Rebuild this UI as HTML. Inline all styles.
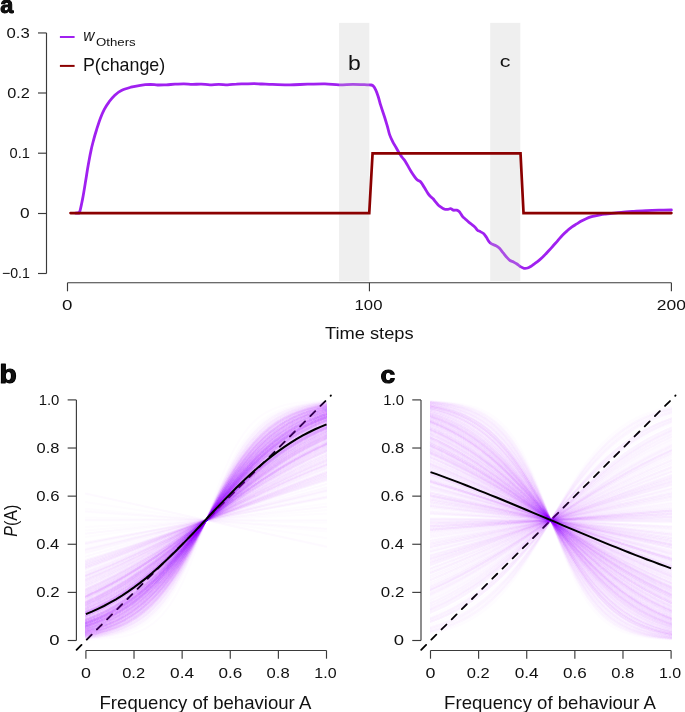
<!DOCTYPE html>
<html><head><meta charset="utf-8"><style>
html,body{margin:0;padding:0;background:#fff;overflow:hidden;}
svg{display:block;font-family:"Liberation Sans", sans-serif;}
text{fill:#111;}
</style></head><body>
<svg width="685" height="712" viewBox="0 0 685 712">
<path d="M75.5 213.1C75.9 213.1 77.3 213.1 78.0 212.9C78.7 212.7 79.0 214.1 79.7 211.8C80.5 209.6 81.5 204.3 82.5 199.4C83.5 194.5 84.5 188.1 85.4 182.4C86.4 176.7 87.2 170.7 88.2 165.3C89.2 159.9 90.1 154.5 91.1 150.1C92.0 145.7 93.0 142.3 93.9 138.8C94.8 135.3 95.6 132.8 96.7 129.3C97.8 125.8 99.2 121.2 100.5 117.9C101.8 114.6 102.9 112.1 104.3 109.4C105.7 106.7 107.3 104.2 109.1 101.8C110.8 99.4 112.8 97.1 114.8 95.2C116.8 93.3 118.7 91.7 121.4 90.4C124.1 89.1 127.7 88.1 130.9 87.2C134.1 86.3 137.1 85.8 140.4 85.3C143.7 84.8 147.7 84.5 150.5 84.4C153.3 84.4 154.9 84.9 157.5 85.0C160.1 85.1 163.4 84.9 166.3 84.8C169.2 84.7 172.1 84.3 175.0 84.2C177.9 84.1 180.9 83.9 183.8 83.9C186.7 83.9 189.7 84.4 192.6 84.4C195.5 84.4 198.4 84.0 201.3 84.1C204.2 84.2 207.1 84.8 210.0 84.8C212.9 84.8 215.9 84.4 218.8 84.4C221.7 84.4 224.7 84.8 227.6 84.8C230.5 84.8 233.5 84.2 236.4 84.1C239.3 83.9 242.2 84.0 245.1 83.9C248.0 83.8 251.1 83.6 253.9 83.6C256.7 83.6 258.9 83.9 262.0 84.0C265.1 84.1 267.8 84.3 272.5 84.4C277.2 84.5 284.1 84.8 290.0 84.8C295.9 84.8 301.8 84.3 307.6 84.2C313.4 84.1 319.8 83.8 325.0 83.9C330.2 84.0 334.3 84.7 339.0 84.8C343.7 84.9 348.3 84.4 353.0 84.4C357.7 84.4 364.0 84.7 367.0 84.8C370.0 84.9 370.1 84.8 371.2 85.0C372.3 85.2 372.7 85.4 373.5 86.2C374.3 87.0 375.0 88.4 375.8 90.1C376.6 91.8 377.3 93.8 378.1 96.2C378.9 98.6 379.7 102.1 380.5 104.7C381.3 107.3 382.0 109.4 382.8 111.7C383.6 114.0 384.3 116.2 385.1 118.7C385.9 121.2 386.6 123.7 387.4 126.4C388.2 129.1 388.8 132.3 389.7 134.9C390.6 137.5 391.8 139.8 392.8 141.9C393.8 144.0 394.9 145.5 395.9 147.3C396.9 149.1 398.0 151.0 399.0 152.7C400.0 154.4 401.1 155.9 402.1 157.3C403.1 158.7 404.2 159.6 405.2 161.2C406.2 162.8 407.3 164.8 408.3 166.6C409.3 168.4 410.4 170.3 411.4 172.0C412.4 173.7 413.5 175.2 414.5 176.6C415.5 178.0 416.6 179.4 417.6 180.2C418.6 181.0 419.6 180.9 420.4 181.6C421.2 182.3 421.8 183.4 422.6 184.6C423.4 185.8 424.4 187.5 425.3 189.0C426.2 190.5 427.0 192.2 427.9 193.4C428.8 194.7 429.6 195.6 430.5 196.5C431.4 197.4 432.2 197.9 433.1 198.8C434.0 199.8 434.9 201.1 435.8 202.2C436.7 203.3 437.5 204.4 438.4 205.2C439.3 206.0 440.0 206.5 441.0 207.2C442.0 207.9 443.3 208.8 444.5 209.2C445.7 209.5 447.0 209.4 448.0 209.3C449.0 209.2 449.8 208.5 450.7 208.7C451.6 208.8 452.3 209.9 453.3 210.2C454.3 210.4 455.8 209.9 456.8 210.2C457.8 210.5 458.7 211.1 459.4 211.8C460.1 212.5 460.6 213.6 461.2 214.4C461.8 215.2 462.2 216.1 462.9 216.9C463.6 217.7 464.5 218.3 465.5 219.2C466.5 220.1 467.8 221.3 469.0 222.3C470.2 223.3 471.6 224.2 472.6 225.1C473.6 225.9 474.4 226.5 475.2 227.4C476.0 228.3 476.8 229.6 477.6 230.3C478.5 231.0 479.3 231.0 480.3 231.6C481.3 232.2 482.8 232.9 483.8 233.8C484.8 234.8 485.5 236.0 486.4 237.3C487.3 238.6 488.1 240.6 489.0 241.7C489.9 242.8 490.4 243.2 491.6 243.9C492.8 244.6 494.7 245.0 496.0 245.7C497.3 246.4 498.3 247.1 499.5 248.3C500.7 249.5 501.8 251.2 503.0 252.7C504.2 254.1 505.3 255.7 506.5 257.0C507.7 258.3 508.8 259.7 510.0 260.5C511.2 261.3 512.3 261.3 513.5 261.9C514.7 262.5 515.8 263.2 517.0 264.0C518.2 264.8 519.3 266.0 520.5 266.7C521.7 267.4 522.8 268.1 524.0 268.3C525.2 268.5 526.4 268.4 527.6 268.0C528.8 267.6 529.9 266.9 531.1 266.2C532.3 265.5 533.3 264.6 534.7 263.6C536.1 262.6 537.8 261.4 539.3 260.1C540.8 258.8 542.4 257.4 544.0 255.8C545.6 254.2 547.1 252.5 548.7 250.8C550.3 249.1 551.9 247.2 553.4 245.5C554.9 243.8 556.5 242.1 558.0 240.3C559.5 238.6 561.1 236.6 562.7 235.0C564.3 233.4 565.9 231.9 567.4 230.6C568.9 229.2 570.5 228.0 572.0 226.9C573.5 225.8 575.1 224.9 576.7 223.9C578.3 222.9 579.8 221.9 581.4 221.0C583.0 220.1 584.5 219.4 586.1 218.7C587.7 218.0 589.2 217.4 590.7 216.9C592.2 216.4 593.8 216.1 595.4 215.8C597.0 215.5 598.5 215.2 600.1 214.9C601.7 214.6 603.1 214.4 604.7 214.2C606.4 214.0 607.2 213.9 610.0 213.6C612.8 213.3 617.3 212.7 621.3 212.3C625.3 211.9 629.8 211.6 634.0 211.3C638.2 211.0 642.5 210.8 646.7 210.6C650.9 210.4 654.9 210.3 659.0 210.2C663.1 210.1 669.3 210.0 671.4 210.0" stroke="#A020F0" stroke-width="2.8" fill="none" stroke-linejoin="round" stroke-linecap="round"/>
<rect x="339.1" y="22.9" width="30.2" height="258.3" fill="#c4c4c4" fill-opacity="0.28"/>
<rect x="490.2" y="22.9" width="30.1" height="258.3" fill="#c4c4c4" fill-opacity="0.28"/>
<path d="M70.52 213.1 L369.25 213.1 L372.57 153.4 L520.52 153.4 L523.54 213.1 L671.4 213.1" stroke="#8B0000" stroke-width="2.7" fill="none" stroke-linejoin="miter" stroke-linecap="round"/>
<path d="M46.5 32.95V273.5" stroke="#3a3a3a" stroke-width="1.15" fill="none"/>
<path d="M38 32.95H46.5" stroke="#3a3a3a" stroke-width="1.15"/>
<path d="M38 93.0H46.5" stroke="#3a3a3a" stroke-width="1.15"/>
<path d="M38 153.2H46.5" stroke="#3a3a3a" stroke-width="1.15"/>
<path d="M38 213.5H46.5" stroke="#3a3a3a" stroke-width="1.15"/>
<path d="M38 273.5H46.5" stroke="#3a3a3a" stroke-width="1.15"/>
<path d="M67.5 282.75H671.4" stroke="#3a3a3a" stroke-width="1.15" fill="none"/>
<path d="M67.5 282.75V291.3" stroke="#3a3a3a" stroke-width="1.15"/>
<path d="M369.45 282.75V291.3" stroke="#3a3a3a" stroke-width="1.15"/>
<path d="M671.4 282.75V291.3" stroke="#3a3a3a" stroke-width="1.15"/>
<path d="M59.9 37H74.6" stroke="#A020F0" stroke-width="2"/>
<path d="M59.9 65.9H74.6" stroke="#8B0000" stroke-width="2"/>
<path d="M76.4 399.9V640.5" stroke="#3a3a3a" stroke-width="1.15" fill="none"/>
<path d="M67.65 640.5H76.4" stroke="#3a3a3a" stroke-width="1.15"/>
<path d="M67.65 592.38H76.4" stroke="#3a3a3a" stroke-width="1.15"/>
<path d="M67.65 544.26H76.4" stroke="#3a3a3a" stroke-width="1.15"/>
<path d="M67.65 496.14H76.4" stroke="#3a3a3a" stroke-width="1.15"/>
<path d="M67.65 448.02H76.4" stroke="#3a3a3a" stroke-width="1.15"/>
<path d="M67.65 399.9H76.4" stroke="#3a3a3a" stroke-width="1.15"/>
<path d="M85.9 650.5H326.5" stroke="#3a3a3a" stroke-width="1.15" fill="none"/>
<path d="M85.9 650.5V658.7" stroke="#3a3a3a" stroke-width="1.15"/>
<path d="M134.02 650.5V658.7" stroke="#3a3a3a" stroke-width="1.15"/>
<path d="M182.14 650.5V658.7" stroke="#3a3a3a" stroke-width="1.15"/>
<path d="M230.26 650.5V658.7" stroke="#3a3a3a" stroke-width="1.15"/>
<path d="M278.38 650.5V658.7" stroke="#3a3a3a" stroke-width="1.15"/>
<path d="M326.5 650.5V658.7" stroke="#3a3a3a" stroke-width="1.15"/>
<path d="M76.59 649.81L330.9 395.5" stroke="#000" stroke-width="1.8" stroke-dasharray="6.96 7.41" stroke-linecap="round" fill="none"/>
<clipPath id="clip1"><rect x="85" y="300" width="242.4" height="400"/></clipPath>
<g clip-path="url(#clip1)" fill="none">
<g stroke="#A020F0" stroke-opacity="0.017" stroke-width="2.0">
<path d="M85 617.6l7.7-3.2 7.3-3.3 7.3-3.6 7.2-4.1 7.3-4.4 6.9-4.6 6.9-5 6.9-5.3 7.3-6 7.6-6.9 7.7-7.2 7.7-7.7 15.8-16.6 31.2-34.6 13.3-14.3 14.6-14.8 13.3-12.3 8.1-6.8 8.1-6.2 8.1-5.8 8.1-5.2 8.1-4.8 8.5-4.4 8.5-4 8.9-3.7"/>
<path d="M85 634l9.7-2.1 9.3-2.6 8.5-3 8.1-3.5 7.7-4.1 7.3-4.7 6.9-5.2 6.8-6 6.9-7 6.9-7.8 6.9-8.9 6.9-9.7 6.8-10.6 7.3-12 27.1-47.6 11.8-19.5 6.4-9.9 6.5-9.1 6.1-7.8 6.1-7 7.6-7.9 8.1-7.1 8.1-5.9 8.5-5.1 8.9-4.3 9.7-3.8 10.2-2.9 11.3-2.5"/>
<path d="M85 633.1l11.3-2.7 10.2-3.2 9.3-3.7 8.9-4.5 8.5-5.2 8.1-6 8-7.1 7.7-7.8 6.1-7 6.5-8.1 6.5-8.9 6.4-9.6 11.8-18.9 27.5-46.4 7.3-11.6 6.8-10.3 7.3-10 6.9-8.6 6.9-7.7 6.9-6.9 6.8-5.9 6.9-5.2 7.3-4.8 7.7-4.2 7.7-3.4 8.5-3.2 8.9-2.6 9.7-2.3"/>
<path d="M85 604.2l14.2-6.7 13.7-7.3 13.8-8.3 13.7-9.1 15-10.9 15.8-12.3 16.6-13.7 46.5-39.5 15-12 13.8-10.5 8.4-6 8.1-5.5 8.1-5.2 7.7-4.6 7.7-4.4 8.1-4.3 8.1-4 8.1-3.7"/>
<path d="M85 610l7.3-3.2 6.9-3.3 7.3-3.8 6.8-3.8 13.8-8.5 14.2-10 14.5-11.4 15.8-13.5 16.6-15.2 32-30.4 13.7-12.8 14.6-13 13.7-11.3 8.1-6.2 8.1-5.9 8.1-5.5 8.1-5 8.1-4.7 8.1-4.4 8.1-3.9 8.5-3.8"/>
<path d="M85 603.7l8.1-3.7 8.1-4 8.1-4.3 7.7-4.4 7.7-4.6 8.1-5.2 16.5-11.4 13.8-10.4 15-11.9 46.5-39.2 16.6-13.5 15.8-12.3 15-10.8 14.1-9.3 13.8-8.2 13.7-7.3 13.8-6.5"/>
<path d="M85 626.6l9.7-3.3 9.3-3.7 8.9-4.3 8.5-4.7 8.5-5.5 8.1-6 8.1-6.8 7.7-7.2 6.5-6.6 6.4-7.1 6.9-8.1 6.9-8.5 13-17.1 29.5-40.5 7.7-10 7.3-9.1 7.7-9.1 7.2-7.9 7.3-7.4 6.9-6.3 6.9-5.7 6.9-5.2 7.2-4.9 7.3-4.4 7.7-4 7.7-3.4 8.1-3.2 8.5-2.8"/>
<path d="M85 615.7l8.5-3.6 8.5-4 8.5-4.5 8.1-4.8 8.1-5.2 8.1-5.7 8.1-6.1 8.1-6.7 13.3-11.9 14.6-14.2 13.3-13.9 31.6-33.6 16.2-16.5 8.1-7.8 7.7-7 7.3-6.3 7.2-5.9 6.9-5.2 6.9-4.9 6.9-4.6 7.3-4.4 6.8-3.8 7.3-3.8 7.3-3.4 7.7-3.2"/>
<path d="M85 628.7l8.9-2.6 8.1-3 8.1-3.5 7.7-3.8 7.3-4.3 7.3-4.9 6.8-5.2 6.9-5.8 6.9-6.5 7.3-7.6 7.3-8.3 7.2-8.9 7.3-9.6 7.7-10.7 29.1-42.4 12.6-17.5 6.9-9 6.4-7.9 6.5-7.4 6.5-6.9 7.7-7.4 8.1-6.8 8.1-6.1 8.5-5.4 8.9-4.9 8.9-4 9.3-3.5 10.1-3.1"/>
<path d="M85 546.7l51.4-11.1 130.3-28.8 60.7-13.1"/>
<path d="M85 635.2l10.5-2 9.3-2.4 8.5-2.8 8.1-3.3 7.7-4 7.3-4.5 6.9-5.1 6.9-6.1 6.8-7 6.9-8.1 6.9-9.1 6.9-10.2 6.4-10.4 7.3-12.7 26.3-48.8 11.4-19.8 6.4-10.4 6.1-8.9 6.1-8.1 6-7.3 7.7-8 7.7-6.9 8.1-5.9 4.5-2.8 4.4-2.5 4.5-2.2 4.8-2.1 9.7-3.5 10.6-2.8 11.7-2.3"/>
<path d="M85 614.8l7.7-3.3 7.3-3.4 7.3-3.7 6.8-3.9 7.3-4.4 6.9-4.5 6.9-4.9 6.9-5.2 7.2-5.9 7.3-6.2 7.7-6.9 8.1-7.7 15.8-15.8 32-33.4 13.3-13.7 14.6-14 13.3-11.8 8.1-6.6 8.1-6.1 8.1-5.7 8.1-5.2 8.1-4.7 8.5-4.5 8.5-4.1 8.5-3.6"/>
<path d="M85 628l8.9-2.8 8.1-3 7.7-3.4 7.7-3.9 7.3-4.3 7.2-4.9 6.9-5.2 6.9-5.8 6.9-6.4 7.3-7.5 7.3-8.1 7.6-9.3 7.3-9.5 7.7-10.4 29.1-41.5 12.6-17.1 6.9-8.9 6.4-7.8 6.5-7.3 6.5-6.8 7.7-7.3 8.1-6.9 8.1-6.1 8.5-5.5 8.9-4.9 8.9-4.2 9.3-3.6 10.1-3.2"/>
<path d="M85 613.9l7.7-3.3 7.3-3.4 7.3-3.8 6.8-3.9 7.3-4.4 6.9-4.5 6.9-4.9 6.9-5.1 7.2-5.8 7.3-6.2 7.7-6.8 8.1-7.6 15.8-15.5 32-32.9 13.3-13.4 14.6-13.8 13.3-11.6 8.1-6.6 8.1-6 8.1-5.7 8.1-5.2 8.1-4.7 8.5-4.6 8.5-4.1 8.5-3.6"/>
<path d="M85 607.9l14.2-6.6 13.7-7.4 13.8-8.4 14.2-9.7 14.9-11.4 15.8-13.1 16.2-14.3 32.8-30 13.7-12.3 14.6-12.4 13.7-11 8.1-6.1 8.1-5.7 8.1-5.4 8.1-5 8.1-4.7 8.1-4.3 8.1-4 8.1-3.6"/>
<path d="M85 625.1l8.1-2.8 8.1-3.2 7.7-3.6 7.7-4.1 7.3-4.4 7.2-4.9 6.9-5.2 6.9-5.7 6.9-6.2 7.3-7.2 7.2-7.7 7.7-8.8 7.3-8.8 8.1-10.2 30-39.5 12.5-15.9 7.3-8.8 6.9-7.8 6.4-6.9 6.5-6.5 8.1-7.4 8.1-6.7 8.1-5.9 8.1-5.3 8.5-4.8 8.9-4.4 8.9-3.7 9.7-3.4"/>
<path d="M85 629.6l10.1-3 9.7-3.6 9.3-4.1 8.5-4.6 8.5-5.5 8.1-6 8.1-6.9 7.7-7.5 6.5-6.9 6.5-7.6 6.4-8.1 6.9-9.1 12.6-18 28.7-42.9 7.7-10.9 6.9-9.3 7.2-9.1 7.3-8.5 6.9-7.3 7.3-6.9 6.9-5.9 6.8-5.2 7.3-4.9 7.3-4.2 7.7-3.8 8.1-3.4 8.5-3 8.9-2.6"/>
<path d="M85 612.4l8.5-3.7 8.5-4.2 8.1-4.3 8.1-4.7 8.1-5.2 8.1-5.6 8.1-5.9 8.1-6.4 13.3-11.4 14.6-13.5 13.7-13.3 32-31.9 16.2-15.5 15.8-14 7.3-6.1 7.2-5.7 7.3-5.3 6.9-4.8 6.9-4.5 6.9-4.1 6.8-3.9 7.3-3.8 7.3-3.4 7.3-3.2"/>
<path d="M85 613.5l7.3-3.1 7.3-3.4 7.3-3.8 6.8-3.8 7.3-4.4 6.9-4.5 6.9-4.8 6.9-5.2 7.2-5.8 7.3-6.1 7.7-6.8 8.1-7.4 16.2-15.8 32-32.7 13.3-13.3 14.6-13.7 13.7-11.9 8.1-6.5 8.1-6 8.1-5.7 8.1-5.1 8.1-4.8 8.1-4.3 8.5-4.1 8.5-3.6"/>
<path d="M85 628l10.1-3.2 9.3-3.6 8.9-4.1 8.9-4.9 8.5-5.5 8.1-6.1 8.1-6.9 7.7-7.3 6.5-6.8 6.5-7.3 6.4-7.9 6.9-8.8 12.6-17.2 29.1-41.5 7.7-10.5 7.3-9.4 7.6-9.4 7.3-8.1 7.3-7.5 6.9-6.4 6.9-5.8 6.9-5.2 7.2-4.9 7.3-4.3 7.7-3.9 7.7-3.3 8.1-3.1 8.9-2.7"/>
<path d="M85 592.3l13.4-6.2 13.3-6.7 13.4-7.2 13.7-7.9 15-9.2 16.2-10.4 17-11.4 48.1-32.8 15.4-10.1 13.8-8.7 16.6-9.9 15.7-8.7 15.4-7.8 15.4-7.2"/>
<path d="M85 564.2l25.1-8.5 27.1-9.6 31.6-11.7 67.5-25.6 30-11.2 32-11.5 29.1-9.9"/>
<path d="M85 624.1l8.1-2.9 8.1-3.3 7.7-3.7 7.3-3.9 7.3-4.4 6.8-4.6 7.3-5.4 6.9-5.7 7.3-6.5 7.3-7.1 7.2-7.7 7.7-8.6 7.3-8.6 8.1-9.9 30-38.5 12.9-16.1 7.3-8.5 6.9-7.7 6.4-6.8 6.5-6.3 8.1-7.4 8.1-6.6 8.1-5.9 8.1-5.3 8.5-4.9 8.5-4.2 8.9-3.8 9.7-3.5"/>
<path d="M85 599.2l13.8-6.5 13.3-6.9 13.8-8 13.7-8.6 15-10.1 16.2-11.7 16.6-12.6 47.3-36.6 15.4-11.4 13.8-9.7 16.1-10.6 15.8-9.4 15.8-8.4 15.8-7.5"/>
<path d="M85 542.7l242.4-45"/>
<path d="M85 594.3l13.4-6.2 13.3-6.8 13.8-7.5 13.7-8.2 15-9.4 16.2-10.8 17-11.8 47.7-33.8 15.4-10.5 13.8-9 16.2-9.9 15.7-8.9 15.8-8.2 15.4-7.2"/>
<path d="M85 605.4l8.1-3.6 8.1-4 8.1-4.3 7.7-4.4 8.1-5 8.1-5.2 8.1-5.6 8-5.9 13.8-10.6 15-12.3 13.7-11.7 32.8-28.7 16.6-14 15.8-12.5 15-11.1 13.7-9.2 13.8-8.3 13.7-7.4 14.2-6.6"/>
<path d="M85 579.2l13-5.3 12.9-5.7 27.1-12.7 31.6-15.9 66.3-35.2 29.6-15.1 16.2-7.9 15.7-7.4 15-6.6 15-6.2"/>
<path d="M85 565.3l25.1-8.7 27.1-9.9 31.6-11.9 67.5-26.4 30-11.4 32-11.8 29.1-10.1"/>
<path d="M85 617.6l7.7-3.1 7.3-3.3 7.3-3.7 7.2-4 7.3-4.5 6.9-4.6 6.9-4.9 7.3-5.7 7.3-6 7.2-6.5 7.7-7.3 7.7-7.6 15.8-16.7 31.2-34.6 13.3-14.4 14.6-14.7 13.3-12.3 8.1-6.8 8.1-6.3 8.1-5.8 8.1-5.2 8.1-4.7 8.5-4.5 8.5-4 8.9-3.6"/>
<path d="M85 630.3l10.5-3 9.7-3.4 9.3-4.2 8.5-4.5 8.5-5.4 8.1-6 8.1-7 7.7-7.5 6.5-7.1 6.5-7.6 6.4-8.3 6.9-9.4 12.2-17.7 28.3-43.4 7.7-11.2 6.9-9.4 7.2-9.4 7.3-8.5 6.9-7.4 7.3-7 6.9-5.9 7.2-5.5 7.3-4.8 7.3-4.2 7.7-3.7 8.1-3.3 8.5-2.9 8.9-2.5"/>
<path d="M85 611.6l8.5-3.7 8.5-4.1 8.1-4.4 8.1-4.7 8.1-5.1 8.1-5.6 8.1-6 8.1-6.3 13.3-11.3 14.6-13.2 13.7-13.3 32-31.4 16.2-15.3 15.8-13.8 14.5-11.7 7.3-5.3 6.9-4.7 6.9-4.5 6.9-4.1 6.8-3.9 7.3-3.8 7.3-3.5 7.3-3.1"/>
<path d="M85 596.8l13.4-6.3 13.3-6.9 13.8-7.7 13.7-8.4 15-9.8 16.2-11.2 17-12.3 47.7-35.4 15-10.6 13.8-9.3 16.6-10.5 15.7-9.2 15.8-8.3 15.4-7.3"/>
<path d="M85 623.9l8.1-2.9 8.1-3.3 7.7-3.7 7.3-3.9 7.3-4.4 6.8-4.6 7.3-5.4 6.9-5.7 7.3-6.5 7.3-7.1 7.2-7.6 7.7-8.6 7.3-8.6 8.1-9.9 30-38.4 12.9-16 7.3-8.5 6.9-7.6 6.4-6.8 6.5-6.3 8.1-7.4 8.1-6.6 8.1-5.9 8.1-5.3 8.5-4.9 8.5-4.2 9.3-4 9.3-3.3"/>
<path d="M85 628.4l10.1-3.1 9.3-3.6 8.9-4.1 8.9-4.9 8.5-5.5 8.1-6 8.1-6.9 7.7-7.3 6.5-6.9 6.5-7.3 6.4-7.9 6.9-8.9 12.6-17.4 29.1-42 7.7-10.6 7.3-9.5 7.2-8.9 7.3-8.2 7.3-7.6 6.9-6.4 6.9-5.9 6.8-5.2 7.3-4.9 7.3-4.3 7.7-3.9 8.1-3.5 8.1-3 8.9-2.7"/>
<path d="M85 610l8.5-3.8 8.1-4 8.1-4.3 8.1-4.7 8.1-5.1 8.1-5.5 8.1-5.8 8.1-6.2 13.7-11.4 14.6-12.9 13.7-12.8 32-30.4 16.6-15.2 15.8-13.5 14.5-11.4 14.2-9.9 13.8-8.5 6.8-3.9 7.3-3.8 6.9-3.3 7.3-3.2"/>
<path d="M85 626.2l9.7-3.2 9.3-3.8 8.9-4.3 8.5-4.8 8.5-5.5 8.1-6 8.1-6.8 7.7-7.2 6.5-6.6 6.4-7 6.9-8 6.9-8.5 12.5-16.4 30-40.7 7.7-9.9 7.3-9.1 7.7-9 7.2-7.9 7.3-7.3 6.9-6.3 6.9-5.7 6.9-5.2 7.2-5 7.3-4.3 7.7-4 7.7-3.5 8.1-3.2 8.5-2.8"/>
<path d="M85 631.7l10.5-2.8 10.1-3.4 9.4-3.9 8.9-4.7 8.5-5.3 8-6 8.1-7.1 7.7-7.6 6.1-6.8 6.5-7.9 6.4-8.5 6.9-9.8 12.2-18.5 27.5-44.1 7.7-11.6 6.8-9.9 7.3-9.6 6.9-8.4 6.9-7.5 7.3-7.2 6.8-5.9 6.9-5.3 7.3-4.7 7.7-4.4 7.7-3.6 8.5-3.3 8.5-2.8 9.3-2.4"/>
<path d="M85 612.3l7.3-3.2 7.3-3.4 7.3-3.8 6.8-3.9 6.9-4.1 6.9-4.5 6.9-4.8 7.3-5.3 7.2-5.7 7.3-6 15.8-14 16.2-15.5 32-31.8 13.7-13.4 14.6-13.4 13.3-11.4 8.1-6.4 8.1-5.9 8.1-5.6 8.1-5.2 8.1-4.7 8.1-4.3 8.5-4.2 8.5-3.7"/>
<path d="M85 594.3l13.4-6.2 13.3-6.8 13.8-7.5 13.7-8.2 15-9.4 16.2-10.8 17-11.8 47.7-33.8 15.4-10.5 13.8-9 16.2-9.9 15.7-9 15.8-8.1 15.4-7.2"/>
<path d="M85 623.3l9.3-3.4 9.3-4 8.5-4.3 8.5-4.9 8.1-5.3 8.1-5.9 8.1-6.6 8.1-7.3 6.5-6.3 6.4-6.7 6.9-7.6 7.3-8.4 12.9-15.8 30.4-38.3 8.1-9.8 7.3-8.4 7.7-8.5 7.2-7.5 7.3-7 7.3-6.5 6.9-5.6 7.3-5.4 6.9-4.6 7.2-4.4 7.3-3.9 7.7-3.7 7.7-3.2 8.1-2.9"/>
<path d="M85 621.7l8.1-3.1 7.7-3.3 7.3-3.6 7.3-3.9 7.2-4.5 6.9-4.6 7.3-5.3 6.9-5.6 7.3-6.3 7.2-6.9 7.7-7.7 7.7-8.2 15.4-17.7 30.8-37.3 12.9-15.2 7.3-8.1 6.9-7.3 6.4-6.5 6.5-6.2 8.1-7.1 8.1-6.6 8.1-5.9 8.1-5.3 8.5-4.9 8.5-4.3 8.9-4 9.3-3.6"/>
<path d="M85 632.1l10.5-2.6 10.1-3.4 9.4-3.8 8.9-4.6 8.5-5.3 8-5.9 8.1-7.1 7.7-7.6 6.1-6.8 6.5-8 6.4-8.6 6.9-9.9 12.2-18.8 27.5-44.8 7.7-11.8 6.8-10 7.3-9.7 6.9-8.4 6.9-7.6 6.9-6.8 6.8-6 6.9-5.2 7.3-4.8 7.7-4.3 7.7-3.6 8.5-3.3 8.9-2.8 9.3-2.3"/>
<path d="M85 575.2l25.5-10.4 27.1-11.9 31.6-14.7 66.7-32.5 29.6-14 16.6-7.5 15.3-6.7 15-6.3 15-6"/>
<path d="M85 599.5l15.8-7.5 15.8-8.5 15.8-9.4 16.1-10.6 13.8-9.7 15.4-11.4 47.3-36.9 16.6-12.6 16.2-11.8 15-10.1 13.7-8.7 13.8-7.9 13.3-7 13.8-6.5"/>
<path d="M85 593.4l15.4-7.1 15.4-7.9 15.7-8.9 16.6-10 13.8-8.9 15.4-10.3 47.7-33.3 17-11.6 16.2-10.6 15-9.3 13.7-8.1 13.8-7.5 13.3-6.8 13.4-6.1"/>
<path d="M85 552.9l51.8-13.7 129.9-35.6 60.7-16.1"/>
<path d="M85 619.4l7.7-3 7.7-3.4 7.3-3.7 7.3-4 7.2-4.4 6.9-4.6 7.3-5.3 6.9-5.5 7.3-6.2 7.2-6.6 7.7-7.5 7.7-7.9 15.4-16.8 31.2-36 13.3-14.9 14.2-14.8 6.9-6.7 6.4-5.9 8.1-7 8.1-6.4 8.1-5.8 8.1-5.3 8.1-4.7 8.5-4.4 8.9-4.1 8.9-3.5"/>
<path d="M85 626l8.1-2.7 8.1-3.2 7.7-3.5 7.7-4 7.3-4.3 7.2-4.9 6.9-5.2 6.9-5.7 7.3-6.6 7.3-7.3 7.2-7.9 7.7-9 7.3-8.9 7.7-10 30-40.4 12.5-16.3 6.9-8.4 6.9-8 6.4-7 6.5-6.6 8.1-7.5 8.1-6.8 8.1-5.9 8.1-5.3 8.5-4.8 8.9-4.3 9.3-3.8 9.7-3.3"/>
<path d="M85 596.9l13.8-6.4 13.3-6.9 13.8-7.8 13.7-8.4 15-9.8 15.8-11 17-12.4 47.7-35.4 15-10.7 13.8-9.3 16.6-10.6 15.7-9.2 15.8-8.3 15.4-7.2"/>
<path d="M85 634.2l11.3-2.5 10.6-3 9.7-3.8 8.9-4.3 8.5-5.1 8.1-6 8.1-7.1 7.6-7.9 6.1-7.2 6.1-7.8 6.5-9.2 6.4-10 11.8-19.6 26.7-47.2 7.3-12.1 6.4-10.1 7.3-10.4 6.9-8.8 6.9-7.9 6.9-7 6.8-6 6.9-5.2 7.3-4.6 7.7-4.1 8.1-3.5 8.5-3 9.3-2.5 9.7-2.1"/>
<path d="M85 629.6l10.1-3 9.7-3.6 9.3-4.2 8.5-4.6 8.5-5.4 8.1-6 8.1-7 7.7-7.4 6.5-6.9 6.5-7.6 6.4-8.1 6.9-9.2 12.6-17.9 28.7-42.9 7.7-10.9 6.9-9.2 7.2-9.2 7.3-8.5 6.9-7.2 7.3-7 6.9-5.8 6.8-5.3 7.3-4.8 7.3-4.2 7.7-3.9 8.1-3.4 8.5-3 8.9-2.6"/>
<path d="M85 627.3l10.1-3.3 9.3-3.7 8.9-4.2 8.5-4.7 8.5-5.5 8.1-6.1 8.1-6.8 7.7-7.3 6.5-6.7 6.5-7.2 6.8-8.2 6.9-8.7 12.6-16.8 29.1-40.8 7.7-10.3 7.3-9.2 7.6-9.2 7.3-8.1 7.3-7.4 6.9-6.4 6.9-5.8 6.9-5.2 7.2-4.9 7.3-4.4 7.7-3.9 7.7-3.5 8.1-3.1 8.9-2.8"/>
<path d="M85 624.2l8.1-2.9 8.1-3.3 7.7-3.6 7.3-3.9 7.3-4.4 6.8-4.7 7.3-5.4 6.9-5.6 7.3-6.6 7.3-7.1 7.2-7.6 7.7-8.7 7.3-8.6 8.1-10 30-38.6 12.9-16.1 7.3-8.5 6.9-7.7 6.4-6.8 6.5-6.4 8.1-7.3 8.1-6.6 8.1-6 8.1-5.2 8.5-4.9 8.5-4.2 8.9-3.8 9.7-3.5"/>
<path d="M85 630.9l10.5-2.9 9.7-3.4 9.3-4 9-4.7 8.4-5.4 8.1-6.1 8.1-7 7.7-7.6 6.1-6.6 6.5-7.8 6.4-8.3 6.9-9.5 12.2-18.1 28.3-44.2 7.7-11.3 6.9-9.6 7.2-9.4 6.9-8.2 6.9-7.5 7.3-7.1 6.9-5.9 7.2-5.5 7.3-4.8 7.3-4.1 7.7-3.7 8.1-3.3 8.5-2.9 9.3-2.5"/>
<path d="M85 573l25.5-10 27.1-11.5 31.6-14.1 67.1-31.2 29.6-13.4 32-13.7 14.9-6.1 14.6-5.6"/>
<path d="M85 627.2l10.1-3.4 9.3-3.7 8.9-4.2 8.5-4.8 8.5-5.5 8.1-6 8.1-6.8 7.7-7.3 6.5-6.7 6.5-7.2 6.8-8.2 6.9-8.6 12.6-16.8 29.1-40.6 7.7-10.2 7.3-9.2 7.6-9.2 7.3-8.1 7.3-7.4 6.9-6.4 6.9-5.8 6.9-5.2 7.2-4.9 7.3-4.3 7.7-4 7.7-3.5 8.1-3.1 8.9-2.9"/>
<path d="M85 627l8.5-2.7 8.1-3.1 7.7-3.5 7.7-3.9 7.3-4.4 7.2-4.8 6.9-5.2 6.9-5.8 6.9-6.3 7.3-7.4 7.2-8 7.7-9.1 7.3-9.2 7.7-10.2 29.5-40.9 12.6-16.8 6.9-8.6 6.8-8.1 6.5-7.2 6.5-6.7 7.7-7.2 8.1-6.9 8.1-6 8.5-5.5 8.5-4.8 8.9-4.3 9.3-3.7 10.1-3.3"/>
<path d="M85 551l60.7-15.1 129.9-33.6 51.8-12.9"/>
<path d="M85 623.3l8.1-2.9 7.7-3.2 7.7-3.7 7.3-3.9 7.2-4.4 6.9-4.6 7.3-5.4 6.9-5.6 7.3-6.5 7.3-7 7.2-7.5 7.7-8.5 7.3-8.4 8.1-9.8 30.4-38.3 12.9-15.8 7.3-8.4 6.9-7.6 6.4-6.7 6.5-6.3 8.1-7.3 8.1-6.6 8.1-5.9 8.1-5.3 8.5-4.9 8.5-4.3 9.3-4 9.3-3.4"/>
<path d="M85 611.2l8.5-3.7 8.1-4 8.1-4.3 8.1-4.7 8.1-5.1 8.1-5.5 8.1-6 8.1-6.3 13.7-11.5 14.6-13.2 13.7-13.1 32-31.1 16.6-15.6 15.8-13.7 14.5-11.6 7.3-5.3 6.9-4.7 6.9-4.4 6.9-4.1 6.8-3.9 7.3-3.7 6.9-3.3 7.3-3.2"/>
<path d="M85 629.1l10.1-3 9.7-3.6 8.9-4.1 8.9-4.8 8.5-5.5 8.1-6 8.1-7 7.7-7.4 6.5-6.9 6.5-7.5 6.4-8 6.9-9.1 12.2-17.2 29.1-42.9 7.7-10.8 6.9-9.1 7.2-9.1 7.3-8.4 7.3-7.6 6.9-6.6 6.9-5.8 7.2-5.5 7.3-4.9 7.3-4.2 7.7-3.9 8.1-3.4 8.1-2.9 8.9-2.6"/>
<path d="M85 606.3l14.2-6.7 13.7-7.4 13.8-8.3 13.7-9.3 15-11.2 15.8-12.7 16.6-14.2 32.8-29.1 13.7-11.9 14.6-12.1 13.7-10.8 8.1-5.9 8.1-5.6 8.1-5.4 8.1-4.9 8.1-4.7 8.1-4.3 8.1-4 8.1-3.7"/>
<path d="M85 616.5l7.7-3.2 7.3-3.4 7.3-3.7 7.2-4 7.3-4.5 6.9-4.6 6.9-4.9 6.9-5.3 7.3-6 7.2-6.3 7.7-7.2 7.7-7.4 16.2-16.8 31.2-33.7 13.3-14.1 14.6-14.4 13.3-12.1 8.1-6.8 8.1-6.2 8.1-5.7 8.1-5.3 8.1-4.7 8.5-4.5 8.5-4 8.9-3.8"/>
<path d="M85 623.3l9.3-3.5 9.3-4 8.5-4.3 8.5-4.9 8.1-5.3 8.1-5.9 8.1-6.6 8.1-7.3 6.5-6.3 6.4-6.7 6.9-7.5 7.3-8.4 12.9-15.8 30.4-38.2 8.1-9.8 7.3-8.5 7.7-8.4 7.2-7.5 7.3-7 7.3-6.5 6.9-5.6 7.3-5.4 6.9-4.6 7.2-4.4 7.3-3.9 7.7-3.7 7.7-3.2 8.1-3"/>
<path d="M85 592l15.4-7.1 15.4-7.8 15.7-8.7 16.6-9.9 13.8-8.6 15.4-10.1 48.1-32.7 17-11.3 16.2-10.4 15-9.1 13.7-8 13.4-7.1 13.3-6.7 13.4-6.1"/>
<path d="M85 627l10.1-3.4 9.3-3.7 8.9-4.3 8.5-4.7 8.5-5.6 8.1-6 8.1-6.8 7.7-7.3 6.5-6.7 6.5-7.1 6.8-8.2 6.9-8.6 12.6-16.7 29.5-40.9 7.7-10.2 7.3-9.1 7.7-9.1 7.2-8 7.3-7.4 6.9-6.3 6.9-5.8 6.9-5.2 7.2-4.9 7.3-4.3 7.7-4 7.7-3.4 8.1-3.1 8.5-2.8"/>
<path d="M85 614.6l8.5-3.6 8.5-4.1 8.5-4.5 8.1-4.7 8.1-5.2 8.1-5.7 8.1-6.1 8.1-6.6 13.3-11.8 14.6-13.9 13.3-13.6 32-33.4 15.8-15.7 8.1-7.6 7.7-6.9 7.3-6.2 7.2-5.9 6.9-5.2 6.9-4.9 6.9-4.5 7.3-4.4 6.8-3.9 7.3-3.7 7.3-3.5 7.7-3.2"/>
<path d="M85 625.5l8.1-2.7 8.1-3.2 7.7-3.6 7.7-4 7.3-4.4 7.2-4.9 6.9-5.2 6.9-5.7 7.3-6.6 7.3-7.3 7.2-7.8 7.7-8.9 7.3-8.8 7.7-9.9 30-39.9 12.5-16.1 6.9-8.3 6.9-7.9 6.4-7 6.5-6.5 8.1-7.5 8.1-6.8 8.1-5.9 8.1-5.3 8.5-4.9 8.9-4.3 9.3-3.9 9.7-3.3"/>
<path d="M85 603.9l13.8-6.5 13.7-7.3 13.8-8.2 14.1-9.4 15-10.8 15.8-12.3 16.6-13.6 46.5-39.3 15-11.9 13.8-10.4 16.5-11.5 8.1-5.2 7.7-4.6 7.7-4.4 8.1-4.3 8.1-4 8.1-3.7"/>
<path d="M85 632l10.5-2.7 10.1-3.3 9.4-3.9 8.9-4.6 8.5-5.2 8-6 8.1-7.1 7.7-7.6 6.1-6.8 6.5-8 6.4-8.6 6.9-9.8 12.2-18.8 27.5-44.6 7.7-11.8 6.8-9.9 7.3-9.7 6.9-8.4 6.9-7.6 7.3-7.2 6.8-5.9 6.9-5.2 7.3-4.8 7.7-4.3 7.7-3.5 8.5-3.3 8.5-2.7 9.3-2.3"/>
<path d="M85 627l10.1-3.3 9.3-3.7 8.9-4.3 8.5-4.7 8.5-5.5 8.1-6.1 8.1-6.8 7.7-7.3 6.5-6.6 6.5-7.2 6.8-8.2 6.9-8.6 12.6-16.8 29.5-41 7.7-10.1 7.3-9.2 7.7-9.1 7.2-8.1 7.3-7.3 6.9-6.4 6.9-5.7 6.9-5.2 7.2-4.9 7.3-4.3 7.7-4 7.7-3.4 8.1-3.1 8.5-2.7"/>
<path d="M85 613l8.5-3.7 8.5-4.1 8.1-4.4 8.1-4.7 8.1-5.2 8.1-5.6 8.1-6 8.1-6.4 13.3-11.5 14.6-13.6 13.7-13.5 32-32.2 16.2-15.7 15.8-14.1 7.3-6.1 7.2-5.7 6.9-5.1 6.9-4.8 6.9-4.5 7.3-4.5 6.8-3.8 7.3-3.8 7.3-3.4 7.3-3.2"/>
<path d="M85 627.4l10.1-3.3 9.3-3.7 8.9-4.2 8.5-4.7 8.5-5.5 8.1-6.1 8.1-6.8 7.7-7.3 6.5-6.7 6.5-7.2 6.8-8.2 6.9-8.7 12.6-16.9 29.1-40.8 7.7-10.3 7.3-9.3 7.6-9.2 7.3-8.1 7.3-7.4 6.9-6.4 6.9-5.8 6.9-5.2 7.2-4.9 7.3-4.3 7.7-4 7.7-3.4 8.1-3.1 8.9-2.9"/>
<path d="M85 633.3l11.3-2.6 10.2-3.1 9.3-3.7 8.9-4.4 8.5-5.2 8.1-6 8-7.1 7.7-7.8 6.1-6.9 6.5-8.2 6.5-9 6.4-9.7 11.8-19 27.1-46.2 7.3-11.8 6.8-10.3 7.3-10.2 6.9-8.7 6.9-7.7 6.9-6.9 6.8-6.1 6.9-5.2 7.3-4.7 7.7-4.2 8.1-3.6 8.5-3.1 8.9-2.6 9.7-2.2"/>
<path d="M85 636.3l10.9-1.8 9.7-2.3 8.9-2.7 8.1-3.2 7.7-3.8 7.3-4.4 6.9-5.1 6.9-6.1 6.8-7.1 6.9-8.3 6.5-9 6.9-10.6 6.5-11 6.8-12.6 25.5-50.1 6.1-11.4 5.3-9.5 6-10.1 6.1-9.3 6.1-8.4 6-7.5 3.7-4 4-4.1 3.7-3.4 4-3.4 4.1-3.1 4-2.8 4.1-2.4 4.4-2.4 4.5-2.2 4.8-2 9.7-3.3 10.9-2.6 12.6-2.2"/>
<path d="M85 561.2l29.1-9.3 32-10.7 97.5-34.1 32-11 26.7-8.9 25.1-8"/>
<path d="M85 630.2l10.5-3 9.7-3.5 9.3-4.2 8.5-4.5 8.5-5.4 8.1-6.1 8.1-6.9 7.7-7.6 6.5-7 6.5-7.7 6.4-8.2 6.9-9.4 12.2-17.6 28.3-43.2 7.7-11.1 6.9-9.4 7.2-9.3 7.3-8.6 6.9-7.4 7.3-7 6.9-5.9 7.2-5.5 7.3-4.8 7.3-4.2 7.7-3.7 8.1-3.4 8.5-2.9 8.9-2.5"/>
<path d="M85 625.1l8.1-2.8 8.1-3.2 7.7-3.6 7.7-4 7.3-4.4 7.2-4.9 6.9-5.2 6.9-5.7 6.9-6.2 7.3-7.2 7.2-7.8 7.7-8.8 7.3-8.8 8.1-10.2 30-39.5 12.5-15.9 7.3-8.8 6.9-7.8 6.4-6.9 6.5-6.5 8.1-7.4 8.1-6.7 8.1-6 8.1-5.2 8.5-4.9 8.9-4.3 8.9-3.7 9.7-3.4"/>
<path d="M85 614.9l8.5-3.7 8.5-4 8.5-4.5 8.1-4.8 8.1-5.2 8.1-5.7 8.1-6.1 8.1-6.6 13.3-11.8 14.6-14 13.3-13.6 32-33.5 15.8-15.9 8.1-7.6 7.7-6.9 7.3-6.3 7.2-5.8 6.9-5.3 6.9-4.8 6.9-4.6 7.3-4.4 6.8-3.9 7.3-3.7 7.3-3.4 7.7-3.3"/>
<path d="M85 587l13-5.7 13.3-6.4 13.4-6.8 13.7-7.4 15-8.5 16.6-9.7 65.5-40.4 15.4-9.2 13.8-8 16.6-9.2 15.7-8.2 15.4-7.4 15-6.7"/>
<path d="M85 633.3l11.3-2.6 10.2-3.2 9.3-3.7 8.9-4.4 8.5-5.2 8.1-5.9 8-7.1 7.7-7.8 6.1-7 6.5-8.2 6.5-8.9 6.4-9.7 11.8-19 27.5-46.9 7.3-11.7 6.8-10.3 7.3-10.1 6.9-8.6 6.9-7.7 6.9-6.9 6.8-5.9 6.9-5.2 7.3-4.7 7.7-4.2 7.7-3.4 8.5-3.1 8.9-2.6 9.7-2.2"/>
<path d="M85 576.2l25.5-10.5 27.1-12.1 31.6-15 66.7-33.2 29.6-14.3 16.6-7.7 15.3-6.8 15-6.4 15-6"/>
<path d="M85 626.5l9.7-3.2 9.3-3.7 8.9-4.3 8.5-4.8 8.5-5.5 8.1-6 8.1-6.8 7.7-7.2 6.5-6.6 6.4-7.1 6.9-8 6.9-8.6 13-17 29.5-40.4 7.7-10.1 7.3-9.1 7.7-9 7.2-8 7.3-7.3 6.9-6.3 6.9-5.8 6.9-5.2 7.2-4.9 7.3-4.3 7.7-4 7.7-3.5 8.1-3.1 8.5-2.8"/>
<path d="M85 633.6l11.3-2.5 10.2-3.1 9.7-3.8 8.9-4.4 8.5-5.2 8.1-6 8.1-7.1 7.6-7.9 6.1-7 6.1-7.7 6.5-9.1 6.4-9.7 11.8-19.2 27.1-46.8 7.3-11.9 6.8-10.5 7.3-10.2 6.9-8.7 6.9-7.8 6.9-6.9 6.8-6 6.9-5.2 7.3-4.7 7.7-4.1 8.1-3.6 8.5-3 8.9-2.6 9.7-2.1"/>
<path d="M85 559.9l29.1-9.1 32-10.4 97.5-32.9 32-10.6 26.7-8.6 25.1-7.8"/>
<path d="M85 609.9l8.5-3.8 8.1-3.9 8.1-4.4 8.1-4.7 8.1-5.1 8.1-5.4 8.1-5.9 8.1-6.2 13.7-11.3 14.6-12.9 13.7-12.8 32-30.4 16.6-15.2 15.8-13.5 14.5-11.3 14.2-9.9 13.8-8.6 6.8-3.8 7.3-3.8 14.2-6.5"/>
<path d="M85 574l14.6-5.7 14.9-6.1 32-14 29.6-13.7 67.1-31.9 31.6-14.4 27.1-11.7 25.5-10.1"/>
<path d="M85 621.6l8.1-3.1 7.7-3.3 7.3-3.5 7.3-4 7.2-4.4 6.9-4.7 7.3-5.3 6.9-5.5 7.3-6.4 7.2-6.8 7.7-7.8 7.7-8.2 15.4-17.6 30.8-37.3 12.9-15.1 7.3-8.1 6.9-7.3 6.4-6.6 6.5-6.1 8.1-7.2 8.1-6.5 8.1-5.9 8.1-5.3 8.5-4.9 8.5-4.4 8.9-3.9 9.3-3.6"/>
<path d="M85 634.9l10.1-2 9.3-2.4 8.9-2.9 8.1-3.5 7.7-4 7.3-4.6 6.9-5.2 6.9-6 6.8-7 6.9-8.1 6.9-9.1 6.9-10.1 6.4-10.4 7.3-12.4 26.3-48.2 11.4-19.6 6.4-10.2 6.5-9.5 6.1-8 6.1-7.2 7.6-8 7.7-6.8 8.1-5.9 8.5-5.1 4.5-2.2 4.8-2.2 9.7-3.6 10.6-2.9 11.7-2.3"/>
<path d="M85 637.1l13-1.9 11.3-2.5 5.2-1.5 4.9-1.6 4.9-1.9 4.4-2.1 4.5-2.3 4-2.4 4.1-2.7 4-3.1 4-3.4 3.7-3.4 7.3-7.8 6-7.6 5.7-8.1 6.1-9.6 6-10.6 5.3-9.9 5.7-11.3 18.6-38.9 6.9-14 6.8-13.2 6.1-10.7 6.5-10.4 6.5-9.2 6.4-8 6.9-7.3 6.9-6.1 6.9-5 7.3-4.4 7.6-3.6 8.5-3.2 8.9-2.5 10.2-2 11.3-1.6"/>
<path d="M85 550.5l60.7-14.9 129.9-33 51.8-12.7"/>
<path d="M85 602.3l15.8-7.5 15.8-8.6 15.8-9.7 16.5-11.3 13.8-10.1 15-11.6 47.3-38.8 16.6-13.2 15.8-12 15-10.5 13.7-9 13.8-8.1 13.7-7.3 13.8-6.5"/>
<path d="M85 628.2l10.1-3.1 9.3-3.6 8.9-4.1 8.9-4.9 8.5-5.5 8.1-6 8.1-6.9 7.7-7.4 6.5-6.8 6.5-7.3 6.4-7.9 6.9-8.9 12.6-17.2 29.1-41.9 7.7-10.5 7.3-9.5 7.2-8.9 7.3-8.2 7.3-7.5 6.9-6.5 6.9-5.8 7.3-5.5 7.2-4.9 7.3-4.3 7.7-3.9 7.7-3.3 8.1-3 8.9-2.7"/>
<path d="M85 635.3l11.7-2.3 11-2.9 9.7-3.5 4.8-2.2 4.5-2.2 8.5-5 8.1-6 7.7-6.8 7.7-8 6-7.3 6.1-8.1 6.1-9 6.4-10.4 11.4-19.8 26.3-49 7.3-12.7 6.4-10.5 6.9-10.2 6.9-9.1 6.9-8.1 6.8-7 6.9-6 6.9-5.1 7.3-4.6 7.7-3.9 8.1-3.4 8.5-2.7 9.3-2.4 10.5-2"/>
<path d="M85 624.5l9.7-3.5 8.9-3.8 8.9-4.4 8.5-4.8 8.1-5.3 8.1-6 8.1-6.6 8.1-7.4 6.5-6.5 6.4-6.8 6.9-7.7 7.3-8.7 12.5-15.7 30-38.9 8.1-10 7.3-8.7 7.7-8.7 7.2-7.7 7.3-7.1 7.3-6.6 6.9-5.6 7.3-5.4 6.8-4.7 7.3-4.3 7.3-3.9 7.7-3.6 8.1-3.3 8.1-2.9"/>
<path d="M85 596.7l13.4-6.3 13.3-6.8 13.8-7.8 13.7-8.4 15-9.7 16.2-11.2 17-12.3 47.7-35.3 15-10.6 13.8-9.3 16.6-10.6 15.7-9.1 15.8-8.3 15.4-7.3"/>
<path d="M85 622.5l8.1-3 7.7-3.3 7.7-3.7 7.3-3.9 7.2-4.5 6.9-4.6 7.3-5.4 6.9-5.6 7.3-6.4 7.3-6.9 7.2-7.5 7.7-8.3 15.4-18 30.4-37.5 12.9-15.5 7.3-8.3 6.9-7.4 6.8-7.1 6.5-6.2 8.1-7.2 8.1-6.5 8.1-5.9 8.1-5.3 8.5-4.9 8.5-4.3 8.9-3.9 9.3-3.5"/>
<path d="M85 616.5l8.9-3.7 8.5-4 8.5-4.5 8.1-4.8 8.1-5.2 8.1-5.8 8.1-6.2 8.1-6.7 13.3-12.1 14.6-14.5 13.3-14.1 31.2-33.8 16.2-16.7 7.7-7.5 7.7-7.1 7.2-6.4 7.3-6 6.9-5.2 6.9-5 6.9-4.5 7.3-4.5 7.2-4.1 7.3-3.7 7.3-3.3 7.7-3.2"/>
<path d="M85 612.4l8.5-3.8 8.5-4.1 8.1-4.3 8.1-4.8 8.1-5.1 8.1-5.6 8.1-6 8.1-6.4 13.3-11.4 14.6-13.4 13.7-13.4 32-31.8 16.2-15.5 15.8-14 7.3-6 7.2-5.7 7.3-5.4 6.9-4.8 6.9-4.4 6.9-4.2 6.8-3.9 7.3-3.7 7.3-3.5 7.3-3.2"/>
<path d="M85 597.1l15.4-7.3 15.8-8.3 15.7-9.2 16.6-10.6 13.8-9.3 15-10.7 47.7-35.6 17-12.4 15.8-11 15-9.8 13.7-8.4 13.8-7.8 13.3-6.9 13.8-6.5"/>
<path d="M85 624l8.1-2.9 8.1-3.4 7.7-3.6 7.3-3.9 7.3-4.4 6.8-4.7 7.3-5.4 6.9-5.6 7.3-6.6 7.3-7.1 7.2-7.6 7.7-8.6 7.3-8.6 8.1-9.9 30-38.4 12.9-16 7.3-8.5 6.9-7.7 6.4-6.7 6.5-6.4 8.1-7.3 8.1-6.6 8.1-6 8.1-5.2 8.5-4.9 8.5-4.2 9.3-4 9.3-3.4"/>
<path d="M85 622.7l9.3-3.5 8.9-3.9 8.5-4.3 8.5-4.8 8.1-5.3 8.1-5.9 8.1-6.6 8.1-7.2 6.5-6.2 6.8-7.1 6.9-7.5 7.3-8.3 12.9-15.5 30.4-37.7 15.4-18 7.7-8.4 7.2-7.5 7.3-6.9 7.3-6.5 6.9-5.5 7.3-5.4 6.9-4.7 7.2-4.4 7.3-3.9 7.7-3.7 7.7-3.3 8.1-3"/>
<path d="M85 614.9l7.7-3.3 7.3-3.4 7.3-3.7 6.8-3.9 7.3-4.4 6.9-4.6 6.9-4.8 6.9-5.2 7.2-5.9 7.3-6.2 7.7-7 8.1-7.6 15.8-15.8 32-33.6 13.3-13.6 14.6-14 13.3-11.8 8.1-6.6 8.1-6.2 8.1-5.6 8.1-5.2 8.1-4.8 8.5-4.5 8.5-4.1 8.5-3.6"/>
<path d="M85 611.9l7.3-3.2 7.3-3.4 7.3-3.8 6.8-3.9 6.9-4.1 6.9-4.5 6.9-4.7 7.3-5.4 7.2-5.7 7.3-5.9 15.8-14 16.2-15.3 32-31.6 13.7-13.3 14.6-13.3 13.3-11.3 8.1-6.4 8.1-6 8.1-5.5 8.1-5.2 8.1-4.7 8.1-4.4 8.5-4.1 8.5-3.7"/>
<path d="M85 575.2l25.5-10.4 27.1-11.9 31.6-14.7 66.7-32.5 29.6-14 16.6-7.5 15.3-6.7 15-6.3 15-6"/>
<path d="M85 604.9l14.2-6.7 13.7-7.3 13.8-8.3 13.7-9.2 15-10.9 15.8-12.5 16.6-13.9 32.8-28.3 13.7-11.7 15-12.2 13.8-10.5 16.1-11.4 8.1-5.2 8.1-4.9 7.7-4.4 8.1-4.3 8.1-4 8.1-3.7"/>
<path d="M85 633l10.9-2.7 10.2-3.1 9.7-4 8.9-4.4 8.5-5.3 8.1-6 8-7.1 7.7-7.8 6.1-6.9 6.5-8.2 6.5-8.9 6.4-9.5 11.8-18.8 27.5-46.2 7.3-11.5 6.8-10.3 7.3-10 6.9-8.5 6.9-7.7 6.9-6.9 6.8-6 6.9-5.2 7.3-4.7 7.7-4.2 7.7-3.5 8.5-3.2 8.9-2.7 9.7-2.3"/>
<path d="M85 612.7l7.3-3.2 7.3-3.4 7.3-3.8 6.8-3.9 6.9-4.1 6.9-4.5 6.9-4.8 7.3-5.3 7.2-5.8 7.3-6 15.8-14.1 16.2-15.6 32-32 13.7-13.5 14.6-13.5 13.3-11.4 8.1-6.4 8.1-6 8.1-5.6 8.1-5.2 8.1-4.7 8.1-4.3 8.5-4.2 8.5-3.7"/>
<path d="M85 567.9l25.1-9.1 27.1-10.4 31.6-12.7 67.5-28 29.6-12 32-12.4 29.5-10.8"/>
<path d="M85 633.9l11.3-2.6 10.2-3 9.7-3.7 8.9-4.4 8.5-5.2 8.1-5.9 8.1-7.1 7.6-7.9 6.1-7 6.1-7.8 6.5-9.1 6.4-9.8 11.8-19.3 27.1-47.3 7.3-11.9 6.8-10.6 7.3-10.2 6.9-8.8 6.9-7.8 6.9-6.9 6.8-6 6.9-5.1 7.3-4.7 7.7-4.1 7.7-3.4 8.5-3 9.3-2.6 9.7-2.2"/>
<path d="M85 626l8.1-2.7 8.1-3.1 7.7-3.5 7.7-4 7.3-4.4 7.2-4.9 6.9-5.1 6.9-5.7 7.3-6.7 7.3-7.3 7.2-7.9 7.7-8.9 7.3-9 7.7-9.9 30-40.5 12.5-16.3 6.9-8.4 6.9-8 6.4-7.1 6.5-6.5 8.1-7.6 8.1-6.7 8.1-6 8.1-5.2 8.5-4.8 8.9-4.3 9.3-3.8 9.7-3.3"/>
<path d="M85 637.4l11.3-1.5 10.2-2 9.3-2.5 8.5-3 7.6-3.6 7.3-4.3 6.9-5.1 6.9-6.1 6.9-7.3 6.4-8.1 6.5-9.3 6.5-10.5 6.1-11 6.8-13.4 6.9-14.3 17.8-38 5.7-11.5 5.2-10.1 6.1-10.8 6.1-9.8 5.7-8.2 6-7.7 3.7-4.1 3.6-3.8 3.6-3.4 4.1-3.4 4-3 4.1-2.7 4-2.4 4.5-2.3 4.4-2 4.9-1.9 4.8-1.6 5.3-1.4 11.3-2.4 13.4-1.9"/>
<path d="M85 618.2l7.7-3.1 7.7-3.5 7.3-3.7 7.3-4.1 7.2-4.4 6.9-4.6 6.9-5 6.9-5.4 7.3-6.1 7.2-6.5 7.7-7.3 7.7-7.7 15.8-16.9 31.2-35 13.3-14.5 14.2-14.5 6.9-6.5 6.4-5.9 8.1-6.9 8.1-6.3 8.1-5.8 8.1-5.3 8.1-4.7 8.5-4.5 8.9-4.1 8.9-3.7"/>
<path d="M85 605.6l14.2-6.6 13.7-7.4 13.8-8.3 13.7-9.3 15-11 15.8-12.6 16.6-14.1 32.8-28.7 13.7-11.8 15-12.3 13.8-10.7 8-5.9 8.1-5.5 8.1-5.3 8.1-4.9 7.7-4.4 8.1-4.3 8.1-4 8.1-3.7"/>
<path d="M85 567.5l25.1-9 27.1-10.4 31.6-12.5 67.5-27.8 29.6-11.9 32-12.3 29.5-10.7"/>
<path d="M85 633.8l11.3-2.6 10.2-3 9.7-3.8 8.9-4.3 8.5-5.2 8.1-6 8.1-7.1 7.6-7.8 6.1-7.1 6.1-7.7 6.5-9.1 6.4-9.8 11.8-19.3 27.1-47.1 7.3-11.9 6.8-10.5 7.3-10.3 6.9-8.7 6.9-7.8 6.9-6.9 6.8-6 6.9-5.2 7.3-4.6 7.7-4.2 8.1-3.5 8.5-3 8.9-2.6 9.7-2.1"/>
<path d="M85 638.5l14.2-1.4 12.1-2.1 5.3-1.2 5.2-1.5 4.9-1.7 4.4-1.8 4.5-2.1 4-2.2 4.1-2.6 4-3 4.1-3.3 3.6-3.4 3.7-3.9 3.6-4.2 5.7-7.5 5.6-8.6 5.7-9.8 6.1-11.8 4.8-10.2 5.3-11.7 17.4-41.1 6.1-13.9 6.4-13.9 6.1-11.9 6.5-11.3 6-9.2 6.5-8.4 6.5-7 6.5-5.7 6.8-4.9 7.3-4.1 8.1-3.5 8.5-2.7 9.7-2.2 10.5-1.6 12.6-1.2"/>
<path d="M85 594.1l15.4-7.2 15.8-8.2 15.7-8.9 16.2-9.9 13.8-8.9 15.4-10.5 47.7-33.6 17-11.8 16.2-10.7 15-9.4 13.7-8.1 13.8-7.6 13.3-6.8 13.4-6.2"/>
<path d="M85 600l13.8-6.5 13.3-7 13.8-8 13.7-8.7 15-10.2 16.2-11.8 16.6-12.8 47.3-37.1 15-11.3 13.8-9.7 16.5-11 15.8-9.5 15.8-8.5 15.8-7.5"/>
<path d="M85 626.9l10.1-3.3 9.3-3.8 8.9-4.2 8.5-4.8 8.5-5.5 8.1-6.1 8.1-6.8 7.7-7.2 6.5-6.7 6.5-7.2 6.8-8.1 6.9-8.6 12.6-16.7 29.5-40.9 7.7-10.1 7.3-9.2 7.7-9.1 7.2-8 7.3-7.4 6.9-6.3 6.9-5.7 6.9-5.2 7.2-4.9 7.3-4.3 7.7-4 7.7-3.5 8.1-3.1 8.5-2.7"/>
<path d="M85 593.7l13.4-6.2 13.3-6.7 13.8-7.5 13.7-8.1 15-9.4 16.2-10.7 17-11.7 47.7-33.4 15.4-10.4 13.8-8.9 16.6-10 15.7-8.9 15.4-8 15.4-7.1"/>
<path d="M85 610.7l7.3-3.2 6.9-3.3 7.3-3.7 6.8-3.9 6.9-4.1 6.9-4.4 6.9-4.7 7.3-5.3 14.5-11.5 15.8-13.6 16.6-15.4 32-30.9 13.7-13 14.6-13.1 13.7-11.4 8.1-6.3 8.1-5.9 8.1-5.5 8.1-5.1 8.1-4.7 8.1-4.3 8.1-4 8.5-3.7"/>
<path d="M85 608.7l8.1-3.6 8.1-4 8.1-4.3 8.1-4.7 8.1-5 8.1-5.5 8.1-5.7 8.1-6.1 13.7-11.1 14.6-12.6 13.7-12.5 32.8-30.5 16.2-14.5 15.8-13.2 14.9-11.5 13.8-9.5 13.8-8.5 14.1-7.6 14.2-6.6"/>
<path d="M85 620.7l8.9-3.5 8.9-4 8.5-4.4 8.5-4.9 8.1-5.3 8.1-5.9 8.1-6.4 8.1-7.1 6.5-6 6.8-6.9 14.2-15.1 12.9-14.9 30.8-36.5 15.8-17.7 7.7-8 7.7-7.7 7.2-6.7 7.3-6.3 6.9-5.4 6.9-5.1 6.9-4.6 7.2-4.5 7.3-4 7.3-3.6 7.7-3.3 8.1-3.2"/>
<path d="M85 632.1l10.5-2.7 10.1-3.3 9.4-3.9 8.9-4.5 8.5-5.3 8-6 8.1-7 7.7-7.7 6.1-6.8 6.5-7.9 6.4-8.7 6.9-9.8 12.2-18.8 27.5-44.8 7.7-11.8 6.8-9.9 7.3-9.8 6.9-8.4 6.9-7.6 7.3-7.1 6.8-6 6.9-5.2 7.3-4.7 7.7-4.3 7.7-3.5 8.5-3.3 8.5-2.7 9.3-2.3"/>
<path d="M85 617.3l7.7-3.1 7.3-3.4 7.3-3.6 7.2-4.1 7.3-4.4 6.9-4.6 6.9-5 6.9-5.3 7.3-6 7.2-6.4 7.7-7.2 7.7-7.6 16.2-17 31.2-34.4 13.3-14.3 14.6-14.7 13.3-12.2 8.1-6.8 8.1-6.2 8.1-5.8 8.1-5.2 8.1-4.8 8.5-4.5 8.5-3.9 8.9-3.7"/>
<path d="M85 630.5l10.5-2.9 9.7-3.5 9.3-4.1 8.5-4.5 8.5-5.3 8.1-6.1 8.1-6.9 7.7-7.6 6.5-7 6.5-7.7 6.4-8.3 6.9-9.5 12.2-17.8 28.3-43.7 7.7-11.2 6.9-9.5 7.2-9.4 7.3-8.6 6.9-7.4 7.3-7 6.9-5.9 6.8-5.2 7.3-4.8 7.3-4.2 7.7-3.7 8.1-3.4 8.5-2.9 9.3-2.5"/>
<path d="M85 606.8l8.1-3.7 8.1-4 8.1-4.3 8.1-4.6 8.1-5 8.1-5.4 8.1-5.6 8.1-6 13.7-10.8 14.6-12.2 13.7-12.1 32.8-29.4 16.2-14 15.8-12.8 14.9-11.3 14.2-9.6 13.8-8.4 13.7-7.4 14.2-6.6"/>
<path d="M85 623l9.3-3.4 9.3-4.1 8.5-4.3 8.5-4.9 8.1-5.3 8.1-5.9 8.1-6.6 8.1-7.3 6.5-6.3 6.4-6.6 6.9-7.6 7.3-8.3 12.9-15.7 30.4-38 8.1-9.7 7.3-8.4 7.7-8.5 7.2-7.4 7.3-7 7.3-6.5 6.9-5.6 7.3-5.4 6.9-4.6 7.2-4.4 7.3-3.9 7.7-3.7 7.7-3.3 8.1-2.9"/>
<path d="M85 530.4l242.4-20.4"/>
<path d="M85 567.4l25.1-9 27.1-10.3 31.6-12.6 67.5-27.7 29.6-11.8 32-12.3 29.5-10.7"/>
<path d="M85 629.3l10.1-3 9.7-3.6 8.9-4.1 8.9-4.8 8.5-5.4 8.1-6.1 8.1-6.9 7.7-7.5 6.5-6.9 6.5-7.5 6.4-8.1 6.9-9.1 12.6-17.8 28.7-42.5 7.7-10.8 6.9-9.2 7.2-9.1 7.3-8.4 7.3-7.7 6.9-6.5 6.9-5.9 7.2-5.5 7.3-4.8 7.3-4.2 7.7-3.9 8.1-3.4 8.1-2.9 8.9-2.6"/>
<path d="M85 601.8l15.8-7.5 15.8-8.6 15.8-9.6 16.5-11.2 13.8-10.1 15-11.5 47.3-38.4 16.6-13.2 15.8-11.8 15-10.5 13.7-8.9 13.8-8.1 13.7-7.3 13.8-6.5"/>
<path d="M85 626.7l10.1-3.4 9.3-3.7 8.9-4.3 8.5-4.8 8.5-5.5 8.1-6.1 8.1-6.8 7.7-7.2 6.5-6.7 6.5-7.1 6.8-8.1 6.9-8.6 12.6-16.6 29.5-40.7 7.7-10 7.3-9.2 7.7-9 7.2-8 7.3-7.3 6.9-6.4 6.9-5.7 6.9-5.2 7.2-4.9 7.3-4.3 7.7-4 7.7-3.5 8.1-3.1 8.5-2.8"/>
<path d="M85 626.2l9.7-3.3 9.3-3.8 8.9-4.2 8.5-4.8 8.5-5.6 8.1-6 8.1-6.8 7.7-7.1 6.5-6.6 6.4-7.1 6.9-8 6.9-8.4 12.5-16.4 30-40.6 7.7-10 7.3-9 7.7-9 7.2-7.9 7.3-7.3 6.9-6.4 6.9-5.7 6.9-5.2 7.2-4.9 7.3-4.4 7.7-4 7.7-3.5 8.1-3.2 8.5-2.8"/>
<path d="M85 633.8l9.7-2.2 8.9-2.5 8.5-3 8.1-3.6 7.7-4.1 7.3-4.6 6.9-5.2 6.8-6 6.9-6.9 6.9-7.8 6.9-8.7 7.3-10.3 6.8-10.5 7.3-11.9 27.1-47.1 11.8-19.3 6.4-9.8 6.5-9.1 6.1-7.7 6.1-7.1 7.6-7.8 8.1-7.1 8.1-6 8.5-5.1 8.9-4.4 9.7-3.8 10.2-3 11.3-2.6"/>
<path d="M85 629.5l10.1-3 9.7-3.6 9.3-4.2 8.5-4.6 8.5-5.5 8.1-6 8.1-6.9 7.7-7.5 6.5-6.9 6.5-7.5 6.4-8.1 6.9-9.2 12.6-17.9 28.7-42.7 7.7-10.9 6.9-9.2 7.2-9.2 7.3-8.4 7.3-7.7 6.9-6.5 6.9-5.9 6.8-5.2 7.3-4.8 7.3-4.3 7.7-3.8 8.1-3.4 8.5-3.1 8.9-2.6"/>
<path d="M85 631.4l9.3-2.4 8.5-2.8 8.5-3.3 7.7-3.7 7.7-4.3 7.3-4.9 6.9-5.2 6.8-6 7.3-7.1 6.9-7.5 6.9-8.4 7.3-9.6 6.8-9.7 7.3-11 28.3-45 12.2-18.3 6.9-9.7 6.4-8.4 6.5-7.9 6.1-6.7 7.7-7.6 8.1-7 8.1-6 8.4-5.3 9-4.6 9.3-3.9 9.7-3.3 10.5-2.8"/>
<path d="M85 614.5l8.5-3.7 8.5-4 8.5-4.6 8.1-4.7 8.1-5.2 8.1-5.7 8.1-6.1 8.1-6.6 13.3-11.7 14.6-13.9 13.3-13.6 32-33.2 15.8-15.7 8.1-7.6 7.7-6.9 7.3-6.2 7.2-5.8 6.9-5.2 6.9-4.9 6.9-4.5 7.3-4.5 6.8-3.8 7.3-3.8 7.3-3.4 7.7-3.3"/>
<path d="M85 598.3l15.8-7.5 15.4-8.2 15.7-9.3 16.6-10.7 13.8-9.5 15-10.9 47.7-36.4 17-12.6 15.8-11.3 15-10 13.7-8.5 13.8-7.9 13.3-6.9 13.8-6.5"/>
<path d="M85 597.2l13.8-6.5 13.3-6.9 13.8-7.8 13.7-8.4 15-9.9 15.8-11 17-12.4 47.7-35.6 15-10.7 13.8-9.4 16.6-10.6 15.7-9.2 15.4-8.1 15.8-7.5"/>
<path d="M85 604.9l8.1-3.7 8.1-4 8.1-4.3 7.7-4.4 8.1-4.9 8.1-5.3 16.1-11.3 13.8-10.5 15-12.2 13.7-11.7 32.8-28.3 16.6-13.9 15.8-12.4 15-11 13.7-9.1 13.8-8.3 13.7-7.4 14.2-6.7"/>
<path d="M85 582l15-6.5 15.4-7 15.7-7.7 16.2-8.2 29.6-16 65.9-36.8 16.6-9 15-7.8 13.7-6.8 13.4-6.4 12.9-5.8 13-5.6"/>
<path d="M85 603.1l13.8-6.5 13.7-7.3 13.8-8.2 13.7-9 15-10.6 15.8-12.2 17-13.7 46.5-38.7 15-11.8 13.8-10.3 16.5-11.4 15.8-9.7 7.7-4.4 8.1-4.3 8.1-4 8.1-3.7"/>
<path d="M85 614.9l7.7-3.3 7.3-3.4 7.3-3.7 6.8-3.9 7.3-4.4 6.9-4.5 6.9-4.9 6.9-5.2 7.2-5.9 7.3-6.2 7.7-7 8.1-7.6 15.8-15.8 32-33.6 13.3-13.6 14.6-14 13.3-11.9 8.1-6.5 8.1-6.2 8.1-5.7 8.1-5.2 8.1-4.7 8.5-4.5 8.5-4.1 8.5-3.6"/>
<path d="M85 621.7l9.3-3.5 8.9-4 8.5-4.3 8.5-4.9 8.1-5.3 8.1-5.9 8.1-6.6 8.1-7.1 6.5-6.2 6.4-6.5 6.9-7.3 7.3-8.2 12.9-15.2 30.8-37.4 15.4-17.6 7.7-8.3 7.7-7.7 7.2-6.9 7.3-6.3 6.9-5.5 7.3-5.4 6.9-4.6 7.2-4.4 7.3-4 7.3-3.6 7.7-3.3 8.1-3"/>
<path d="M85 609l8.5-3.8 8.1-4 8.1-4.4 8.1-4.7 8.1-5 8.1-5.5 8.1-5.7 8.1-6.2 13.7-11.2 14.6-12.7 13.7-12.5 32-29.9 16.6-14.9 15.8-13.3 14.9-11.5 13.8-9.6 13.8-8.5 6.8-3.8 7.3-3.8 14.2-6.6"/>
<path d="M85 542.5l242.4-44.6"/>
<path d="M85 615.3l7.7-3.2 7.3-3.4 7.3-3.7 6.8-3.9 7.3-4.4 6.9-4.6 6.9-4.8 6.9-5.3 7.2-5.9 7.3-6.2 7.7-7 8.1-7.7 16.2-16.4 31.6-33.4 13.3-13.8 14.6-14.1 13.3-11.9 8.1-6.6 8.1-6.2 8.1-5.6 8.1-5.2 8.1-4.8 8.5-4.5 8.5-4 8.5-3.6"/>
<path d="M85 621.3l9.3-3.6 8.9-4 8.5-4.4 8.5-4.9 8.1-5.3 8.1-5.9 8.1-6.5 8.1-7.2 6.5-6.1 6.4-6.5 6.9-7.2 7.3-8.1 12.9-15.1 30.8-36.9 15.8-18 7.7-8.1 7.3-7.3 7.2-6.8 7.3-6.4 6.9-5.5 7.3-5.3 6.9-4.6 7.2-4.5 7.3-4 7.3-3.5 7.7-3.4 8.1-3.1"/>
<path d="M85 632l9.3-2.3 8.5-2.7 8.5-3.3 7.7-3.6 7.7-4.2 7.3-4.8 6.9-5.2 6.8-5.9 7.3-7.2 6.9-7.6 6.9-8.4 7.3-9.7 6.8-9.9 7.7-11.8 27.5-44.6 12.2-18.8 6.9-9.8 6.4-8.6 6.5-8 6.1-6.7 7.7-7.7 8.1-7 8-6 8.5-5.3 8.9-4.6 9.4-3.9 10.1-3.3 10.5-2.7"/>
<path d="M85 626.7l8.5-2.8 8.1-3.1 7.7-3.5 7.7-4 7.3-4.3 7.2-4.9 6.9-5.2 6.9-5.8 6.9-6.3 7.3-7.3 7.2-8 7.7-9.1 7.3-9.1 7.7-10.1 29.5-40.6 13-17.1 6.9-8.5 6.9-8.1 6.4-7.1 6.5-6.6 7.7-7.2 8.1-6.8 8.1-6 8.5-5.5 8.5-4.8 8.9-4.2 9.3-3.8 9.7-3.2"/>
<path d="M85 600.1l15.8-7.5 15.8-8.5 15.8-9.5 16.5-11 13.8-9.8 15-11.2 47.3-37.3 16.6-12.7 16.2-11.9 15-10.2 13.7-8.7 13.8-8 13.3-7 13.8-6.5"/>
<path d="M85 597.4l15.8-7.4 15.4-8.2 15.7-9.2 16.6-10.6 13.8-9.4 15-10.8 47.7-35.8 17-12.4 15.8-11.1 15-9.9 13.7-8.5 13.8-7.8 13.3-6.9 13.8-6.4"/>
<path d="M85 637.1l12.6-1.9 11.3-2.4 5.2-1.5 4.9-1.7 4.9-1.9 4.4-2 4.5-2.3 4.4-2.6 4.1-2.8 4-3 4-3.4 3.7-3.4 7.3-7.9 6-7.6 5.7-8 6.1-9.7 6-10.5 5.3-9.9 5.7-11.3 18.6-38.8 6.9-13.9 6.8-13.2 6.1-10.7 6.9-11 6.5-9.1 6.4-7.9 6.9-7.2 6.9-6.1 6.9-5 7.3-4.3 7.6-3.6 8.5-3.1 8.9-2.5 10.2-2 10.9-1.6"/>
<path d="M85 628.9l8.9-2.7 8.1-3 8.1-3.4 7.7-3.9 7.3-4.2 7.3-4.9 6.8-5.2 6.9-5.8 7.3-6.9 7.3-7.6 7.3-8.4 7.2-9 6.9-9.1 7.7-10.7 29.1-42.6 12.2-17 6.9-9 6.4-8 6.5-7.5 6.5-6.9 7.7-7.4 8.1-6.9 8.1-6.1 8.5-5.4 8.9-4.9 8.9-4.1 9.7-3.7 10.1-3.1"/>
<path d="M85 636.4l10.9-1.7 9.7-2.2 8.9-2.7 8.1-3.1 7.7-3.7 7.3-4.5 6.9-5 6.9-6 6.8-7.2 6.9-8.3 6.5-8.9 6.9-10.7 6.5-11.1 6.8-12.7 25.5-50.6 6.1-11.5 5.3-9.5 6-10.3 6.1-9.4 6.1-8.4 6-7.4 3.7-4.1 4-4.1 3.7-3.3 4-3.4 4.1-3.1 4-2.7 4.1-2.5 4.4-2.3 4.5-2.1 4.8-2 9.7-3.2 10.9-2.7 12.6-2"/>
<path d="M85 637.5l11.7-1.6 10.2-2 8.9-2.3 8.5-3.1 7.6-3.6 7.3-4.2 6.9-5 6.9-6.1 6.9-7.3 6.4-8.1 6.5-9.3 6.5-10.6 6.1-11 6.8-13.5 6.9-14.4 17.8-38.1 5.7-11.6 5.2-10.1 6.1-10.9 6.1-9.8 5.7-8.2 6-7.7 3.7-4.1 3.6-3.7 3.6-3.4 4.1-3.4 4-3 4.1-2.7 4-2.4 4.5-2.3 4.4-2 4.9-1.8 4.8-1.6 5.3-1.5 11.3-2.3 13.4-1.9"/>
<path d="M85 594.2l13.4-6.2 13.3-6.8 13.8-7.6 13.7-8.1 15-9.4 16.2-10.8 17-11.8 47.7-33.7 15.4-10.4 13.8-9 16.2-9.9 15.7-8.9 15.8-8.2 15.4-7.2"/>
<path d="M85 623.9l8.1-2.9 8.1-3.3 7.7-3.7 7.3-3.9 7.3-4.4 6.8-4.6 7.3-5.4 6.9-5.7 7.3-6.5 7.3-7.1 7.2-7.6 7.7-8.6 7.3-8.6 8.1-9.9 30-38.4 12.9-16 7.3-8.5 6.9-7.6 6.4-6.8 6.5-6.4 8.1-7.3 8.1-6.6 8.1-5.9 8.1-5.3 8.5-4.9 8.5-4.2 9.3-4 9.3-3.3"/>
<path d="M85 625l8.1-2.8 8.1-3.2 7.7-3.6 7.7-4.1 7.3-4.4 7.2-4.9 6.9-5.2 6.9-5.7 6.9-6.2 7.3-7.2 7.2-7.7 7.7-8.8 7.3-8.7 8.1-10.2 30-39.5 12.5-15.9 7.3-8.7 6.9-7.8 6.4-6.9 6.5-6.5 8.1-7.4 8.1-6.7 8.1-5.9 8.1-5.3 8.5-4.8 8.9-4.4 8.9-3.7 9.7-3.4"/>
<path d="M85 626.4l9.7-3.2 9.3-3.8 8.9-4.2 8.5-4.8 8.5-5.5 8.1-6 8.1-6.8 7.7-7.2 6.5-6.6 6.4-7.1 6.9-8 6.9-8.5 13-17 29.5-40.4 7.7-10 7.3-9.1 7.7-9 7.2-7.9 7.3-7.4 6.9-6.3 6.9-5.7 6.9-5.2 7.2-4.9 7.3-4.4 7.7-4 7.7-3.5 8.1-3.1 8.5-2.8"/>
<path d="M85 626.2l9.7-3.3 9.3-3.8 8.9-4.3 8.5-4.7 8.5-5.6 8.1-6 8.1-6.8 7.7-7.1 6.5-6.6 6.4-7.1 6.9-8 6.9-8.4 12.5-16.4 30-40.6 7.7-10 7.3-9 7.7-9 7.2-7.9 7.3-7.3 6.9-6.3 6.9-5.8 6.9-5.2 7.2-4.9 7.3-4.4 7.7-4 7.7-3.5 8.1-3.2 8.5-2.8"/>
<path d="M85 620.8l8.1-3.1 7.7-3.3 7.3-3.6 7.3-4 7.2-4.5 6.9-4.6 6.9-5 6.9-5.5 7.3-6.3 7.2-6.8 7.7-7.6 7.7-8.1 15.8-17.7 30.8-36.7 12.9-14.9 14.2-15.2 6.8-6.9 6.5-6 8.1-7.1 8.1-6.5 8.1-5.8 8.1-5.3 8.5-5 8.5-4.3 8.9-4 8.9-3.4"/>
<path d="M85 620.3l7.7-3 7.7-3.3 7.7-3.8 7.3-4 7.2-4.5 6.9-4.6 6.9-5.1 6.9-5.4 7.3-6.3 7.2-6.7 7.7-7.6 7.7-8 15.8-17.6 30.8-36.2 12.9-14.8 14.2-15 6.8-6.8 6.5-6.1 8.1-7 8.1-6.4 8.1-5.9 8.1-5.3 8.5-4.9 8.5-4.4 8.9-4 8.9-3.5"/>
<path d="M85 564.8l25.1-8.6 27.1-9.8 31.6-11.8 67.5-26 30-11.3 32-11.7 29.1-10"/>
<path d="M85 613.3l7.3-3.2 7.3-3.4 7.3-3.8 6.8-3.8 7.3-4.4 6.9-4.5 6.9-4.8 6.9-5.2 7.2-5.7 7.3-6.1 7.7-6.8 8.1-7.4 16.2-15.7 32-32.5 13.3-13.2 14.6-13.7 13.7-11.8 8.1-6.5 8.1-6 8.1-5.6 8.1-5.2 8.1-4.7 8.1-4.4 8.5-4.1 8.5-3.7"/>
<path d="M85 596.6l13.4-6.2 13.3-6.9 13.8-7.7 13.7-8.4 15-9.8 16.2-11.2 17-12.2 47.7-35.3 15-10.6 13.8-9.3 16.6-10.5 15.7-9.2 15.8-8.3 15.4-7.2"/>
<path d="M85 619.4l8.9-3.5 8.9-4.1 8.5-4.4 8.1-4.8 8.1-5.2 8.1-5.8 8.1-6.4 8.1-7 6.4-5.9 6.9-6.7 14.2-14.8 13.3-14.9 31.2-36 15.4-16.8 7.7-7.9 7.7-7.5 7.2-6.6 7.3-6.2 6.9-5.5 7.3-5.3 6.9-4.6 7.2-4.4 7.3-4 7.3-3.7 7.7-3.4 7.7-3"/>
<path d="M85 605.4l14.2-6.6 13.7-7.4 13.8-8.3 13.7-9.2 15-11.1 15.8-12.5 16.6-14 32.8-28.7 13.7-11.7 15-12.3 13.8-10.6 8-5.9 8.1-5.6 8.1-5.2 8.1-5 7.7-4.4 8.1-4.3 8.1-4 8.1-3.6"/>
<path d="M85 627.2l10.1-3.3 9.3-3.7 8.9-4.2 8.5-4.8 8.5-5.5 8.1-6 8.1-6.9 7.7-7.2 6.5-6.7 6.5-7.2 6.8-8.2 6.9-8.7 12.6-16.8 29.1-40.6 7.7-10.3 7.3-9.2 7.6-9.2 7.3-8.1 7.3-7.4 6.9-6.4 6.9-5.8 6.9-5.2 7.2-4.9 7.3-4.3 7.7-4 7.7-3.4 8.1-3.1 8.9-2.9"/>
<path d="M85 629.5l10.1-3 9.7-3.5 9.3-4.2 8.5-4.6 8.5-5.4 8.1-6.1 8.1-6.9 7.7-7.5 6.5-6.9 6.5-7.5 6.4-8.1 6.9-9.2 12.6-17.9 28.7-42.9 7.7-10.9 6.9-9.2 7.2-9.2 7.3-8.4 6.9-7.3 7.3-6.9 6.9-5.9 6.8-5.2 7.3-4.9 7.3-4.2 7.7-3.8 8.1-3.4 8.5-3 8.9-2.6"/>
<path d="M85 622.7l9.3-3.5 8.9-3.9 8.5-4.2 8.5-4.9 8.1-5.3 8.1-5.9 8.1-6.6 8.1-7.2 6.5-6.2 6.8-7.1 6.9-7.4 7.3-8.3 12.9-15.6 30.4-37.7 15.4-18.1 7.7-8.3 7.2-7.5 7.3-6.9 7.3-6.5 6.9-5.6 7.3-5.4 6.9-4.6 7.2-4.4 7.3-4 7.7-3.7 7.7-3.2 8.1-3"/>
<path d="M85 622.8l8.1-3 7.7-3.2 7.7-3.7 7.3-3.9 7.2-4.4 6.9-4.7 7.3-5.4 6.9-5.6 7.3-6.4 7.3-7 7.2-7.4 7.7-8.4 15.4-18.1 30.4-37.8 12.9-15.6 7.3-8.4 6.9-7.5 6.4-6.6 6.5-6.3 8.1-7.2 8.1-6.6 8.1-6 8.1-5.3 8.5-4.9 8.5-4.3 9.3-4.1 9.3-3.4"/>
<path d="M85 618.8l7.7-3.1 7.7-3.5 7.3-3.6 7.3-4 7.2-4.5 6.9-4.6 6.9-5 6.9-5.4 7.3-6.1 7.2-6.6 7.7-7.4 7.7-7.8 15.8-17 31.2-35.5 13.3-14.7 14.2-14.6 6.9-6.6 6.4-5.9 8.1-6.9 8.1-6.4 8.1-5.8 8.1-5.3 8.1-4.7 8.5-4.5 8.9-4.1 8.9-3.6"/>
<path d="M85 606l14.2-6.6 13.7-7.4 13.8-8.4 13.7-9.2 15-11.1 15.8-12.7 16.6-14.2 32.8-28.9 13.7-11.9 15-12.4 13.8-10.7 8-5.9 8.1-5.6 8.1-5.3 8.1-4.9 7.7-4.4 8.1-4.3 8.1-4 8.1-3.7"/>
<path d="M85 613.3l7.3-3.2 7.3-3.4 7.3-3.8 6.8-3.8 7.3-4.4 6.9-4.5 6.9-4.8 6.9-5.1 7.2-5.8 7.3-6.1 7.7-6.8 8.1-7.4 16.2-15.7 32-32.5 13.3-13.2 14.6-13.7 13.7-11.9 8.1-6.4 8.1-6.1 8.1-5.6 8.1-5.1 8.1-4.8 8.1-4.3 8.5-4.1 8.5-3.7"/>
<path d="M85 604.6l8.1-3.7 8.1-4 8.1-4.3 7.7-4.3 8.1-5 8.1-5.2 16.1-11.3 13.8-10.5 15-12.1 13.7-11.6 32.8-28.2 16.6-13.8 15.8-12.5 15-10.9 13.7-9.1 13.8-8.3 13.7-7.4 14.2-6.6"/>
<path d="M85 624l8.1-2.9 8.1-3.4 7.7-3.6 7.3-3.9 7.3-4.4 6.8-4.6 7.3-5.5 6.9-5.6 7.3-6.6 7.3-7 7.2-7.7 7.7-8.6 7.3-8.5 8.1-10 30-38.4 12.9-16 7.3-8.5 6.9-7.7 6.4-6.7 6.5-6.4 8.1-7.3 8.1-6.7 8.1-5.9 8.1-5.3 8.5-4.8 8.5-4.2 9.3-4 9.3-3.4"/>
<path d="M85 617.2l7.7-3.2 7.3-3.3 7.3-3.7 7.2-4.1 7.3-4.4 6.9-4.6 6.9-4.9 6.9-5.4 7.3-6 7.2-6.4 7.7-7.2 7.7-7.6 16.2-16.9 31.2-34.2 13.3-14.3 14.6-14.6 13.3-12.2 8.1-6.8 8.1-6.3 8.1-5.7 8.1-5.2 8.1-4.8 8.5-4.5 8.5-4 8.9-3.7"/>
<path d="M85 626.7l10.1-3.3 9.3-3.8 8.9-4.3 8.5-4.8 8.5-5.5 8.1-6 8.1-6.9 7.7-7.2 6.5-6.7 6.5-7.1 6.8-8.1 6.9-8.6 12.6-16.6 29.5-40.7 7.7-10.1 7.3-9.1 7.7-9.1 7.2-7.9 7.3-7.4 6.9-6.3 6.9-5.8 6.9-5.1 7.2-4.9 7.3-4.4 7.7-4 7.7-3.4 8.1-3.1 8.5-2.8"/>
<path d="M85 573.1l25.5-10 27.1-11.5 31.6-14.2 67.1-31.3 29.6-13.4 32-13.7 14.9-6.1 14.6-5.6"/>
<path d="M85 630.2l10.5-3 9.7-3.5 9.3-4.1 8.5-4.6 8.5-5.4 8.1-6 8.1-7 7.7-7.5 6.5-7 6.5-7.7 6.4-8.2 6.9-9.4 12.2-17.7 28.3-43.2 7.7-11.2 6.9-9.4 7.2-9.3 7.3-8.6 6.9-7.4 7.3-7 6.9-5.9 7.2-5.5 7.3-4.8 7.3-4.1 7.7-3.8 8.1-3.3 8.5-2.9 8.9-2.5"/>
<path d="M85 596.1l15.4-7.2 15.8-8.3 15.7-9.1 16.6-10.5 13.8-9.2 15-10.5 47.7-34.9 17-12.2 16.2-11.1 15-9.7 13.7-8.3 13.8-7.7 13.3-6.9 13.4-6.2"/>
<path d="M85 597.1l13.8-6.5 13.3-6.9 13.8-7.8 13.7-8.4 15-9.8 15.8-11 17-12.4 47.7-35.6 15-10.7 13.8-9.3 16.6-10.6 15.7-9.2 15.8-8.3 15.4-7.3"/>
<path d="M85 612.5l8.5-3.7 8.5-4.1 8.1-4.4 8.1-4.7 8.1-5.2 8.1-5.5 8.1-6 8.1-6.4 13.3-11.4 14.6-13.5 13.7-13.4 32-32 16.2-15.5 15.8-14 7.3-6.1 7.2-5.7 7.3-5.4 6.9-4.7 6.9-4.5 6.9-4.2 6.8-3.8 7.3-3.8 7.3-3.4 7.3-3.2"/>
<path d="M85 602.6l13.8-6.5 13.7-7.3 13.8-8.1 13.7-9 15-10.6 15.8-12 16.6-13.3 47.3-39 15-11.8 13.8-10.1 16.5-11.3 15.8-9.7 7.7-4.3 8.1-4.3 7.7-3.8 8.1-3.7"/>
<path d="M85 622.4l9.3-3.5 8.9-3.9 8.5-4.3 8.5-4.9 8.1-5.3 8.1-5.9 8.1-6.5 8.1-7.2 6.5-6.2 6.8-7.1 6.9-7.4 7.3-8.3 12.9-15.4 30.4-37.5 15.4-17.9 7.7-8.3 7.2-7.5 7.3-6.9 7.3-6.4 6.9-5.6 7.3-5.4 6.9-4.6 7.2-4.4 7.3-4 7.7-3.7 7.7-3.3 8.1-3"/>
<path d="M85 602.3l13.8-6.5 13.7-7.3 13.8-8.1 13.7-9 15-10.5 15.8-12 16.6-13.2 47.3-38.8 15-11.6 13.8-10.2 16.5-11.2 15.8-9.7 15.8-8.6 15.8-7.5"/>
<path d="M85 584.5l15-6.6 15.4-7.2 15.7-8 16.2-8.6 29.6-16.7 65.9-38.6 16.2-9.2 15-8.1 13.7-7.1 13.4-6.6 13.3-6.2 13-5.7"/>
<path d="M85 593.2l13.4-6.2 13.3-6.7 13.8-7.5 13.7-8.1 15-9.3 16.2-10.5 17-11.6 47.7-33.1 15.4-10.3 13.8-8.8 16.6-10 15.7-8.8 15.4-7.9 15.4-7.2"/>
<path d="M85 633.7l11.3-2.6 10.2-3 9.7-3.8 8.9-4.4 8.5-5.2 8.1-5.9 8.1-7.1 7.6-7.9 6.1-7 6.1-7.8 6.5-9 6.4-9.8 11.8-19.2 27.1-47 7.3-11.9 6.8-10.5 7.3-10.2 6.9-8.7 6.9-7.8 6.9-6.9 6.8-6 6.9-5.2 7.3-4.7 7.7-4.1 8.1-3.6 8.5-3 8.9-2.6 9.7-2.1"/>
<path d="M85 617.8l7.7-3.1 7.3-3.3 7.3-3.7 7.2-4.1 7.3-4.4 6.9-4.6 6.9-4.9 7.3-5.7 7.3-6.1 7.2-6.5 7.7-7.2 7.7-7.7 15.8-16.7 31.2-34.7 13.3-14.5 14.6-14.8 13.3-12.3 8.1-6.8 8.1-6.3 8.1-5.7 8.1-5.3 8.1-4.7 8.5-4.5 8.5-3.9 8.9-3.7"/>
<path d="M85 580.4l13-5.5 12.9-5.7 13.4-6.3 13.7-6.7 15-7.5 16.6-8.7 66.3-35.9 29.6-15.5 16.2-8 15.7-7.5 15-6.7 15-6.4"/>
<path d="M85 617l7.7-3.1 7.3-3.4 7.3-3.7 7.2-4 7.3-4.5 6.9-4.5 6.9-5 6.9-5.3 7.3-6 7.2-6.4 7.7-7.2 7.7-7.5 16.2-16.9 31.2-34.2 13.3-14.2 14.6-14.6 13.3-12.2 8.1-6.8 8.1-6.2 8.1-5.8 8.1-5.2 8.1-4.8 8.5-4.4 8.5-4 8.9-3.7"/>
<path d="M85 562.1l29.1-9.5 32-10.9 97.5-35 31.6-11.1 27.1-9.2 25.1-8.1"/>
<path d="M85 636.3l10.9-1.9 9.7-2.2 8.9-2.7 8.1-3.2 7.7-3.8 7.3-4.4 6.9-5.1 6.9-6.1 6.8-7.1 6.9-8.4 6.5-8.9 6.9-10.6 6.5-11 6.8-12.6 25.5-50 6.1-11.5 5.3-9.4 6-10.2 6.1-9.3 6.1-8.4 6-7.5 3.7-4 4-4.1 3.7-3.4 4-3.4 4.1-3.1 4-2.7 4.1-2.5 4.4-2.4 4.5-2.1 4.8-2.1 9.7-3.2 10.9-2.7 12.6-2.2"/>
<path d="M85 563.7l25.1-8.4 27.1-9.6 31.6-11.5 67.5-25.3 30-11 32-11.4 29.1-9.8"/>
<path d="M85 625.3l8.1-2.7 8.1-3.3 7.7-3.5 7.7-4.1 7.3-4.4 7.2-4.9 6.9-5.1 6.9-5.7 6.9-6.3 7.3-7.2 7.2-7.8 7.7-8.8 7.3-8.8 8.1-10.3 30-39.7 12.5-16 7.3-8.8 6.9-7.8 6.4-7 6.5-6.5 8.1-7.4 8.1-6.7 8.1-5.9 8.1-5.3 8.5-4.8 8.9-4.4 8.9-3.6 9.7-3.4"/>
<path d="M85 626.2l8.5-2.8 8.1-3.2 7.7-3.5 7.7-4 7.3-4.4 7.2-4.9 6.9-5.2 6.9-5.7 6.9-6.3 7.3-7.3 7.2-8 7.7-8.9 7.3-9.1 7.7-9.9 30-40.7 12.5-16.4 6.9-8.4 6.9-8 6.4-7.1 6.5-6.6 7.7-7.2 8.1-6.7 8.1-6.1 8.5-5.5 8.5-4.8 8.9-4.3 9.3-3.8 9.7-3.2"/>
<path d="M85 567.4l25.1-9 27.1-10.3 31.6-12.6 67.5-27.7 29.6-11.8 32-12.3 29.5-10.7"/>
<path d="M85 622.6l9.3-3.5 8.9-3.9 8.5-4.3 8.5-4.9 8.1-5.3 8.1-5.9 8.1-6.5 8.1-7.2 6.5-6.3 6.8-7 6.9-7.5 7.3-8.2 12.9-15.6 30.4-37.6 15.4-17.9 7.7-8.4 7.2-7.4 7.3-7 7.3-6.4 6.9-5.6 7.3-5.4 6.9-4.6 7.2-4.4 7.3-4 7.7-3.7 7.7-3.3 8.1-3"/>
<path d="M85 631.3l9.3-2.5 8.5-2.8 8.1-3.2 7.7-3.7 7.7-4.3 7.3-4.8 6.8-5.2 6.9-5.9 7.3-7.1 6.9-7.5 6.9-8.2 7.2-9.6 6.9-9.7 7.7-11.4 28.3-44.8 12.2-18.2 6.9-9.6 6.4-8.5 6.5-7.7 6.1-6.7 7.7-7.6 8.1-7 8.1-6 8.4-5.4 9-4.6 9.3-4 9.7-3.3 10.5-2.9"/>
<path d="M85 625.2l9.7-3.4 8.9-3.7 8.9-4.4 8.5-4.8 8.1-5.3 8.1-5.9 8.1-6.7 8.1-7.4 6.5-6.5 6.4-6.9 6.9-7.9 7.3-8.7 12.5-16 30-39.5 8.1-10.3 7.3-8.8 7.7-8.8 7.2-7.7 7.3-7.2 6.9-6.2 6.9-5.7 6.9-5.2 7.2-4.9 7.3-4.4 7.7-4.1 7.7-3.5 8.1-3.3 8.1-2.8"/>
<path d="M85 621.9l8.1-3.1 7.7-3.3 7.3-3.5 7.3-4 7.2-4.4 6.9-4.6 7.3-5.3 6.9-5.6 7.3-6.3 7.2-6.9 7.7-7.8 7.7-8.2 15.4-17.8 30.8-37.5 12.9-15.2 7.3-8.2 6.9-7.3 6.4-6.6 6.5-6.2 8.1-7.1 8.1-6.6 8.1-5.9 8.1-5.3 8.5-4.9 8.5-4.3 8.9-4 9.3-3.5"/>
<path d="M85 630.8l9.3-2.5 8.5-2.9 8.1-3.2 7.7-3.8 7.3-4.1 7.3-4.8 7.2-5.5 6.9-5.9 7.3-7.1 6.9-7.5 6.9-8.2 7.2-9.4 6.9-9.6 7.7-11.3 28.3-44.1 12.2-18 6.9-9.5 6.4-8.3 6.5-7.8 6.1-6.6 7.7-7.6 8.1-7 8.1-6.1 8.4-5.4 9-4.7 9.3-4 9.7-3.4 10.5-2.9"/>
<path d="M85 620.1l7.7-3 7.7-3.4 7.3-3.6 7.3-4 7.2-4.4 6.9-4.6 7.3-5.4 6.9-5.4 7.3-6.3 7.2-6.6 7.7-7.6 7.7-8 15.8-17.5 30.8-36 12.9-14.7 14.2-15 6.8-6.8 6.5-6 8.1-7 8.1-6.5 8.1-5.8 8.1-5.3 8.5-5 8.5-4.3 8.9-4.1 8.9-3.5"/>
<path d="M85 623.2l9.3-3.5 9.3-4 8.5-4.3 8.5-4.9 8.1-5.3 8.1-5.9 8.1-6.6 8.1-7.3 6.5-6.3 6.4-6.7 6.9-7.5 7.3-8.4 12.9-15.7 30.4-38.2 8.1-9.7 7.3-8.5 7.7-8.4 7.2-7.5 7.3-7 7.3-6.5 6.9-5.6 7.3-5.4 6.9-4.6 7.2-4.4 7.3-3.9 7.7-3.7 7.7-3.2 8.1-3"/>
<path d="M85 614.1l8.5-3.6 8.5-4.1 8.5-4.5 8.1-4.8 8.1-5.2 8.1-5.6 8.1-6.1 8.1-6.6 13.3-11.7 14.6-13.8 13.3-13.5 32-33 15.8-15.6 8.1-7.5 7.7-6.9 7.3-6.2 7.2-5.8 6.9-5.2 6.9-4.8 6.9-4.6 7.3-4.4 6.8-3.9 7.3-3.7 7.3-3.4 7.7-3.3"/>
<path d="M85 627.4l10.1-3.3 9.3-3.7 8.9-4.2 8.5-4.7 8.5-5.5 8.1-6.1 8.1-6.8 7.7-7.3 6.5-6.7 6.5-7.2 6.8-8.2 6.9-8.7 12.6-16.9 29.1-40.8 7.7-10.3 7.3-9.3 7.6-9.2 7.3-8.1 7.3-7.4 6.9-6.4 6.9-5.8 6.9-5.2 7.2-4.9 7.3-4.3 7.7-4 7.7-3.4 8.1-3.1 8.9-2.9"/>
<path d="M85 589.6l15.4-7 15.4-7.7 15.7-8.5 16.2-9.3 13.8-8.3 15.4-9.6 65.5-42.3 16.2-10 15-8.8 13.7-7.7 13.8-7.2 13.3-6.5 13-5.9"/>
<path d="M85 629.2l10.1-3 9.7-3.6 8.9-4 8.9-4.9 8.5-5.4 8.1-6.1 8.1-6.9 7.7-7.4 6.5-6.9 6.5-7.6 6.4-8 6.9-9.1 12.6-17.8 28.7-42.5 7.7-10.8 6.9-9.1 7.2-9.1 7.3-8.4 7.3-7.7 6.9-6.5 6.9-5.9 7.2-5.5 7.3-4.9 7.3-4.2 7.7-3.8 8.1-3.4 8.1-2.9 8.9-2.6"/>
<path d="M85 604.4l8.1-3.7 8.1-4 8.1-4.3 7.7-4.4 7.7-4.7 8.1-5.2 8.1-5.5 8.4-6 13.8-10.5 15-12 46.5-39.6 16.6-13.8 15.8-12.3 15-10.9 13.7-9.2 13.8-8.2 13.7-7.4 14.2-6.7"/>
<path d="M85 583.6l13-5.6 13.3-6.2 13.4-6.5 13.7-7 15-8 16.2-9 65.9-38.1 29.6-16.4 16.2-8.5 15.7-7.8 15.4-7.2 15-6.5"/>
<path d="M85 623.6l8.1-2.9 7.7-3.2 7.7-3.6 7.3-3.9 7.2-4.4 6.9-4.6 7.3-5.4 6.9-5.6 7.3-6.5 7.3-7.1 7.2-7.5 7.7-8.5 7.3-8.5 8.1-9.9 30.4-38.6 12.9-15.8 7.3-8.5 6.9-7.6 6.4-6.7 6.5-6.4 8.1-7.3 8.1-6.6 8.1-5.9 8.1-5.3 8.5-4.9 8.5-4.2 9.3-4 9.3-3.4"/>
<path d="M85 635.8l12.1-2.2 11-2.7 9.7-3.4 4.8-2.1 4.5-2.2 4.4-2.4 4.1-2.5 4-2.8 4.1-3.1 7.7-6.8 7.7-8.1 6-7.4 6.1-8.2 6.1-9.2 6.4-10.6 5.3-9.3 6.1-11.2 25.9-49.6 6.8-12.3 6.5-10.8 6.9-10.4 6.5-8.8 6.9-8.2 6.8-7.1 6.9-6.1 6.9-5.1 7.3-4.5 7.7-3.9 8.1-3.3 8.9-2.8 9.7-2.3 10.5-1.8"/>
<path d="M85 630.9l10.5-2.8 9.7-3.4 9.3-4.1 9-4.7 8.4-5.3 8.1-6.1 8.1-7 7.7-7.6 6.1-6.6 6.5-7.8 6.4-8.4 6.9-9.5 12.2-18.1 28.3-44.2 7.7-11.4 6.9-9.6 7.2-9.4 6.9-8.2 6.9-7.5 7.3-7.1 6.9-5.9 7.2-5.5 7.3-4.8 7.3-4.1 7.7-3.7 8.1-3.3 8.5-2.8 9.3-2.5"/>
<path d="M85 604l14.2-6.6 13.7-7.4 13.8-8.2 13.7-9.1 15-10.9 15.8-12.3 16.6-13.6 46.5-39.4 15-12 13.8-10.4 8.4-6.1 8.1-5.5 8.1-5.1 7.7-4.7 7.7-4.3 8.1-4.3 8.1-4 8.1-3.7"/>
<path d="M85 628.2l8.9-2.8 8.1-3 7.7-3.3 7.7-3.9 7.3-4.3 7.2-4.9 7.3-5.5 6.9-5.8 6.9-6.5 7.3-7.5 7.3-8.2 7.2-8.9 7.3-9.5 7.7-10.5 29.1-41.7 12.6-17.3 6.9-8.8 6.4-7.9 6.5-7.3 6.5-6.8 7.7-7.4 8.1-6.9 8.1-6 8.5-5.5 8.9-4.9 8.9-4.1 9.3-3.6 10.1-3.2"/>
<path d="M85 605.8l14.2-6.6 13.7-7.4 13.8-8.3 13.7-9.3 15-11.1 15.8-12.6 16.6-14.1 32.8-28.9 13.7-11.8 15-12.4 13.8-10.6 8-5.9 8.1-5.6 8.1-5.3 8.1-4.9 7.7-4.4 8.1-4.4 8.1-3.9 8.1-3.7"/>
<path d="M85 614.2l8.5-3.7 8.5-4 8.5-4.6 8.1-4.7 8.1-5.2 8.1-5.7 8.1-6.1 8.1-6.5 13.3-11.7 14.6-13.9 13.3-13.4 32-33.1 15.8-15.6 8.1-7.6 7.7-6.9 7.3-6.1 7.2-5.9 6.9-5.1 6.9-4.9 6.9-4.5 7.3-4.5 6.8-3.8 7.3-3.8 7.3-3.4 7.7-3.3"/>
<path d="M85 618.7l7.7-3.1 7.7-3.4 7.3-3.7 7.3-4 7.2-4.5 6.9-4.6 6.9-5 6.9-5.4 7.3-6.1 7.2-6.6 7.7-7.3 7.7-7.8 15.8-17 31.2-35.4 13.3-14.7 14.2-14.7 6.9-6.6 6.4-5.9 8.1-6.9 8.1-6.3 8.1-5.8 8.1-5.3 8.1-4.7 8.5-4.5 8.9-4.1 8.9-3.6"/>
<path d="M85 520.1l242.4 .2"/>
<path d="M85 620.7l8.9-3.5 8.9-4 8.5-4.4 8.5-4.9 8.1-5.3 8.1-5.9 8.1-6.4 8.1-7.1 6.5-6 6.8-6.9 14.2-15.1 12.9-14.9 30.8-36.5 15.8-17.7 7.7-8 7.7-7.6 7.2-6.8 7.3-6.3 6.9-5.4 6.9-5.1 6.9-4.6 7.2-4.4 7.3-4.1 7.3-3.5 7.7-3.4 8.1-3.2"/>
<path d="M85 586.1l13-5.7 13.3-6.3 13.4-6.8 13.7-7.3 15-8.3 16.2-9.4 65.9-39.9 15.4-9.1 14.2-8 16.2-8.9 15.7-8.1 15.4-7.4 15-6.6"/>
<path d="M85 598.3l13.8-6.4 13.3-7 13.8-7.9 13.7-8.5 15-10 15.8-11.2 17-12.7 47.7-36.4 15-10.9 13.8-9.5 16.6-10.8 15.7-9.3 15.4-8.2 15.8-7.4"/>
<path d="M85 566.2l29.5-10.5 32-12 29.6-11.5 67.5-26.9 31.6-12.2 27.1-10.1 25.1-8.8"/>
<path d="M85 564.1l25.1-8.5 27.1-9.6 31.6-11.7 67.5-25.5 30-11.1 32-11.5 29.1-9.9"/>
<path d="M85 589.5l15.4-7 15.4-7.6 15.7-8.5 16.2-9.3 13.8-8.3 15.4-9.6 65.5-42.3 16.2-10 15-8.8 13.7-7.6 13.8-7.2 13.3-6.6 13-5.8"/>
<path d="M85 629.6l10.1-3 9.7-3.5 9.3-4.2 8.5-4.6 8.5-5.4 8.1-6.1 8.1-6.9 7.7-7.4 6.5-7 6.5-7.5 6.4-8.1 6.9-9.2 12.6-18 28.7-42.9 7.7-10.9 6.9-9.3 7.2-9.2 7.3-8.4 6.9-7.3 7.3-6.9 6.9-5.9 6.8-5.2 7.3-4.9 7.3-4.2 7.7-3.8 8.1-3.4 8.5-3 8.9-2.6"/>
<path d="M85 635.7l10.5-1.9 9.3-2.2 8.9-2.8 8.1-3.3 7.7-3.9 7.3-4.5 6.9-5.1 6.9-6 6.8-7 6.9-8.2 6.9-9.3 6.9-10.4 6.5-10.7 6.8-12.2 25.9-49.3 11.4-20.3 6.4-10.6 6.1-9.1 6.1-8.3 6-7.3 7.7-8.1 7.7-6.8 4.1-3.2 4-2.8 4.1-2.5 4.4-2.4 4.5-2.2 4.8-2.1 9.7-3.4 11-2.9 12.1-2.2"/>
<path d="M85 616.3l8.9-3.7 8.5-4 8.5-4.5 8.1-4.8 8.1-5.2 8.1-5.8 8.1-6.2 8.1-6.7 13.3-12.1 14.6-14.4 13.3-14 31.2-33.7 16.2-16.7 7.7-7.4 7.7-7.1 7.2-6.4 7.3-6 6.9-5.2 6.9-5 6.9-4.5 7.3-4.5 7.2-4.1 7.3-3.7 7.3-3.3 7.7-3.2"/>
<path d="M85 632.1l10.5-2.7 10.1-3.3 9.4-3.9 8.9-4.6 8.5-5.3 8-6 8.1-7 7.7-7.7 6.1-6.7 6.5-8 6.4-8.6 6.9-9.8 12.2-18.8 27.5-44.8 7.7-11.8 6.8-9.9 7.3-9.7 6.9-8.4 6.9-7.6 7.3-7.2 6.8-5.9 6.9-5.2 7.3-4.8 7.7-4.2 7.7-3.6 8.5-3.3 8.5-2.6 9.3-2.4"/>
<path d="M85 610.9l8.5-3.8 8.1-3.9 8.1-4.4 8.1-4.7 8.1-5.1 8.1-5.5 8.1-5.9 8.1-6.2 13.7-11.5 14.6-13.1 13.7-13.1 32-30.9 16.6-15.5 15.8-13.6 14.5-11.5 7.3-5.3 6.9-4.7 6.9-4.4 6.9-4.2 6.8-3.8 7.3-3.8 6.9-3.3 7.3-3.2"/>
<path d="M85 543.2l242.4-46"/>
<path d="M85 619.9l7.7-3 7.7-3.4 7.3-3.6 7.3-4 7.2-4.5 6.9-4.6 7.3-5.3 6.9-5.5 7.3-6.2 7.2-6.7 7.7-7.5 7.7-7.9 15.8-17.5 30.8-35.8 12.9-14.7 14.2-14.9 6.8-6.8 6.5-6 8.1-7 8.1-6.4 8.1-5.9 8.1-5.2 8.5-5 8.5-4.4 8.9-4.1 8.9-3.5"/>
<path d="M85 624.8l8.1-2.8 8.1-3.2 7.7-3.6 7.3-3.9 7.3-4.4 7.2-4.9 6.9-5.1 6.9-5.7 7.3-6.5 7.3-7.2 7.2-7.7 7.7-8.7 7.3-8.8 8.1-10.1 30-39.3 12.5-15.8 7.3-8.7 6.9-7.8 6.4-6.9 6.5-6.4 8.1-7.4 8.1-6.7 8.1-6 8.1-5.3 8.5-4.8 8.9-4.4 8.9-3.7 9.7-3.4"/>
<path d="M85 606.5l14.2-6.6 13.7-7.4 13.8-8.3 14.2-9.6 14.9-11.2 15.8-12.9 16.2-13.9 32.8-29.2 13.7-12 14.6-12.2 13.7-10.8 8.1-6 8.1-5.6 8.1-5.3 8.1-5 8.1-4.7 8.1-4.3 8.1-4 8.1-3.6"/>
<path d="M85 622.6l8.1-3 7.7-3.3 7.7-3.7 7.3-3.9 7.2-4.4 6.9-4.7 7.3-5.4 6.9-5.6 7.3-6.4 7.3-6.9 7.2-7.5 7.7-8.3 15.4-18 30.4-37.7 12.9-15.5 7.3-8.3 6.9-7.4 6.8-7.1 6.5-6.2 8.1-7.2 8.1-6.6 8.1-5.9 8.1-5.2 8.5-4.9 8.5-4.3 8.9-3.9 9.3-3.5"/>
<path d="M85 626.6l9.7-3.2 9.3-3.8 8.9-4.2 8.5-4.8 8.5-5.5 8.1-6 8.1-6.8 7.7-7.2 6.5-6.6 6.4-7.1 6.9-8.1 6.9-8.5 13-17.1 29.5-40.5 7.7-10.1 7.3-9.1 7.7-9 7.2-8 7.3-7.3 6.9-6.3 6.9-5.8 6.9-5.2 7.2-4.9 7.3-4.3 7.7-4 7.7-3.5 8.1-3.1 8.5-2.8"/>
<path d="M85 592.5l13.4-6.1 13.3-6.7 13.4-7.2 13.7-8 15-9.2 16.2-10.5 17-11.4 48.1-33 15.4-10.1 13.8-8.7 16.6-10 15.7-8.7 15.4-7.9 15.4-7.1"/>
<path d="M85 566.1l29.1-10.3 32-12 30-11.6 67.5-26.8 31.6-12.2 27.1-10.1 25.1-8.8"/>
<path d="M85 611.9l8.5-3.7 8.5-4.1 8.1-4.4 8.1-4.7 8.1-5.1 8.1-5.6 8.1-6 8.1-6.3 13.3-11.4 14.6-13.3 13.7-13.3 32-31.6 16.2-15.3 15.8-14 7.3-6 7.2-5.6 7.3-5.4 6.9-4.7 6.9-4.5 6.9-4.2 6.8-3.8 7.3-3.8 7.3-3.5 7.3-3.1"/>
<path d="M85 612.2l7.3-3.2 7.3-3.5 7.3-3.7 6.8-3.9 6.9-4.1 6.9-4.5 6.9-4.8 7.3-5.3 7.2-5.7 7.3-6 15.8-14 16.2-15.4 32-31.8 13.7-13.3 14.6-13.4 13.3-11.4 8.1-6.4 8.1-5.9 8.1-5.6 8.1-5.2 8.1-4.7 8.1-4.3 8.5-4.2 8.5-3.7"/>
<path d="M85 608.6l14.2-6.6 14.1-7.6 13.8-8.5 13.8-9.5 14.9-11.5 15.8-13.2 16.2-14.4 32.8-30.4 13.7-12.5 14.6-12.6 13.7-11.1 8.1-6.1 8.1-5.8 8.1-5.4 8.1-5 8.1-4.7 8.1-4.3 8.1-4 8.1-3.6"/>
<path d="M85 631.2l10.5-2.9 9.7-3.3 9.3-4 9-4.7 8.4-5.3 8.1-6 8.1-7 7.7-7.6 6.1-6.7 6.5-7.8 6.4-8.4 6.9-9.6 12.2-18.2 28.3-44.6 7.7-11.4 6.9-9.7 7.2-9.5 6.9-8.2 6.9-7.5 7.3-7.1 6.9-5.9 6.8-5.3 7.3-4.8 7.7-4.3 7.7-3.7 8.1-3.2 8.5-2.8 9.3-2.5"/>
<path d="M85 636l12.1-2.2 11-2.7 9.7-3.3 4.8-2.1 4.5-2.1 4.4-2.5 4.1-2.4 4-2.8 4.1-3.1 7.7-6.7 7.7-8.1 6-7.4 6.1-8.3 6.1-9.2 6.4-10.7 5.3-9.3 6.1-11.3 25.9-50 6.8-12.4 6.5-10.8 6.9-10.5 6.5-8.8 6.9-8.2 6.8-7.1 6.9-6.1 6.9-5.1 7.3-4.5 7.7-3.8 8.1-3.2 8.9-2.8 9.7-2.3 10.5-1.8"/>
<path d="M85 606.9l14.2-6.6 13.7-7.4 13.8-8.4 14.2-9.7 14.9-11.2 15.8-12.9 16.2-14 32.8-29.4 13.7-12.1 14.6-12.2 13.7-10.9 8.1-6 8.1-5.6 8.1-5.4 8.1-5 8.1-4.6 8.1-4.3 8.1-4 8.1-3.7"/>
<path d="M85 628.2l10.1-3.2 9.3-3.6 8.9-4.1 8.9-4.9 8.5-5.5 8.1-6 8.1-6.9 7.7-7.4 6.5-6.8 6.5-7.3 6.4-7.9 6.9-8.8 12.6-17.3 29.1-41.7 7.7-10.6 7.3-9.4 7.2-8.9 7.3-8.2 7.3-7.5 6.9-6.5 6.9-5.8 7.3-5.6 7.2-4.8 7.3-4.3 7.7-3.9 7.7-3.3 8.1-3 8.9-2.8"/>
<path d="M85 630.7l10.5-2.9 9.7-3.4 9.3-4 9-4.8 8.4-5.4 8.1-6 8.1-7 7.7-7.6 6.1-6.7 6.5-7.7 6.4-8.3 6.9-9.5 12.2-18 28.3-43.9 7.7-11.3 6.9-9.6 7.2-9.4 6.9-8.2 6.9-7.5 7.3-7 6.9-6 7.2-5.5 7.3-4.8 7.3-4.1 7.7-3.7 8.1-3.3 8.5-2.9 9.3-2.5"/>
<path d="M85 628.4l10.1-3.2 9.3-3.6 8.9-4.1 8.9-4.9 8.5-5.4 8.1-6.1 8.1-6.9 7.7-7.3 6.5-6.8 6.5-7.4 6.4-7.9 6.9-8.9 12.6-17.3 29.1-42 7.7-10.5 7.3-9.5 7.2-8.9 7.3-8.3 7.3-7.5 6.9-6.5 6.9-5.8 6.8-5.2 7.3-4.9 7.3-4.3 7.7-3.9 8.1-3.5 8.1-3 8.9-2.8"/>
<path d="M85 631.7l10.5-2.7 10.1-3.4 9.4-4 8.9-4.6 8.5-5.3 8-6.1 8.1-7 7.7-7.7 6.1-6.7 6.5-7.9 6.4-8.6 6.9-9.7 12.2-18.6 27.5-44.1 7.7-11.7 6.8-9.8 7.3-9.7 6.9-8.3 6.9-7.6 7.3-7.2 6.8-5.9 6.9-5.2 7.3-4.8 7.7-4.3 7.7-3.7 8.5-3.3 8.5-2.7 9.3-2.4"/>
<path d="M85 607.6l8.1-3.6 8.1-4 8.1-4.3 8.1-4.7 8.1-5 8.1-5.4 8.1-5.7 8.1-6 13.7-11 14.6-12.4 13.7-12.2 32.8-29.8 16.2-14.2 15.8-13.1 14.9-11.3 14.2-9.7 13.8-8.4 13.7-7.4 14.2-6.6"/>
<path d="M85 628.7l8.9-2.7 8.1-3 8.1-3.5 7.7-3.9 7.3-4.2 7.3-4.9 6.8-5.2 6.9-5.8 6.9-6.5 7.3-7.6 7.3-8.3 7.2-8.9 7.3-9.6 7.7-10.6 29.1-42.4 12.6-17.4 6.9-9 6.4-7.9 6.5-7.4 6.5-6.9 7.7-7.3 8.1-6.9 8.1-6 8.5-5.5 8.9-4.9 8.9-4 9.3-3.6 10.1-3.1"/>
<path d="M85 637.1l11.3-1.6 10.2-2 8.9-2.5 8.5-3.1 7.6-3.7 7.3-4.3 6.9-5.1 6.9-6.1 6.9-7.2 6.4-8.1 6.5-9.2 6.5-10.4 6.1-10.7 6.8-13.2 6.9-14 18.6-38.9 5.7-11.3 5.3-9.9 6-10.6 6.1-9.6 5.7-8.1 6-7.6 7.3-7.8 3.7-3.4 4-3.4 4-3.1 4.1-2.7 4-2.4 4.5-2.3 4.4-2.1 4.9-1.9 4.9-1.6 5.2-1.6 11.3-2.4 13-1.9"/>
<path d="M85 629.4l10.1-3 9.7-3.6 9.3-4.3 8.5-4.6 8.5-5.4 8.1-6.1 8.1-6.9 7.7-7.4 6.5-7 6.5-7.5 6.4-8 6.9-9.2 12.6-17.8 28.7-42.7 7.7-10.8 6.9-9.2 7.2-9.1 7.3-8.4 7.3-7.7 6.9-6.6 6.9-5.8 7.2-5.5 7.3-4.9 7.3-4.2 7.7-3.8 8.1-3.4 8.1-2.9 8.9-2.6"/>
<path d="M85 600.9l13.8-6.5 13.7-7.3 13.8-8 13.7-8.8 15-10.4 15.8-11.7 16.6-12.9 47.3-37.8 15-11.4 13.8-9.9 16.5-11.1 15.8-9.5 15.8-8.5 15.8-7.6"/>
<path d="M85 627.1l10.1-3.4 9.3-3.7 8.9-4.2 8.5-4.8 8.5-5.5 8.1-6 8.1-6.9 7.7-7.2 6.5-6.7 6.5-7.2 6.8-8.1 6.9-8.7 12.6-16.7 29.5-41.1 7.7-10.2 7.3-9.2 7.7-9.1 7.2-8 7.3-7.4 6.9-6.3 6.9-5.8 6.9-5.1 7.2-4.9 7.3-4.3 7.7-4 7.7-3.4 8.1-3.1 8.5-2.8"/>
<path d="M85 633.4l9.7-2.2 8.9-2.6 8.5-3.1 8.1-3.7 7.7-4.2 7.3-4.7 6.9-5.2 6.8-6 6.9-6.9 6.9-7.8 6.9-8.7 7.3-10.1 6.8-10.4 7.3-11.7 27.1-46.4 11.8-19 6.4-9.6 6.5-9 6.5-8.2 6.1-7 7.7-7.8 8-7 8.1-6 8.5-5.2 8.9-4.4 9.3-3.7 10.2-3.1 11.3-2.7"/>
<path d="M85 623.7l9.3-3.4 9.3-4 8.5-4.3 8.5-4.8 8.1-5.3 8.1-5.9 8.1-6.7 8.1-7.3 6.5-6.3 6.4-6.8 6.9-7.5 7.3-8.5 12.9-15.9 30-38.1 8.1-9.9 7.3-8.6 7.7-8.5 7.2-7.6 7.3-7.1 7.3-6.5 6.9-5.6 7.3-5.5 6.8-4.6 7.3-4.4 7.3-3.9 7.7-3.7 8.1-3.4 8.1-2.9"/>
<path d="M85 602.6l13.8-6.5 13.7-7.3 13.8-8.1 13.7-9 15-10.6 15.8-12 16.6-13.3 47.3-39 15-11.8 13.8-10.1 16.5-11.3 15.8-9.7 7.7-4.3 8.1-4.3 7.7-3.8 8.1-3.7"/>
<path d="M85 635.1l11.7-2.3 10.6-2.9 9.7-3.5 4.8-2.2 4.5-2.2 8.5-5 8.1-5.9 7.7-6.8 7.6-8 6.1-7.2 6.1-8 6.5-9.5 6.4-10.3 11.4-19.7 26.3-48.6 7.3-12.5 6.4-10.4 6.9-10.2 6.9-9.1 6.9-8.1 6.8-7 6.9-6 6.9-5.2 7.3-4.6 7.7-3.9 8.1-3.4 8.5-2.8 9.3-2.4 10.5-2.1"/>
<path d="M85 576.7l15-6 15-6.4 15.3-6.9 16.6-7.8 29.6-14.4 66.7-33.6 31.6-15.2 27.1-12.2 25.5-10.5"/>
<path d="M85 625.7l9.7-3.4 9.3-3.8 8.9-4.3 8.5-4.9 8.1-5.2 8.1-6 8.1-6.8 8.1-7.5 6.5-6.5 6.4-7 6.9-7.9 6.9-8.4 12.5-16.2 30-40 7.7-9.9 7.3-8.9 7.7-8.9 7.2-7.8 7.3-7.3 7.3-6.6 6.9-5.8 6.9-5.1 7.2-4.9 7.3-4.4 7.7-4 7.7-3.5 8.1-3.2 8.1-2.8"/>
<path d="M85 616.5l7.7-3.2 7.3-3.3 7.3-3.7 7.2-4.1 7.3-4.5 6.9-4.5 6.9-4.9 6.9-5.3 7.3-6 7.2-6.4 7.7-7.1 7.7-7.5 16.2-16.7 31.2-33.8 13.3-14.1 14.6-14.5 13.3-12.1 8.1-6.7 8.1-6.3 8.1-5.7 8.1-5.2 8.1-4.8 8.5-4.5 8.5-4 8.9-3.7"/>
<path d="M85 579.2l15-6.2 15-6.7 15.7-7.3 16.2-7.9 29.6-15.1 66.3-35.1 31.6-16 27.1-12.7 12.9-5.6 13-5.4"/>
<path d="M85 633.1l11.3-2.7 10.2-3.2 9.3-3.8 8.9-4.5 8.5-5.2 8.1-6 8-7.1 7.7-7.8 6.1-6.9 6.5-8.2 6.5-8.9 6.4-9.6 11.8-18.8 27.5-46.4 7.3-11.6 6.8-10.2 7.3-10 6.9-8.6 6.9-7.7 6.9-6.9 6.8-6 6.9-5.2 7.3-4.7 7.7-4.2 7.7-3.5 8.5-3.1 8.9-2.7 9.7-2.3"/>
<path d="M85 623.3l9.3-3.4 9.3-4 8.5-4.3 8.5-4.9 8.1-5.3 8.1-5.9 8.1-6.6 8.1-7.3 6.5-6.3 6.4-6.7 6.9-7.6 7.3-8.4 12.9-15.8 30.4-38.3 8.1-9.8 7.3-8.4 7.7-8.5 7.2-7.5 7.3-7 7.3-6.5 6.9-5.6 7.3-5.4 6.9-4.6 7.2-4.4 7.3-3.9 7.7-3.7 7.7-3.2 8.1-2.9"/>
<path d="M85 580.4l13-5.5 12.9-5.7 13.4-6.2 13.7-6.7 15-7.6 16.6-8.7 66.3-35.9 29.6-15.5 16.2-8 15.7-7.5 15-6.8 15-6.3"/>
<path d="M85 627l10.1-3.3 9.3-3.8 8.9-4.2 8.5-4.8 8.5-5.5 8.1-6 8.1-6.9 7.7-7.2 6.5-6.7 6.5-7.2 6.8-8.1 6.9-8.7 12.6-16.7 29.5-40.9 7.7-10.2 7.3-9.2 7.7-9.1 7.2-8 7.3-7.4 6.9-6.3 6.9-5.8 6.9-5.1 7.2-4.9 7.3-4.3 7.7-4 7.7-3.4 8.1-3.1 8.5-2.8"/>
<path d="M85 606.5l14.2-6.7 13.7-7.4 13.8-8.3 13.7-9.3 15-11.2 15.8-12.8 16.6-14.2 32.8-29.2 13.7-12 14.6-12.2 13.7-10.7 8.1-6 8.1-5.6 8.1-5.4 8.1-4.9 8.1-4.7 8.1-4.3 8.1-4 8.1-3.7"/>
<path d="M85 543.7l242.4-47"/>
<path d="M85 598.6l13.8-6.5 13.3-6.9 13.8-7.9 13.7-8.6 15-10 15.8-11.3 17-12.7 47.7-36.6 15-11 13.8-9.5 16.6-10.8 15.7-9.3 15.4-8.2 15.8-7.5"/>
<path d="M85 621.9l8.1-3 7.7-3.3 7.3-3.5 7.3-4 7.2-4.4 6.9-4.6 7.3-5.4 6.9-5.5 7.3-6.4 7.2-6.9 7.7-7.7 7.7-8.3 15.4-17.7 30.8-37.6 12.9-15.3 7.3-8.1 6.9-7.4 6.4-6.5 6.5-6.2 8.1-7.2 8.1-6.5 8.1-5.9 8.1-5.3 8.5-4.9 8.5-4.4 8.9-3.9 9.3-3.5"/>
<path d="M85 627.4l8.9-2.8 8.1-3.1 7.7-3.4 7.7-4 7.3-4.3 7.2-4.9 6.9-5.2 6.9-5.8 6.9-6.4 7.3-7.4 7.3-8.1 7.6-9.3 7.3-9.3 7.7-10.2 29.1-40.9 12.6-16.9 6.9-8.7 6.8-8.3 6.5-7.2 6.5-6.7 7.7-7.3 8.1-6.8 8.1-6 8.5-5.5 8.5-4.8 8.9-4.2 9.3-3.6 10.1-3.3"/>
<path d="M85 620.2l7.7-3 7.7-3.4 7.3-3.6 7.3-4 7.2-4.4 6.9-4.6 7.3-5.4 6.9-5.4 7.3-6.3 7.2-6.7 7.7-7.5 7.7-8 15.8-17.6 30.8-36 12.9-14.8 14.2-15 6.8-6.8 6.5-6 8.1-7 8.1-6.5 8.1-5.8 8.1-5.3 8.5-5 8.5-4.3 8.9-4.1 8.9-3.5"/>
<path d="M85 617.8l7.7-3.1 7.3-3.3 7.3-3.7 7.2-4 7.3-4.5 6.9-4.6 6.9-4.9 7.3-5.7 7.3-6.1 7.2-6.5 7.7-7.2 7.7-7.7 15.8-16.7 31.2-34.7 13.3-14.5 14.2-14.4 13.3-12.3 8.1-6.9 8.1-6.3 8.1-5.8 8.1-5.2 8.1-4.8 8.5-4.5 8.9-4.1 8.9-3.7"/>
<path d="M85 625.2l9.7-3.4 8.9-3.7 8.9-4.3 8.5-4.9 8.1-5.2 8.1-6 8.1-6.7 8.1-7.4 6.5-6.5 6.4-6.9 6.9-7.8 7.3-8.8 12.5-16 30-39.6 8.1-10.2 7.3-8.8 7.7-8.8 7.2-7.8 7.3-7.1 6.9-6.3 6.9-5.7 6.9-5.2 7.2-4.9 7.3-4.3 7.7-4.1 7.7-3.6 8.1-3.2 8.1-2.8"/>
<path d="M85 612.2l7.3-3.2 7.3-3.5 7.3-3.7 6.8-3.9 6.9-4.1 6.9-4.5 6.9-4.8 7.3-5.3 7.2-5.7 7.3-6 15.8-14 16.2-15.4 32-31.8 13.7-13.3 14.6-13.4 13.3-11.4 8.1-6.4 8.1-5.9 8.1-5.6 8.1-5.2 8.1-4.7 8.1-4.3 8.5-4.2 8.5-3.7"/>
<path d="M85 632.7l10.9-2.6 10.2-3.2 9.3-3.8 8.9-4.5 8.5-5.3 8.1-5.9 8-7.1 7.7-7.7 6.1-6.9 6.5-8.1 6.4-8.8 6.5-9.4 12.2-19.2 27.5-45.9 7.3-11.4 6.8-10.2 7.3-9.9 6.9-8.6 6.9-7.7 7.3-7.2 6.8-5.9 6.9-5.2 7.3-4.7 7.7-4.2 7.7-3.6 8.5-3.1 8.9-2.7 9.3-2.2"/>
<path d="M85 619.9l8.9-3.6 8.9-4 8.5-4.4 8.5-5 8.1-5.3 8.1-5.8 8.1-6.5 8.1-7 6.5-6 6.8-6.7 14.2-15 12.9-14.6 30.8-35.8 15.8-17.4 7.7-8 7.7-7.5 7.2-6.7 7.3-6.2 6.9-5.5 7.3-5.3 6.9-4.6 7.2-4.4 7.3-4 7.3-3.6 7.7-3.4 7.7-3.1"/>
<path d="M85 622.5l9.3-3.5 8.9-3.9 8.5-4.3 8.5-4.9 8.1-5.3 8.1-5.9 8.1-6.6 8.1-7.2 6.5-6.2 6.8-7 6.9-7.5 7.3-8.2 12.9-15.5 30.4-37.5 15.4-17.9 7.7-8.4 7.2-7.4 7.3-6.9 7.3-6.5 6.9-5.5 7.3-5.4 6.9-4.7 7.2-4.4 7.3-4 7.7-3.7 7.7-3.2 8.1-3.1"/>
<path d="M85 626.2l9.7-3.3 9.3-3.8 8.9-4.3 8.5-4.8 8.5-5.5 8.1-6 8.1-6.8 7.7-7.2 6.5-6.5 6.4-7.1 6.9-8 6.9-8.5 12.5-16.3 30-40.6 7.7-10 7.3-9 7.7-9 7.2-7.9 7.3-7.3 6.9-6.3 6.9-5.8 6.9-5.2 7.2-4.9 7.3-4.3 7.7-4.1 7.7-3.5 8.1-3.2 8.5-2.8"/>
<path d="M85 585l13-5.7 13.3-6.2 13.4-6.7 13.7-7.1 15-8.2 16.2-9.2 65.9-39.1 29.6-16.8 16.2-8.7 15.7-8 15.4-7.3 15-6.6"/>
<path d="M85 597.9l15.8-7.4 15.4-8.2 15.7-9.3 16.6-10.7 13.8-9.4 15-10.9 47.7-36.1 17-12.6 15.8-11.1 15-10 13.7-8.5 13.8-7.8 13.3-7 13.8-6.4"/>
<path d="M85 635l11.7-2.3 10.6-2.9 9.7-3.5 4.8-2.2 4.5-2.2 8.5-5.1 8.1-5.9 7.7-6.8 7.6-8 6.1-7.2 6.1-8 6.5-9.5 6.4-10.3 11.4-19.6 26.3-48.4 7.3-12.5 6.4-10.4 6.9-10.1 6.9-9.1 6.9-8.1 6.8-7 6.9-6 6.9-5.2 7.3-4.6 7.7-4 8.1-3.4 8.9-3 9.3-2.3 10.1-2"/>
<path d="M85 623.1l8.1-2.9 7.7-3.2 7.7-3.7 7.3-3.9 7.2-4.4 6.9-4.7 7.3-5.4 6.9-5.6 7.3-6.4 7.3-7 7.2-7.5 7.7-8.5 7.3-8.4 8.1-9.7 30.4-38.2 12.9-15.7 7.3-8.4 6.9-7.5 6.4-6.7 6.5-6.3 8.1-7.2 8.1-6.6 8.1-6 8.1-5.3 8.5-4.9 8.5-4.3 9.3-4 9.3-3.4"/>
<path d="M85 610.4l8.5-3.8 8.1-3.9 8.1-4.3 8.1-4.8 8.1-5 8.1-5.5 8.1-5.9 8.1-6.3 13.7-11.4 14.6-13 13.7-12.9 32-30.7 16.6-15.3 15.8-13.6 14.5-11.4 7.3-5.3 6.9-4.7 13.8-8.5 6.8-3.8 7.3-3.8 6.9-3.3 7.3-3.2"/>
<path d="M85 623.2l9.3-3.4 9.3-4 8.5-4.3 8.5-4.9 8.1-5.3 8.1-5.9 8.1-6.6 8.1-7.3 6.5-6.3 6.4-6.7 6.9-7.6 7.3-8.3 12.9-15.8 30.4-38.2 8.1-9.8 7.3-8.4 7.7-8.5 7.2-7.5 7.3-7 7.3-6.5 6.9-5.6 7.3-5.4 6.9-4.6 7.2-4.4 7.3-3.9 7.7-3.7 7.7-3.2 8.1-2.9"/>
<path d="M85 605l14.2-6.6 13.7-7.4 13.8-8.3 13.7-9.2 15-10.9 15.8-12.5 16.6-14 32.8-28.4 13.7-11.7 15-12.2 13.8-10.5 16.1-11.4 8.1-5.2 8.1-5 7.7-4.3 8.1-4.4 8.1-3.9 8.1-3.7"/>
<path d="M85 622.2l8.1-3 7.7-3.3 7.3-3.5 7.3-4 7.2-4.4 6.9-4.6 7.3-5.4 6.9-5.5 7.3-6.4 7.2-6.9 7.7-7.8 7.7-8.3 15.4-17.8 30.4-37.3 12.9-15.4 7.3-8.2 6.9-7.4 6.8-7 6.5-6.2 8.1-7.2 8.1-6.5 8.1-5.9 8.1-5.3 8.5-4.9 8.5-4.4 8.9-3.9 9.3-3.5"/>
<path d="M85 599.4l15.8-7.5 15.8-8.5 15.8-9.4 16.1-10.6 13.8-9.7 15.4-11.4 47.3-36.8 16.6-12.6 16.2-11.7 15-10.1 13.7-8.7 13.8-7.9 13.3-7 13.8-6.5"/>
<path d="M85 622.2l8.1-3.1 7.7-3.3 7.3-3.5 7.3-3.9 7.2-4.4 6.9-4.7 7.3-5.3 6.9-5.6 7.3-6.3 7.2-6.9 7.7-7.8 7.7-8.3 15.4-17.8 30.8-37.8 12.9-15.3 7.3-8.2 6.9-7.4 6.4-6.6 6.5-6.2 8.1-7.1 8.1-6.6 8.1-5.9 8.1-5.3 8.5-4.9 8.5-4.3 8.9-3.9 9.3-3.6"/>
<path d="M85 561l25.1-8 26.7-8.8 32-10.9 97.5-34 32-10.6 29.1-9.3"/>
<path d="M85 633.8l9.7-2.1 8.9-2.5 8.5-3 8.1-3.6 7.7-4.1 7.3-4.6 6.9-5.2 6.8-6 6.9-6.9 6.9-7.8 6.9-8.7 7.3-10.3 6.8-10.5 7.3-11.9 27.1-47.3 11.8-19.3 6.4-9.8 6.5-9.1 6.1-7.7 6.1-7.1 7.6-7.9 8.1-7 8.1-6 8.5-5.1 8.9-4.4 9.7-3.8 10.2-3 11.3-2.5"/>
<path d="M85 604.1l14.2-6.6 13.7-7.4 13.8-8.3 13.7-9.1 15-10.8 15.8-12.3 16.6-13.7 46.5-39.5 15-12 13.8-10.4 8.4-6 8.1-5.5 8.1-5.2 7.7-4.7 7.7-4.3 8.1-4.3 8.1-4 8.1-3.7"/>
<path d="M85 560.8l29.1-9.2 32-10.6 97.5-33.8 32-10.9 26.7-8.8 25.1-7.9"/>
<path d="M85 611.9l7.3-3.2 7.3-3.5 7.3-3.8 6.8-3.8 6.9-4.2 6.9-4.4 6.9-4.8 7.3-5.3 7.2-5.7 7.3-6 15.8-13.9 16.2-15.3 32-31.6 13.7-13.3 14.6-13.3 13.3-11.3 8.1-6.4 8.1-5.9 8.1-5.6 8.1-5.1 8.1-4.8 8.1-4.3 8.5-4.1 8.5-3.8"/>
<path d="M85 608.1l8.1-3.6 8.1-4 8.1-4.3 8.1-4.7 8.1-5 8.1-5.4 8.1-5.7 8.1-6.1 13.7-11 14.6-12.5 13.7-12.4 32.8-30.1 16.2-14.3 15.8-13.1 14.9-11.5 14.2-9.7 13.8-8.4 13.7-7.4 14.2-6.6"/>
<path d="M85 619.9l8.9-3.5 8.9-4 8.5-4.4 8.5-5 8.1-5.3 8.1-5.8 8.1-6.5 8.1-7 6.5-6 6.8-6.7 14.2-15 12.9-14.6 30.8-35.9 15.8-17.5 7.7-8 7.7-7.5 7.2-6.7 7.3-6.2 6.9-5.5 7.3-5.3 6.9-4.6 7.2-4.4 7.3-4 7.3-3.6 7.7-3.4 7.7-3"/>
<path d="M85 581.3l13-5.5 12.9-5.8 13.4-6.3 13.7-6.8 15-7.7 16.6-8.8 65.9-36.4 29.6-15.8 16.6-8.3 15.7-7.6 15-6.8 15-6.4"/>
<path d="M85 624.1l9.7-3.5 8.9-3.8 8.5-4.2 8.5-4.9 8.1-5.2 8.1-6 8.1-6.6 8.1-7.3 6.5-6.4 6.4-6.8 6.9-7.6 7.3-8.6 12.9-16 30-38.6 8.1-10 7.3-8.6 7.7-8.6 7.2-7.6 7.3-7.1 7.3-6.6 6.9-5.6 7.3-5.5 6.8-4.6 7.3-4.4 7.3-3.9 7.7-3.6 8.1-3.3 8.1-2.9"/>
<path d="M85 639.8l15-.7 12.1-1.1 10.5-1.6 8.9-2.2 7.7-2.8 3.7-1.6 3.6-2 3.7-2.3 3.2-2.3 3.2-2.7 2.9-2.7 3.2-3.4 2.8-3.4 3.3-4.3 2.8-4.2 5.7-9.6 5.6-11.3 5.7-13 5.7-14.6 5.6-15.7 15.4-44.2 4.9-13.1 4.4-11.1 5.3-12 5.2-10.4 5.3-9 5.7-8.1 3.2-3.9 3.2-3.5 3.7-3.4 3.6-3 3.7-2.5 4-2.4 4.5-2.2 4.4-1.8 4.9-1.6 4.8-1.3 5.3-1.1 5.6-.9 13.4-1.4 17-.8"/>
<path d="M85 575.4l25.5-10.3 27.1-12 31.6-14.8 66.7-32.7 29.6-14 16.6-7.6 15.3-6.8 15-6.3 15-5.9"/>
<path d="M85 623.2l9.3-3.5 9.3-4 8.5-4.3 8.5-4.9 8.1-5.3 8.1-5.9 8.1-6.6 8.1-7.3 6.5-6.3 6.4-6.7 6.9-7.5 7.3-8.4 12.9-15.7 30.4-38.2 8.1-9.7 7.3-8.5 7.7-8.4 7.2-7.5 7.3-7 7.3-6.5 6.9-5.6 7.3-5.4 6.9-4.6 7.2-4.4 7.3-3.9 7.7-3.7 7.7-3.2 8.1-3"/>
<path d="M85 609.7l14.2-6.5 7.3-3.8 6.8-3.9 13.8-8.5 14.2-9.9 14.5-11.3 15.8-13.4 16.6-15.2 32-30.2 13.7-12.8 14.6-12.8 13.7-11.3 8.1-6.2 8.1-5.9 8.1-5.4 8.1-5.1 8.1-4.7 8.1-4.3 8.1-4 8.5-3.8"/>
<path d="M85 620.7l8.1-3.2 7.7-3.3 7.3-3.6 7.3-4 7.2-4.5 6.9-4.6 6.9-5 6.9-5.5 7.3-6.3 7.2-6.7 7.7-7.6 7.7-8.1 15.8-17.7 30.8-36.5 12.9-14.9 14.2-15.2 6.8-6.8 6.5-6.1 8.1-7 8.1-6.5 8.1-5.8 8.1-5.3 8.5-4.9 8.5-4.4 8.9-4 8.9-3.5"/>
<path d="M85 548.7l51.4-11.9 130.3-31 60.7-14.1"/>
<path d="M85 581.1l13-5.5 12.9-5.8 13.4-6.3 13.7-6.8 15-7.6 16.6-8.8 65.9-36.2 29.6-15.7 16.6-8.4 15.7-7.5 15-6.8 15-6.4"/>
<path d="M85 625.1l8.1-2.8 8.1-3.3 7.7-3.6 7.7-4 7.3-4.4 7.2-5 6.9-5.1 6.9-5.7 6.9-6.3 7.3-7.1 7.2-7.8 7.7-8.7 7.3-8.8 8.1-10.2 30-39.5 12.5-15.9 7.3-8.7 6.9-7.8 6.4-6.9 6.5-6.5 8.1-7.4 8.1-6.7 8.1-6 8.1-5.2 8.5-4.9 8.9-4.3 8.9-3.7 9.7-3.5"/>
<path d="M85 616.1l7.7-3.3 7.3-3.3 7.3-3.7 7.2-4.1 7.3-4.5 6.9-4.5 6.9-5 6.9-5.2 7.3-6 7.2-6.3 7.7-7.1 7.7-7.4 16.2-16.6 31.2-33.5 13.3-14 14.6-14.3 13.3-12 8.1-6.7 8.1-6.2 8.1-5.8 8.1-5.2 8.1-4.8 8.5-4.5 8.5-4 8.9-3.8"/>
<path d="M85 635.6l10.5-2 9.3-2.2 8.9-2.9 8.1-3.3 7.7-3.9 7.3-4.5 6.9-5.2 6.9-6 6.8-7.1 6.9-8.1 6.5-8.7 6.9-10.3 6.4-10.6 7.3-12.8 26.3-49.7 11.4-20.1 6.4-10.5 6.1-9 6.1-8.2 6-7.3 7.7-8 7.7-6.8 4.1-3.1 4-2.7 4.1-2.6 4.4-2.4 4.5-2.2 4.8-2.1 9.7-3.4 11-2.9 11.7-2.2"/>
<path d="M85 598.1l15.8-7.5 15.4-8.2 15.7-9.3 16.6-10.7 13.8-9.5 15-10.8 47.7-36.2 17-12.6 15.8-11.2 15-10 13.7-8.5 13.8-7.9 13.3-6.9 13.8-6.5"/>
<path d="M85 620.3l7.7-2.9 7.7-3.4 7.7-3.8 7.3-4 7.2-4.5 6.9-4.6 6.9-5.1 6.9-5.4 7.3-6.3 7.2-6.7 7.7-7.6 7.7-8 15.8-17.6 30.8-36.2 12.9-14.8 14.2-15 6.8-6.8 6.5-6.1 8.1-7 8.1-6.5 8.1-5.8 8.1-5.3 8.5-5 8.5-4.3 8.9-4.1 8.9-3.4"/>
<path d="M85 639.1l15-1.2 12.5-1.8 5.7-1.2 5.3-1.3 4.8-1.6 4.5-1.7 4.4-2 4.1-2.1 4-2.5 4-2.9 3.7-3 3.6-3.4 3.7-3.8 3.6-4.3 5.7-7.7 5.2-8.3 5.7-10.2 5.7-11.6 4.8-10.8 5.3-12.5 16.6-42 6-14.8 6.1-13.9 6.1-12.6 6.1-11.1 6-9.6 3.3-4.5 3.2-4.1 3.2-3.7 3.3-3.3 6.4-5.7 6.5-4.5 7.3-3.9 8.1-3.3 8.9-2.5 9.7-2 11.3-1.4 13-1"/>
<path d="M85 596l13.4-6.2 13.3-6.9 13.8-7.7 13.7-8.3 15-9.7 16.2-11 17-12.2 47.7-34.9 15-10.5 13.8-9.2 16.6-10.4 15.7-9.1 15.8-8.3 15.4-7.2"/>
<path d="M85 591l15.4-7.1 15.4-7.7 15.7-8.6 16.2-9.5 13.8-8.5 15.4-9.9 48.5-32.3 17-11.2 16.2-10.2 15-9 13.7-7.8 13.8-7.3 13.3-6.6 13-5.9"/>
<path d="M85 616.1l7.7-3.2 7.3-3.4 7.3-3.7 7.2-4 7.3-4.5 6.9-4.6 6.9-4.9 6.9-5.3 7.3-5.9 7.2-6.4 7.7-7 7.7-7.5 16.2-16.6 31.2-33.5 13.3-14 14.6-14.4 13.3-12 8.1-6.7 8.1-6.2 8.1-5.7 8.1-5.3 8.1-4.7 8.5-4.6 8.5-4 8.9-3.7"/>
<path d="M85 615.9l7.7-3.2 7.3-3.4 7.3-3.7 7.2-4.1 7.3-4.4 6.9-4.6 6.9-4.9 6.9-5.3 7.3-5.9 7.2-6.3 7.7-7.1 7.7-7.4 16.2-16.6 31.2-33.4 13.3-13.9 14.6-14.3 13.3-12 8.1-6.7 8.1-6.2 8.1-5.7 8.1-5.3 8.1-4.7 8.5-4.5 8.5-4.1 8.9-3.7"/>
<path d="M85 629.8l10.1-3 9.7-3.5 9.3-4.1 8.5-4.6 8.5-5.4 8.1-6 8.1-7 7.7-7.4 6.5-7 6.5-7.6 6.4-8.1 6.9-9.2 12.6-18.1 28.7-43.2 7.7-11 6.9-9.2 7.2-9.2 7.3-8.5 6.9-7.3 7.3-7 6.9-5.8 6.8-5.2 7.3-4.9 7.3-4.2 7.7-3.8 8.1-3.4 8.5-2.9 8.9-2.6"/>
<path d="M85 619.5l7.7-3 7.7-3.5 7.3-3.6 7.3-4 7.2-4.5 6.9-4.6 7.3-5.3 6.9-5.4 7.3-6.2 7.2-6.7 7.7-7.4 7.7-7.9 15.4-16.9 31.2-36 13.3-15 14.2-14.8 6.9-6.7 6.4-5.9 8.1-7 8.1-6.3 8.1-5.9 8.1-5.2 8.1-4.8 8.5-4.4 8.9-4 8.9-3.6"/>
<path d="M85 596.3l13.4-6.2 13.3-6.9 13.8-7.7 13.7-8.3 15-9.8 16.2-11.1 17-12.2 47.7-35.1 15-10.5 13.8-9.3 16.6-10.5 15.7-9.1 15.8-8.3 15.4-7.2"/>
<path d="M85 621l8.1-3.1 7.7-3.3 7.3-3.6 7.3-4 7.2-4.5 6.9-4.6 7.3-5.3 6.9-5.6 7.3-6.3 7.2-6.8 7.3-7.2 7.7-8.1 15.8-17.9 30.8-36.7 12.9-15 14.2-15.3 6.8-6.8 6.5-6.1 8.1-7.1 8.1-6.5 8.1-5.8 8.1-5.3 8.5-5 8.5-4.3 8.9-4 8.9-3.4"/>
<path d="M85 638.7l12.6-1.2 10.9-1.6 9.7-2.2 8.5-2.6 8.1-3.5 7.3-4.1 6.8-4.9 6.5-5.7 6.5-7.1 6.5-8.4 6-9.3 6.5-11.5 6.1-12.1 6-13.2 6.1-14.1 17.4-41.6 5.3-11.9 4.8-10.3 6.1-11.9 5.7-9.8 5.6-8.7 5.7-7.5 3.6-4.2 3.7-3.8 3.6-3.4 3.7-3 4-2.9 4.1-2.6 4-2.2 4.5-2.1 4.8-2 4.9-1.6 5.2-1.4 5.3-1.2 12.1-2 14.2-1.4"/>
<path d="M85 633.4l11.3-2.6 10.2-3.1 9.3-3.7 8.9-4.4 8.5-5.2 8.1-5.9 8-7.1 7.7-7.8 6.1-6.9 6.5-8.3 6.5-8.9 6.4-9.7 11.8-19.1 27.1-46.4 7.3-11.8 6.8-10.4 7.3-10.1 6.9-8.7 6.9-7.8 6.9-6.9 6.8-6 6.9-5.2 7.3-4.8 7.7-4.1 8.1-3.7 8.5-3 8.9-2.6 9.7-2.2"/>
<path d="M85 493.8l51.4 11 130.3 28.7 60.7 13.1"/>
<path d="M85 613.8l7.7-3.3 7.3-3.5 7.3-3.7 6.8-3.9 7.3-4.4 6.9-4.5 6.9-4.9 6.9-5.1 7.2-5.9 7.3-6.1 7.7-6.8 8.1-7.6 15.8-15.5 32-32.7 13.3-13.4 14.6-13.8 13.3-11.6 8.1-6.5 8.1-6.1 8.1-5.7 8.1-5.1 8.1-4.8 8.5-4.5 8.5-4.1 8.5-3.7"/>
<path d="M85 592.1l13.4-6.2 13.3-6.6 13.4-7.2 13.7-7.9 15-9.2 16.2-10.4 17-11.3 48.1-32.7 15.4-10.1 13.8-8.7 16.6-9.8 15.7-8.8 15.4-7.8 15.4-7.1"/>
<path d="M85 627.3l8.9-2.9 8.1-3.1 7.7-3.5 7.7-3.9 7.3-4.4 7.2-4.9 6.9-5.2 6.9-5.8 6.9-6.4 7.3-7.4 7.3-8.1 7.6-9.1 7.3-9.3 7.7-10.3 29.1-40.7 12.6-16.8 6.9-8.7 6.8-8.1 6.5-7.3 6.5-6.7 7.7-7.2 8.1-6.8 8.1-6.1 8.5-5.5 8.5-4.7 8.9-4.3 9.3-3.7 10.1-3.3"/>
<path d="M85 613.1l8.5-3.7 8.5-4.1 8.1-4.3 8.1-4.8 8.1-5.1 8.1-5.6 8.1-6.1 8.1-6.4 13.3-11.5 14.6-13.6 13.7-13.6 32-32.3 16.2-15.7 8.1-7.4 7.7-6.7 7.3-6.1 7.2-5.8 6.9-5.1 6.9-4.8 6.9-4.5 7.3-4.4 6.8-3.8 7.3-3.8 7.3-3.4 7.3-3.2"/>
<path d="M85 636.8l10.9-1.6 10.2-2.2 8.9-2.5 8.5-3.2 7.6-3.8 7.3-4.4 6.9-5 6.9-6.1 6.9-7.3 6.4-7.9 6.5-9.1 6.9-10.9 6.1-10.6 6.8-12.9 25.5-51.8 5.7-11.1 5.3-9.7 6-10.5 6.1-9.5 6.1-8.6 6-7.5 3.7-4.1 4-4.1 3.7-3.3 4-3.4 4.1-3 4-2.7 4-2.5 4.5-2.3 8.9-3.8 4.9-1.7 5.2-1.6 11.3-2.6 12.6-1.9"/>
<path d="M85 630.7l10.5-3 9.7-3.4 9.3-4.1 8.5-4.5 8.5-5.3 8.1-6.1 8.1-6.9 7.7-7.6 6.5-7 6.5-7.7 6.4-8.4 6.9-9.4 12.2-17.9 28.3-43.9 7.7-11.2 6.9-9.6 7.2-9.4 7.3-8.6 6.9-7.4 7.3-7 6.9-5.9 6.8-5.2 7.3-4.8 7.3-4.2 7.7-3.7 8.1-3.3 8.5-2.9 9.3-2.6"/>
<path d="M85 630.3l10.5-3 9.7-3.5 9.3-4.2 8.5-4.5 8.5-5.4 8.1-6.1 8.1-6.9 7.7-7.5 6.5-7.1 6.5-7.6 6.4-8.3 6.9-9.4 12.2-17.7 28.3-43.3 7.7-11.1 6.9-9.4 7.2-9.4 7.3-8.5 6.9-7.4 7.3-7 6.9-5.9 7.2-5.5 7.3-4.8 7.3-4.2 7.7-3.7 8.1-3.4 8.5-2.9 8.9-2.5"/>
<path d="M85 620.6l7.7-3 7.7-3.4 7.7-3.8 7.3-4 7.2-4.4 6.9-4.6 6.9-5.1 6.9-5.5 7.3-6.2 7.2-6.8 7.7-7.5 7.7-8.1 15.8-17.7 30.8-36.4 12.9-14.8 14.2-15.2 6.8-6.8 6.5-6 8.1-7.1 8.1-6.4 8.1-5.9 8.1-5.3 8.5-4.9 8.5-4.4 8.9-4 8.9-3.5"/>
<path d="M85 616l8.9-3.7 8.5-4.1 8.5-4.5 8.1-4.7 8.1-5.3 8.1-5.7 8.1-6.2 8.1-6.7 13.3-12 14.6-14.4 13.3-13.9 31.2-33.5 16.2-16.5 7.7-7.5 7.7-7 7.2-6.4 7.3-5.9 6.9-5.3 6.9-4.9 6.9-4.6 7.3-4.4 7.2-4.1 7.3-3.7 7.3-3.4 7.7-3.2"/>
<path d="M85 623.2l8.1-2.9 7.7-3.2 7.7-3.7 7.3-3.9 7.2-4.4 6.9-4.7 7.3-5.4 6.9-5.6 7.3-6.4 7.3-7 7.2-7.5 7.7-8.5 7.3-8.4 8.1-9.8 30.4-38.2 12.9-15.7 7.3-8.4 6.9-7.6 6.4-6.7 6.5-6.3 8.1-7.2 8.1-6.7 8.1-5.9 8.1-5.3 8.5-4.9 8.5-4.3 9.3-4 9.3-3.4"/>
<path d="M85 633.6l11.3-2.6 10.2-3.1 9.7-3.8 8.9-4.4 8.5-5.2 8.1-6 8.1-7.1 7.6-7.9 6.1-7 6.1-7.7 6.5-9 6.4-9.8 11.8-19.1 27.1-46.8 7.3-11.8 6.8-10.5 7.3-10.2 6.9-8.7 6.9-7.8 6.9-6.9 6.8-6 6.9-5.2 7.3-4.7 7.7-4.1 8.1-3.6 8.5-3.1 8.9-2.5 9.7-2.2"/>
<path d="M85 626.1l9.7-3.3 9.3-3.8 8.9-4.3 8.5-4.8 8.1-5.2 8.1-6 8.1-6.8 8.1-7.5 6.5-6.6 6.4-7 6.9-8 6.9-8.4 12.5-16.4 30-40.5 7.7-9.9 7.3-9 7.7-9 7.2-7.9 7.3-7.3 6.9-6.3 6.9-5.7 6.9-5.2 7.2-5 7.3-4.3 7.7-4.1 7.7-3.5 8.1-3.2 8.5-2.8"/>
<path d="M85 608.7l8.1-3.7 8.1-3.9 8.1-4.4 8.1-4.6 8.1-5.1 8.1-5.4 8.1-5.7 8.1-6.1 13.7-11.2 14.6-12.6 13.7-12.4 32.8-30.5 16.2-14.4 15.8-13.3 14.9-11.4 13.8-9.6 13.8-8.4 14.1-7.7 14.2-6.6"/>
<path d="M85 633.5l11.3-2.7 10.2-3.1 9.3-3.6 8.9-4.4 8.5-5.2 8.1-6 8-7 7.7-7.8 6.1-7 6.5-8.2 6.5-9 6.4-9.7 11.8-19.1 27.1-46.5 7.3-11.7 6.8-10.4 7.3-10.2 6.9-8.7 6.9-7.8 6.9-6.9 6.8-6 6.9-5.2 7.3-4.7 7.7-4.2 8.1-3.6 8.5-3.1 8.9-2.6 9.7-2.2"/>
<path d="M85 620.7l8.1-3.2 7.7-3.3 7.3-3.6 7.3-4 7.2-4.5 6.9-4.6 6.9-5.1 6.9-5.4 7.3-6.3 7.2-6.7 7.7-7.6 7.7-8.1 15.8-17.7 30.8-36.5 12.9-14.9 14.2-15.2 6.8-6.8 6.5-6 8.1-7.1 8.1-6.5 8.1-5.8 8.1-5.3 8.5-4.9 8.5-4.4 8.9-4 8.9-3.5"/>
<path d="M85 615.2l8.5-3.6 8.5-4 8.5-4.5 8.1-4.8 8.1-5.2 8.1-5.7 8.1-6.1 8.1-6.6 13.3-11.9 14.6-14.1 13.3-13.7 31.6-33.4 16.2-16.3 8.1-7.7 7.7-7 7.3-6.2 7.2-5.9 6.9-5.2 6.9-4.9 6.9-4.5 7.3-4.5 6.8-3.8 7.3-3.8 7.3-3.4 7.7-3.2"/>
<path d="M85 595.1l13.4-6.2 13.3-6.8 13.8-7.7 13.7-8.2 15-9.5 16.2-11 17-11.9 47.7-34.3 15.4-10.6 13.8-9.1 16.2-10.1 15.7-9 15.8-8.2 15.4-7.2"/>
<path d="M85 602.5l13.8-6.5 13.7-7.3 13.8-8.1 13.7-8.9 15-10.6 15.8-12 16.6-13.3 47.3-39 15-11.7 13.8-10.2 16.5-11.3 15.8-9.6 7.7-4.4 8.1-4.2 7.7-3.8 8.1-3.7"/>
<path d="M85 600.3l13.8-6.4 13.3-7.1 13.8-8 13.7-8.7 15-10.3 16.2-11.9 16.6-12.8 47.3-37.4 15-11.3 13.8-9.8 16.5-11 15.8-9.5 15.8-8.5 15.8-7.5"/>
<path d="M85 493.2l51.4 11.3 130.3 29.3 60.7 13.4"/>
<path d="M85 631.4l10.5-2.8 9.7-3.3 9.3-3.9 9-4.6 8.4-5.3 8.1-6 8.1-7 7.7-7.6 6.1-6.7 6.5-7.9 6.4-8.4 6.9-9.7 12.2-18.3 28.3-45 7.3-11 6.8-9.7 7.3-9.6 6.9-8.4 6.9-7.5 7.3-7.1 6.8-6 6.9-5.2 7.3-4.9 7.7-4.3 7.7-3.7 8.5-3.3 8.5-2.8 9.3-2.4"/>
<path d="M85 626.5l9.7-3.2 9.3-3.8 8.9-4.2 8.5-4.8 8.5-5.5 8.1-6 8.1-6.8 7.7-7.2 6.5-6.6 6.4-7.1 6.9-8 6.9-8.6 13-17 29.5-40.4 7.7-10.1 7.3-9.1 7.7-9 7.2-8 7.3-7.3 6.9-6.3 6.9-5.8 6.9-5.2 7.2-4.9 7.3-4.3 7.7-4 7.7-3.5 8.1-3.1 8.5-2.8"/>
<path d="M85 612.1l7.3-3.2 7.3-3.4 7.3-3.8 6.8-3.9 6.9-4.1 6.9-4.5 6.9-4.7 7.3-5.4 7.2-5.7 7.3-6 15.8-14 16.2-15.4 32-31.7 13.7-13.3 14.6-13.4 13.3-11.3 8.1-6.4 8.1-6 8.1-5.5 8.1-5.2 8.1-4.7 8.1-4.3 8.5-4.2 8.5-3.7"/>
<path d="M85 631.7l10.5-2.8 10.1-3.4 9.4-3.9 8.9-4.6 8.5-5.4 8-6 8.1-7 7.7-7.7 6.1-6.8 6.5-7.8 6.4-8.6 6.9-9.7 12.2-18.6 27.5-44.1 7.7-11.7 6.8-9.8 7.3-9.7 6.9-8.3 6.9-7.6 7.3-7.1 6.8-6 6.9-5.2 7.3-4.8 7.7-4.3 7.7-3.6 8.5-3.4 8.5-2.7 9.3-2.4"/>
<path d="M85 624.7l9.7-3.4 8.9-3.8 8.9-4.3 8.5-4.9 8.1-5.3 8.1-5.9 8.1-6.7 8.1-7.4 6.5-6.5 6.4-6.8 6.9-7.8 7.3-8.7 12.5-15.8 30-39.1 8.1-10.1 7.3-8.8 7.7-8.7 7.2-7.7 7.3-7.1 7.3-6.6 6.9-5.7 6.9-5.1 7.2-4.9 7.3-4.4 7.3-3.8 7.7-3.6 8.1-3.3 8.1-2.8"/>
<path d="M85 623.7l8.1-2.9 8.1-3.4 7.7-3.6 7.3-3.9 7.3-4.5 6.8-4.6 7.3-5.4 6.9-5.7 7.3-6.5 7.3-7 7.2-7.6 7.7-8.6 7.3-8.5 8.1-9.9 30-38.2 12.9-15.9 7.3-8.5 6.9-7.6 6.4-6.7 6.5-6.4 8.1-7.3 8.1-6.6 8.1-5.9 8.1-5.3 8.5-4.9 8.5-4.2 9.3-4 9.3-3.4"/>
<path d="M85 511.1l242.4 18.2"/>
<path d="M85 611.6l8.5-3.7 8.5-4.1 8.1-4.4 8.1-4.7 8.1-5.1 8.1-5.6 8.1-6 8.1-6.3 13.3-11.3 14.6-13.2 13.7-13.2 32-31.5 16.2-15.3 15.8-13.8 14.5-11.7 7.3-5.3 6.9-4.7 6.9-4.5 6.9-4.1 6.8-3.9 7.3-3.8 7.3-3.5 7.3-3.1"/>
<path d="M85 626.1l9.7-3.3 9.3-3.8 8.9-4.3 8.5-4.8 8.1-5.3 8.1-6 8.1-6.7 8.1-7.5 6.5-6.6 6.4-7 6.9-8 6.9-8.5 12.5-16.3 30-40.5 7.7-9.9 7.3-9 7.7-9 7.2-7.9 7.3-7.2 6.9-6.4 6.9-5.7 6.9-5.2 7.2-4.9 7.3-4.4 7.7-4 7.7-3.5 8.1-3.2 8.5-2.9"/>
<path d="M85 635.4l10.5-1.9 9.3-2.3 8.9-2.9 8.1-3.4 7.7-3.9 7.3-4.6 6.9-5.1 6.9-6.1 6.8-7 6.9-8.2 6.5-8.6 6.9-10.3 6.4-10.5 7.3-12.8 26.3-49.3 11.4-20 6.4-10.5 6.1-9 6.1-8.1 6-7.3 7.7-8.1 7.7-6.7 8.1-5.9 4.1-2.6 4.4-2.4 4.5-2.3 4.8-2.1 9.7-3.4 11-2.9 11.7-2.2"/>
<path d="M85 636.5l10.9-1.8 9.7-2.1 8.9-2.7 8.1-3.1 7.7-3.8 7.3-4.4 6.9-5 6.9-6 6.8-7.2 6.9-8.3 6.5-8.9 6.9-10.7 6.5-11.1 6.8-12.7 25.5-50.7 6.1-11.6 5.3-9.5 6-10.3 6.1-9.4 6.1-8.4 6-7.5 3.7-4 4-4.1 3.7-3.3 4-3.4 4.1-3.1 4-2.7 4.1-2.4 4.4-2.4 4.5-2.1 4.8-2 9.7-3.2 10.9-2.6 12.6-2.1"/>
<path d="M85 634.4l11.3-2.4 10.6-3 9.7-3.6 8.9-4.3 8.5-5.1 8.1-5.9 8.1-7.1 7.6-7.9 6.1-7.2 6.1-7.9 6.5-9.2 6.4-10.1 11.8-19.8 26.7-47.7 7.3-12.2 6.4-10.2 6.9-9.9 6.9-8.9 6.9-8 6.8-7 6.9-6 6.9-5.2 7.3-4.7 7.7-4.1 8.1-3.5 8.5-2.9 9.3-2.5 10.1-2.1"/>
<path d="M85 580.6l13-5.4 12.9-5.8 13.4-6.3 13.7-6.7 15-7.6 16.6-8.7 66.3-36.1 29.6-15.5 16.2-8.1 15.7-7.5 15-6.8 15-6.3"/>
<path d="M85 527l242.4-13.6"/>
<path d="M85 626.6l9.7-3.2 9.3-3.8 8.9-4.2 8.5-4.8 8.5-5.5 8.1-6 8.1-6.8 7.7-7.2 6.5-6.6 6.4-7.1 6.9-8.1 6.9-8.5 13-17.1 29.5-40.5 7.7-10 7.3-9.1 7.7-9.1 7.2-7.9 7.3-7.4 6.9-6.3 6.9-5.8 6.9-5.1 7.2-4.9 7.3-4.4 7.7-4 7.7-3.5 8.1-3.1 8.5-2.8"/>
<path d="M85 617.4l8.9-3.6 8.5-4 8.5-4.5 8.1-4.7 8.1-5.3 8.1-5.7 8.1-6.3 8.1-6.8 13.3-12.2 14.6-14.7 13.3-14.4 31.2-34.4 16.2-17.1 7.7-7.6 7.7-7.2 7.2-6.4 7.3-6.1 6.9-5.3 6.9-4.9 6.9-4.6 7.3-4.4 7.2-4.1 7.3-3.7 7.3-3.3 7.7-3.1"/>
<path d="M85 630.9l10.5-2.8 9.7-3.4 9.3-4 9-4.7 8.4-5.4 8.1-6 8.1-7 7.7-7.6 6.1-6.7 6.5-7.8 6.4-8.3 6.9-9.6 12.2-18.1 28.3-44.2 7.7-11.4 6.9-9.6 7.2-9.4 6.9-8.2 6.9-7.5 7.3-7.1 6.9-5.9 7.2-5.5 7.3-4.8 7.3-4.1 7.7-3.7 8.1-3.3 8.5-2.8 9.3-2.5"/>
<path d="M85 614.2l8.5-3.7 8.5-4.1 8.5-4.5 8.1-4.8 8.1-5.2 8.1-5.6 8.1-6.1 8.1-6.5 13.3-11.7 14.6-13.9 13.3-13.4 32-33.1 15.8-15.6 8.1-7.6 7.7-6.8 7.3-6.2 7.2-5.8 6.9-5.2 6.9-4.9 6.9-4.5 7.3-4.4 6.8-3.9 7.3-3.7 7.3-3.5 7.7-3.3"/>
<path d="M85 621.2l8.1-3.1 7.7-3.4 7.3-3.6 7.3-3.9 7.2-4.5 6.9-4.6 7.3-5.4 6.9-5.5 7.3-6.3 7.2-6.8 7.3-7.3 7.7-8.1 15.8-17.9 30.8-36.9 12.9-15 7.3-8.1 6.9-7.2 6.8-6.9 6.5-6.1 8.1-7.1 8.1-6.5 8.1-5.8 8.1-5.3 8.5-4.9 8.5-4.4 8.9-3.9 8.9-3.5"/>
<path d="M85 564.9l25.1-8.6 27.1-9.8 31.6-11.9 67.5-26 30-11.4 32-11.7 29.1-10"/>
<path d="M85 624.9l8.1-2.8 8.1-3.3 7.7-3.6 7.3-3.8 7.3-4.4 7.2-4.9 6.9-5.1 6.9-5.7 7.3-6.6 7.3-7.1 7.2-7.8 7.7-8.7 7.3-8.8 8.1-10.1 30-39.3 12.5-15.8 7.3-8.7 6.9-7.8 6.4-6.9 6.5-6.5 8.1-7.4 8.1-6.7 8.1-5.9 8.1-5.3 8.5-4.8 8.9-4.4 8.9-3.8 9.7-3.4"/>
<path d="M85 606.1l14.2-6.7 13.7-7.3 13.8-8.4 13.7-9.3 15-11.1 15.8-12.7 16.6-14.1 32.8-29 13.7-11.9 15-12.5 13.8-10.6 8-6 8.1-5.6 8.1-5.2 8.1-5 7.7-4.4 8.1-4.3 8.1-4 8.1-3.7"/>
<path d="M85 623.4l8.1-3 7.7-3.2 7.7-3.6 7.3-3.9 7.2-4.4 6.9-4.7 7.3-5.4 6.9-5.6 7.3-6.4 7.3-7 7.2-7.6 7.7-8.4 7.3-8.5 8.1-9.8 30.4-38.4 12.9-15.8 7.3-8.4 6.9-7.5 6.4-6.7 6.5-6.4 8.1-7.2 8.1-6.7 8.1-5.9 8.1-5.3 8.5-4.9 8.5-4.2 9.3-4.1 9.3-3.4"/>
<path d="M85 625l8.1-2.7 8.1-3.3 7.7-3.6 7.7-4.1 7.3-4.3 7.2-5 6.9-5.1 6.9-5.7 6.9-6.3 7.3-7.1 7.2-7.8 7.7-8.7 7.3-8.8 8.1-10.2 30-39.5 12.5-15.9 7.3-8.7 6.9-7.8 6.4-6.9 6.5-6.5 8.1-7.4 8.1-6.7 8.1-6 8.1-5.2 8.5-4.9 8.9-4.3 8.9-3.7 9.7-3.4"/>
<path d="M85 614.3l8.5-3.6 8.5-4.1 8.5-4.5 8.1-4.7 8.1-5.2 8.1-5.7 8.1-6.1 8.1-6.6 13.3-11.7 14.6-13.9 13.3-13.5 32-33.2 15.8-15.6 8.1-7.6 7.7-6.9 7.3-6.2 7.2-5.8 6.9-5.2 6.9-4.9 6.9-4.5 7.3-4.4 6.8-3.9 7.3-3.7 7.3-3.5 7.7-3.2"/>
<path d="M85 622.8l9.3-3.4 9.3-4.1 8.5-4.3 8.5-4.9 8.1-5.3 8.1-5.9 8.1-6.6 8.1-7.3 6.5-6.3 6.4-6.6 6.9-7.5 7.3-8.3 12.9-15.7 30.4-37.8 15.4-18.1 7.7-8.4 7.2-7.4 7.3-7 7.3-6.4 6.9-5.6 7.3-5.4 6.9-4.7 7.2-4.4 7.3-3.9 7.7-3.7 7.7-3.3 8.1-2.9"/>
<path d="M85 616.6l8.9-3.8 8.5-4 8.5-4.5 8.1-4.7 8.1-5.3 8.1-5.7 8.1-6.2 8.1-6.8 13.3-12.1 14.6-14.4 13.3-14.2 31.2-33.8 16.2-16.7 7.7-7.5 7.7-7.1 7.2-6.4 7.3-6 6.9-5.3 6.9-4.9 6.9-4.6 7.3-4.5 7.2-4 7.3-3.7 7.3-3.4 7.7-3.2"/>
<path d="M85 628.9l8.9-2.7 8.1-2.9 8.1-3.5 7.7-3.8 7.3-4.3 7.3-4.8 6.8-5.3 6.9-5.8 7.3-6.9 7.3-7.6 7.3-8.4 7.2-9 6.9-9.1 7.7-10.7 29.1-42.6 12.2-17 6.9-9 6.4-8 6.5-7.5 6.5-6.9 7.7-7.4 8.1-6.9 8.1-6.1 8.5-5.5 8.9-4.9 8.9-4 9.7-3.7 10.1-3.1"/>
<path d="M85 625.7l8.1-2.8 8.1-3.2 7.7-3.5 7.7-4.1 7.3-4.3 7.2-4.9 6.9-5.2 6.9-5.7 7.3-6.6 7.3-7.3 7.2-7.8 7.7-8.9 7.3-8.9 7.7-9.9 30-40 12.5-16.2 6.9-8.3 6.9-8 6.4-7 6.5-6.5 8.1-7.5 8.1-6.7 8.1-6 8.1-5.3 8.5-4.8 8.9-4.4 9.3-3.8 9.7-3.4"/>
<path d="M85 603.1l13.8-6.5 13.7-7.3 13.8-8.2 13.7-9 15-10.6 15.8-12.1 17-13.8 46.5-38.7 15-11.8 13.8-10.3 16.5-11.4 15.8-9.8 7.7-4.3 8.1-4.3 8.1-4 8.1-3.7"/>
<path d="M85 601.9l13.8-6.5 13.7-7.3 13.8-8.1 13.7-8.9 15-10.5 15.8-11.9 16.6-13.1 47.3-38.5 15-11.6 13.8-10 16.5-11.3 15.8-9.6 15.8-8.6 15.8-7.5"/>
<path d="M85 636.1l12.1-2.2 11-2.7 9.7-3.3 4.8-2 4.5-2.1 4.4-2.5 4.1-2.4 4-2.8 4.1-3.1 7.7-6.7 7.7-8.1 6-7.4 6.1-8.3 6.1-9.2 6.4-10.7 5.3-9.4 6.1-11.3 25.9-50.3 6.8-12.4 6.5-10.8 6.9-10.5 6.5-8.8 6.9-8.3 6.8-7.1 6.9-6 6.9-5.1 7.3-4.5 7.7-3.8 8.1-3.2 8.9-2.7 9.7-2.3 10.5-1.8"/>
<path d="M85 614.7l7.7-3.3 7.3-3.4 7.3-3.7 6.8-3.9 7.3-4.4 6.9-4.6 6.9-4.8 6.9-5.2 7.2-5.9 7.3-6.2 7.7-6.9 8.1-7.7 15.8-15.7 32-33.4 13.3-13.6 14.6-14 13.3-11.8 8.1-6.5 8.1-6.2 8.1-5.6 8.1-5.2 8.1-4.8 8.5-4.5 8.5-4.1 8.5-3.6"/>
<path d="M85 631.2l10.5-2.8 9.7-3.4 9.3-3.9 9-4.7 8.4-5.3 8.1-6.1 8.1-7 7.7-7.6 6.1-6.6 6.5-7.8 6.4-8.5 6.9-9.5 12.2-18.3 28.3-44.6 7.7-11.5 6.9-9.7 7.2-9.5 6.9-8.2 6.9-7.5 7.3-7.1 6.9-5.9 6.8-5.2 7.3-4.8 7.7-4.4 7.7-3.6 8.1-3.2 8.5-2.8 9.3-2.5"/>
<path d="M85 624.1l8.1-2.9 8.1-3.4 7.7-3.6 7.3-3.9 7.3-4.4 6.8-4.6 7.3-5.5 6.9-5.6 7.3-6.5 7.3-7.1 7.2-7.7 7.7-8.6 7.3-8.6 8.1-10 30-38.4 12.9-16.1 7.3-8.5 6.9-7.7 6.4-6.7 6.5-6.4 8.1-7.3 8.1-6.7 8.1-5.9 8.1-5.3 8.5-4.8 8.5-4.2 8.9-3.8 9.7-3.6"/>
<path d="M85 602.6l13.8-6.5 13.7-7.3 13.8-8.1 13.7-9 15-10.6 15.8-12 16.6-13.3 47.3-39 15-11.7 13.8-10.2 16.5-11.3 15.8-9.7 7.7-4.3 8.1-4.3 7.7-3.8 8.1-3.7"/>
<path d="M85 596.6l13.4-6.3 13.3-6.8 13.8-7.8 13.7-8.3 15-9.8 16.2-11.2 17-12.3 47.7-35.2 15-10.6 13.8-9.3 16.6-10.5 15.7-9.1 15.8-8.3 15.4-7.3"/>
<path d="M85 619.3l7.7-3 7.7-3.5 7.3-3.6 7.3-4 7.2-4.5 6.9-4.6 7.3-5.3 6.9-5.4 7.3-6.2 7.2-6.6 7.7-7.5 7.7-7.9 15.4-16.8 31.2-35.8 13.3-14.9 14.2-14.8 6.9-6.7 6.4-5.9 8.1-7 8.1-6.3 8.1-5.8 8.1-5.3 8.1-4.7 8.5-4.5 8.9-4 8.9-3.6"/>
<path d="M85 621.8l9.3-3.5 8.9-4 8.5-4.3 8.5-4.9 8.1-5.3 8.1-5.9 8.1-6.6 8.1-7.1 6.5-6.2 6.4-6.5 6.9-7.4 7.3-8.1 12.9-15.3 30.8-37.4 15.4-17.7 7.7-8.2 7.7-7.8 7.2-6.9 7.3-6.3 6.9-5.6 7.3-5.3 6.9-4.6 7.2-4.5 7.3-3.9 7.3-3.6 7.7-3.3 8.1-3"/>
<path d="M85 627.2l10.1-3.4 9.3-3.7 8.9-4.2 8.5-4.8 8.5-5.5 8.1-6 8.1-6.8 7.7-7.3 6.5-6.7 6.5-7.2 6.8-8.2 6.9-8.6 12.6-16.8 29.1-40.6 7.7-10.2 7.3-9.3 7.6-9.1 7.3-8.1 7.3-7.4 6.9-6.4 6.9-5.8 6.9-5.2 7.2-4.9 7.3-4.3 7.7-4 7.7-3.5 8.1-3.1 8.9-2.9"/>
<path d="M85 576l25.5-10.5 27.1-12 31.6-15 66.7-33 29.6-14.3 16.6-7.6 15.3-6.8 15-6.4 15-6"/>
<path d="M85 601.6l15.8-7.5 15.8-8.5 15.8-9.6 16.5-11.2 13.8-10 15-11.6 47.3-38.3 16.6-13.1 15.8-11.8 15-10.5 13.7-8.9 13.8-8.1 13.7-7.3 13.8-6.4"/>
<path d="M85 614.8l8.5-3.6 8.5-4 8.5-4.5 8.1-4.8 8.1-5.2 8.1-5.7 8.1-6.1 8.1-6.6 13.3-11.8 14.6-14 13.3-13.6 32-33.5 15.8-15.8 8.1-7.7 7.7-6.9 7.3-6.3 7.2-5.8 6.9-5.2 6.9-4.9 6.9-4.5 7.3-4.5 6.8-3.8 7.3-3.8 7.3-3.4 7.7-3.2"/>
<path d="M85 635.4l10.5-2 9.3-2.3 8.9-2.9 8.1-3.3 7.7-4 7.3-4.6 6.9-5.1 6.9-6.1 6.8-7.1 6.9-8.1 6.5-8.7 6.9-10.2 6.4-10.5 7.3-12.7 26.3-49.3 11.4-20 6.4-10.4 6.1-8.9 6.1-8.2 6-7.3 7.7-8 7.7-6.8 8.1-5.9 4.1-2.6 4.4-2.5 4.5-2.2 4.8-2.1 9.7-3.5 11-2.9 11.7-2.2"/>
<path d="M85 517.6l242.4 5.2"/>
<path d="M85 624.8l9.7-3.5 8.9-3.7 8.9-4.4 8.5-4.9 8.1-5.2 8.1-6 8.1-6.7 8.1-7.4 6.5-6.4 6.4-6.9 6.9-7.8 7.3-8.7 12.5-15.8 30-39.1 8.1-10.1 7.3-8.8 7.7-8.7 7.2-7.7 7.3-7.1 7.3-6.6 6.9-5.7 6.9-5.1 7.2-4.9 7.3-4.4 7.3-3.9 7.7-3.5 8.1-3.3 8.1-2.9"/>
<path d="M85 603.3l13.8-6.5 13.7-7.3 13.8-8.2 13.7-9 15-10.7 15.8-12.1 17-13.9 46.5-38.8 15-11.9 13.8-10.3 16.5-11.4 15.8-9.8 7.7-4.3 8.1-4.3 8.1-4 8.1-3.7"/>
<path d="M85 624.6l8.1-2.8 8.1-3.3 7.7-3.6 7.3-3.9 7.3-4.3 7.2-4.9 6.9-5.2 6.9-5.6 7.3-6.6 7.3-7.1 7.2-7.7 7.7-8.7 7.3-8.7 8.1-10.2 30-39 12.5-15.7 7.3-8.7 6.9-7.8 6.4-6.8 6.5-6.5 8.1-7.4 8.1-6.6 8.1-6 8.1-5.3 8.5-4.8 8.9-4.4 8.9-3.8 9.7-3.4"/>
<path d="M85 604.7l8.1-3.7 8.1-4 8.1-4.3 7.7-4.3 8.1-5 8.1-5.2 16.1-11.3 13.8-10.5 15-12.2 13.7-11.6 32.8-28.3 16.6-13.8 15.8-12.4 15-11 13.7-9.1 13.8-8.3 13.7-7.4 14.2-6.6"/>
<path d="M85 623.6l9.3-3.4 9.3-4 8.5-4.2 8.5-4.9 8.1-5.3 8.1-5.9 8.1-6.7 8.1-7.3 6.5-6.3 6.4-6.7 6.9-7.6 7.3-8.5 12.9-15.8 30.4-38.6 8.1-9.9 7.3-8.5 7.7-8.5 7.2-7.5 7.3-7.1 7.3-6.4 6.9-5.6 7.3-5.5 6.9-4.6 7.2-4.3 7.3-4 7.7-3.6 7.7-3.2 8.1-2.9"/>
<path d="M85 635.2l10.5-2 9.3-2.4 8.5-2.8 8.1-3.3 7.7-4 7.3-4.5 6.9-5.2 6.9-6 6.8-7 6.9-8.1 6.9-9.1 6.9-10.2 6.4-10.5 7.3-12.6 26.3-48.8 11.4-19.8 6.4-10.3 6.1-9 6.1-8.1 6-7.3 7.7-8 7.7-6.8 8.1-6 4.5-2.8 4.4-2.5 4.5-2.2 4.8-2.1 9.7-3.5 10.6-2.8 11.7-2.3"/>
<path d="M85 623.4l9.3-3.4 9.3-4 8.5-4.2 8.5-4.9 8.1-5.3 8.1-6 8.1-6.6 8.1-7.3 6.5-6.3 6.4-6.7 6.9-7.6 7.3-8.4 12.9-15.8 30.4-38.4 8.1-9.8 7.3-8.5 7.7-8.5 7.2-7.5 7.3-7.1 7.3-6.4 6.9-5.6 7.3-5.4 6.9-4.6 7.2-4.4 7.3-4 7.7-3.6 7.7-3.2 8.1-2.9"/>
<path d="M85 624.7l8.1-2.9 8.1-3.3 7.7-3.5 7.3-3.9 7.3-4.4 7.2-4.9 6.9-5.1 6.9-5.7 7.3-6.6 7.3-7.1 7.2-7.7 7.7-8.7 7.3-8.7 8.1-10.1 30-39.1 12.5-15.8 7.3-8.6 6.9-7.8 6.4-6.9 6.5-6.4 8.1-7.4 8.1-6.7 8.1-5.9 8.1-5.3 8.5-4.9 8.9-4.4 8.9-3.7 9.7-3.5"/>
<path d="M85 623.7l8.1-2.9 8.1-3.3 7.7-3.7 7.3-3.9 7.3-4.4 6.8-4.7 7.3-5.4 6.9-5.6 7.3-6.5 7.3-7.1 7.2-7.6 7.7-8.6 7.3-8.5 8.1-9.9 30-38.2 12.9-15.9 7.3-8.5 6.9-7.6 6.4-6.8 6.5-6.3 8.1-7.3 8.1-6.6 8.1-6 8.1-5.2 8.5-4.9 8.5-4.3 9.3-4 9.3-3.3"/>
<path d="M85 596.5l15.4-7.2 15.8-8.3 15.7-9.2 16.6-10.5 13.8-9.2 15-10.6 47.7-35.2 17-12.3 16.2-11.2 15-9.7 13.7-8.4 13.8-7.7 13.3-6.9 13.4-6.2"/>
<path d="M85 626.2l9.7-3.3 9.3-3.7 8.9-4.3 8.5-4.8 8.5-5.5 8.1-6.1 8.1-6.7 7.7-7.2 6.5-6.6 6.4-7.1 6.9-8 6.9-8.4 12.5-16.4 30-40.7 7.7-9.9 7.3-9.1 7.7-8.9 7.2-8 7.3-7.3 6.9-6.3 6.9-5.7 6.9-5.2 7.2-4.9 7.3-4.4 7.7-4 7.7-3.5 8.1-3.2 8.5-2.8"/>
<path d="M85 612.2l8.5-3.7 8.5-4.1 8.1-4.3 8.1-4.8 8.1-5.1 8.1-5.6 8.1-6 8.1-6.4 13.3-11.3 14.6-13.4 13.7-13.4 32-31.8 16.2-15.4 15.8-14 7.3-6 7.2-5.7 7.3-5.4 6.9-4.8 6.9-4.4 6.9-4.2 6.8-3.8 7.3-3.8 7.3-3.5 7.3-3.1"/>
<path d="M85 594.4l13.4-6.2 13.3-6.8 13.8-7.6 13.7-8.1 15-9.5 16.2-10.8 17-11.8 47.7-33.9 15.4-10.4 13.8-9 16.2-10 15.7-8.9 15.8-8.2 15.4-7.2"/>
<path d="M85 616.1l8.9-3.8 8.5-4 8.5-4.5 8.1-4.8 8.1-5.2 8.1-5.8 8.1-6.2 8.1-6.7 13.3-12 14.6-14.3 13.3-14 31.2-33.5 16.2-16.6 7.7-7.4 7.7-7.1 7.2-6.3 7.3-6 6.9-5.2 6.9-5 6.9-4.5 7.3-4.5 7.2-4.1 7.3-3.7 7.3-3.3 7.7-3.3"/>
<path d="M85 611.8l7.3-3.2 7.3-3.5 7.3-3.7 6.8-3.9 6.9-4.2 6.9-4.4 6.9-4.8 7.3-5.3 7.2-5.7 7.3-6 15.8-13.9 16.2-15.3 32-31.5 13.7-13.2 14.6-13.3 13.3-11.3 8.1-6.4 8.1-5.9 8.1-5.6 8.1-5.1 8.1-4.8 8.1-4.3 8.5-4.2 8.5-3.7"/>
<path d="M85 628.8l8.9-2.7 8.1-2.9 8.1-3.5 7.7-3.8 7.3-4.3 7.3-4.8 6.8-5.3 6.9-5.8 6.9-6.5 7.3-7.6 7.3-8.3 7.2-8.9 7.3-9.6 7.7-10.7 29.1-42.6 12.6-17.5 6.9-9 6.4-7.9 6.5-7.5 6.5-6.8 7.7-7.4 8.1-6.9 8.1-6 8.5-5.4 8.9-4.9 8.9-4 9.3-3.5 10.1-3.1"/>
<path d="M85 616l7.7-3.3 7.3-3.3 7.3-3.7 7.2-4.1 7.3-4.5 6.9-4.5 6.9-5 6.9-5.2 7.3-6 7.2-6.3 7.7-7.1 7.7-7.4 16.2-16.6 31.2-33.4 13.3-13.9 14.6-14.3 13.3-12 8.1-6.7 8.1-6.2 8.1-5.8 8.1-5.2 8.1-4.8 8.5-4.5 8.5-4 8.9-3.8"/>
<path d="M85 603.6l8.1-3.7 8.1-4 8.1-4.3 7.7-4.3 15.8-9.8 16.5-11.5 13.8-10.3 15-11.9 46.5-39.1 16.6-13.6 15.8-12.2 15-10.8 14.1-9.3 13.8-8.2 13.7-7.4 13.8-6.4"/>
<path d="M85 634.6l10.1-2.1 9.3-2.4 8.5-3 8.1-3.4 7.7-4.1 7.3-4.6 6.9-5.1 6.9-6.1 6.8-7 6.9-7.9 6.9-9 6.9-10 6.4-10.2 7.3-12.2 26.7-48.2 11.8-19.9 6.4-10.1 6.5-9.3 6.1-8 6.1-7.1 7.6-7.9 7.7-6.8 8.1-5.9 8.5-5.1 8.9-4.3 9.7-3.7 10.6-3 11.7-2.4"/>
<path d="M85 631.2l9.3-2.5 8.5-2.8 8.1-3.2 7.7-3.7 7.7-4.3 7.3-4.8 6.8-5.2 6.9-6 7.3-7.1 6.9-7.4 6.9-8.3 7.2-9.5 6.9-9.7 7.7-11.4 28.3-44.6 12.2-18.2 6.9-9.6 6.4-8.4 6.5-7.8 6.1-6.7 7.7-7.6 8.1-7 8.1-6 8.4-5.4 9-4.6 9.3-4 9.7-3.3 10.5-2.9"/>
<path d="M85 633.4l11.3-2.6 10.2-3.1 9.3-3.7 8.9-4.4 8.5-5.2 8.1-5.9 8-7.1 7.7-7.8 6.1-7 6.5-8.2 6.5-9 6.4-9.7 11.8-19 27.1-46.4 7.3-11.8 6.8-10.4 7.3-10.1 6.9-8.7 6.9-7.8 6.9-6.9 6.8-6 6.9-5.2 7.3-4.7 7.7-4.2 8.1-3.6 8.5-3.1 8.9-2.6 9.7-2.2"/>
<path d="M85 627.1l10.1-3.4 9.3-3.7 8.9-4.2 8.5-4.8 8.5-5.5 8.1-6 8.1-6.9 7.7-7.2 6.5-6.7 6.5-7.2 6.8-8.1 6.9-8.7 12.6-16.7 29.5-41.1 7.7-10.2 7.3-9.2 7.7-9.1 7.2-8 7.3-7.4 6.9-6.3 6.9-5.8 6.9-5.1 7.2-4.9 7.3-4.3 7.7-4 7.7-3.4 8.1-3.1 8.5-2.8"/>
<path d="M85 614.5l7.7-3.3 7.3-3.4 7.3-3.7 6.8-3.9 7.3-4.4 6.9-4.6 6.9-4.8 6.9-5.2 7.2-5.9 7.3-6.2 7.7-6.9 8.1-7.6 15.8-15.7 32-33.3 13.3-13.5 14.6-13.9 13.3-11.8 8.1-6.6 8.1-6.1 8.1-5.6 8.1-5.2 8.1-4.8 8.5-4.5 8.5-4.1 8.5-3.6"/>
<path d="M85 606.8l8.1-3.7 8.1-3.9 8.1-4.4 8.1-4.6 8.1-5 8.1-5.3 8.1-5.7 8.1-6 13.7-10.8 14.6-12.2 13.7-12.1 32.8-29.4 16.2-14 15.8-12.8 14.9-11.3 14.2-9.6 13.8-8.4 13.7-7.4 14.2-6.6"/>
<path d="M85 610.5l7.3-3.2 6.9-3.3 7.3-3.8 6.8-3.8 6.9-4.2 6.9-4.4 6.9-4.7 7.3-5.2 14.5-11.5 15.8-13.6 16.6-15.3 32-30.7 13.7-13 14.6-13 13.7-11.4 8.1-6.3 8.1-5.8 8.1-5.5 8.1-5.1 8.1-4.7 8.1-4.4 8.1-3.9 8.5-3.8"/>
<path d="M85 630.8l10.5-2.9 9.7-3.4 9.3-4 9-4.8 8.4-5.4 8.1-6 8.1-7 7.7-7.6 6.1-6.7 6.5-7.7 6.4-8.3 6.9-9.5 12.2-18 28.3-44.1 7.7-11.3 6.9-9.6 7.2-9.4 6.9-8.2 6.9-7.5 7.3-7 6.9-6 7.2-5.5 7.3-4.8 7.3-4.1 7.7-3.7 8.1-3.3 8.5-2.9 9.3-2.5"/>
<path d="M85 619.1l7.7-3 7.7-3.4 7.3-3.7 7.3-4 7.2-4.5 6.9-4.6 6.9-5 6.9-5.4 7.3-6.1 7.2-6.6 7.7-7.4 7.7-7.9 15.8-17.1 31.2-35.8 13.3-14.8 14.2-14.8 6.9-6.6 6.4-5.9 8.1-7 8.1-6.3 8.1-5.9 8.1-5.2 8.1-4.8 8.5-4.4 8.9-4.1 8.9-3.5"/>
<path d="M85 565.8l25.1-8.8 27.1-10 31.6-12.1 67.5-26.6 30-11.6 32-11.8 29.1-10.3"/>
<path d="M85 616l8.9-3.7 8.5-4 8.5-4.5 8.1-4.8 8.1-5.2 8.1-5.8 8.1-6.2 8.1-6.7 13.3-12 14.6-14.4 13.3-13.9 31.2-33.5 16.2-16.6 7.7-7.4 7.7-7.1 7.2-6.3 7.3-6 6.9-5.2 6.9-4.9 6.9-4.6 7.3-4.5 7.2-4 7.3-3.8 7.3-3.3 7.7-3.2"/>
<path d="M85 569l25.1-9.3 27.1-10.6 31.6-13 67.5-28.7 29.6-12.3 32-12.7 29.5-11"/>
<path d="M85 620.2l7.7-3 7.7-3.4 7.3-3.6 7.3-4 7.2-4.4 6.9-4.6 7.3-5.3 6.9-5.5 7.3-6.2 7.2-6.8 7.7-7.5 7.7-8 15.8-17.5 30.8-36.1 12.9-14.8 14.2-15 6.8-6.8 6.5-6 8.1-7 8.1-6.5 8.1-5.8 8.1-5.3 8.5-5 8.5-4.3 8.9-4.1 8.9-3.5"/>
<path d="M85 578.8l15-6.2 15-6.6 15.3-7.1 16.6-8.1 29.6-15 66.3-34.8 31.6-15.8 27.1-12.6 12.9-5.6 13-5.4"/>
<path d="M85 576.1l15-6 15-6.4 15.3-6.8 16.6-7.7 29.6-14.2 66.7-33.2 31.6-15 27.1-12 25.5-10.5"/>
<path d="M85 619.3l7.7-3.1 7.7-3.4 7.3-3.6 7.3-4.1 7.2-4.4 6.9-4.6 6.9-5 6.9-5.4 7.3-6.2 7.2-6.6 7.7-7.4 7.7-7.9 15.8-17.2 31.2-35.8 13.3-14.9 14.2-14.8 6.9-6.6 6.4-6 8.1-6.9 8.1-6.4 8.1-5.8 8.1-5.3 8.1-4.7 8.5-4.4 8.9-4.1 8.9-3.6"/>
<path d="M85 615.2l8.5-3.6 8.5-4 8.5-4.5 8.1-4.8 8.1-5.2 8.1-5.7 8.1-6.1 8.1-6.7 13.3-11.8 14.6-14.1 13.3-13.7 31.6-33.4 16.2-16.3 8.1-7.7 7.7-7 7.3-6.2 7.2-5.9 6.9-5.2 6.9-4.9 6.9-4.5 7.3-4.5 6.8-3.8 7.3-3.8 7.3-3.4 7.7-3.2"/>
<path d="M85 556.7l51.8-15.2 129.5-39.8 32-9.6 29.1-8.4"/>
<path d="M85 628.8l10.1-3.1 9.3-3.6 8.9-4 8.9-4.9 8.5-5.4 8.1-6 8.1-6.9 7.7-7.4 6.5-6.8 6.5-7.4 6.4-8 6.9-9 12.6-17.5 29.1-42.4 7.7-10.7 7.3-9.6 7.2-9 7.3-8.3 7.3-7.5 6.9-6.5 6.9-5.9 6.8-5.2 7.3-4.8 7.3-4.3 7.7-3.9 8.1-3.4 8.1-3 8.9-2.7"/>
<path d="M85 637.6l11.7-1.6 10.2-1.9 8.9-2.3 8.5-3 8.1-3.8 7.2-4.3 6.9-5 6.5-5.7 6.9-7.3 6.4-8.1 6.5-9.3 6.5-10.7 6.1-11 6.8-13.6 6.9-14.4 17.8-38.5 5.7-11.6 5.2-10.2 6.1-10.9 5.7-9.3 5.6-8.2 6.1-7.8 3.7-4.1 3.6-3.8 3.6-3.4 4.1-3.5 4-3 4.1-2.7 4-2.4 4.5-2.3 4.4-1.9 4.9-1.9 5.2-1.7 5.3-1.4 11.3-2.4 13.4-1.8"/>
<path d="M85 565.8l25.1-8.7 27.1-10 31.6-12.1 67.5-26.7 30-11.6 32-11.9 29.1-10.2"/>
<path d="M85 636.4l12.6-2.1 10.9-2.6 9.7-3.3 4.8-2 4.5-2.1 4.4-2.4 4.1-2.4 4-2.8 4.1-3 4-3.4 3.7-3.4 4-4.1 3.7-4 6-7.5 6.1-8.4 6.1-9.3 6-10.3 5.3-9.5 6.1-11.5 25.5-50.4 6.8-12.7 6.5-11 6.9-10.7 6.5-8.9 6.9-8.4 6.8-7.1 6.9-6 6.9-5.1 7.3-4.4 7.7-3.8 8.1-3.2 8.9-2.6 9.7-2.2 10.9-1.8"/>
<path d="M85 598.7l15.8-7.5 15.4-8.2 15.7-9.4 16.6-10.7 13.8-9.6 15-11 47.7-36.6 17-12.7 15.8-11.3 15-10 13.7-8.6 13.8-7.9 13.3-7 13.8-6.5"/>
<path d="M85 604.7l8.1-3.7 8.1-4 8.1-4.3 7.7-4.4 8.1-4.9 8.1-5.2 16.1-11.4 13.8-10.5 15-12.1 13.7-11.6 32.8-28.2 16.6-13.9 15.8-12.4 15-10.9 13.7-9.2 13.8-8.2 13.7-7.4 14.2-6.7"/>
<path d="M85 612.9l7.3-3.1 7.3-3.5 7.3-3.7 6.8-3.9 7.3-4.4 6.9-4.5 6.9-4.8 6.9-5.1 7.2-5.7 7.3-6.1 15.8-14.1 16.2-15.7 32-32.2 13.7-13.5 14.6-13.6 13.3-11.5 8.1-6.4 8.1-6 8.1-5.6 8.1-5.2 8.1-4.7 8.1-4.3 8.5-4.1 8.5-3.7"/>
<path d="M85 567.6l29.5-10.7 32-12.4 29.6-11.9 67.5-27.8 31.6-12.6 27.1-10.4 25.1-9"/>
<path d="M85 633.6l9.7-2.1 8.9-2.6 8.5-3 8.1-3.6 7.7-4.2 7.3-4.7 6.9-5.2 6.8-6 6.9-6.8 6.9-7.8 6.9-8.8 7.3-10.2 6.8-10.4 7.3-11.9 27.1-46.8 11.8-19.2 6.4-9.7 6.5-9 6.1-7.8 6.1-7 7.6-7.9 8.1-7.1 8.1-5.9 8.5-5.2 8.9-4.5 9.7-3.8 10.2-3 11.3-2.6"/>
<path d="M85 625.5l9.7-3.3 9.3-3.9 8.9-4.3 8.5-4.9 8.1-5.3 8.1-5.9 8.1-6.8 8.1-7.5 6.5-6.5 6.4-7 6.9-7.9 6.9-8.3 12.5-16.1 30-39.9 7.7-9.9 7.3-8.9 7.7-8.8 7.2-7.9 7.3-7.2 7.3-6.6 6.9-5.7 6.9-5.2 7.2-4.9 7.3-4.4 7.7-4 7.7-3.6 8.1-3.2 8.1-2.7"/>
<path d="M85 596.5l13.4-6.2 13.3-6.9 13.8-7.7 13.7-8.4 15-9.7 16.2-11.2 17-12.3 47.7-35.2 15-10.5 13.8-9.3 16.6-10.5 15.7-9.2 15.8-8.3 15.4-7.2"/>
<path d="M85 610.6l7.3-3.3 6.9-3.2 7.3-3.8 6.8-3.9 6.9-4.1 6.9-4.4 6.9-4.7 7.3-5.3 14.5-11.4 15.8-13.6 16.6-15.4 32-30.8 13.7-12.9 14.6-13 13.7-11.5 8.1-6.2 8.1-5.9 8.1-5.5 8.1-5.1 8.1-4.7 8.1-4.3 8.1-4 8.5-3.8"/>
<path d="M85 564.1l25.1-8.5 27.1-9.6 31.6-11.7 67.5-25.5 30-11.1 32-11.5 29.1-9.9"/>
<path d="M85 608.7l14.2-6.5 7.3-3.8 6.8-3.9 13.8-8.4 13.8-9.6 14.9-11.5 15.8-13.2 16.2-14.5 32.8-30.5 13.7-12.5 14.6-12.6 13.7-11.1 8.1-6.1 8.1-5.8 8.1-5.4 8.1-5.1 8.1-4.6 8.1-4.3 8.1-4 8.1-3.6"/>
<path d="M85 630.7l9.3-2.5 8.5-2.9 8.1-3.3 7.7-3.7 7.3-4.2 7.3-4.8 7.2-5.5 6.9-6 7.3-7 6.9-7.5 6.9-8.2 7.2-9.4 6.9-9.5 7.7-11.3 28.3-43.9 12.2-17.9 6.9-9.5 6.4-8.3 6.5-7.8 6.1-6.6 7.7-7.6 8.1-7 8.1-6.1 8.4-5.4 9-4.7 9.3-4.1 9.7-3.4 10.5-2.9"/>
<path d="M85 553.8l51.8-14 129.9-36.7 32-8.9 28.7-7.6"/>
<path d="M85 606.3l14.2-6.6 13.7-7.4 13.8-8.3 13.7-9.4 15-11.1 15.8-12.7 16.6-14.3 32.8-29.1 13.7-11.9 14.6-12.2 13.7-10.7 8.1-6 8.1-5.6 8.1-5.3 8.1-5 8.1-4.7 8.1-4.3 8.1-4 8.1-3.6"/>
<path d="M85 619.8l7.7-3 7.7-3.4 7.3-3.6 7.3-4 7.2-4.5 6.9-4.6 7.3-5.3 6.9-5.4 7.3-6.2 7.2-6.7 7.7-7.5 7.7-8 15.8-17.4 30.8-35.8 12.9-14.6 14.2-15 6.8-6.7 6.5-6 8.1-7 8.1-6.4 8.1-5.9 8.1-5.3 8.5-4.9 8.5-4.4 8.9-4.1 8.9-3.5"/>
<path d="M85 631.7l10.5-2.7 10.1-3.4 9.4-4 8.9-4.6 8.5-5.3 8-6.1 8.1-7 7.7-7.7 6.1-6.7 6.5-7.9 6.4-8.6 6.9-9.7 12.2-18.6 27.5-44.1 7.7-11.7 6.8-9.8 7.3-9.7 6.9-8.4 6.9-7.5 7.3-7.2 6.8-5.9 6.9-5.2 7.3-4.8 7.7-4.3 7.7-3.7 8.5-3.3 8.5-2.7 9.3-2.4"/>
<path d="M85 633.9l11.3-2.5 10.2-2.9 9.7-3.8 8.9-4.3 8.5-5.2 8.1-5.9 8.1-7.1 7.6-7.8 6.1-7.1 6.1-7.8 6.5-9.1 6.4-9.8 11.8-19.4 27.1-47.5 7.3-12 6.8-10.5 6.9-9.8 6.9-8.8 6.9-7.9 6.9-6.9 6.8-6.1 6.9-5.2 7.3-4.6 7.7-4.2 8.1-3.5 8.5-3 9.3-2.7 9.7-2"/>
<path d="M85 605.7l8.1-3.6 8.1-4 8.1-4.3 7.7-4.4 8.1-5 8.1-5.3 8.1-5.5 8-5.9 13.8-10.7 15-12.3 13.7-11.9 32.8-28.8 16.6-14 15.8-12.7 15-11 13.7-9.3 13.8-8.3 13.7-7.4 14.2-6.6"/>
<path d="M85 596.9l13.8-6.5 13.3-6.9 13.8-7.7 13.7-8.5 15-9.8 15.8-10.9 17-12.4 47.7-35.4 15-10.7 13.8-9.3 16.6-10.5 15.7-9.2 15.8-8.3 15.4-7.3"/>
<path d="M85 624.9l8.1-2.8 8.1-3.3 7.7-3.5 7.7-4.1 7.3-4.4 7.2-4.9 6.9-5.2 6.9-5.7 6.9-6.2 7.3-7.2 7.2-7.7 7.7-8.8 7.3-8.7 8.1-10.2 30-39.3 12.5-15.9 7.3-8.7 6.9-7.8 6.4-6.9 6.5-6.4 8.1-7.4 8.1-6.7 8.1-6 8.1-5.3 8.5-4.8 8.9-4.4 8.9-3.7 9.7-3.4"/>
<path d="M85 608.3l8.1-3.6 8.1-4 8.1-4.3 8.1-4.7 8.1-5 8.1-5.4 8.1-5.7 8.1-6.1 13.7-11.1 14.6-12.5 13.7-12.4 32.8-30.3 16.2-14.3 15.8-13.2 14.9-11.5 13.8-9.4 13.8-8.5 14.1-7.6 14.2-6.6"/>
<path d="M85 609.7l8.5-3.8 8.1-3.9 8.1-4.4 8.1-4.7 8.1-5.1 8.1-5.4 8.1-5.9 8.1-6.2 13.7-11.3 14.6-12.8 13.7-12.8 32-30.2 16.6-15.2 15.8-13.4 14.5-11.3 14.2-9.9 13.8-8.6 6.8-3.8 7.3-3.8 14.2-6.5"/>
<path d="M85 632l9.3-2.4 8.5-2.6 8.5-3.3 7.7-3.6 7.7-4.3 7.3-4.8 6.9-5.2 6.8-5.9 7.3-7.2 6.9-7.5 6.9-8.4 7.3-9.8 6.8-9.9 7.7-11.7 27.5-44.6 12.2-18.7 6.9-9.9 6.4-8.6 6.5-7.9 6.1-6.8 7.7-7.6 8.1-7.1 8-6 8.5-5.3 8.9-4.5 9.4-3.9 10.1-3.4 10.5-2.7"/>
<path d="M85 635.8l10.5-1.8 9.7-2.4 8.9-2.8 8.1-3.2 7.7-3.9 7.3-4.5 6.9-5.2 6.9-6 6.8-7.2 6.9-8.2 6.5-8.8 6.9-10.4 6.5-10.7 6.8-12.3 25.9-49.6 6.1-11.2 5.3-9.3 6.4-10.6 6.1-9.1 6.1-8.3 6-7.4 7.7-8.1 7.7-6.8 4.1-3 4-2.8 4.1-2.5 4.4-2.5 4.5-2.2 4.8-2.1 9.7-3.3 11-2.8 12.1-2.2"/>
<path d="M85 622l8.1-3.1 7.7-3.3 7.3-3.5 7.3-4 7.2-4.4 6.9-4.6 7.3-5.3 6.9-5.6 7.3-6.3 7.2-6.9 7.7-7.8 7.7-8.3 15.4-17.7 30.8-37.6 12.9-15.3 7.3-8.2 6.9-7.3 6.4-6.6 6.5-6.2 8.1-7.1 8.1-6.6 8.1-5.9 8.1-5.3 8.5-4.9 8.5-4.3 8.9-3.9 9.3-3.6"/>
<path d="M85 612.6l7.3-3.1 7.3-3.5 7.3-3.7 6.8-3.9 6.9-4.2 6.9-4.4 6.9-4.8 7.3-5.4 7.2-5.7 7.3-6 15.8-14.1 16.2-15.6 32-32 13.7-13.5 14.6-13.5 13.3-11.4 8.1-6.4 8.1-6 8.1-5.6 8.1-5.1 8.1-4.8 8.1-4.3 8.5-4.1 8.5-3.7"/>
<path d="M85 626.6l9.7-3.2 9.3-3.8 8.9-4.2 8.5-4.8 8.5-5.5 8.1-6 8.1-6.8 7.7-7.2 6.5-6.6 6.4-7.1 6.9-8.1 6.9-8.5 13-17.1 29.5-40.5 7.7-10.1 7.3-9 7.7-9.1 7.2-8 7.3-7.3 6.9-6.3 6.9-5.8 6.9-5.2 7.2-4.9 7.3-4.3 7.7-4 7.7-3.5 8.1-3.1 8.5-2.8"/>
<path d="M85 544.5l51.4-10.2 130.3-26.4 60.7-12"/>
<path d="M85 616.5l8.9-3.8 8.5-4 8.5-4.5 8.1-4.7 8.1-5.3 8.1-5.7 8.1-6.2 8.1-6.8 13.3-12.1 14.6-14.4 13.3-14.1 31.2-33.7 16.2-16.8 7.7-7.4 7.7-7.2 7.2-6.3 7.3-6 6.9-5.3 6.9-4.9 6.9-4.6 7.3-4.5 7.2-4 7.3-3.7 7.3-3.4 7.7-3.2"/>
<path d="M85 584.9l13-5.7 13.3-6.3 13.4-6.6 13.7-7.1 15-8.2 16.2-9.2 65.9-39 29.6-16.7 16.2-8.7 15.7-8 15.4-7.3 15-6.6"/>
<path d="M85 638.2l12.1-1.4 10.6-1.8 9.3-2.2 8.5-2.9 8.1-3.6 7.3-4.2 6.8-4.9 6.5-5.8 6.5-6.9 6.5-8.3 6.4-9.6 6.5-11 6.1-11.6 6.4-13.4 6.5-14.2 17.4-39.6 5.7-12.2 4.8-9.9 6.1-11.3 5.7-9.6 5.6-8.5 6.1-7.9 3.7-4.2 3.6-3.8 3.6-3.4 4.1-3.4 4-3 4.1-2.6 4-2.3 4.5-2.2 4.4-1.9 4.9-1.7 5.2-1.6 5.3-1.3 11.7-2.2 13.8-1.6"/>
<path d="M85 628.4l8.9-2.7 8.1-3 8.1-3.5 7.7-3.9 7.3-4.3 7.3-4.8 6.8-5.3 6.9-5.8 6.9-6.5 7.3-7.5 7.3-8.3 7.2-8.9 7.3-9.5 7.7-10.6 29.1-42.1 12.6-17.3 6.9-8.9 6.4-7.9 6.5-7.4 6.5-6.8 7.7-7.4 8.1-6.9 8.1-6 8.5-5.5 8.9-4.8 8.9-4.1 9.3-3.6 10.1-3.1"/>
<path d="M85 619.7l7.7-3 7.7-3.4 7.3-3.6 7.3-4 7.2-4.5 6.9-4.6 7.3-5.3 6.9-5.4 7.3-6.3 7.2-6.6 7.7-7.5 7.7-8 15.8-17.4 30.8-35.7 12.9-14.6 14.2-14.9 6.8-6.7 6.5-6 8.1-7 8.1-6.4 8.1-5.9 8.1-5.2 8.5-5 8.5-4.4 8.9-4.1 8.9-3.5"/>
<path d="M85 612.6l8.5-3.7 8.5-4.2 8.1-4.3 8.1-4.7 8.1-5.2 8.1-5.6 8.1-6 8.1-6.4 13.3-11.4 14.6-13.5 13.7-13.4 32-32 16.2-15.5 15.8-14.1 7.3-6 7.2-5.8 7.3-5.3 6.9-4.8 6.9-4.5 6.9-4.1 6.8-3.9 7.3-3.8 7.3-3.4 7.3-3.2"/>
<path d="M85 508.8l242.4 22.8"/>
<path d="M85 628.4l8.9-2.8 8.1-3 8.1-3.5 7.7-3.9 7.3-4.3 7.3-4.9 6.8-5.2 6.9-5.8 6.9-6.5 7.3-7.5 7.3-8.3 7.2-8.9 7.3-9.5 7.7-10.5 29.1-42 12.6-17.3 6.9-8.9 6.4-7.9 6.5-7.4 6.5-6.8 7.7-7.3 8.1-6.9 8.1-6.1 8.5-5.4 8.9-4.9 8.9-4.1 9.3-3.6 10.1-3.2"/>
<path d="M85 635.5l11.7-2.2 11-2.8 9.7-3.4 4.8-2.1 4.5-2.2 4.4-2.5 4.1-2.5 4-2.8 4.1-3.1 7.7-6.8 7.7-8 6-7.3 6.1-8.2 6.1-9 6.4-10.5 11.4-20.1 26.3-49.6 7.3-12.8 6.4-10.6 6.9-10.2 6.5-8.7 6.9-8.1 6.8-7.1 6.9-6.1 6.9-5.1 7.3-4.5 7.7-3.9 8.1-3.4 8.9-2.8 9.3-2.3 10.5-1.9"/>
<path d="M85 597.3l13.8-6.5 13.3-6.9 13.8-7.8 13.7-8.4 15-9.9 15.8-11 17-12.5 47.7-35.7 15-10.7 13.8-9.4 16.6-10.6 15.7-9.2 15.4-8.1 15.8-7.5"/>
<path d="M85 628l10.1-3.2 9.3-3.6 8.9-4.1 8.9-5 8.5-5.5 8.1-6 8.1-6.9 7.7-7.3 6.5-6.8 6.5-7.4 6.4-7.8 6.9-8.8 12.6-17.2 29.1-41.5 7.7-10.5 7.3-9.4 7.6-9.3 7.3-8.2 7.3-7.5 6.9-6.4 6.9-5.8 6.9-5.2 7.2-4.8 7.3-4.3 7.7-3.9 7.7-3.4 8.1-3 8.9-2.8"/>
<path d="M85 628.5l10.1-3.2 9.3-3.5 8.9-4.1 8.9-4.9 8.5-5.5 8.1-6 8.1-6.9 7.7-7.3 6.5-6.9 6.5-7.3 6.4-7.9 6.9-9 12.6-17.3 29.1-42.1 7.7-10.6 7.3-9.5 7.2-9 7.3-8.2 7.3-7.6 6.9-6.4 6.9-5.9 6.8-5.2 7.3-4.9 7.3-4.3 7.7-3.9 8.1-3.5 8.1-2.9 8.9-2.8"/>
<path d="M85 562.5l25.1-8.2 27.1-9.3 31.6-11.2 97.5-35.3 32-11 29.1-9.6"/>
<path d="M85 630.7l10.5-2.9 9.7-3.5 9.3-4 9-4.7 8.4-5.5 8.1-6 8.1-7 7.7-7.6 6.1-6.6 6.5-7.8 6.4-8.3 6.9-9.5 12.2-17.9 28.3-43.9 7.7-11.3 6.9-9.5 7.2-9.4 6.9-8.2 6.9-7.5 7.3-7 6.9-6 7.2-5.5 7.3-4.8 7.3-4.1 7.7-3.8 8.1-3.3 8.5-2.8 9.3-2.6"/>
<path d="M85 634l11.3-2.5 10.2-3 9.7-3.7 8.9-4.4 8.5-5.1 8.1-5.9 8.1-7.1 7.6-7.9 6.1-7 6.1-7.8 6.5-9.1 6.4-9.9 11.8-19.4 27.1-47.5 7.3-12 6.8-10.6 6.9-9.8 6.9-8.8 6.9-7.9 6.9-6.9 6.8-6 6.9-5.2 7.3-4.7 7.7-4.1 8.1-3.6 8.5-3 9.3-2.6 9.7-2.1"/>
<path d="M85 621.3l8.1-3.1 7.7-3.3 7.3-3.6 7.3-4 7.2-4.4 6.9-4.6 7.3-5.4 6.9-5.5 7.3-6.3 7.2-6.8 7.3-7.3 7.7-8.2 15.8-17.9 30.8-37.1 12.9-15 7.3-8.1 6.9-7.3 6.4-6.5 6.5-6.1 8.1-7.1 8.1-6.6 8.1-5.8 8.1-5.3 8.5-5 8.5-4.4 8.9-3.9 9.3-3.6"/>
<path d="M85 615.5l7.7-3.2 7.3-3.4 7.3-3.7 6.8-3.9 7.3-4.4 6.9-4.5 6.9-4.9 6.9-5.3 7.2-5.9 7.3-6.3 7.7-7 8.1-7.7 16.2-16.4 31.6-33.6 13.3-13.8 14.6-14.1 13.3-12 8.1-6.6 8.1-6.2 8.1-5.7 8.1-5.2 8.1-4.7 8.5-4.5 8.5-4 8.5-3.6"/>
<path d="M85 629.2l10.1-3 9.7-3.7 8.9-4 8.9-4.8 8.5-5.5 8.1-6 8.1-7 7.7-7.4 6.5-6.9 6.5-7.5 6.4-8.1 6.9-9.1 12.2-17.1 29.1-43.1 7.7-10.7 6.9-9.2 7.2-9.1 7.3-8.4 7.3-7.6 6.9-6.6 6.9-5.8 7.2-5.6 7.3-4.8 7.3-4.2 7.7-3.8 8.1-3.5 8.1-2.9 8.9-2.6"/>
<path d="M85 562.9l25.1-8.3 27.1-9.4 31.6-11.3 97.5-35.6 32-11.1 29.1-9.7"/>
<path d="M85 618.8l7.7-3.1 7.7-3.5 7.3-3.6 7.3-4 7.2-4.5 6.9-4.6 6.9-5 6.9-5.4 7.3-6.1 7.2-6.6 7.7-7.4 7.7-7.8 15.8-17 31.2-35.5 13.3-14.7 14.2-14.6 6.9-6.6 6.4-6 8.1-6.9 8.1-6.3 8.1-5.8 8.1-5.3 8.1-4.7 8.5-4.5 8.9-4.1 8.9-3.6"/>
<path d="M85 631.8l10.5-2.8 10.1-3.4 9.4-3.9 8.9-4.6 8.5-5.3 8-6.1 8.1-7 7.7-7.7 6.1-6.7 6.5-7.9 6.4-8.6 6.9-9.8 12.2-18.5 27.5-44.3 7.7-11.7 6.8-9.8 7.3-9.7 6.9-8.3 6.9-7.6 7.3-7.2 6.8-5.9 6.9-5.2 7.3-4.8 7.7-4.3 7.7-3.6 8.5-3.4 8.5-2.7 9.3-2.4"/>
<path d="M85 577.1l25.5-10.6 27.1-12.3 31.6-15.3 66.7-33.8 29.6-14.5 16.6-7.8 15.3-6.9 15-6.5 15-6.1"/>
<path d="M85 631.2l9.3-2.5 8.5-2.7 8.1-3.3 7.7-3.6 7.7-4.4 7.3-4.8 6.8-5.2 6.9-5.9 7.3-7.1 6.9-7.5 6.9-8.2 7.2-9.5 6.9-9.7 7.7-11.5 28.3-44.6 12.2-18.3 6.9-9.6 6.4-8.4 6.5-7.8 6.1-6.7 7.7-7.6 8.1-7 8.1-6 8.4-5.3 9-4.7 9.3-4 9.7-3.3 10.5-2.8"/>
<path d="M85 606.8l14.2-6.6 13.7-7.4 13.8-8.4 14.2-9.6 14.9-11.2 15.8-12.9 16.2-14 32.8-29.4 13.7-12.1 14.6-12.2 13.7-10.8 8.1-6 8.1-5.7 8.1-5.3 8.1-5 8.1-4.7 8.1-4.3 8.1-4 8.1-3.6"/>
<path d="M85 533.7l242.4-27"/>
<path d="M85 614.6l7.7-3.3 7.3-3.4 7.3-3.7 6.8-3.9 7.3-4.4 6.9-4.6 6.9-4.8 6.9-5.2 7.2-5.9 7.3-6.2 7.7-6.9 8.1-7.6 15.8-15.8 32-33.3 13.3-13.5 14.6-14 13.3-11.8 8.1-6.5 8.1-6.2 8.1-5.6 8.1-5.2 8.1-4.8 8.5-4.5 8.5-4.1 8.5-3.6"/>
<path d="M85 588.4l15.4-7 15.4-7.5 15.7-8.4 16.2-9.1 13.8-8.2 15.4-9.4 65.5-41.4 16.6-10.1 15-8.6 13.7-7.5 13.4-6.9 13.3-6.5 13-5.8"/>
<path d="M85 622.9l9.3-3.5 9.3-4 8.5-4.3 8.5-5 8.1-5.3 8.1-5.9 8.1-6.6 8.1-7.2 6.5-6.3 6.4-6.7 6.9-7.5 7.3-8.3 12.9-15.6 30.4-37.9 8.1-9.7 7.3-8.4 7.7-8.4 7.2-7.5 7.3-7 7.3-6.4 6.9-5.6 7.3-5.4 6.9-4.6 7.2-4.4 7.3-4 7.7-3.7 7.7-3.2 8.1-3"/>
<path d="M85 580.2l15-6.4 15-6.7 15.7-7.4 16.2-8 29.6-15.4 66.3-35.8 31.6-16.2 13.7-6.7 13.4-6.2 12.9-5.7 13-5.5"/>
<path d="M85 631.7l10.5-2.7 10.1-3.4 9.4-3.9 8.9-4.7 8.5-5.3 8-6 8.1-7.1 7.7-7.6 6.1-6.8 6.5-7.9 6.4-8.5 6.9-9.8 12.2-18.6 27.5-44.2 7.7-11.6 6.8-9.9 7.3-9.6 6.9-8.4 6.9-7.6 7.3-7.1 6.8-6 6.9-5.2 7.3-4.8 7.7-4.3 7.7-3.6 8.5-3.3 8.5-2.7 9.3-2.4"/>
<path d="M85 596.9l15.4-7.2 15.8-8.3 15.7-9.2 16.6-10.6 13.8-9.3 15-10.7 47.7-35.4 17-12.4 15.8-11 15-9.8 13.7-8.4 13.8-7.8 13.3-6.9 13.8-6.4"/>
<path d="M85 623.5l9.3-3.4 9.3-4 8.5-4.3 8.5-4.9 8.1-5.3 8.1-5.9 8.1-6.6 8.1-7.3 6.5-6.3 6.4-6.8 6.9-7.5 7.3-8.5 12.9-15.8 30.4-38.4 8.1-9.9 7.3-8.4 7.7-8.5 7.2-7.6 7.3-7 7.3-6.5 6.9-5.6 7.3-5.4 6.9-4.6 7.2-4.4 7.3-3.9 7.7-3.6 7.7-3.2 8.1-3"/>
<path d="M85 601.7l13.8-6.5 13.7-7.3 13.8-8.1 13.7-8.9 15-10.4 15.8-11.9 16.6-13.1 47.3-38.3 15-11.6 13.8-10 16.5-11.2 15.8-9.6 15.8-8.6 15.8-7.5"/>
<path d="M85 609.4l8.5-3.8 8.1-4 8.1-4.3 8.1-4.7 8.1-5.1 8.1-5.4 8.1-5.9 8.1-6.1 13.7-11.3 14.6-12.8 13.7-12.6 32-30.1 16.6-15.1 15.8-13.3 14.5-11.3 14.2-9.9 13.8-8.5 6.8-3.9 7.3-3.7 14.2-6.6"/>
<path d="M85 632.9l10.9-2.7 10.2-3.2 9.3-3.7 8.9-4.5 8.5-5.2 8.1-6 8-7 7.7-7.8 6.1-6.9 6.5-8.1 6.4-8.8 6.5-9.5 12.2-19.2 27.5-46.1 7.3-11.5 6.8-10.2 7.3-9.9 6.9-8.6 6.9-7.7 6.9-6.8 6.8-6 6.9-5.3 7.3-4.7 7.7-4.2 7.7-3.6 8.5-3.2 8.9-2.6 9.7-2.4"/>
<path d="M85 621.1l8.1-3.1 7.7-3.4 7.3-3.5 7.3-4 7.2-4.5 6.9-4.6 7.3-5.4 6.9-5.5 7.3-6.3 7.2-6.8 7.3-7.2 7.7-8.2 15.8-17.8 30.8-36.9 12.9-15 14.2-15.3 6.8-6.8 6.5-6.1 8.1-7.1 8.1-6.5 8.1-5.8 8.1-5.3 8.5-4.9 8.5-4.4 8.9-4 8.9-3.4"/>
<path d="M85 607.5l8.1-3.7 8.1-4 8.1-4.3 8.1-4.6 8.1-5.1 8.1-5.3 8.1-5.7 8.1-6 13.7-11 14.6-12.3 13.7-12.2 32.8-29.8 16.2-14.2 15.8-12.9 14.9-11.4 14.2-9.7 13.8-8.4 13.7-7.4 14.2-6.6"/>
<path d="M85 576.7l25.5-10.6 27.1-12.2 31.6-15.1 66.7-33.6 29.6-14.4 16.6-7.7 15.3-6.9 15-6.4 15-6.1"/>
<path d="M85 632.6l10.9-2.7 10.2-3.2 9.3-3.8 8.9-4.6 8.5-5.2 8.1-6 8-7 7.7-7.8 6.1-6.9 6.5-8 6.4-8.8 6.5-9.4 12.2-19.1 27.5-45.7 7.3-11.4 6.8-10.1 7.3-9.9 6.9-8.5 6.9-7.7 7.3-7.2 6.8-6 6.9-5.2 7.3-4.7 7.7-4.2 7.7-3.6 8.5-3.2 8.9-2.7 9.3-2.2"/>
<path d="M85 628.6l8.9-2.7 8.1-3 8.1-3.5 7.7-3.9 7.3-4.2 7.3-4.9 6.8-5.2 6.9-5.9 6.9-6.4 7.3-7.6 7.3-8.3 7.2-8.9 7.3-9.6 7.7-10.6 29.1-42.2 12.6-17.5 6.9-8.9 6.4-7.9 6.5-7.4 6.5-6.8 7.7-7.4 8.1-6.9 8.1-6 8.5-5.5 8.9-4.8 8.9-4.1 9.3-3.6 10.1-3.1"/>
<path d="M85 609.3l14.2-6.6 7.3-3.7 6.8-3.9 13.8-8.5 14.2-9.9 14.5-11.2 15.8-13.4 16.6-15 32-30 13.7-12.7 14.6-12.7 13.7-11.3 8.1-6.1 8.1-5.9 8.1-5.4 8.1-5.1 8.1-4.7 8.1-4.3 8.1-4 8.5-3.8"/>
<path d="M85 621.6l8.1-3.1 7.7-3.3 7.3-3.6 7.3-3.9 7.2-4.5 6.9-4.6 7.3-5.3 6.9-5.6 7.3-6.3 7.2-6.9 7.3-7.3 7.7-8.2 15.8-18 30.8-37.3 12.9-15.1 7.3-8.1 6.9-7.3 6.4-6.6 6.5-6.1 8.1-7.2 8.1-6.5 8.1-5.9 8.1-5.3 8.5-4.9 8.5-4.4 8.9-3.9 9.3-3.6"/>
<path d="M85 586.1l13-5.7 13.3-6.3 13.4-6.8 13.7-7.3 15-8.3 16.2-9.4 65.9-39.9 15.4-9.1 14.2-8 16.2-8.9 15.7-8.1 15.4-7.4 15-6.6"/>
<path d="M85 586.7l13-5.7 13.3-6.4 13.4-6.8 13.7-7.3 15-8.4 16.6-9.8 65.5-40.1 15.4-9.2 13.8-7.9 16.6-9.1 15.7-8.2 15.4-7.4 15-6.7"/>
<path d="M85 593.9l15.4-7.2 15.4-7.9 15.7-8.9 16.6-10.1 13.8-8.9 15.4-10.4 47.7-33.6 17-11.7 16.2-10.7 15-9.4 13.7-8.1 13.8-7.5 13.3-6.8 13.4-6.2"/>
<path d="M85 623.4l8.1-2.9 7.7-3.2 7.7-3.7 7.3-3.9 7.2-4.4 6.9-4.6 7.3-5.4 6.9-5.6 7.3-6.5 7.3-7 7.2-7.5 7.7-8.5 7.3-8.5 8.1-9.8 30.4-38.4 12.9-15.8 7.3-8.4 6.9-7.6 6.4-6.7 6.5-6.3 8.1-7.3 8.1-6.6 8.1-6 8.1-5.3 8.5-4.8 8.5-4.3 9.3-4 9.3-3.4"/>
<path d="M85 622.5l9.3-3.5 8.9-3.9 8.5-4.3 8.5-4.9 8.1-5.3 8.1-5.9 8.1-6.5 8.1-7.2 6.5-6.3 6.8-7 6.9-7.4 7.3-8.3 12.9-15.5 30.4-37.5 15.4-18 7.7-8.3 7.2-7.4 7.3-7 7.3-6.4 6.9-5.6 7.3-5.4 6.9-4.6 7.2-4.4 7.3-4 7.7-3.7 7.7-3.3 8.1-3"/>
<path d="M85 596.7l13.4-6.2 13.3-6.9 13.8-7.8 13.7-8.3 15-9.8 16.2-11.2 17-12.3 47.7-35.4 15-10.6 13.8-9.3 16.6-10.5 15.7-9.2 15.8-8.3 15.4-7.2"/>
<path d="M85 628.6l8.9-2.7 8.1-2.9 8.1-3.5 7.7-3.9 7.3-4.3 7.3-4.8 6.8-5.2 6.9-5.9 6.9-6.5 7.3-7.5 7.3-8.3 7.2-9 7.3-9.5 7.7-10.6 29.1-42.4 12.6-17.4 6.9-9 6.4-7.9 6.5-7.4 6.5-6.8 7.7-7.4 8.1-6.9 8.1-6 8.5-5.5 8.9-4.8 8.9-4.1 9.3-3.5 10.1-3.1"/>
<path d="M85 629.2l10.1-3.1 9.7-3.6 8.9-4 8.9-4.9 8.5-5.4 8.1-6.1 8.1-6.9 7.7-7.5 6.5-6.9 6.5-7.5 6.4-8 6.9-9.1 12.2-17.1 29.1-43 7.7-10.8 6.9-9.2 7.2-9 7.3-8.4 7.3-7.7 6.9-6.5 6.9-5.9 7.2-5.5 7.3-4.8 7.3-4.3 7.7-3.8 8.1-3.4 8.1-2.9 8.9-2.7"/>
<path d="M85 620.3l7.7-3 7.7-3.4 7.7-3.7 7.3-4.1 7.2-4.4 6.9-4.6 6.9-5.1 6.9-5.5 7.3-6.2 7.2-6.7 7.7-7.6 7.7-8 15.8-17.6 30.8-36.2 12.9-14.7 14.2-15.1 6.8-6.8 6.5-6 8.1-7.1 8.1-6.4 8.1-5.9 8.1-5.3 8.5-4.9 8.5-4.4 8.9-4 8.9-3.5"/>
<path d="M85 631.6l10.5-2.7 10.1-3.5 9.4-3.9 8.9-4.6 8.5-5.4 8-6 8.1-7 7.7-7.7 6.1-6.8 6.5-7.8 6.4-8.6 6.9-9.7 12.2-18.5 27.5-44.1 7.7-11.6 6.8-9.8 7.3-9.7 6.9-8.3 6.9-7.6 7.3-7.1 6.8-6 6.9-5.2 7.3-4.8 7.7-4.3 7.7-3.6 8.5-3.4 8.5-2.7 9.3-2.4"/>
<path d="M85 610.3l8.5-3.8 8.1-3.9 8.1-4.4 8.1-4.7 8.1-5.1 8.1-5.5 8.1-5.8 8.1-6.3 13.7-11.3 14.6-13 13.7-12.9 32-30.6 16.6-15.3 15.8-13.6 14.5-11.4 14.2-9.9 13.8-8.6 6.8-3.8 7.3-3.8 6.9-3.3 7.3-3.2"/>
<path d="M85 614.4l7.7-3.2 7.3-3.5 7.3-3.7 6.8-3.9 7.3-4.4 6.9-4.5 6.9-4.9 6.9-5.2 7.2-5.8 7.3-6.2 7.7-6.9 8.1-7.6 15.8-15.7 32-33.2 13.3-13.6 14.6-13.9 13.3-11.7 8.1-6.6 8.1-6.1 8.1-5.7 8.1-5.2 8.1-4.7 8.5-4.5 8.5-4.1 8.5-3.6"/>
<path d="M85 625.2l8.1-2.7 8.1-3.3 7.7-3.5 7.7-4.1 7.3-4.4 7.2-4.9 6.9-5.2 6.9-5.7 6.9-6.2 7.3-7.2 7.2-7.8 7.7-8.7 7.3-8.9 8.1-10.2 30-39.7 12.5-15.9 7.3-8.8 6.9-7.8 6.4-7 6.5-6.5 8.1-7.4 8.1-6.7 8.1-5.9 8.1-5.3 8.5-4.8 8.9-4.4 8.9-3.7 9.7-3.3"/>
<path d="M85 616.1l8.9-3.7 8.5-4 8.5-4.5 8.1-4.8 8.1-5.2 8.1-5.8 8.1-6.2 8.1-6.7 13.3-12 14.6-14.4 13.3-14 31.2-33.5 16.2-16.6 7.7-7.5 7.7-7.1 7.2-6.3 7.3-6 6.9-5.2 6.9-5 6.9-4.5 7.3-4.5 7.2-4.1 7.3-3.7 7.3-3.3 7.7-3.2"/>
<path d="M85 629.3l10.1-3.1 9.7-3.6 8.9-4 8.9-4.8 8.5-5.5 8.1-6 8.1-7 7.7-7.4 6.5-6.9 6.5-7.5 6.4-8.1 6.9-9.1 12.6-17.8 28.7-42.5 7.7-10.8 6.9-9.2 7.2-9.1 7.3-8.4 7.3-7.6 6.9-6.6 6.9-5.9 7.2-5.5 7.3-4.8 7.3-4.2 7.7-3.8 8.1-3.5 8.1-2.8 8.9-2.7"/>
<path d="M85 576.6l25.5-10.5 27.1-12.2 31.6-15.2 66.7-33.4 29.6-14.4 16.6-7.8 15.3-6.8 15-6.4 15-6.1"/>
<path d="M85 634.4l10.1-2.1 9.3-2.5 8.5-2.9 8.1-3.6 7.7-4 7.3-4.7 6.9-5.2 6.9-6 6.8-7 6.9-8 6.9-8.9 6.9-9.9 6.4-10.2 7.3-12.2 26.7-47.7 11.8-19.8 6.4-10.1 6.5-9.2 6.1-7.9 6.1-7.2 7.6-7.9 8.1-7.1 8.1-5.9 8.5-5.1 8.9-4.3 9.7-3.6 10.6-3 11.3-2.4"/>
<path d="M85 595.5l13.4-6.3 13.3-6.8 13.8-7.6 13.7-8.3 15-9.6 16.2-11 17-12 47.7-34.6 15.4-10.6 13.8-9.2 16.2-10 15.7-9.1 15.8-8.2 15.4-7.3"/>
<path d="M85 613.3l8.5-3.7 8.5-4.1 8.1-4.3 8.1-4.8 8.1-5.1 8.1-5.6 8.1-6.1 8.1-6.4 13.7-11.9 14.6-13.7 13.3-13.2 32-32.5 16.2-15.7 8.1-7.4 7.7-6.8 7.3-6.1 7.2-5.7 6.9-5.2 6.9-4.8 6.9-4.5 7.3-4.4 6.8-3.8 7.3-3.8 7.3-3.4 7.3-3.2"/>
<path d="M85 570.9l25.5-9.8 27.1-11 31.6-13.5 67.1-29.8 29.6-12.8 32-13.1 29.5-11.4"/>
<path d="M85 627l10.1-3.4 9.3-3.7 8.9-4.2 8.5-4.8 8.5-5.5 8.1-6.1 8.1-6.8 7.7-7.3 6.5-6.6 6.5-7.2 6.8-8.2 6.9-8.6 12.6-16.7 29.5-40.9 7.7-10.2 7.3-9.2 7.7-9.1 7.2-8 7.3-7.3 6.9-6.4 6.9-5.7 6.9-5.2 7.2-4.9 7.3-4.3 7.7-4 7.7-3.4 8.1-3.1 8.5-2.8"/>
<path d="M85 633.4l11.3-2.6 10.2-3.1 9.3-3.7 8.9-4.4 8.5-5.1 8.1-6 8-7 7.7-7.8 6.1-7 6.5-8.2 6.5-9 6.4-9.7 11.8-19.1 27.1-46.4 7.3-11.8 6.8-10.4 7.3-10.2 6.9-8.7 6.9-7.8 6.9-6.8 6.8-6.1 6.9-5.2 7.3-4.7 7.7-4.2 8.1-3.6 8.5-3.1 8.9-2.5 9.7-2.2"/>
<path d="M85 631.9l10.5-2.7 10.1-3.4 9.4-3.9 8.9-4.6 8.5-5.3 8-6 8.1-7 7.7-7.7 6.1-6.8 6.5-7.9 6.4-8.6 6.9-9.8 12.2-18.6 27.5-44.5 7.7-11.7 6.8-9.9 7.3-9.7 6.9-8.4 6.9-7.6 7.3-7.1 6.8-6 6.9-5.2 7.3-4.8 7.7-4.3 7.7-3.6 8.5-3.3 8.5-2.6 9.3-2.4"/>
<path d="M85 629.7l8.9-2.6 8.5-3 8.1-3.4 7.7-3.8 7.3-4.2 7.3-4.8 6.8-5.2 6.9-5.9 7.3-7 6.9-7.3 7.3-8.4 7.2-9.2 6.9-9.3 7.7-10.9 28.7-43.1 12.6-18 6.9-9.2 6.4-8.1 6.5-7.5 6.5-7 7.7-7.5 8.1-6.9 8.1-6 8.5-5.4 8.5-4.6 9.3-4.2 9.7-3.5 10.1-3"/>
<path d="M85 562l25.1-8.1 27.1-9.2 31.6-11.1 97.5-34.8 32-11 29.1-9.4"/>
<path d="M85 595.4l13.4-6.2 13.3-6.8 13.8-7.7 13.7-8.2 15-9.6 16.2-11 17-12.1 47.7-34.5 15.4-10.6 13.8-9.1 16.2-10.1 15.7-9.1 15.8-8.2 15.4-7.2"/>
<path d="M85 605.6l14.2-6.7 13.7-7.3 13.8-8.4 13.7-9.2 15-11 15.8-12.6 16.6-14.1 32.8-28.7 13.7-11.8 15-12.3 13.8-10.6 8-5.9 8.1-5.6 8.1-5.3 8.1-4.9 7.7-4.4 8.1-4.3 8.1-4 8.1-3.7"/>
<path d="M85 589.8l13-5.8 13.3-6.6 13.8-7.2 13.7-7.7 15-8.8 16.2-10 65.5-42.6 15.4-9.7 13.8-8.3 16.2-9.3 15.7-8.5 15.4-7.7 15.4-7"/>
<path d="M85 632.3l10.9-2.7 10.2-3.3 9.3-3.9 8.9-4.6 8.5-5.3 8.1-6 8-7 7.7-7.8 6.1-6.8 6.5-8 6.4-8.8 6.5-9.3 12.2-18.9 27.5-45.2 7.3-11.3 6.8-10 7.3-9.9 6.9-8.4 6.9-7.7 7.3-7.2 6.8-6 6.9-5.2 7.3-4.8 7.7-4.2 7.7-3.6 8.5-3.3 8.9-2.7 9.3-2.3"/>
<path d="M85 620.5l7.7-2.9 7.7-3.4 7.7-3.8 7.3-4 7.2-4.5 6.9-4.6 6.9-5 6.9-5.5 7.3-6.3 7.2-6.7 7.7-7.6 7.7-8 15.8-17.7 30.8-36.4 12.9-14.8 14.2-15.1 6.8-6.8 6.5-6.1 8.1-7 8.1-6.5 8.1-5.8 8.1-5.3 8.5-5 8.5-4.3 8.9-4 8.9-3.5"/>
<path d="M85 616.3l7.7-3.2 7.3-3.3 7.3-3.7 7.2-4.1 7.3-4.4 6.9-4.6 6.9-4.9 6.9-5.3 7.3-6 7.2-6.4 7.7-7.1 7.7-7.4 16.2-16.7 31.2-33.7 13.3-14 14.6-14.4 13.3-12.1 8.1-6.7 8.1-6.3 8.1-5.7 8.1-5.2 8.1-4.8 8.5-4.5 8.5-4 8.9-3.7"/>
<path d="M85 625.5l9.7-3.4 8.9-3.7 8.9-4.3 8.5-4.8 8.1-5.3 8.1-5.9 8.1-6.7 8.1-7.5 6.5-6.5 6.4-6.9 6.9-7.9 7.3-8.8 12.5-16.1 30-39.8 8.1-10.3 7.3-8.9 7.7-8.8 7.2-7.8 7.3-7.2 6.9-6.2 6.9-5.7 6.9-5.2 7.2-4.9 7.3-4.4 7.7-4 7.7-3.6 8.1-3.2 8.1-2.8"/>
<path d="M85 589.2l13-5.9 13.3-6.5 13.4-6.9 14.1-7.9 15-8.7 16.2-9.9 65.5-42.1 15.4-9.5 13.8-8.3 16.2-9.2 15.7-8.5 15.4-7.6 15.4-7"/>
<path d="M85 590.8l15.4-7 15.4-7.8 15.7-8.6 16.2-9.4 13.8-8.5 15.4-9.9 48.5-32.2 17-11.1 16.2-10.2 15-8.9 13.7-7.8 13.8-7.3 13.3-6.6 13-5.9"/>
<path d="M85 591.9l13.4-6.2 13.3-6.6 13.4-7.2 13.7-7.9 15-9.1 16.2-10.4 17-11.3 48.1-32.5 15.4-10.1 13.8-8.6 16.6-9.8 15.7-8.7 15.4-7.8 15.4-7.2"/>
<path d="M85 625.6l9.7-3.4 9.3-3.8 8.9-4.3 8.5-4.9 8.1-5.3 8.1-5.9 8.1-6.8 8.1-7.5 6.5-6.5 6.4-7 6.9-7.9 6.9-8.4 12.5-16.1 30-40 7.7-9.8 7.3-8.9 7.7-8.9 7.2-7.8 7.3-7.3 7.3-6.6 6.9-5.7 6.9-5.2 7.2-4.9 7.3-4.4 7.7-4 7.7-3.5 8.1-3.2 8.1-2.8"/>
<path d="M85 623.2l9.3-3.4 9.3-4 8.5-4.3 8.5-4.9 8.1-5.3 8.1-5.9 8.1-6.6 8.1-7.3 6.5-6.3 6.4-6.7 6.9-7.6 7.3-8.3 12.9-15.8 30.4-38.2 8.1-9.8 7.3-8.4 7.7-8.5 7.2-7.5 7.3-7 7.3-6.5 6.9-5.6 7.3-5.4 6.9-4.6 7.2-4.4 7.3-3.9 7.7-3.7 7.7-3.2 8.1-2.9"/>
<path d="M85 626.7l9.7-3.2 9.3-3.8 8.9-4.2 8.5-4.8 8.5-5.5 8.1-6 8.1-6.8 7.7-7.2 6.5-6.6 6.4-7.1 6.9-8.1 6.9-8.5 13-17.1 29.5-40.6 7.7-10.1 7.3-9.1 7.7-9.1 7.2-8 7.3-7.3 6.9-6.3 6.9-5.8 6.9-5.2 7.2-4.9 7.3-4.3 7.7-4 7.7-3.5 8.1-3.1 8.5-2.8"/>
<path d="M85 632l10.5-2.7 10.1-3.4 9.4-3.9 8.9-4.6 8.5-5.3 8-6 8.1-7 7.7-7.7 6.1-6.7 6.5-8 6.4-8.6 6.9-9.8 12.2-18.7 27.5-44.6 7.7-11.7 6.8-9.9 7.3-9.7 6.9-8.4 6.9-7.6 7.3-7.2 6.8-5.9 6.9-5.2 7.3-4.8 7.7-4.3 7.7-3.5 8.5-3.3 8.5-2.7 9.3-2.4"/>
<path d="M85 571.8l25.5-9.8 27.1-11.3 31.6-13.8 67.1-30.4 29.6-13 32-13.4 29.5-11.5"/>
<path d="M85 602.7l8.1-3.7 7.7-3.8 8.1-4.3 7.7-4.3 15.8-9.7 16.5-11.3 13.8-10.2 15-11.7 47.3-39.1 16.6-13.3 15.8-12.1 15-10.6 13.7-9 13.8-8.1 13.7-7.3 13.8-6.5"/>
<path d="M85 619.8l7.7-3 7.7-3.4 7.3-3.6 7.3-4 7.2-4.4 6.9-4.6 7.3-5.4 6.9-5.4 7.3-6.2 7.2-6.7 7.7-7.5 7.7-8 15.8-17.4 30.8-35.8 12.9-14.6 14.2-15 6.8-6.7 6.5-6 8.1-7 8.1-6.4 8.1-5.9 8.1-5.3 8.5-5 8.5-4.4 8.9-4 8.9-3.5"/>
<path d="M85 572.2l25.5-9.9 27.1-11.3 31.6-13.9 67.1-30.7 29.6-13.2 32-13.5 29.5-11.5"/>
<path d="M85 603.6l13.8-6.5 13.7-7.3 13.8-8.2 13.7-9.1 15-10.7 16.2-12.5 16.6-13.6 46.5-39 15-11.9 13.8-10.3 16.5-11.5 15.8-9.8 7.7-4.4 8.1-4.2 8.1-4 8.1-3.8"/>
<path d="M85 631.4l9.3-2.4 8.5-2.8 8.5-3.4 7.7-3.6 7.3-4.1 7.3-4.8 6.8-5.2 6.9-5.9 7.3-7.1 6.9-7.5 6.9-8.3 7.2-9.6 6.9-9.7 7.7-11.5 28.3-45 12.2-18.3 6.9-9.6 6.4-8.5 6.5-7.8 6.1-6.7 7.7-7.6 8.1-7 8.1-6 8.4-5.3 9-4.7 9.3-3.9 9.7-3.3 10.5-2.8"/>
<path d="M85 632.2l10.5-2.7 10.1-3.3 9.4-3.9 8.9-4.5 8.5-5.3 8-6 8.1-7 7.7-7.7 6.1-6.8 6.5-7.9 6.4-8.7 6.9-9.8 12.2-18.9 27.5-44.8 7.7-11.9 6.8-9.9 7.3-9.8 6.9-8.4 6.9-7.6 6.9-6.8 6.8-6 6.9-5.2 7.3-4.8 7.7-4.3 7.7-3.6 8.5-3.3 8.9-2.7 9.3-2.4"/>
<path d="M85 631.9l10.5-2.7 10.1-3.3 9.4-3.9 8.9-4.6 8.5-5.3 8-6 8.1-7 7.7-7.7 6.1-6.8 6.5-7.9 6.4-8.6 6.9-9.8 12.2-18.7 27.5-44.5 7.7-11.8 6.8-9.9 7.3-9.7 6.9-8.4 6.9-7.6 7.3-7.1 6.8-6 6.9-5.2 7.3-4.7 7.7-4.3 7.7-3.6 8.5-3.3 8.5-2.7 9.3-2.3"/>
<path d="M85 617.8l7.7-3.2 7.3-3.3 7.3-3.6 7.2-4.1 7.3-4.4 6.9-4.6 6.9-5 7.3-5.6 7.3-6.1 7.2-6.5 7.7-7.3 7.7-7.6 15.8-16.7 31.2-34.7 13.3-14.5 14.6-14.7 13.3-12.3 8.1-6.9 8.1-6.2 8.1-5.8 8.1-5.2 8.1-4.8 8.5-4.4 8.5-4 8.9-3.7"/>
<path d="M85 612.2l7.3-3.2 7.3-3.5 7.3-3.7 6.8-3.9 6.9-4.2 6.9-4.4 6.9-4.8 7.3-5.3 7.2-5.7 7.3-6 15.8-14 16.2-15.4 32-31.8 13.7-13.3 14.6-13.4 13.3-11.4 8.1-6.3 8.1-6 8.1-5.6 8.1-5.1 8.1-4.8 8.1-4.3 8.5-4.1 8.5-3.8"/>
<path d="M85 632l10.5-2.7 10.1-3.4 9.4-3.9 8.9-4.5 8.5-5.3 8-6 8.1-7.1 7.7-7.6 6.1-6.8 6.5-7.9 6.4-8.7 6.9-9.8 12.2-18.7 27.5-44.6 7.7-11.7 6.8-9.9 7.3-9.8 6.9-8.3 6.9-7.6 7.3-7.2 6.8-5.9 6.9-5.2 7.3-4.8 7.7-4.3 7.7-3.6 8.5-3.2 8.5-2.7 9.3-2.4"/>
<path d="M85 608.1l8.1-3.7 8.1-3.9 8.1-4.4 8.1-4.6 8.1-5.1 8.1-5.3 8.1-5.8 8.1-6 13.7-11 14.6-12.5 13.7-12.4 32.8-30.1 16.2-14.3 15.8-13.1 14.9-11.4 14.2-9.8 13.8-8.4 13.7-7.4 14.2-6.6"/>
<path d="M85 623.2l8.1-3 7.7-3.2 7.7-3.7 7.3-3.9 7.2-4.4 6.9-4.6 7.3-5.4 6.9-5.6 7.3-6.5 7.3-7 7.2-7.5 7.7-8.4 7.3-8.4 8.1-9.8 30.4-38.2 12.9-15.7 7.3-8.4 6.9-7.5 6.4-6.7 6.5-6.3 8.1-7.3 8.1-6.6 8.1-5.9 8.1-5.3 8.5-4.9 8.5-4.3 9.3-4.1 9.3-3.4"/>
<path d="M85 633.8l9.7-2.1 8.9-2.5 8.5-3.1 8.1-3.5 7.7-4.1 7.3-4.7 6.9-5.2 6.8-6 6.9-6.8 6.9-7.9 6.9-8.7 7.3-10.3 6.8-10.5 7.3-11.9 27.1-47.1 11.8-19.3 6.4-9.8 6.5-9.1 6.1-7.8 6.1-7 7.6-7.9 8.1-7.1 8.1-5.9 8.5-5.2 8.9-4.3 9.7-3.8 10.2-3.1 11.3-2.5"/>
<path d="M85 608.2l8.1-3.6 8.1-4 8.1-4.3 8.1-4.7 8.1-5 8.1-5.4 8.1-5.7 8.1-6.1 13.7-11.1 14.6-12.5 13.7-12.4 32.8-30.1 16.2-14.4 15.8-13.1 14.9-11.4 14.2-9.8 13.8-8.4 13.7-7.4 14.2-6.6"/>
<path d="M85 601.1l13.8-6.4 13.7-7.3 13.8-8.1 13.7-8.8 15-10.4 15.8-11.8 16.6-12.9 47.3-38 15-11.5 13.8-9.9 16.5-11.1 15.8-9.6 15.8-8.5 15.8-7.5"/>
<path d="M85 616.7l8.9-3.8 8.5-4 8.5-4.5 8.1-4.7 8.1-5.3 8.1-5.7 8.1-6.2 8.1-6.8 13.3-12.1 14.6-14.5 13.3-14.1 31.2-33.9 16.2-16.8 7.7-7.5 7.7-7.1 7.2-6.4 7.3-6 6.9-5.3 6.9-4.9 6.9-4.6 7.3-4.5 7.2-4 7.3-3.7 7.3-3.4 7.7-3.2"/>
<path d="M85 627l8.5-2.8 8.1-3.1 7.7-3.5 7.7-3.9 7.3-4.3 7.2-4.9 6.9-5.2 6.9-5.8 6.9-6.3 7.3-7.4 7.2-8 7.7-9.1 7.3-9.1 7.7-10.2 29.5-40.9 12.6-16.7 6.9-8.6 6.8-8.2 6.5-7.1 6.5-6.7 7.7-7.3 8.1-6.8 8.1-6 8.5-5.6 8.5-4.7 8.9-4.3 9.3-3.7 10.1-3.4"/>
<path d="M85 625.4l9.7-3.4 8.9-3.7 8.9-4.3 8.5-4.8 8.1-5.3 8.1-5.9 8.1-6.7 8.1-7.5 6.5-6.5 6.4-6.9 6.9-7.9 7.3-8.8 12.5-16 30-39.8 8.1-10.2 7.3-8.9 7.7-8.8 7.2-7.8 7.3-7.2 6.9-6.2 6.9-5.7 6.9-5.2 7.2-4.9 7.3-4.4 7.7-4 7.7-3.6 8.1-3.2 8.1-2.8"/>
<path d="M85 620l7.7-3 7.7-3.4 7.3-3.6 7.3-4 7.2-4.4 6.9-4.6 7.3-5.4 6.9-5.4 7.3-6.3 7.2-6.6 7.7-7.6 7.7-8 15.8-17.4 30.8-36 12.9-14.6 14.2-15 6.8-6.8 6.5-6 8.1-7 8.1-6.4 8.1-5.9 8.1-5.3 8.5-4.9 8.5-4.4 8.9-4.1 8.9-3.5"/>
<path d="M85 626.4l9.7-3.3 9.3-3.7 8.9-4.3 8.5-4.8 8.5-5.5 8.1-6 8.1-6.8 7.7-7.2 6.5-6.6 6.4-7 6.9-8.1 6.9-8.5 13-17 29.5-40.3 7.7-10 7.3-9 7.7-9.1 7.2-7.9 7.3-7.3 6.9-6.3 6.9-5.8 6.9-5.2 7.2-4.9 7.3-4.3 7.7-4 7.7-3.5 8.1-3.2 8.5-2.8"/>
<path d="M85 559.9l25.1-7.8 26.7-8.6 32-10.6 97.5-32.9 32-10.4 29.1-9.1"/>
<path d="M85 592.7l13.4-6.2 13.3-6.7 13.4-7.2 13.7-8 15-9.2 16.2-10.5 17-11.5 48.1-33 15.4-10.2 13.8-8.7 16.6-10 15.7-8.8 15.4-7.8 15.4-7.2"/>
<path d="M85 620.1l7.7-3 7.7-3.4 7.3-3.5 7.3-4 7.2-4.5 6.9-4.6 7.3-5.3 6.9-5.5 7.3-6.2 7.2-6.7 7.7-7.6 7.7-7.9 15.8-17.6 30.8-36 12.9-14.7 14.2-15 6.8-6.8 6.5-6 8.1-7.1 8.1-6.4 8.1-5.9 8.1-5.2 8.5-5 8.5-4.4 8.9-4 8.9-3.5"/>
<path d="M85 590.1l13-5.9 13.3-6.6 13.8-7.2 13.7-7.7 15-8.9 16.2-10 65.5-42.8 15.4-9.7 13.8-8.4 16.2-9.3 15.7-8.5 15.4-7.7 15.4-7.1"/>
<path d="M85 572.5l25.5-9.9 27.1-11.4 31.6-14 67.1-30.9 29.6-13.2 32-13.6 29.5-11.6"/>
<path d="M85 578.6l13-5.3 12.9-5.7 27.1-12.5 31.6-15.8 66.3-34.7 29.6-14.9 16.6-8 15.3-7.1 15-6.6 15-6.2"/>
<path d="M85 590.5l13-5.9 13.3-6.6 13.8-7.3 13.7-7.7 15-9 16.2-10.1 65.5-43 15.4-9.8 13.8-8.4 16.2-9.4 15.7-8.6 15.4-7.7 15.4-7.1"/>
<path d="M85 612.9l7.3-3.1 7.3-3.4 7.3-3.8 6.8-3.9 7.3-4.4 6.9-4.5 6.9-4.8 6.9-5.1 7.2-5.7 7.3-6.1 15.8-14.1 16.2-15.7 32-32.2 13.7-13.5 14.6-13.6 13.3-11.5 8.1-6.4 8.1-6 8.1-5.6 8.1-5.2 8.1-4.7 8.1-4.3 8.5-4.2 8.5-3.6"/>
<path d="M85 586.4l13-5.7 13.3-6.4 13.4-6.7 13.7-7.4 15-8.3 16.2-9.5 65.9-40.1 15.4-9.1 14.2-8.1 16.2-8.9 15.7-8.1 15.4-7.4 15-6.7"/>
<path d="M85 621.4l8.1-3 7.7-3.4 7.3-3.5 7.3-4 7.2-4.4 6.9-4.7 7.3-5.3 6.9-5.5 7.3-6.4 7.2-6.8 7.3-7.3 7.7-8.2 15.8-18 30.8-37.1 12.9-15.1 7.3-8.1 6.9-7.3 6.4-6.5 6.5-6.1 8.1-7.2 8.1-6.5 8.1-5.9 8.1-5.3 8.5-4.9 8.5-4.4 8.9-4 9.3-3.5"/>
<path d="M85 635.8l10.5-1.8 9.7-2.3 8.9-2.8 8.1-3.3 7.7-3.9 7.3-4.5 6.9-5.1 6.9-6.1 6.8-7.1 6.9-8.2 6.5-8.8 6.9-10.4 6.5-10.8 6.8-12.3 25.9-49.6 6.1-11.3 5.3-9.2 6.4-10.7 6.1-9.1 6.1-8.3 6-7.4 7.7-8.1 7.7-6.7 4.1-3.1 4-2.8 4.1-2.5 4.4-2.5 4.5-2.1 4.8-2.1 9.7-3.4 11-2.8 12.1-2.1"/>
<path d="M85 613.7l7.3-3.2 7.3-3.4 7.3-3.7 6.8-3.9 7.3-4.4 6.9-4.5 6.9-4.8 6.9-5.2 7.2-5.7 7.3-6.2 7.7-6.8 8.1-7.5 16.2-15.8 32-32.7 13.3-13.3 14.6-13.8 13.7-11.9 8.1-6.5 8.1-6.1 8.1-5.6 8.1-5.2 8.1-4.7 8.1-4.3 8.5-4.1 8.5-3.7"/>
<path d="M85 633.5l11.3-2.7 10.2-3.1 9.3-3.6 8.9-4.5 8.5-5.1 8.1-6 8-7 7.7-7.8 6.1-7 6.5-8.2 6.5-9 6.4-9.7 11.8-19.1 27.1-46.4 7.3-11.8 6.8-10.4 7.3-10.2 6.9-8.7 6.9-7.8 6.9-6.9 6.8-6 6.9-5.2 7.3-4.7 7.7-4.2 8.1-3.6 8.5-3.1 8.9-2.6 9.7-2.2"/>
<path d="M85 622.4l9.3-3.5 8.9-4 8.5-4.3 8.5-4.9 8.1-5.2 8.1-5.9 8.1-6.6 8.1-7.2 6.5-6.2 6.8-7 6.9-7.4 7.3-8.3 12.9-15.4 30.4-37.5 15.4-17.9 7.7-8.3 7.2-7.4 7.3-6.9 7.3-6.5 6.9-5.5 7.3-5.4 6.9-4.7 7.2-4.4 7.3-4 7.7-3.7 7.7-3.2 8.1-3.1"/>
<path d="M85 582.4l13-5.6 12.9-5.8 13.4-6.4 13.7-7 15-7.8 16.6-9 65.9-37.2 29.6-16 16.2-8.3 15.7-7.8 15.4-7 15-6.5"/>
<path d="M85 611.1l7.3-3.2 6.9-3.3 7.3-3.8 6.8-3.8 6.9-4.2 6.9-4.4 6.9-4.7 7.3-5.3 14.5-11.5 15.8-13.7 16.6-15.5 32-31.1 13.7-13.1 14.6-13.1 13.7-11.5 8.1-6.3 8.1-5.9 8.1-5.5 8.1-5.1 8.1-4.7 8.1-4.4 8.1-3.9 8.5-3.8"/>
<path d="M85 588l15-6.7 15.4-7.6 15.7-8.3 16.6-9.3 13.8-8.1 15.4-9.4 65.5-41.1 16.6-9.9 15-8.6 13.7-7.5 13.4-6.9 13.3-6.4 13-5.8"/>
<path d="M85 629l8.9-2.7 8.1-2.9 8.1-3.5 7.7-3.8 7.3-4.2 7.3-4.9 6.8-5.2 6.9-5.8 7.3-6.9 7.3-7.7 7.3-8.3 7.2-9.1 6.9-9.1 7.7-10.7 29.1-42.8 12.2-17 6.9-9.1 6.4-8 6.5-7.5 6.5-6.9 7.7-7.4 8.1-6.9 8.1-6.1 8.5-5.4 8.9-4.9 8.9-4.1 9.7-3.6 10.1-3.1"/>
<path d="M85 581l13-5.5 12.9-5.8 13.4-6.3 13.7-6.7 15-7.7 16.6-8.8 65.9-36.1 29.6-15.6 16.6-8.4 15.7-7.5 15-6.8 15-6.4"/>
<path d="M85 633.8l11.3-2.6 10.2-3 9.7-3.8 8.9-4.4 8.5-5.1 8.1-6 8.1-7.1 7.6-7.8 6.1-7.1 6.1-7.7 6.5-9.1 6.4-9.8 11.8-19.3 27.1-47.1 7.3-11.9 6.8-10.5 7.3-10.3 6.9-8.7 6.9-7.8 6.9-6.9 6.8-6 6.9-5.2 7.3-4.6 7.7-4.1 8.1-3.6 8.5-3 8.9-2.5 9.7-2.2"/>
<path d="M85 626.7l9.7-3.2 9.3-3.8 8.9-4.2 8.5-4.8 8.5-5.5 8.1-6 8.1-6.8 7.7-7.2 6.5-6.6 6.4-7.1 6.9-8.1 6.9-8.5 13-17.1 29.5-40.6 7.7-10.1 7.3-9.1 7.7-9.1 7.2-8 7.3-7.3 6.9-6.3 6.9-5.8 6.9-5.2 7.2-4.9 7.3-4.3 7.7-4 7.7-3.5 8.1-3.1 8.5-2.8"/>
<path d="M85 537l242.4-33.6"/>
<path d="M85 629.2l10.1-3.1 9.7-3.6 8.9-4 8.9-4.9 8.5-5.5 8.1-6 8.1-6.9 7.7-7.5 6.5-6.9 6.5-7.5 6.4-8 6.9-9.1 12.2-17.1 29.1-43 7.7-10.8 6.9-9.1 7.2-9.1 7.3-8.4 7.3-7.7 6.9-6.5 6.9-5.9 7.2-5.5 7.3-4.8 7.3-4.3 7.7-3.8 8.1-3.4 8.1-2.9 8.9-2.7"/>
<path d="M85 635.1l10.5-2 9.3-2.4 8.5-2.8 8.1-3.4 7.7-3.9 7.3-4.6 6.9-5.1 6.9-6.1 6.8-7 6.9-8.1 6.9-9.1 6.9-10.1 6.4-10.5 7.3-12.6 26.3-48.6 11.4-19.8 6.4-10.3 6.5-9.5 6.1-8 6.1-7.3 7.6-7.9 7.7-6.8 8.1-5.9 8.5-5 4.5-2.3 4.8-2.1 9.7-3.5 10.6-2.8 11.7-2.3"/>
<path d="M85 595.1l13.4-6.2 13.3-6.8 13.8-7.6 13.7-8.3 15-9.5 16.2-10.9 17-12 47.7-34.4 15.4-10.6 13.8-9 16.2-10.1 15.7-9 15.8-8.2 15.4-7.2"/>
<path d="M85 631.2l9.3-2.5 8.5-2.8 8.1-3.3 7.7-3.6 7.7-4.4 7.3-4.8 6.8-5.2 6.9-5.9 7.3-7.1 6.9-7.5 6.9-8.2 7.2-9.5 6.9-9.7 7.7-11.4 28.3-44.6 12.2-18.2 6.9-9.6 6.4-8.4 6.5-7.8 6.1-6.6 7.7-7.6 8.1-7 8.1-6 8.4-5.4 9-4.7 9.3-4 9.7-3.3 10.5-2.9"/>
<path d="M85 549.4l51.8-12.3 129.9-31.7 60.7-14.4"/>
<path d="M85 621.7l9.3-3.5 8.9-4 8.5-4.3 8.5-4.9 8.1-5.3 8.1-5.9 8.1-6.6 8.1-7.1 6.5-6.2 6.4-6.5 6.9-7.3 7.3-8.2 12.9-15.2 30.8-37.4 15.4-17.6 7.7-8.3 7.7-7.7 7.2-6.9 7.3-6.3 6.9-5.6 7.3-5.3 6.9-4.6 7.2-4.5 7.3-3.9 7.3-3.6 7.7-3.3 8.1-3"/>
<path d="M85 556.7l51.8-15.2 129.5-39.8 32-9.6 29.1-8.4"/>
<path d="M85 625.4l8.1-2.8 8.1-3.2 7.7-3.6 7.7-4 7.3-4.4 7.2-4.9 6.9-5.2 6.9-5.7 6.9-6.2 7.3-7.2 7.2-7.8 7.7-8.8 7.3-8.9 8.1-10.2 30-39.8 12.5-16 7.3-8.8 6.9-7.9 6.4-6.9 6.5-6.5 8.1-7.5 8.1-6.7 8.1-5.9 8.1-5.3 8.5-4.8 8.9-4.3 8.9-3.7 9.7-3.4"/>
<path d="M85 550l51.8-12.5 129.9-32.4 60.7-14.7"/>
<path d="M85 502.1l242.4 36.2"/>
<path d="M85 624.1l8.1-2.9 8.1-3.3 7.7-3.6 7.3-4 7.3-4.3 6.8-4.7 7.3-5.4 6.9-5.7 7.3-6.5 7.3-7.1 7.2-7.6 7.7-8.6 7.3-8.7 8.1-9.9 30-38.6 12.9-16 7.3-8.6 6.9-7.6 6.4-6.8 6.5-6.4 8.1-7.3 8.1-6.6 8.1-6 8.1-5.2 8.5-4.9 8.5-4.2 8.9-3.8 9.7-3.5"/>
<path d="M85 637.9l13.4-1.6 11.7-2.3 5.3-1.4 5.2-1.6 4.9-1.8 4.4-1.9 4.5-2.2 4-2.4 4.1-2.6 4-3 4.1-3.4 3.6-3.4 3.6-3.8 3.7-4.2 6.1-7.8 5.6-8.4 5.7-9.4 6.1-11.2 4.8-9.6 5.7-12 17.8-39.5 6.9-14.8 6.4-13.2 6.1-11.3 6.5-10.8 6.5-9.5 6.4-8.2 6.5-6.9 6.5-5.7 6.9-5 7.2-4.3 8.1-3.7 8.5-2.9 9.3-2.3 10.6-1.9 11.7-1.4"/>
<path d="M85 601.6l13.8-6.5 13.7-7.3 13.8-8 13.7-8.9 15-10.5 15.8-11.8 16.6-13.1 47.3-38.3 15-11.5 13.8-10.1 16.5-11.1 15.8-9.7 15.8-8.5 15.8-7.5"/>
<path d="M85 629.6l10.1-2.9 9.7-3.6 9.3-4.2 8.5-4.5 8.5-5.5 8.1-6 8.1-6.9 7.7-7.5 6.5-6.9 6.5-7.6 6.4-8.1 6.9-9.2 12.6-18 28.7-43 7.7-10.9 6.9-9.3 7.2-9.1 7.3-8.5 6.9-7.3 7.3-6.9 6.9-5.9 6.8-5.2 7.3-4.9 7.3-4.2 7.7-3.8 8.1-3.4 8.5-3 8.9-2.5"/>
<path d="M85 619.1l7.7-3 7.7-3.5 7.3-3.6 7.3-4 7.2-4.5 6.9-4.6 6.9-5 6.9-5.4 7.3-6.2 7.2-6.6 7.7-7.4 7.7-7.8 15.8-17.2 31.2-35.7 13.3-14.8 14.2-14.7 6.9-6.7 6.4-5.9 8.1-6.9 8.1-6.4 8.1-5.8 8.1-5.3 8.1-4.7 8.5-4.5 8.9-4.1 8.9-3.5"/>
<path d="M85 609.4l14.2-6.6 7.3-3.8 6.8-3.8 13.8-8.5 14.2-9.9 14.5-11.3 15.8-13.3 16.6-15.1 32-30.1 13.7-12.6 14.6-12.8 13.7-11.2 8.1-6.2 8.1-5.8 8.1-5.5 8.1-5.1 8.1-4.7 8.1-4.3 8.1-4 8.5-3.8"/>
<path d="M85 627.2l10.1-3.3 9.3-3.8 8.9-4.2 8.5-4.7 8.5-5.6 8.1-6 8.1-6.8 7.7-7.3 6.5-6.7 6.5-7.2 6.8-8.1 6.9-8.7 12.6-16.8 29.1-40.6 7.7-10.2 7.3-9.3 7.6-9.1 7.3-8.1 7.3-7.4 6.9-6.4 6.9-5.8 6.9-5.2 7.2-4.9 7.3-4.3 7.7-4 7.7-3.5 8.1-3.1 8.9-2.9"/>
<path d="M85 635.6l10.5-1.9 9.3-2.3 8.9-2.8 8.1-3.3 7.7-3.9 7.3-4.5 6.9-5.2 6.9-6 6.8-7.1 6.9-8.1 6.5-8.7 6.9-10.3 6.4-10.6 7.3-12.8 26.3-49.8 11.4-20.2 6.4-10.5 6.1-9 6.1-8.2 6-7.3 7.7-8 7.7-6.8 4.1-3 4-2.8 4.1-2.5 4.4-2.5 4.5-2.2 4.8-2.1 9.7-3.4 11-2.8 11.7-2.2"/>
<path d="M85 577.4l25.9-10.8 27.1-12.4 31.6-15.4 66.3-33.8 29.6-14.6 16.6-7.8 15.3-7 15-6.5 15-6.1"/>
<path d="M85 626.5l8.5-2.8 8.1-3.2 7.7-3.4 7.7-4 7.3-4.4 7.2-4.9 6.9-5.2 6.9-5.7 6.9-6.4 7.3-7.3 7.2-7.9 7.7-9.1 7.3-9 7.7-10.1 29.5-40.4 13-17 6.9-8.5 6.9-8.1 6.4-7.1 6.5-6.6 7.7-7.2 8.1-6.7 8.1-6.1 8.5-5.5 8.5-4.7 8.9-4.3 9.3-3.8 9.7-3.2"/>
<path d="M85 623.3l9.3-3.4 9.3-4.1 8.5-4.2 8.5-4.9 8.1-5.3 8.1-5.9 8.1-6.7 8.1-7.2 6.5-6.3 6.4-6.8 6.9-7.5 7.3-8.4 12.9-15.8 30.4-38.2 8.1-9.8 7.3-8.5 7.7-8.4 7.2-7.6 7.3-7 7.3-6.4 6.9-5.6 7.3-5.4 6.9-4.7 7.2-4.4 7.3-3.9 7.7-3.6 7.7-3.3 8.1-2.9"/>
<path d="M85 568.6l25.1-9.2 27.1-10.5 31.6-12.9 67.5-28.5 29.6-12.2 32-12.6 29.5-10.9"/>
<path d="M85 635.5l11.7-2.3 11-2.8 9.7-3.5 4.8-2.1 4.5-2.2 4.4-2.5 4.1-2.5 4-2.8 4.1-3.1 7.7-6.8 7.7-8 6-7.3 6.1-8.2 6.1-9 6.4-10.4 11.4-20 26.3-49.5 7.3-12.7 6.4-10.6 6.9-10.2 6.5-8.7 6.9-8.1 6.8-7.1 6.9-6.1 6.9-5.1 7.3-4.6 7.7-3.9 8.1-3.3 8.9-2.9 9.3-2.3 10.5-2"/>
<path d="M85 636.9l12.6-1.9 11.3-2.6 5.2-1.6 4.9-1.6 4.9-2 4.4-2 4.5-2.4 4-2.4 4.1-2.8 4-3 4-3.4 3.7-3.4 4-4.2 3.7-4.1 6-7.6 5.7-8 6.1-9.5 6-10.5 5.3-9.8 5.7-11.1 18.6-38.2 6.9-13.8 6.8-13 6.1-10.6 6.9-10.9 6.5-9.1 6.4-7.9 6.9-7.3 6.9-6.1 6.9-5 7.3-4.4 7.6-3.7 8.5-3.2 8.9-2.5 10.2-2.2 10.9-1.6"/>
<path d="M85 589.2l15.4-7 15.4-7.7 15.7-8.4 16.2-9.2 13.8-8.3 15.4-9.6 65.5-42 16.2-9.9 15-8.7 14.1-7.8 13.4-7 13.3-6.5 13-5.9"/>
<path d="M85 636l12.1-2.1 11-2.7 9.7-3.3 4.8-2.1 4.5-2.1 4.4-2.4 4.1-2.5 4-2.8 4.1-3 7.7-6.8 7.7-8.1 6-7.4 6.1-8.2 6.1-9.2 6.4-10.8 5.3-9.3 6.1-11.3 25.9-50.2 6.8-12.4 6.5-10.9 6.9-10.5 6.5-8.8 6.9-8.2 6.8-7.1 6.9-6 6.9-5.1 7.3-4.5 7.7-3.8 8.1-3.2 8.9-2.8 9.7-2.2 10.5-1.8"/>
<path d="M85 618l7.7-3.1 7.7-3.5 7.3-3.7 7.3-4 7.2-4.5 6.9-4.6 6.9-5 6.9-5.3 7.3-6.1 7.2-6.5 7.7-7.3 7.7-7.7 15.8-16.8 31.2-34.9 13.3-14.5 14.2-14.5 13.3-12.4 8.1-6.8 8.1-6.3 8.1-5.8 8.1-5.3 8.1-4.8 8.5-4.4 8.9-4.2 8.9-3.6"/>
<path d="M85 613.3l8.5-3.7 8.5-4.1 8.1-4.3 8.1-4.7 8.1-5.2 8.1-5.6 8.1-6 8.1-6.5 13.7-11.9 14.6-13.7 13.3-13.2 32-32.5 16.2-15.7 8.1-7.5 7.7-6.7 7.3-6.1 7.2-5.8 6.9-5.1 6.9-4.8 6.9-4.5 7.3-4.4 6.8-3.9 7.3-3.7 7.3-3.5 7.3-3.1"/>
<path d="M85 634.9l11.7-2.4 10.6-2.9 9.7-3.6 8.9-4.2 4.4-2.5 4.5-2.8 8.1-6 7.7-6.8 7.6-8 6.1-7.2 6.1-8 6.5-9.4 6.4-10.2 11.4-19.6 26.7-48.7 7.3-12.4 6.4-10.3 6.9-10 6.9-9 6.9-8 6.8-7 6.9-6 6.9-5.2 7.3-4.5 7.7-4 8.1-3.4 8.5-2.9 9.3-2.4 10.1-2"/>
<path d="M85 621.3l9.3-3.6 8.9-4 8.5-4.3 8.5-5 8.1-5.3 8.1-5.9 8.1-6.5 8.1-7.1 6.5-6.1 6.4-6.5 6.9-7.3 7.3-8.1 12.9-15 30.8-37.1 15.8-17.9 7.7-8.2 7.3-7.2 7.2-6.9 7.3-6.3 6.9-5.5 7.3-5.4 6.9-4.6 7.2-4.4 7.3-4 7.3-3.6 7.7-3.3 8.1-3.1"/>
<path d="M85 622.9l9.3-3.4 9.3-4.1 8.5-4.3 8.5-4.9 8.1-5.3 8.1-5.9 8.1-6.6 8.1-7.3 6.5-6.2 6.4-6.7 6.9-7.5 7.3-8.4 12.9-15.6 30.4-38 8.1-9.7 7.3-8.4 7.7-8.4 7.2-7.5 7.3-6.9 7.3-6.5 6.9-5.6 7.3-5.4 6.9-4.6 7.2-4.4 7.3-3.9 7.7-3.7 7.7-3.3 8.1-2.9"/>
<path d="M85 634.9l11.7-2.3 10.6-2.9 9.7-3.6 4.8-2.1 4.5-2.3 8.5-5 8.1-6 7.7-6.8 7.6-7.9 6.1-7.3 6.1-8 6.5-9.4 6.4-10.3 11.4-19.6 26.3-48.2 7.3-12.5 6.4-10.3 6.9-10.1 6.9-9.1 6.9-8.1 6.8-7 6.9-6.1 6.9-5.2 7.3-4.6 7.7-4 8.1-3.4 8.9-3 9.3-2.4 10.1-1.9"/>
<path d="M85 633.5l9.7-2.1 8.9-2.6 8.5-3.1 8.1-3.6 7.7-4.1 7.3-4.7 6.9-5.2 6.8-6 6.9-6.9 6.9-7.8 6.9-8.7 7.3-10.2 6.8-10.5 7.3-11.8 27.1-46.6 11.8-19.1 6.4-9.8 6.5-9 6.1-7.7 6.1-7 7.6-7.9 8.1-7.1 8.1-6 8.5-5.2 8.9-4.4 9.7-3.9 10.2-3 11.3-2.6"/>
<path d="M85 630.3l10.5-3 9.7-3.5 9.3-4.1 8.5-4.6 8.5-5.4 8.1-6 8.1-7 7.7-7.5 6.5-7 6.5-7.7 6.4-8.3 6.9-9.3 12.2-17.8 28.3-43.3 7.7-11.1 6.9-9.5 7.2-9.3 7.3-8.6 6.9-7.4 7.3-7 6.9-5.9 7.2-5.5 7.3-4.8 7.3-4.1 7.7-3.8 8.1-3.3 8.5-2.9 8.9-2.5"/>
<path d="M85 569.8l25.1-9.4 27.1-10.8 31.6-13.2 67.5-29.3 29.6-12.5 32-12.8 29.5-11.2"/>
<path d="M85 561.3l25.1-8 26.7-8.9 32-11 97.5-34.2 32-10.7 29.1-9.4"/>
<path d="M85 632.4l10.9-2.8 10.2-3.3 9.3-3.9 8.9-4.5 8.5-5.3 8.1-6 8-7.1 7.7-7.7 6.1-6.9 6.5-8 6.4-8.7 6.5-9.4 12.2-18.9 27.5-45.2 7.3-11.3 6.8-10.1 7.3-9.8 6.9-8.5 6.9-7.7 7.3-7.2 6.8-5.9 6.9-5.3 7.3-4.7 7.7-4.3 7.7-3.6 8.5-3.2 8.9-2.8 9.3-2.3"/>
<path d="M85 590.2l13-5.9 13.3-6.6 13.8-7.2 13.7-7.8 15-8.8 16.2-10.1 65.5-42.8 15.4-9.7 13.8-8.4 16.2-9.4 15.7-8.5 15.4-7.7 15.4-7.1"/>
<path d="M85 619.9l7.7-3.1 7.7-3.4 7.3-3.6 7.3-4 7.2-4.4 6.9-4.6 7.3-5.3 6.9-5.5 7.3-6.2 7.2-6.7 7.7-7.5 7.7-8 15.8-17.4 30.8-35.8 12.9-14.6 14.2-15 6.8-6.7 6.5-6 8.1-7 8.1-6.5 8.1-5.8 8.1-5.3 8.5-5 8.5-4.4 8.9-4 8.9-3.6"/>
<path d="M85 584.3l13-5.6 13.3-6.2 13.4-6.6 13.7-7.1 15-8.1 16.2-9.1 65.9-38.6 29.6-16.6 16.2-8.6 15.7-7.9 15.4-7.2 15-6.6"/>
<path d="M85 612.8l8.5-3.7 8.5-4.1 8.1-4.3 8.1-4.7 8.1-5.2 8.1-5.6 8.1-6 8.1-6.4 13.3-11.5 14.6-13.5 13.7-13.5 32-32.2 16.2-15.6 15.8-14.1 7.3-6.1 7.2-5.7 6.9-5.1 6.9-4.8 6.9-4.5 7.3-4.4 6.8-3.9 7.3-3.7 7.3-3.5 7.3-3.1"/>
<path d="M85 575.4l25.5-10.3 27.1-12 31.6-14.8 66.7-32.7 29.6-14 16.6-7.6 15.3-6.8 15-6.3 15-5.9"/>
<path d="M85 635.5l11.7-2.2 11-2.8 9.7-3.4 4.8-2.1 4.5-2.2 4.4-2.5 4.1-2.5 4-2.8 4.1-3.1 7.7-6.8 7.7-8 6-7.3 6.1-8.2 6.1-9 6.4-10.5 11.4-20.1 26.3-49.6 7.3-12.8 6.4-10.6 6.9-10.2 6.5-8.7 6.9-8.2 6.8-7 6.9-6.1 6.9-5.1 7.3-4.5 7.7-4 8.1-3.3 8.9-2.8 9.3-2.3 10.5-1.9"/>
<path d="M85 586.5l13-5.7 13.3-6.4 13.4-6.7 13.7-7.3 15-8.4 16.6-9.7 65.5-40 15.4-9.2 13.8-7.9 16.6-9.1 15.7-8.1 15.4-7.5 15-6.6"/>
<path d="M85 614.2l8.5-3.6 8.5-4.1 8.5-4.5 8.1-4.8 8.1-5.2 8.1-5.6 8.1-6.1 8.1-6.6 13.3-11.7 14.6-13.9 13.3-13.4 32-33.1 15.8-15.6 8.1-7.6 7.7-6.9 7.3-6.2 7.2-5.8 6.9-5.2 6.9-4.8 6.9-4.6 7.3-4.4 6.8-3.9 7.3-3.7 7.3-3.5 7.7-3.2"/>
<path d="M85 612.7l7.3-3.1 7.3-3.5 7.3-3.7 6.8-3.9 6.9-4.2 6.9-4.4 6.9-4.8 7.3-5.4 7.2-5.7 7.3-6.1 15.8-14.1 16.2-15.5 32-32.1 13.7-13.5 14.6-13.5 13.3-11.5 8.1-6.4 8.1-6 8.1-5.6 8.1-5.1 8.1-4.8 8.1-4.3 8.5-4.1 8.5-3.7"/>
<path d="M85 633l10.9-2.7 10.2-3.1 9.7-4 8.9-4.5 8.5-5.2 8.1-6 8-7.1 7.7-7.8 6.1-6.9 6.5-8.2 6.5-8.9 6.4-9.5 11.8-18.8 27.5-46.2 7.3-11.5 6.8-10.3 7.3-10 6.9-8.5 6.9-7.7 6.9-6.9 6.8-6 6.9-5.2 7.3-4.7 7.7-4.2 7.7-3.5 8.5-3.2 8.9-2.7 9.7-2.3"/>
<path d="M85 568.8l25.1-9.2 27.1-10.6 31.6-13 67.5-28.6 29.6-12.2 32-12.7 29.5-10.9"/>
<path d="M85 616.2l8.9-3.8 8.5-4 8.5-4.5 8.1-4.8 8.1-5.2 8.1-5.7 8.1-6.3 8.1-6.7 13.3-12 14.6-14.4 13.3-14 31.2-33.5 16.2-16.6 7.7-7.5 7.7-7.1 7.2-6.3 7.3-6 6.9-5.3 6.9-4.9 6.9-4.5 7.3-4.5 7.2-4.1 7.3-3.7 7.3-3.4 7.7-3.2"/>
<path d="M85 612.2l7.3-3.1 7.3-3.5 7.3-3.8 6.8-3.8 6.9-4.2 6.9-4.5 6.9-4.7 7.3-5.4 7.2-5.7 7.3-6 15.8-14 16.2-15.4 32-31.8 13.7-13.4 14.6-13.3 13.3-11.4 8.1-6.4 8.1-6 8.1-5.6 8.1-5.1 8.1-4.7 8.1-4.4 8.5-4.1 8.5-3.7"/>
<path d="M85 626l8.1-2.7 8.1-3.1 7.7-3.5 7.7-4 7.3-4.4 7.2-4.9 6.9-5.1 6.9-5.7 7.3-6.7 7.3-7.3 7.2-7.9 7.7-8.9 7.3-9 7.7-10 30-40.4 12.5-16.3 6.9-8.4 6.9-8 6.4-7.1 6.5-6.5 8.1-7.6 8.1-6.7 8.1-6 8.1-5.2 8.5-4.8 8.9-4.3 9.3-3.8 9.7-3.3"/>
<path d="M85 625.2l8.1-2.7 8.1-3.3 7.7-3.5 7.7-4.1 7.3-4.4 7.2-4.9 6.9-5.2 6.9-5.7 6.9-6.2 7.3-7.2 7.2-7.8 7.7-8.8 7.3-8.8 8.1-10.2 30-39.6 12.5-16 7.3-8.8 6.9-7.8 6.4-7 6.5-6.4 8.1-7.5 8.1-6.7 8.1-5.9 8.1-5.3 8.5-4.8 8.9-4.3 8.9-3.7 9.7-3.4"/>
<path d="M85 605.6l8.1-3.7 8.1-4 8.1-4.3 7.7-4.4 8.1-5 8.1-5.2 8.1-5.6 8-5.9 13.8-10.6 15-12.3 13.7-11.8 32.8-28.7 16.6-14 15.8-12.6 15-11.1 13.7-9.2 13.8-8.3 13.7-7.4 14.2-6.7"/>
<path d="M85 621.5l9.3-3.6 8.9-3.9 8.5-4.4 8.5-4.9 8.1-5.3 8.1-5.9 8.1-6.5 8.1-7.2 6.5-6.1 6.4-6.5 6.9-7.3 7.3-8.1 12.9-15.2 30.8-37.2 15.8-18 7.7-8.2 7.3-7.3 7.2-6.8 7.3-6.4 6.9-5.5 7.3-5.3 6.9-4.7 7.2-4.4 7.3-4 7.3-3.5 7.7-3.3 8.1-3.1"/>
<path d="M85 608l14.2-6.6 13.7-7.4 13.8-8.4 14.2-9.7 14.9-11.4 15.8-13.1 16.2-14.3 32.8-30.1 13.7-12.3 14.6-12.5 13.7-11 8.1-6.1 8.1-5.7 8.1-5.4 8.1-5 8.1-4.7 8.1-4.3 8.1-4 8.1-3.6"/>
<path d="M85 625.2l8.1-2.8 8.1-3.3 7.7-3.5 7.7-4.1 7.3-4.4 7.2-4.9 6.9-5.2 6.9-5.7 6.9-6.2 7.3-7.2 7.2-7.7 7.7-8.8 7.3-8.8 8.1-10.3 30-39.5 12.5-16 7.3-8.7 6.9-7.9 6.4-6.9 6.5-6.5 8.1-7.4 8.1-6.7 8.1-5.9 8.1-5.3 8.5-4.8 8.9-4.4 8.9-3.7 9.7-3.4"/>
<path d="M85 614.7l8.5-3.7 8.5-4 8.5-4.5 8.1-4.8 8.1-5.2 8.1-5.7 8.1-6.1 8.1-6.6 13.3-11.7 14.6-14 13.3-13.6 32-33.4 15.8-15.7 8.1-7.7 7.7-6.9 7.3-6.2 7.2-5.9 6.9-5.1 6.9-4.9 6.9-4.5 7.3-4.5 6.8-3.8 7.3-3.8 7.3-3.4 7.7-3.3"/>
<path d="M85 599.7l15.8-7.5 15.8-8.5 15.8-9.4 16.5-11 13.8-9.7 15-11.2 47.3-37 16.6-12.6 16.2-11.8 15-10.2 13.7-8.7 13.8-7.9 13.3-7 13.8-6.5"/>
<path d="M85 616.3l8.9-3.8 8.5-4 8.5-4.5 8.1-4.7 8.1-5.3 8.1-5.7 8.1-6.2 8.1-6.7 13.3-12.1 14.6-14.4 13.3-14 31.2-33.7 16.2-16.6 7.7-7.5 7.7-7.1 7.2-6.3 7.3-6 6.9-5.3 6.9-4.9 6.9-4.6 7.3-4.4 7.2-4.1 7.3-3.7 7.3-3.4 7.7-3.2"/>
<path d="M85 623.6l8.1-2.9 7.7-3.2 7.7-3.7 7.3-3.9 7.2-4.4 6.9-4.6 7.3-5.4 6.9-5.6 7.3-6.5 7.3-7 7.2-7.5 7.7-8.5 7.3-8.5 8.1-9.9 30.4-38.5 12.9-15.9 7.3-8.5 6.9-7.6 6.4-6.7 6.5-6.3 8.1-7.3 8.1-6.6 8.1-6 8.1-5.3 8.5-4.8 8.5-4.3 9.3-4 9.3-3.4"/>
<path d="M85 637.9l11.7-1.5 10.2-1.8 9.3-2.3 8.5-2.9 8.1-3.7 7.2-4.2 6.9-5 6.5-5.7 6.9-7.3 6.4-8.2 6.5-9.5 6.5-10.8 6.1-11.2 6.4-13.1 6.9-14.8 17.8-39.3 5.7-11.9 4.8-9.6 6.1-11.2 5.7-9.3 5.6-8.4 6.1-7.9 3.7-4.1 3.6-3.8 3.6-3.4 4.1-3.4 4-3.1 4.1-2.6 4-2.4 4.5-2.2 4.4-2 4.9-1.8 5.2-1.6 5.3-1.4 11.7-2.3 13.4-1.7"/>
<path d="M85 604.8l14.2-6.7 13.7-7.4 13.8-8.3 13.7-9.1 15-11 15.8-12.4 16.6-13.8 32.8-28.3 13.7-11.6 15-12.2 13.8-10.5 16.1-11.3 8.1-5.3 8.1-4.9 7.7-4.4 8.1-4.3 8.1-4 8.1-3.7"/>
<path d="M85 622.7l9.3-3.5 8.9-3.9 8.5-4.3 8.5-4.9 8.1-5.2 8.1-6 8.1-6.5 8.1-7.2 6.5-6.2 6.8-7.1 6.9-7.5 7.3-8.3 12.9-15.5 30.4-37.7 15.4-18 7.7-8.4 7.2-7.5 7.3-6.9 7.3-6.4 6.9-5.6 7.3-5.4 6.9-4.7 7.2-4.4 7.3-3.9 7.7-3.7 7.7-3.3 8.1-3"/>
<path d="M85 634.6l11.7-2.4 10.6-3 9.7-3.6 8.9-4.3 8.5-5.1 8.1-5.9 7.7-6.8 7.6-7.9 6.1-7.1 6.1-8 6.5-9.3 6.4-10.1 11.8-20 26.7-48.2 7.3-12.3 6.4-10.2 6.9-10 6.9-9 6.9-7.9 6.8-7 6.9-6.1 6.9-5.1 7.3-4.6 7.7-4.1 8.1-3.4 8.5-2.9 9.3-2.5 10.1-2"/>
<path d="M85 533.8l242.4-27.2"/>
<path d="M85 552.4l60.7-15.8 129.9-35.1 51.8-13.5"/>
<path d="M85 579.4l13-5.4 12.9-5.6 13.4-6.2 13.7-6.6 31.6-16 66.3-35.2 29.6-15.2 16.2-7.9 15.7-7.4 15-6.7 15-6.2"/>
<path d="M85 614.4l7.7-3.3 7.3-3.4 7.3-3.7 6.8-3.9 7.3-4.4 6.9-4.6 6.9-4.8 6.9-5.2 7.2-5.9 7.3-6.2 7.7-6.8 8.1-7.6 15.8-15.7 32-33.2 13.3-13.5 14.6-14 13.3-11.7 8.1-6.6 8.1-6.1 8.1-5.6 8.1-5.2 8.1-4.8 8.5-4.5 8.5-4.1 8.5-3.6"/>
<path d="M85 638.3l13.8-1.6 6.4-1 5.7-1.1 5.3-1.3 5.2-1.6 4.9-1.7 4.4-1.9 4.5-2.2 4-2.3 4.1-2.6 4-3 4.1-3.4 3.6-3.4 3.7-3.9 3.6-4.2 5.7-7.4 5.6-8.5 5.7-9.6 6.1-11.5 4.8-10 5.7-12.3 17.4-39.9 6.5-14.5 6.4-13.5 6.1-11.6 6.5-11.1 6.4-9.6 6.5-8.3 6.5-6.9 6.5-5.7 6.8-4.9 7.3-4.1 8.1-3.6 8.5-2.7 9.3-2.2 10.6-1.8 12.1-1.3"/>
<path d="M85 624l8.1-2.9 8.1-3.3 7.7-3.6 7.3-3.9 7.3-4.4 6.8-4.7 7.3-5.4 6.9-5.7 7.3-6.5 7.3-7.1 7.2-7.6 7.7-8.6 7.3-8.6 8.1-10 30-38.4 12.9-16.1 7.3-8.5 6.9-7.6 6.4-6.8 6.5-6.4 8.1-7.3 8.1-6.6 8.1-6 8.1-5.2 8.5-4.9 8.5-4.2 8.9-3.8 9.7-3.5"/>
<path d="M85 633l11.3-2.8 10.2-3.2 9.3-3.7 8.9-4.5 8.5-5.3 8.1-6 8-7.1 7.7-7.8 6.1-6.9 6.5-8.2 6.5-8.8 6.4-9.6 11.8-18.8 27.5-46.2 7.3-11.6 6.8-10.2 7.3-10 6.9-8.6 6.9-7.7 6.9-6.8 6.8-6 6.9-5.2 7.3-4.7 7.7-4.2 7.7-3.5 8.5-3.2 8.9-2.7 9.7-2.3"/>
<path d="M85 611.9l7.3-3.2 7.3-3.4 7.3-3.8 6.8-3.9 6.9-4.1 6.9-4.5 6.9-4.7 7.3-5.4 7.2-5.7 7.3-5.9 15.8-14 16.2-15.3 32-31.6 13.7-13.3 14.6-13.3 13.3-11.3 8.1-6.4 8.1-6 8.1-5.5 8.1-5.2 8.1-4.7 8.1-4.3 8.5-4.2 8.5-3.7"/>
<path d="M85 511.7l242.4 17"/>
<path d="M85 520.3l242.4-.2"/>
<path d="M85 631.5l10.5-2.8 10.1-3.5 9.4-4 8.9-4.6 8.5-5.4 8-6 8.1-7.1 7.7-7.6 6.1-6.8 6.5-7.8 6.4-8.5 6.9-9.7 12.2-18.5 27.5-43.7 7.7-11.6 6.8-9.7 7.3-9.7 6.9-8.3 6.9-7.5 7.3-7.2 6.8-5.9 6.9-5.3 7.3-4.8 7.7-4.3 7.7-3.7 8.5-3.4 8.5-2.7 9.3-2.5"/>
<path d="M85 620.5l7.7-2.9 7.7-3.4 7.7-3.8 7.3-4 7.2-4.5 6.9-4.6 6.9-5 6.9-5.5 7.3-6.3 7.2-6.7 7.7-7.6 7.7-8 15.8-17.7 30.8-36.4 12.9-14.8 14.2-15.1 6.8-6.8 6.5-6.1 8.1-7 8.1-6.5 8.1-5.9 8.1-5.2 8.5-5 8.5-4.3 8.9-4.1 8.9-3.4"/>
<path d="M85 574.5l25.5-10.2 27.1-11.8 31.6-14.5 66.7-32.1 29.6-13.8 16.6-7.5 15.3-6.6 15-6.2 15-5.9"/>
<path d="M85 632.3l10.9-2.8 10.2-3.3 9.3-3.9 8.9-4.5 8.5-5.3 8.1-6.1 8-7 7.7-7.8 6.1-6.8 6.5-8 6.4-8.7 6.5-9.4 12.2-18.9 27.5-45 7.3-11.3 6.8-10 7.3-9.9 6.9-8.5 6.9-7.6 7.3-7.2 6.8-6 6.9-5.2 7.3-4.8 7.7-4.3 7.7-3.5 8.5-3.3 8.9-2.8 9.3-2.3"/>
<path d="M85 563l25.1-8.3 27.1-9.4 31.6-11.3 97.5-35.7 32-11.2 29.1-9.7"/>
<path d="M85 632.4l10.9-2.7 10.2-3.3 9.3-3.9 8.9-4.5 8.5-5.3 8.1-6 8-7.1 7.7-7.7 6.1-6.9 6.5-8 6.4-8.7 6.5-9.4 12.2-19 27.5-45.3 7.3-11.3 6.8-10.1 7.3-9.8 6.9-8.5 6.9-7.7 7.3-7.2 6.8-6 6.9-5.2 7.3-4.7 7.7-4.3 7.7-3.6 8.5-3.2 8.9-2.7 9.3-2.3"/>
<path d="M85 634.6l10.1-2.1 9.3-2.5 8.5-2.9 8.1-3.5 7.7-4 7.3-4.6 6.9-5.2 6.9-6 6.8-7 6.9-8 6.9-9 6.9-9.9 6.4-10.2 7.3-12.3 26.7-48 11.8-20 6.4-10.1 6.5-9.3 6.1-7.9 6.1-7.1 7.6-8 7.7-6.7 8.1-6 8.5-5.1 8.9-4.3 9.7-3.6 10.6-3 11.7-2.5"/>
<path d="M85 596l13.4-6.2 13.3-6.8 13.8-7.7 13.7-8.4 15-9.6 16.2-11.1 17-12.2 47.7-34.9 15-10.5 13.8-9.2 16.6-10.4 15.7-9.1 15.8-8.3 15.4-7.2"/>
<path d="M85 582.9l15-6.5 15.4-7.1 15.7-7.8 16.2-8.4 29.6-16.2 65.9-37.5 16.6-9.1 15-7.9 13.7-6.9 13.4-6.5 12.9-5.9 13-5.6"/>
<path d="M85 629.8l10.1-3 9.7-3.5 9.3-4.1 8.5-4.6 8.5-5.4 8.1-6 8.1-7 7.7-7.4 6.5-7 6.5-7.5 6.4-8.2 6.9-9.2 12.6-18.1 28.7-43.2 7.7-11 6.9-9.2 7.2-9.3 7.3-8.4 6.9-7.3 7.3-7 6.9-5.8 6.8-5.2 7.3-4.9 7.3-4.2 7.7-3.8 8.1-3.4 8.5-2.9 8.9-2.6"/>
<path d="M85 583.4l13-5.6 12.9-5.9 13.4-6.5 14.1-7.2 15-8 16.2-9 65.9-37.9 29.6-16.3 16.2-8.5 15.7-7.8 15.4-7.2 15-6.5"/>
<path d="M85 630l8.9-2.6 8.5-2.9 8.1-3.4 7.7-3.7 7.3-4.2 7.3-4.9 7.2-5.5 6.9-5.9 7.3-7 6.9-7.3 7.3-8.6 7.2-9.3 6.9-9.3 7.7-11.1 28.3-42.8 12.2-17.6 6.9-9.3 6.4-8.2 6.5-7.7 6.5-7 7.7-7.5 8.1-7 8.1-6 8.5-5.4 8.5-4.6 9.3-4.2 9.7-3.5 10.5-3.1"/>
<path d="M85 579.2l15-6.3 15-6.6 15.7-7.4 16.2-7.9 29.6-15.1 66.3-35 31.6-15.9 27.1-12.7 12.9-5.7 13-5.4"/>
<path d="M85 629.4l10.1-3 9.7-3.6 9.3-4.2 8.5-4.6 8.5-5.4 8.1-6.1 8.1-6.9 7.7-7.5 6.5-6.9 6.5-7.5 6.4-8.1 6.9-9.1 12.6-17.9 28.7-42.7 7.7-10.9 6.9-9.2 7.2-9.1 7.3-8.4 7.3-7.7 6.9-6.5 6.9-5.9 6.8-5.2 7.3-4.9 7.3-4.2 7.7-3.9 8.1-3.4 8.5-3 8.9-2.6"/>
<path d="M85 618.8l7.7-3.1 7.7-3.4 7.3-3.7 7.3-4 7.2-4.5 6.9-4.6 6.9-5 6.9-5.4 7.3-6.1 7.2-6.6 7.7-7.4 7.7-7.8 15.8-17 31.2-35.5 13.3-14.7 14.2-14.6 6.9-6.7 6.4-5.9 8.1-6.9 8.1-6.3 8.1-5.8 8.1-5.3 8.1-4.7 8.5-4.5 8.9-4.1 8.9-3.6"/>
<path d="M85 606.4l14.2-6.6 13.7-7.4 13.8-8.4 13.7-9.3 15-11.1 15.8-12.8 16.6-14.2 32.8-29.2 13.7-12 14.6-12.2 13.7-10.7 8.1-6 8.1-5.6 8.1-5.3 8.1-5 8.1-4.7 8.1-4.3 8.1-4 8.1-3.6"/>
<path d="M85 591.3l13-5.9 13.3-6.6 13.8-7.4 13.7-7.8 15-9 16.2-10.3 17-11.2 48.5-32.5 15.4-9.9 13.8-8.6 16.2-9.5 15.7-8.7 15.4-7.7 15.4-7.1"/>
<path d="M85 621.5l9.3-3.6 8.9-4 8.5-4.3 8.5-5 8.1-5.3 8.1-5.8 8.1-6.6 8.1-7.1 6.5-6.1 6.4-6.6 6.9-7.3 7.3-8.1 12.9-15.1 30.8-37.2 15.8-18 7.7-8.1 7.3-7.3 7.2-6.9 7.3-6.3 6.9-5.5 7.3-5.4 6.9-4.6 7.2-4.4 7.3-4 7.3-3.6 7.7-3.3 8.1-3.1"/>
<path d="M85 544.2l51.4-10 130.3-26.1 60.7-11.9"/>
<path d="M85 610.6l8.5-3.8 8.1-3.9 8.1-4.4 8.1-4.7 8.1-5.1 8.1-5.5 8.1-5.9 8.1-6.2 13.7-11.4 14.6-13.1 13.7-12.9 32-30.8 16.6-15.4 15.8-13.6 14.5-11.5 7.3-5.2 6.9-4.7 6.9-4.4 6.9-4.2 6.8-3.8 7.3-3.8 6.9-3.3 7.3-3.2"/>
<path d="M85 607.4l8.1-3.6 8.1-4 8.1-4.3 8.1-4.7 8.1-5 8.1-5.3 8.1-5.7 8.1-6.1 13.7-10.9 14.6-12.3 13.7-12.3 32.8-29.7 16.2-14.1 15.8-13 14.9-11.3 14.2-9.7 13.8-8.4 13.7-7.4 14.2-6.6"/>
<path d="M85 627.9l10.1-3.2 9.3-3.6 8.9-4.1 8.9-5 8.5-5.5 8.1-6 8.1-6.9 7.7-7.3 6.5-6.8 6.5-7.3 6.4-7.9 6.9-8.8 12.6-17.1 29.1-41.5 7.7-10.4 7.3-9.4 7.6-9.3 7.3-8.2 7.3-7.5 6.9-6.4 6.9-5.8 6.9-5.2 7.2-4.9 7.3-4.2 7.7-4 7.7-3.3 8.1-3.1 8.9-2.7"/>
<path d="M85 576.6l15-6.1 15-6.4 15.3-6.9 16.6-7.7 29.6-14.4 66.7-33.4 31.6-15.2 27.1-12.1 25.5-10.6"/>
<path d="M85 635.9l12.1-2.1 11-2.8 9.7-3.3 4.8-2.1 4.5-2.2 4.4-2.4 4.1-2.5 4-2.8 4.1-3 7.7-6.8 7.7-8.1 6-7.4 6.1-8.3 6.1-9.1 6.4-10.7 5.3-9.3 6.1-11.3 25.9-49.9 6.8-12.3 6.5-10.8 6.9-10.4 6.5-8.8 6.9-8.3 6.8-7.1 6.9-6 6.9-5.1 7.3-4.5 7.7-3.9 8.1-3.2 8.9-2.8 9.7-2.3 10.5-1.8"/>
<path d="M85 609.7l8.5-3.8 8.1-4 8.1-4.3 8.1-4.7 8.1-5.1 8.1-5.5 8.1-5.8 8.1-6.2 13.7-11.3 14.6-12.8 13.7-12.8 32-30.2 16.6-15.1 15.8-13.5 14.5-11.3 14.2-9.9 13.8-8.5 6.8-3.9 7.3-3.7 14.2-6.6"/>
<path d="M85 581.6l13-5.5 12.9-5.8 13.4-6.4 13.7-6.8 15-7.7 16.6-8.9 65.9-36.6 29.6-15.8 16.2-8.3 15.7-7.6 15.4-7 15-6.4"/>
<path d="M85 634.2l11.3-2.5 10.6-3 9.7-3.8 8.9-4.3 8.5-5.1 8.1-6 8.1-7.1 7.6-7.9 6.1-7.1 6.1-7.9 6.5-9.2 6.4-10 11.8-19.6 26.7-47.3 7.3-12 6.4-10.1 7.3-10.4 6.9-8.8 6.9-7.9 6.9-7 6.8-6 6.9-5.2 7.3-4.6 7.7-4.1 8.1-3.5 8.5-3 9.3-2.5 9.7-2.1"/>
<path d="M85 635.7l12.1-2.2 11-2.9 9.7-3.4 4.8-2.1 4.5-2.2 4.4-2.5 4.1-2.5 4-2.8 4.1-3.1 7.7-6.8 7.7-8.1 6-7.4 6.1-8.2 6.1-9.1 6.4-10.6 11.4-20.3 25.9-49.3 6.8-12.2 6.5-10.7 6.9-10.4 6.9-9.3 6.9-8.1 6.8-7.1 6.9-6 6.9-5.1 7.3-4.5 7.7-3.9 8.1-3.2 8.9-2.9 9.3-2.2 10.5-1.9"/>
<path d="M85 612.7l8.5-3.7 8.5-4.1 8.1-4.3 8.1-4.8 8.1-5.1 8.1-5.6 8.1-6 8.1-6.4 13.3-11.5 14.6-13.5 13.7-13.5 32-32.1 16.2-15.5 15.8-14.1 7.3-6.1 7.2-5.7 7.3-5.4 6.9-4.8 6.9-4.4 6.9-4.2 6.8-3.9 7.3-3.7 7.3-3.5 7.3-3.1"/>
<path d="M85 591.5l13-5.9 13.3-6.7 13.8-7.3 13.7-7.9 15-9 16.2-10.3 17-11.2 48.1-32.4 15.4-10 13.8-8.6 16.6-9.7 15.7-8.7 15.4-7.8 15.4-7.1"/>
<path d="M85 617.2l7.7-3.2 7.3-3.3 7.3-3.7 7.2-4 7.3-4.5 6.9-4.6 6.9-4.9 6.9-5.3 7.3-6 7.2-6.5 7.7-7.2 7.7-7.5 16.2-17 31.2-34.2 13.3-14.3 14.6-14.6 13.3-12.3 8.1-6.7 8.1-6.3 8.1-5.8 8.1-5.2 8.1-4.7 8.5-4.5 8.5-4 8.9-3.7"/>
<path d="M85 598.6l13.8-6.5 13.3-7 13.8-7.9 13.7-8.5 15-10.1 15.8-11.2 17-12.7 47.7-36.6 15-10.9 13.8-9.6 16.6-10.7 15.7-9.4 15.4-8.2 15.8-7.5"/>
<path d="M85 609.7l14.2-6.6 7.3-3.8 6.8-3.8 13.8-8.5 14.2-9.9 14.5-11.3 15.8-13.5 16.6-15.1 32-30.2 13.7-12.8 14.6-12.8 13.7-11.3 8.1-6.2 8.1-5.8 8.1-5.5 8.1-5.1 8.1-4.7 8.1-4.3 8.1-4 8.5-3.8"/>
<path d="M85 635.2l11.7-2.3 10.6-2.9 9.7-3.5 4.8-2.1 4.5-2.2 8.5-5 8.1-5.9 7.7-6.8 7.6-8 6.1-7.2 6.5-8.6 6.1-8.9 6.4-10.4 11.4-19.8 26.3-48.7 7.3-12.6 6.4-10.4 6.9-10.2 6.9-9.1 6.9-8.1 6.8-7 6.9-6 6.9-5.2 7.3-4.5 7.7-4 8.1-3.4 8.5-2.8 9.3-2.4 10.5-2"/>
<path d="M85 624l8.1-2.8 8.1-3.4 7.7-3.6 7.3-3.9 7.3-4.4 6.8-4.7 7.3-5.4 6.9-5.6 7.3-6.6 7.3-7.1 7.2-7.6 7.7-8.6 7.3-8.6 8.1-10 30-38.4 12.9-16.1 7.3-8.5 6.9-7.6 6.4-6.8 6.5-6.4 8.1-7.3 8.1-6.6 8.1-6 8.1-5.2 8.5-4.9 8.5-4.2 8.9-3.8 9.7-3.5"/>
<path d="M85 619.8l7.7-3 7.7-3.4 7.3-3.6 7.3-4.1 7.2-4.4 6.9-4.6 7.3-5.3 6.9-5.5 7.3-6.2 7.2-6.7 7.7-7.5 7.7-7.9 15.8-17.4 30.8-35.8 12.9-14.6 14.2-14.9 6.8-6.8 6.5-6 8.1-7 8.1-6.4 8.1-5.9 8.1-5.2 8.5-5 8.5-4.4 8.9-4.1 8.9-3.5"/>
<path d="M85 623.3l9.3-3.4 9.3-4 8.5-4.3 8.5-4.9 8.1-5.3 8.1-5.9 8.1-6.6 8.1-7.3 6.5-6.3 6.4-6.7 6.9-7.6 7.3-8.4 12.9-15.8 30.4-38.3 8.1-9.7 7.3-8.5 7.7-8.5 7.2-7.5 7.3-7 7.3-6.5 6.9-5.6 7.3-5.4 6.9-4.6 7.2-4.4 7.3-3.9 7.7-3.7 7.7-3.2 8.1-2.9"/>
<path d="M85 615.6l7.7-3.2 7.3-3.4 7.3-3.7 6.8-3.8 7.3-4.5 6.9-4.5 6.9-4.9 6.9-5.2 7.2-6 7.3-6.3 7.7-7 8.1-7.7 16.2-16.5 31.6-33.6 13.3-13.8 14.6-14.2 13.3-12 8.1-6.6 8.1-6.2 8.1-5.7 8.1-5.2 8.1-4.7 8.5-4.5 8.5-4.1 8.5-3.5"/>
<path d="M85 629.8l10.1-3 9.7-3.5 9.3-4.2 8.5-4.6 8.5-5.4 8.1-6 8.1-6.9 7.7-7.5 6.5-6.9 6.5-7.6 6.4-8.1 6.9-9.3 12.6-18 28.7-43.2 7.7-10.9 6.9-9.3 7.2-9.2 7.3-8.5 6.9-7.3 7.3-6.9 6.9-5.9 6.8-5.2 7.3-4.8 7.3-4.2 7.7-3.8 8.1-3.4 8.5-3 8.9-2.6"/>
<path d="M85 630.1l8.9-2.5 8.5-2.9 8.1-3.3 7.7-3.8 7.3-4.1 7.3-4.9 7.2-5.5 6.9-5.9 7.3-7 6.9-7.3 7.3-8.6 7.2-9.3 6.9-9.4 7.7-11.1 28.3-43.1 12.2-17.7 6.9-9.3 6.4-8.3 6.5-7.6 6.5-7.1 7.7-7.5 8.1-7 8.1-6 8.5-5.4 8.5-4.6 9.3-4.1 9.7-3.5 10.5-3"/>
<path d="M85 608.2l8.1-3.7 8.1-4 8.1-4.3 8.1-4.6 8.1-5.1 8.1-5.4 8.1-5.7 8.1-6.1 13.7-11 14.6-12.5 13.7-12.4 32.8-30.1 16.2-14.3 15.8-13.2 14.9-11.4 14.2-9.7 13.8-8.5 13.7-7.4 14.2-6.6"/>
<path d="M85 619l8.9-3.6 8.9-4.1 8.5-4.4 8.1-4.7 8.1-5.3 8.1-5.8 8.1-6.4 8.1-6.9 6.4-5.9 6.9-6.7 14.2-14.7 13.3-14.8 31.2-35.6 15.8-17.1 7.7-7.8 7.7-7.4 7.2-6.6 7.3-6.2 6.9-5.4 6.9-5 6.9-4.6 7.2-4.4 7.3-4.1 7.3-3.6 7.7-3.5 7.7-3"/>
<path d="M85 638.2l12.1-1.3 10.6-1.8 9.3-2.2 8.5-2.8 8.1-3.6 7.3-4.1 6.8-5 6.5-5.7 6.5-6.9 6.5-8.3 6.4-9.6 6.5-11.1 6.1-11.5 6.4-13.5 6.5-14.4 17.4-39.7 5.7-12.3 4.8-9.9 6.1-11.4 5.7-9.6 5.6-8.5 6.1-7.9 3.7-4.2 3.6-3.8 3.6-3.4 4.1-3.3 4-3 4.1-2.6 4-2.3 4.5-2.2 4.4-1.8 4.9-1.8 5.2-1.5 5.3-1.3 11.7-2.2 13.8-1.5"/>
<path d="M85 624.5l8.1-2.9 8.1-3.3 7.7-3.6 7.3-3.9 7.3-4.3 6.8-4.7 7.3-5.4 6.9-5.6 7.3-6.6 7.3-7.1 7.2-7.7 7.7-8.7 7.3-8.7 8.1-10 30-38.9 12.5-15.7 7.3-8.7 6.9-7.7 6.4-6.8 6.5-6.5 8.1-7.4 8.1-6.6 8.1-6 8.1-5.3 8.5-4.8 8.9-4.5 8.9-3.7 9.7-3.5"/>
<path d="M85 612.8l8.5-3.7 8.5-4.1 8.1-4.4 8.1-4.7 8.1-5.2 8.1-5.5 8.1-6.1 8.1-6.4 13.3-11.4 14.6-13.6 13.7-13.4 32-32.2 16.2-15.6 15.8-14.1 7.3-6 7.2-5.8 6.9-5.1 6.9-4.8 6.9-4.4 7.3-4.5 6.8-3.8 7.3-3.8 7.3-3.4 7.3-3.2"/>
<path d="M85 637.2l11.3-1.6 10.2-2 8.9-2.4 8.5-3.1 7.6-3.7 7.3-4.3 6.9-5 6.9-6.1 6.9-7.2 6.4-8 6.5-9.3 6.9-11.1 6.1-10.8 6.8-13.3 24.7-51.6 5.7-11.4 5.2-10 6.1-10.7 6.1-9.7 5.7-8.2 6-7.7 3.7-4.1 3.6-3.7 3.6-3.5 4.1-3.4 4-3.1 4.1-2.7 4.4-2.7 4.5-2.3 4.4-2 4.9-1.9 4.9-1.6 5.2-1.5 11.3-2.5 13-1.8"/>
<path d="M85 617.1l7.7-3.2 7.3-3.3 7.3-3.7 7.2-4.1 7.3-4.4 6.9-4.6 6.9-5 6.9-5.3 7.3-6 7.2-6.4 7.7-7.2 7.7-7.5 16.2-16.9 31.2-34.2 13.3-14.2 14.6-14.6 13.3-12.2 8.1-6.8 8.1-6.2 8.1-5.8 8.1-5.2 8.1-4.8 8.5-4.5 8.5-4 8.9-3.7"/>
<path d="M85 583.3l13-5.6 12.9-5.9 13.4-6.5 14.1-7.2 15-8 16.2-8.9 65.9-37.9 29.6-16.3 16.2-8.4 15.7-7.9 15.4-7.1 15-6.5"/>
<path d="M85 627.9l8.9-2.8 8.1-3 7.7-3.4 7.7-3.9 7.3-4.3 7.2-4.9 6.9-5.2 6.9-5.8 6.9-6.4 7.3-7.5 7.3-8.1 7.6-9.3 7.3-9.4 7.7-10.4 29.1-41.5 12.6-17.1 6.9-8.8 6.4-7.8 6.5-7.3 6.5-6.8 7.7-7.3 8.1-6.9 8.1-6.1 8.5-5.5 8.9-4.9 8.9-4.2 9.3-3.6 10.1-3.2"/>
<path d="M85 591.2l13-6 13.3-6.6 13.8-7.3 13.7-7.8 15-9 16.2-10.3 17-11.1 48.5-32.5 15.4-9.9 13.8-8.5 16.2-9.5 15.7-8.6 15.4-7.8 15.4-7.1"/>
<path d="M85 604.6l8.1-3.7 8.1-4 8.1-4.3 7.7-4.4 8.1-4.9 8.1-5.2 16.1-11.3 13.8-10.5 15-12.1 46.5-39.8 16.6-13.8 15.8-12.4 15-10.9 13.7-9.2 13.8-8.3 13.7-7.3 14.2-6.7"/>
<path d="M85 623l9.3-3.5 9.3-4 8.5-4.3 8.5-4.9 8.1-5.3 8.1-5.9 8.1-6.6 8.1-7.3 6.5-6.3 6.4-6.7 6.9-7.5 7.3-8.3 12.9-15.7 30.4-38 8.1-9.7 7.3-8.4 7.7-8.4 7.2-7.5 7.3-7 7.3-6.4 6.9-5.6 7.3-5.4 6.9-4.7 7.2-4.4 7.3-3.9 7.7-3.7 7.7-3.2 8.1-3"/>
<path d="M85 614.1l7.7-3.3 7.3-3.4 7.3-3.7 6.8-3.9 7.3-4.4 6.9-4.6 6.9-4.8 6.9-5.2 7.2-5.8 7.3-6.2 7.7-6.9 8.1-7.5 15.8-15.6 32-33 13.3-13.5 14.6-13.8 13.3-11.7 8.1-6.6 8.1-6.1 8.1-5.6 8.1-5.2 8.1-4.8 8.5-4.5 8.5-4.1 8.5-3.6"/>
<path d="M85 596.1l13.4-6.2 13.3-6.9 13.8-7.7 13.7-8.3 15-9.7 16.2-11.1 17-12.2 47.7-34.9 15-10.5 13.8-9.2 16.6-10.5 15.7-9.1 15.8-8.3 15.4-7.2"/>
<path d="M85 603l13.8-6.5 13.7-7.3 13.8-8.2 13.7-9 15-10.6 15.8-12.1 16.6-13.4 47.3-39.3 15-11.8 13.8-10.2 16.5-11.4 15.8-9.7 7.7-4.3 8.1-4.3 7.7-3.8 8.1-3.7"/>
<path d="M85 601.7l15.8-7.5 15.8-8.6 15.8-9.6 16.5-11.2 13.8-10 15-11.5 47.3-38.4 16.6-13.1 15.8-11.9 15-10.4 13.7-8.9 13.8-8.1 13.7-7.3 13.8-6.5"/>
<path d="M85 632.7l10.9-2.7 10.2-3.3 9.3-3.8 8.9-4.5 8.5-5.2 8.1-6 8-7 7.7-7.8 6.1-6.9 6.5-8 6.4-8.8 6.5-9.4 12.2-19.2 27.5-45.7 7.3-11.4 6.8-10.2 7.3-9.9 6.9-8.5 6.9-7.7 7.3-7.2 6.8-6 6.9-5.2 7.3-4.7 7.7-4.2 7.7-3.5 8.5-3.2 8.9-2.7 9.3-2.3"/>
<path d="M85 597.5l13.8-6.4 13.3-6.9 13.8-7.9 13.7-8.4 15-9.9 15.8-11.1 17-12.5 47.7-35.9 15-10.7 13.8-9.5 16.6-10.6 15.7-9.2 15.4-8.2 15.8-7.4"/>
<path d="M85 602.3l13.8-6.4 13.7-7.3 13.8-8.2 13.7-8.9 15-10.6 15.8-11.9 16.6-13.3 47.3-38.8 15-11.7 13.8-10.1 16.5-11.3 15.8-9.7 15.8-8.5 15.8-7.5"/>
<path d="M85 637.2l11.3-1.6 10.2-2.1 8.9-2.4 8.5-3.1 7.6-3.7 7.3-4.3 6.9-5 6.9-6.1 6.9-7.3 6.4-8 6.5-9.2 6.9-11.1 6.1-10.8 6.8-13.3 24.7-51.5 5.7-11.3 5.2-10 6.1-10.7 6.1-9.7 5.7-8.1 6-7.7 7.3-7.9 3.6-3.4 4.1-3.5 4-3 4.1-2.8 4.4-2.6 4.5-2.4 4.4-2 4.9-1.9 4.9-1.6 5.2-1.5 11.3-2.5 13-1.9"/>
<path d="M85 602.9l8.1-3.7 7.7-3.8 8.1-4.3 7.7-4.3 15.8-9.7 16.5-11.4 13.8-10.2 15-11.7 47.3-39.3 16.6-13.3 15.8-12.1 15-10.7 13.7-9 13.8-8.1 13.7-7.3 13.8-6.5"/>
<path d="M85 634.8l10.1-2 9.3-2.5 8.5-2.8 8.1-3.4 7.7-4 7.3-4.6 6.9-5.2 6.9-6 6.8-7 6.9-8 6.9-9 6.9-10 6.4-10.2 7.3-12.4 26.7-48.6 11.4-19.4 6.4-10.2 6.5-9.4 6.1-8 6.1-7.2 7.6-8 7.7-6.8 8.1-6 4.5-2.8 4.4-2.5 8.9-4.3 9.7-3.6 10.6-2.9 11.7-2.4"/>
<path d="M85 633.7l11.3-2.5 10.2-3.1 9.7-3.8 8.9-4.3 8.5-5.2 8.1-6 8.1-7.1 7.6-7.8 6.1-7.1 6.1-7.7 6.5-9.1 6.4-9.8 11.8-19.2 27.1-47 7.3-11.9 6.8-10.5 7.3-10.3 6.9-8.7 6.9-7.8 6.9-6.9 6.8-6 6.9-5.2 7.3-4.6 7.7-4.2 8.1-3.5 8.5-3.1 8.9-2.5 9.7-2.1"/>
<path d="M85 613.5l7.3-3.1 7.3-3.4 7.3-3.8 6.8-3.8 7.3-4.4 6.9-4.5 6.9-4.8 6.9-5.2 7.2-5.8 7.3-6.1 7.7-6.7 8.1-7.5 16.2-15.8 32-32.7 13.3-13.3 14.6-13.7 13.7-11.9 8.1-6.5 8.1-6 8.1-5.7 8.1-5.1 8.1-4.8 8.1-4.3 8.5-4.1 8.5-3.6"/>
<path d="M85 568.9l29.5-11 32-12.7 29.6-12.2 67.5-28.6 31.6-13 27.1-10.6 25.1-9.3"/>
<path d="M85 625l9.7-3.5 8.9-3.7 8.9-4.4 8.5-4.8 8.1-5.3 8.1-5.9 8.1-6.7 8.1-7.4 6.5-6.5 6.4-6.9 6.9-7.8 7.3-8.7 12.5-15.9 30-39.3 8.1-10.2 7.3-8.8 7.7-8.7 7.2-7.7 7.3-7.2 6.9-6.2 6.9-5.7 6.9-5.2 7.2-4.9 7.3-4.4 7.7-4.1 7.7-3.6 8.1-3.2 8.1-2.9"/>
<path d="M85 627.9l8.9-2.8 8.1-3.1 7.7-3.3 7.7-4 7.3-4.2 7.2-4.9 6.9-5.2 6.9-5.8 6.9-6.4 7.3-7.5 7.3-8.2 7.6-9.3 7.3-9.3 7.7-10.5 29.1-41.4 12.6-17.1 6.9-8.8 6.4-7.8 6.5-7.3 6.5-6.8 7.7-7.3 8.1-6.9 8.1-6 8.5-5.5 8.9-5 8.9-4.1 9.3-3.7 10.1-3.2"/>
<path d="M85 631l9.3-2.5 8.5-2.8 8.1-3.3 7.7-3.7 7.3-4.1 7.3-4.8 7.2-5.5 6.9-5.9 7.3-7.1 6.9-7.5 6.9-8.2 7.2-9.5 6.9-9.6 7.7-11.4 28.3-44.3 12.2-18.1 6.9-9.5 6.4-8.4 6.5-7.8 6.1-6.6 7.7-7.6 8.1-7 8.1-6.1 8.4-5.3 9-4.7 9.3-4 9.7-3.4 10.5-2.9"/>
<path d="M85 618.3l7.7-3 7.7-3.5 7.3-3.7 7.3-4 7.2-4.5 6.9-4.6 6.9-5 6.9-5.4 7.3-6.1 7.2-6.5 7.7-7.4 7.7-7.7 15.8-16.9 31.2-35.1 13.3-14.6 14.2-14.5 6.9-6.6 6.4-5.9 8.1-6.9 8.1-6.3 8.1-5.8 8.1-5.3 8.1-4.7 8.5-4.5 8.9-4.1 8.9-3.6"/>
<path d="M85 633l10.9-2.7 10.2-3.2 9.7-3.9 8.9-4.5 8.5-5.2 8.1-6 8-7.1 7.7-7.8 6.1-7 6.5-8.1 6.5-8.9 6.4-9.5 11.8-18.8 27.5-46.2 7.3-11.5 6.8-10.2 7.3-10 6.9-8.6 6.9-7.7 6.9-6.8 6.8-6 6.9-5.3 7.3-4.7 7.7-4.2 7.7-3.5 8.5-3.2 8.9-2.7 9.7-2.3"/>
<path d="M85 634.2l11.3-2.4 10.6-3.1 9.7-3.7 8.9-4.3 8.5-5.2 8.1-5.9 8.1-7.1 7.6-8 6.1-7.1 6.1-7.9 6.5-9.2 6.4-9.9 11.8-19.7 26.7-47.3 7.3-12.1 6.4-10 7.3-10.4 6.9-8.9 6.9-7.9 6.9-6.9 6.8-6.1 6.9-5.1 7.3-4.7 7.7-4 8.1-3.6 8.5-2.9 9.3-2.6 9.7-2"/>
<path d="M85 585.1l13-5.7 13.3-6.2 13.4-6.7 13.7-7.2 15-8.2 16.2-9.2 65.9-39.2 29.6-16.8 16.2-8.7 15.7-8 15.4-7.3 15-6.6"/>
<path d="M85 634.4l10.1-2 9.3-2.6 8.5-2.9 8.1-3.5 7.7-4.1 7.3-4.6 6.9-5.2 6.9-6.1 6.8-7 6.9-7.9 6.9-9 6.9-9.9 6.4-10.1 7.3-12.2 26.7-47.8 11.8-19.9 6.4-10 6.5-9.3 6.1-7.9 6.1-7.1 7.6-7.9 8.1-7.1 8.1-5.9 8.5-5.1 8.9-4.3 9.7-3.7 10.6-3 11.3-2.3"/>
<path d="M85 620.3l7.7-2.9 7.7-3.4 7.7-3.8 7.3-4 7.2-4.5 6.9-4.6 6.9-5 6.9-5.5 7.3-6.3 7.2-6.7 7.7-7.6 7.7-8 15.8-17.6 30.8-36.2 12.9-14.8 14.2-15 6.8-6.8 6.5-6.1 8.1-7 8.1-6.5 8.1-5.8 8.1-5.3 8.5-5 8.5-4.3 8.9-4.1 8.9-3.4"/>
<path d="M85 602.5l13.8-6.4 13.7-7.3 13.8-8.2 13.7-8.9 15-10.6 15.8-12 16.6-13.3 47.3-39 15-11.7 13.8-10.2 16.5-11.3 15.8-9.6 7.7-4.4 8.1-4.2 7.7-3.8 8.1-3.7"/>
<path d="M85 609.5l14.2-6.5 7.3-3.8 6.8-3.9 13.8-8.5 14.2-9.9 14.5-11.3 15.8-13.4 16.6-15 32-30.2 13.7-12.7 14.6-12.8 13.7-11.3 8.1-6.1 8.1-5.9 8.1-5.4 8.1-5.1 8.1-4.7 8.1-4.3 8.1-4 8.5-3.8"/>
<path d="M85 636.6l12.6-2 10.9-2.6 5.2-1.5 4.9-1.7 4.9-2 4.4-2.1 4.5-2.4 4-2.4 4-2.8 4.1-3 4-3.5 3.7-3.3 4-4.2 3.7-4 6-7.6 6.1-8.5 6.1-9.4 6-10.4 5.3-9.7 5.7-10.9 25.5-51.1 6.8-12.8 6.5-11.2 6.9-10.7 6.5-9 6.4-7.9 6.9-7.2 6.9-6 6.9-5.1 7.3-4.4 7.7-3.7 8.5-3.3 8.9-2.6 9.7-2.1 10.9-1.7"/>
<path d="M85 631.1l9.3-2.4 8.5-2.8 8.1-3.3 7.7-3.7 7.7-4.3 7.3-4.8 6.8-5.2 6.9-5.9 7.3-7.1 6.9-7.5 6.9-8.2 7.2-9.6 6.9-9.6 7.7-11.4 28.3-44.6 12.2-18.2 6.9-9.5 6.4-8.5 6.5-7.7 6.1-6.7 7.7-7.6 8.1-7 8.1-6 8.4-5.4 9-4.7 9.3-3.9 9.7-3.4 10.5-2.8"/>
<path d="M85 549.9l51.8-12.5 129.9-32.3 60.7-14.6"/>
<path d="M85 618.6l8.9-3.6 8.9-4.1 8.5-4.5 8.1-4.7 8.1-5.3 8.1-5.8 8.1-6.4 8.1-6.9 6.4-5.8 6.9-6.6 14.2-14.6 13.3-14.7 31.2-35.3 15.8-17 7.7-7.8 7.7-7.3 7.2-6.6 7.3-6.1 6.9-5.4 6.9-5 6.9-4.6 7.2-4.4 7.3-4.1 7.3-3.6 7.7-3.5 7.7-3.1"/>
<path d="M85 613.8l8.5-3.6 8.5-4.1 8.5-4.5 8.1-4.8 8.1-5.2 8.1-5.6 8.1-6.1 8.1-6.5 13.3-11.7 14.6-13.8 13.3-13.3 32-32.9 15.8-15.5 8.1-7.5 7.7-6.8 7.3-6.2 7.2-5.8 6.9-5.2 6.9-4.8 6.9-4.5 7.3-4.5 6.8-3.8 7.3-3.8 7.3-3.4 7.7-3.3"/>
<path d="M85 613l7.3-3.1 7.3-3.5 7.3-3.7 6.8-3.9 7.3-4.4 6.9-4.5 6.9-4.8 6.9-5.1 7.2-5.7 7.3-6.1 15.8-14.2 16.2-15.6 32-32.3 13.7-13.6 14.6-13.5 13.3-11.5 8.1-6.5 8.1-6 8.1-5.6 8.1-5.2 8.1-4.7 8.1-4.3 8.5-4.1 8.5-3.7"/>
<path d="M85 604.1l14.2-6.7 13.7-7.3 13.8-8.3 13.7-9.1 15-10.8 15.8-12.3 16.6-13.7 46.5-39.5 15-12 13.8-10.4 8.4-6 8.1-5.5 8.1-5.2 7.7-4.7 7.7-4.3 8.1-4.3 8.1-4 8.1-3.7"/>
<path d="M85 567.1l25.1-9 27.1-10.2 31.6-12.5 67.5-27.5 29.6-11.7 32-12.3 29.5-10.6"/>
<path d="M85 630l10.5-3.1 9.7-3.5 9.3-4.2 8.5-4.6 8.5-5.4 8.1-6.1 8.1-6.9 7.7-7.5 6.5-7 6.5-7.7 6.4-8.2 6.9-9.3 12.2-17.6 28.3-42.8 7.7-11.1 6.9-9.3 7.2-9.3 7.3-8.6 6.9-7.3 7.3-7 6.9-5.9 7.2-5.5 7.3-4.9 7.3-4.1 7.7-3.8 8.1-3.4 8.5-2.9 8.9-2.6"/>
<path d="M85 589.7l13-5.9 13.3-6.5 13.8-7.3 13.7-7.6 15-8.8 16.2-10 65.5-42.4 15.4-9.7 13.8-8.3 16.2-9.3 15.7-8.5 15.4-7.6 15.4-7.1"/>
<path d="M85 608.2l8.1-3.7 8.1-4 8.1-4.3 8.1-4.7 8.1-5 8.1-5.4 8.1-5.7 8.1-6.1 13.7-11 14.6-12.5 13.7-12.4 32.8-30.1 16.2-14.3 15.8-13.2 14.9-11.4 14.2-9.7 13.8-8.5 13.7-7.4 14.2-6.6"/>
<path d="M85 601.4l13.8-6.5 13.7-7.3 13.8-8 13.7-8.9 15-10.4 15.8-11.8 16.6-13.1 47.3-38.1 15-11.5 13.8-10 16.5-11.2 15.8-9.5 15.8-8.6 15.8-7.5"/>
<path d="M85 597.3l15.8-7.4 15.4-8.2 15.7-9.2 16.6-10.6 13.8-9.4 15-10.7 47.7-35.7 17-12.5 15.8-11 15-9.9 13.7-8.4 13.8-7.8 13.3-7 13.8-6.4"/>
<path d="M85 628.7l10.1-3.1 9.3-3.5 8.9-4.1 8.9-4.8 8.5-5.5 8.1-6 8.1-6.9 7.7-7.4 6.5-6.8 6.5-7.4 6.4-8 6.9-8.9 12.6-17.5 29.1-42.4 7.7-10.6 7.3-9.6 7.2-9 7.3-8.3 7.3-7.5 6.9-6.5 6.9-5.9 6.8-5.2 7.3-4.8 7.3-4.3 7.7-3.9 8.1-3.5 8.1-2.9 8.9-2.7"/>
<path d="M85 623.9l9.3-3.4 9.3-3.9 8.5-4.3 8.5-4.8 8.1-5.3 8.1-5.9 8.1-6.7 8.1-7.3 6.5-6.3 6.4-6.8 6.9-7.6 7.3-8.5 12.9-16 30-38.4 8.1-9.9 7.3-8.6 7.7-8.6 7.2-7.6 7.3-7.1 7.3-6.5 6.9-5.6 7.3-5.5 6.8-4.6 7.3-4.4 7.3-3.9 7.7-3.7 8.1-3.3 8.1-2.9"/>
<path d="M85 599.1l15.8-7.5 15.8-8.4 15.8-9.4 16.1-10.6 13.8-9.7 15.4-11.3 47.3-36.6 16.6-12.5 16.2-11.7 15-10.1 13.7-8.6 13.8-7.9 13.3-7 13.8-6.5"/>
<path d="M85 589.5l13-5.9 13.3-6.5 13.8-7.2 13.7-7.7 15-8.8 16.2-9.9 65.5-42.2 15.4-9.7 13.8-8.3 16.2-9.2 15.7-8.5 15.4-7.6 15.4-7.1"/>
</g>
</g>
<path d="M85.9 614.2 91.9 611.7 97.9 608.9 103.9 606.0 110.0 602.7 116.0 599.3 122.0 595.6 128.0 591.6 134.0 587.4 140.0 582.9 146.1 578.1 152.1 573.1 158.1 567.8 164.1 562.3 170.1 556.6 176.1 550.7 182.1 544.6 188.2 538.4 194.2 532.1 200.2 525.7 206.2 519.2 212.2 512.8 218.2 506.4 224.2 500.1 230.3 493.9 236.3 487.8 242.3 481.9 248.3 476.2 254.3 470.7 260.3 465.4 266.4 460.4 272.4 455.6 278.4 451.1 284.4 446.9 290.4 442.9 296.4 439.2 302.4 435.7 308.5 432.5 314.5 429.5 320.5 426.8 326.5 424.3" stroke="#000" stroke-width="2.0" fill="none"/>
<path d="M421 399.9V640.5" stroke="#3a3a3a" stroke-width="1.15" fill="none"/>
<path d="M412.25 640.5H421" stroke="#3a3a3a" stroke-width="1.15"/>
<path d="M412.25 592.38H421" stroke="#3a3a3a" stroke-width="1.15"/>
<path d="M412.25 544.26H421" stroke="#3a3a3a" stroke-width="1.15"/>
<path d="M412.25 496.14H421" stroke="#3a3a3a" stroke-width="1.15"/>
<path d="M412.25 448.02H421" stroke="#3a3a3a" stroke-width="1.15"/>
<path d="M412.25 399.9H421" stroke="#3a3a3a" stroke-width="1.15"/>
<path d="M430.5 650.5H671.1" stroke="#3a3a3a" stroke-width="1.15" fill="none"/>
<path d="M430.5 650.5V658.7" stroke="#3a3a3a" stroke-width="1.15"/>
<path d="M478.62 650.5V658.7" stroke="#3a3a3a" stroke-width="1.15"/>
<path d="M526.74 650.5V658.7" stroke="#3a3a3a" stroke-width="1.15"/>
<path d="M574.86 650.5V658.7" stroke="#3a3a3a" stroke-width="1.15"/>
<path d="M622.98 650.5V658.7" stroke="#3a3a3a" stroke-width="1.15"/>
<path d="M671.1 650.5V658.7" stroke="#3a3a3a" stroke-width="1.15"/>
<path d="M421.19 649.81L675.5 395.5" stroke="#000" stroke-width="1.8" stroke-dasharray="6.96 7.41" stroke-linecap="round" fill="none"/>
<clipPath id="clip2"><rect x="429.6" y="300" width="242.4" height="400"/></clipPath>
<g clip-path="url(#clip2)" fill="none">
<g stroke="#A020F0" stroke-opacity="0.017" stroke-width="2.0">
<path d="M429.6 469.7l29.5 11.3 32 13.1 29.6 12.8 67.1 29.6 31.6 13.5 27.1 11 25.5 9.7"/>
<path d="M429.6 414.3l9.7 3.3 9.3 3.8 8.9 4.3 8.5 4.8 8.1 5.3 8.1 6 8.1 6.7 8.1 7.5 6.5 6.6 6.4 7.1 6.9 7.9 6.9 8.5 12.5 16.3 30 40.5 7.7 9.9 7.3 9 7.7 8.9 7.2 7.9 7.3 7.3 7.3 6.7 6.9 5.7 6.9 5.2 7.2 4.8 7.3 4.4 7.7 4 7.7 3.5 8.1 3.2 8.1 2.7"/>
<path d="M429.6 423.6l8.9 3.7 8.5 4 8.5 4.5 8.1 4.7 8.1 5.3 8.1 5.7 8.1 6.3 8.1 6.7 13.3 12.2 14.6 14.5 13.3 14.2 31.2 34 16.2 16.8 7.7 7.5 7.7 7.2 7.2 6.4 7.3 6 6.9 5.3 6.9 4.9 6.9 4.6 7.3 4.4 7.2 4.1 7.3 3.7 7.3 3.3 7.7 3.2"/>
<path d="M429.6 424.3l8.9 3.7 8.5 4 8.5 4.5 8.1 4.8 8.1 5.2 8.1 5.8 8.1 6.2 8.1 6.7 13.3 12 14.6 14.4 13.3 14 31.2 33.5 16.2 16.6 7.7 7.5 7.7 7 7.2 6.4 7.3 5.9 6.9 5.3 6.9 4.9 6.9 4.6 7.3 4.5 7.2 4 7.3 3.8 7.3 3.3 7.7 3.2"/>
<path d="M429.6 405.4l10.1 1.9 9.3 2.4 8.9 3 8.1 3.4 7.7 4 7.3 4.5 6.9 5.2 6.9 6.1 6.8 7 6.9 8 6.9 9.1 6.9 10.2 6.4 10.4 7.3 12.5 26.3 48.4 11.4 19.7 6.4 10.3 6.5 9.4 6.1 8.1 6.1 7.2 7.6 8 7.7 6.7 8.1 5.9 8.5 5.1 4.5 2.2 4.8 2.2 9.7 3.5 10.6 2.9 11.7 2.3"/>
<path d="M429.6 585.6l15-6.6 15.4-7.4 15.7-8 16.2-8.8 29.6-17 65.9-39.5 16.2-9.3 15-8.3 13.7-7.2 13.4-6.7 13.3-6.3 13-5.7"/>
<path d="M429.6 532.1l242.4-23.8"/>
<path d="M429.6 593.7l13.4-6.2 13.3-6.7 13.8-7.5 13.7-8.1 15-9.4 16.2-10.7 17-11.7 47.7-33.4 15.4-10.4 13.8-8.9 16.6-10 15.7-8.9 15.4-8 15.4-7.1"/>
<path d="M429.6 478.8l29.1 9.4 32 10.8 97.5 34.5 31.6 10.9 27.1 9.1 25.1 8.1"/>
<path d="M429.6 415.5l9.7 3.4 8.9 3.8 8.9 4.4 8.5 4.8 8.1 5.3 8.1 5.9 8.1 6.7 8.1 7.4 6.5 6.5 6.4 6.9 6.9 7.8 7.3 8.7 12.5 15.8 30 39.3 8.1 10.1 7.3 8.8 7.7 8.7 7.2 7.8 7.3 7.1 7.3 6.6 6.9 5.7 6.9 5.1 7.2 4.9 7.3 4.4 7.3 3.8 7.7 3.6 8.1 3.3 8.1 2.8"/>
<path d="M429.6 471l25.1 9.4 27.1 10.7 31.6 13.1 67.5 28.9 29.6 12.4 32 12.8 29.5 11.1"/>
<path d="M429.6 434.6l8.1 3.7 8.1 4 8.1 4.3 7.7 4.4 8.1 4.9 8.1 5.3 8.1 5.6 8 5.9 13.8 10.6 15 12.4 13.7 11.8 32.8 28.9 16.6 14.1 15.8 12.6 15 11.1 13.7 9.2 13.8 8.4 13.7 7.4 14.2 6.6"/>
<path d="M429.6 621.6l9.3-3.6 8.9-3.9 8.5-4.4 8.5-4.9 8.1-5.3 8.1-5.9 8.1-6.5 8.1-7.2 6.5-6.1 6.4-6.6 6.9-7.3 7.3-8.1 12.9-15.1 30.8-37.3 15.4-17.6 7.7-8.2 7.7-7.8 7.2-6.8 7.3-6.3 6.9-5.6 7.3-5.3 6.9-4.7 7.2-4.4 7.3-4 7.3-3.5 7.7-3.3 8.1-3.1"/>
<path d="M429.6 457.1l13 5.6 12.9 5.9 13.4 6.5 14.1 7.2 15 8 16.2 8.9 65.9 37.9 29.6 16.3 16.2 8.4 15.7 7.9 15.4 7.1 15 6.5"/>
<path d="M429.6 560.3l29.1-9.2 32-10.5 97.5-33.2 32-10.7 26.7-8.7 25.1-7.9"/>
<path d="M429.6 404.1l12.6 2.1 10.9 2.6 9.7 3.3 4.8 2 4.5 2.1 4.4 2.4 4.1 2.5 4 2.7 4.1 3.1 4 3.4 3.7 3.4 4 4.1 3.7 4 6 7.5 6.1 8.4 6.1 9.3 6 10.2 5.3 9.5 6.1 11.5 25.5 50.2 6.8 12.7 6.5 11 6.9 10.6 6.5 9 6.9 8.3 6.8 7.1 6.9 6.1 6.9 5.1 7.3 4.4 7.7 3.8 8.1 3.1 8.9 2.7 9.7 2.2 10.9 1.8"/>
<path d="M429.6 418.7l9.3 3.5 8.9 4 8.5 4.3 8.5 4.9 8.1 5.3 8.1 5.9 8.1 6.6 8.1 7.1 6.5 6.2 6.4 6.5 6.9 7.3 7.3 8.2 12.9 15.2 30.8 37.4 15.4 17.6 7.7 8.3 7.7 7.7 7.2 6.9 7.3 6.3 6.9 5.6 7.3 5.3 6.9 4.6 7.2 4.5 7.3 3.9 7.3 3.6 7.7 3.3 8.1 3"/>
<path d="M429.6 416.8l9.3 3.4 9.3 4 8.5 4.3 8.5 4.9 8.1 5.3 8.1 5.9 8.1 6.6 8.1 7.3 6.5 6.3 6.4 6.8 6.9 7.6 7.3 8.4 12.9 15.9 30.4 38.5 8.1 9.8 7.3 8.5 7.7 8.5 7.2 7.6 7.3 7 7.3 6.5 6.9 5.6 7.3 5.4 6.9 4.6 7.2 4.4 7.3 3.9 7.7 3.6 7.7 3.2 8.1 3"/>
<path d="M429.6 474.3l29.5 10.4 32 12 29.6 11.5 67.5 26.9 31.6 12.2 27.1 10 25.1 8.8"/>
<path d="M429.6 428.9l8.5 3.8 8.5 4.1 8.1 4.3 8.1 4.8 8.1 5.1 8.1 5.6 8.1 5.9 8.1 6.3 13.3 11.3 14.6 13.2 13.7 13.2 32 31.3 16.2 15.3 15.8 13.8 7.7 6.3 7.2 5.6 7.3 5.3 6.9 4.8 6.9 4.4 6.9 4.1 6.8 3.9 7.3 3.7 6.9 3.3 7.3 3.2"/>
<path d="M429.6 426.9l8.5 3.7 8.5 4.1 8.1 4.3 8.1 4.8 8.1 5.1 8.1 5.6 8.1 6.1 8.1 6.5 13.7 11.9 14.6 13.7 13.3 13.2 32 32.6 16.2 15.8 8.1 7.5 7.7 6.8 7.3 6.1 7.2 5.7 6.9 5.2 6.9 4.8 6.9 4.5 7.3 4.4 6.8 3.8 7.3 3.8 7.3 3.4 7.3 3.2"/>
<path d="M429.6 502.3l242.4 35.8"/>
<path d="M429.6 518.4l242.4 3.6"/>
<path d="M429.6 479.5l29.1 9.3 32 10.6 97.5 33.8 32 10.9 26.7 8.8 25.1 8"/>
<path d="M429.6 529.8l242.4-19.2"/>
<path d="M429.6 528.7l242.4-17"/>
<path d="M429.6 496l60.7 12 130.3 26.2 51.4 10.2"/>
<path d="M429.6 542.6l242.4-44.8"/>
<path d="M429.6 422.7l8.9 3.6 8.5 4 8.5 4.5 8.1 4.7 8.1 5.2 8.1 5.8 8.1 6.3 8.1 6.8 13.3 12.3 14.6 14.8 13.3 14.4 31.2 34.6 15.8 16.7 7.7 7.7 7.7 7.3 7.2 6.5 7.3 6 7.3 5.7 6.9 4.9 6.9 4.6 7.3 4.5 7.2 4 7.3 3.7 7.3 3.3 7.7 3.1"/>
<path d="M429.6 609.4l14.2-6.6 7.3-3.7 6.8-3.9 13.8-8.5 14.2-9.9 14.5-11.3 15.8-13.3 16.6-15.1 32-30.1 13.7-12.6 14.6-12.8 13.7-11.3 8.1-6.1 8.1-5.8 8.1-5.5 8.1-5.1 8.1-4.7 8.1-4.3 8.1-4 8.5-3.8"/>
<path d="M429.6 420.7l8.9 3.5 8.9 4.1 8.5 4.4 8.5 5 8.1 5.2 8.1 5.9 8.1 6.4 8.1 7 6.5 6 6.8 6.7 14.2 14.9 12.9 14.6 30.8 35.7 15.8 17.4 7.7 8 7.7 7.5 7.2 6.6 7.3 6.3 6.9 5.4 7.3 5.3 6.9 4.6 7.2 4.5 7.3 4 7.3 3.6 7.7 3.4 7.7 3"/>
<path d="M429.6 532l242.4-23.6"/>
<path d="M429.6 523.6l242.4-6.8"/>
<path d="M429.6 595.7l15.4-7.2 15.8-8.3 15.7-9.1 16.2-10.1 13.8-9.1 15.4-10.7 47.7-34.7 17-12.1 16.2-11 15-9.7 13.7-8.3 13.8-7.6 13.3-6.9 13.4-6.2"/>
<path d="M429.6 482.3l29.1 8.7 32 9.9 129.5 41.5 26.7 8.2 25.1 7.5"/>
<path d="M429.6 492.4l60.7 13.8 130.3 30.2 51.4 11.6"/>
<path d="M429.6 453.7l13 5.8 13.3 6.3 13.4 6.8 13.7 7.4 15 8.4 16.6 9.7 65.5 40.1 15.4 9.1 13.8 8 16.6 9.1 15.7 8.2 15.4 7.4 15 6.7"/>
<path d="M429.6 522.3l242.4-4.2"/>
<path d="M429.6 461.3l15 6.2 15 6.6 15.7 7.4 16.2 7.9 29.6 15.1 66.3 35 31.6 15.9 27.1 12.7 12.9 5.7 13 5.3"/>
<path d="M429.6 403.8l10.9 1.7 9.7 2.1 8.9 2.6 8.5 3.2 7.7 3.7 7.3 4.4 6.9 5.1 6.9 6.1 6.9 7.1 6.4 7.9 6.5 9 6.9 10.7 6.5 11.2 6.8 12.8 25.5 51.3 5.7 10.9 5.3 9.6 6 10.4 6.1 9.5 6.1 8.5 6 7.6 3.7 4 4 4.2 3.7 3.3 4 3.4 4.1 3.1 4 2.7 4 2.5 4.5 2.3 4.4 2.1 4.9 2 4.9 1.7 5.2 1.6 10.9 2.5 12.6 2"/>
<path d="M429.6 439.4l15.8 7.5 15.8 8.5 15.8 9.6 16.5 11.1 13.8 9.9 15 11.4 47.3 37.9 16.6 13 15.8 11.7 15 10.4 13.7 8.8 13.8 8.1 13.7 7.2 13.8 6.5"/>
<path d="M429.6 526.5l242.4-12.6"/>
<path d="M429.6 416.7l8.1 3 8.1 3.3 7.7 3.7 7.3 3.9 7.3 4.4 6.8 4.7 7.3 5.4 6.9 5.6 7.3 6.5 7.3 7.1 7.2 7.6 7.7 8.5 7.3 8.6 8.1 9.9 30 38.1 12.9 15.9 7.3 8.4 6.9 7.6 6.4 6.8 6.5 6.3 8.1 7.3 8.1 6.6 8.1 6 8.1 5.2 8.5 4.9 8.5 4.3 9.3 4 9.3 3.4"/>
<path d="M429.6 480.8l25.1 7.7 26.7 8.6 129.5 43.2 32 10.3 29.1 9"/>
<path d="M429.6 429.8l8.5 3.7 8.1 4 8.1 4.3 8.1 4.7 8.1 5.1 8.1 5.5 8.1 5.9 8.1 6.3 13.7 11.4 14.6 13.1 13.7 12.9 32 30.8 16.6 15.4 15.8 13.6 14.5 11.5 7.3 5.3 6.9 4.7 6.9 4.4 6.9 4.1 6.8 3.8 7.3 3.8 6.9 3.3 7.3 3.2"/>
<path d="M429.6 428.9l7.3 3.2 6.9 3.3 7.3 3.7 6.8 3.9 6.9 4.1 6.9 4.5 6.9 4.7 7.3 5.3 7.2 5.6 7.7 6.3 15.8 13.8 16.2 15.3 32 31.3 13.7 13.2 14.6 13.2 13.3 11.3 8.1 6.3 8.1 5.9 8.1 5.6 8.1 5.1 8.1 4.8 8.1 4.3 8.5 4.1 8.5 3.8"/>
<path d="M429.6 507.2l242.4 26"/>
<path d="M429.6 622.2l9.3-3.5 8.9-4 8.5-4.3 8.5-4.9 8.1-5.3 8.1-5.9 8.1-6.5 8.1-7.2 6.5-6.2 6.8-7 6.9-7.4 7.3-8.2 12.9-15.4 30.4-37.3 15.4-17.8 7.7-8.3 7.7-7.8 7.2-6.9 7.3-6.4 6.9-5.5 7.3-5.4 6.9-4.6 7.2-4.4 7.3-4 7.3-3.5 7.7-3.3 8.1-3"/>
<path d="M429.6 502.7l242.4 35"/>
<path d="M429.6 431.8l8.1 3.6 8.1 4 8.1 4.3 8.1 4.7 8.1 5 8.1 5.4 8.1 5.8 8.1 6.1 13.7 11.1 14.6 12.6 13.7 12.5 32.8 30.4 16.2 14.4 15.8 13.2 14.9 11.5 13.8 9.5 13.8 8.5 14.1 7.6 14.2 6.6"/>
<path d="M429.6 506l242.4 28.4"/>
<path d="M429.6 437.7l8.1 3.7 7.7 3.8 8.1 4.3 7.7 4.3 15.8 9.7 16.5 11.3 13.8 10.2 15 11.7 47.3 39.1 16.6 13.4 15.8 12 15 10.6 13.7 9 13.8 8.1 13.7 7.3 13.8 6.5"/>
<path d="M429.6 416l9.7 3.5 8.9 3.8 8.9 4.4 8.5 4.9 8.1 5.3 8.1 5.9 8.1 6.7 8.1 7.4 6.5 6.4 6.4 6.8 6.9 7.7 7.3 8.7 12.5 15.6 30 38.8 8.1 10.1 7.3 8.6 7.7 8.7 7.2 7.6 7.3 7.2 7.3 6.5 6.9 5.7 7.3 5.4 6.8 4.6 7.3 4.4 7.3 3.9 7.7 3.6 8.1 3.3 8.1 2.9"/>
<path d="M429.6 523.4l242.4-6.4"/>
<path d="M429.6 410.5l10.5 3.1 9.7 3.5 9.3 4.2 8.5 4.6 8.5 5.4 8.1 6.1 8.1 6.9 7.7 7.6 6.5 7 6.5 7.6 6.4 8.2 6.9 9.3 12.2 17.5 28.3 42.8 7.7 11 6.9 9.4 7.2 9.2 7.3 8.5 6.9 7.4 7.3 7 6.9 5.9 7.2 5.5 7.3 4.9 7.3 4.1 7.7 3.8 8.1 3.4 8.5 3 8.9 2.5"/>
<path d="M429.6 405.3l11.7 2.4 10.6 2.8 9.7 3.6 4.8 2.1 4.5 2.2 8.5 5.1 8.1 5.9 7.7 6.8 7.6 8 6.1 7.2 6.1 8 6.5 9.5 6.4 10.3 11.4 19.7 26.3 48.4 7.3 12.6 6.4 10.4 6.9 10.1 6.9 9.1 6.9 8.1 6.8 7 6.9 6.1 6.9 5.1 7.3 4.6 7.7 4 8.1 3.4 8.5 2.8 9.3 2.4 10.5 2.1"/>
<path d="M429.6 413.6l8.5 2.7 8.1 3.2 7.7 3.4 7.7 4 7.3 4.3 7.2 4.9 6.9 5.2 6.9 5.8 6.9 6.3 7.3 7.3 7.2 8 7.7 9.1 7.3 9.2 7.7 10.1 29.5 40.7 12.6 16.7 6.9 8.6 6.8 8.1 6.5 7.2 6.5 6.6 7.7 7.3 8.1 6.8 8.1 6 8.5 5.6 8.5 4.8 8.9 4.2 9.3 3.8 10.1 3.3"/>
<path d="M429.6 411.7l10.1 3.2 9.3 3.5 8.9 4 8.9 4.9 8.5 5.5 8.1 6 8.1 6.9 7.7 7.3 6.5 6.9 6.5 7.4 6.4 7.9 6.9 9 12.6 17.4 29.1 42.4 7.7 10.6 7.3 9.6 7.2 8.9 7.3 8.3 7.3 7.6 6.9 6.5 6.9 5.8 6.8 5.2 7.3 4.9 7.3 4.2 7.7 3.9 8.1 3.5 8.1 3 8.9 2.7"/>
<path d="M429.6 413.2l10.1 3.3 9.3 3.7 8.9 4.2 8.5 4.8 8.5 5.5 8.1 6 8.1 6.8 7.7 7.3 6.5 6.7 6.5 7.2 6.8 8.2 6.9 8.7 12.6 16.8 29.1 40.6 7.7 10.3 7.3 9.2 7.6 9.2 7.3 8.1 7.3 7.4 6.9 6.4 6.9 5.8 6.9 5.2 7.2 4.9 7.3 4.3 7.7 4 7.7 3.4 8.1 3.1 8.9 2.9"/>
<path d="M429.6 401.7l14.6 1.4 12.1 2 5.3 1.2 5.2 1.5 4.9 1.6 4.8 2 4.5 2.1 4 2.3 4.1 2.6 4 3 3.7 3 3.6 3.5 3.7 3.8 3.6 4.3 5.7 7.5 5.6 8.8 5.7 9.9 5.7 11.1 4.8 10.3 5.3 12 17.4 41.6 6.1 14.1 6 13.3 6.1 12.1 6.5 11.4 6 9.4 6.5 8.4 6.5 7 6.5 5.8 6.8 4.9 7.3 4.1 8.1 3.4 8.5 2.6 9.7 2.2 10.9 1.6 12.6 1.2"/>
<path d="M429.6 454.1l15 6.7 15.4 7.4 15.7 8.1 16.2 8.9 14.2 8.1 15.4 9.1 65.9 40 16.2 9.4 15 8.3 13.7 7.4 13.4 6.7 13.3 6.3 13 5.8"/>
<path d="M429.6 468.9l29.5 11.5 32 13.3 29.6 12.9 67.1 30.2 31.6 13.7 27.1 11.2 25.5 9.8"/>
<path d="M429.6 429.3l8.5 3.8 8.1 4 8.1 4.3 8.1 4.7 8.1 5.1 8.1 5.5 8.1 5.9 8.1 6.3 13.7 11.5 14.6 13.1 13.7 13.1 32 31.1 16.6 15.5 15.8 13.7 14.5 11.5 7.3 5.3 6.9 4.7 6.9 4.4 6.9 4.1 6.8 3.9 7.3 3.8 6.9 3.3 7.3 3.2"/>
<path d="M429.6 560.4l29.1-9.2 32-10.5 97.5-33.4 32-10.7 26.7-8.7 25.1-7.9"/>
<path d="M429.6 607.3l8.1-3.7 8.1-4 8.1-4.3 8.1-4.6 8.1-5 8.1-5.4 8.1-5.7 8.1-6 13.7-10.9 14.6-12.3 13.7-12.2 32.8-29.6 16.2-14.2 15.8-12.9 14.9-11.3 14.2-9.7 13.8-8.4 13.7-7.4 14.2-6.6"/>
<path d="M429.6 557.9l25.1-7.4 26.7-8.2 129.5-41.3 32-9.8 29.1-8.7"/>
<path d="M429.6 441.6l15.8 7.4 15.4 8.3 15.7 9.3 16.6 10.8 13.8 9.6 15.4 11.3 47.3 36.4 16.6 12.5 16.2 11.6 15 10.1 13.7 8.6 13.8 7.9 13.3 7 13.8 6.4"/>
<path d="M429.6 435.8l8.1 3.7 8.1 4 8.1 4.3 7.7 4.4 8.1 4.9 8.1 5.2 16.1 11.3 13.8 10.5 15 12.1 13.7 11.6 32.8 28.2 16.6 13.8 15.8 12.4 15 10.9 13.7 9.2 13.8 8.3 13.7 7.3 14.2 6.7"/>
<path d="M429.6 606.4l8.1-3.6 8.1-4 8.1-4.4 8.1-4.6 8.1-5 8.1-5.3 8.1-5.6 8.1-6 13.7-10.8 14.6-12.1 13.7-12 32.8-29.2 16.6-14.2 15.8-12.8 15-11.1 13.7-9.3 13.8-8.4 13.7-7.4 14.2-6.6"/>
<path d="M429.6 620.7l8.9-3.4 8.9-4 8.5-4.4 8.5-4.9 8.1-5.3 8.1-5.9 8.1-6.4 8.1-7.1 6.5-6 6.8-6.9 14.2-15.2 12.9-14.9 30.8-36.5 15.8-17.7 7.7-8.1 7.7-7.6 7.2-6.8 7.3-6.3 6.9-5.4 6.9-5.1 6.9-4.6 7.2-4.4 7.3-4 7.3-3.6 7.7-3.4 8.1-3.1"/>
<path d="M429.6 499.4l242.4 41.6"/>
<path d="M429.6 486.5l28.7 7.7 32 8.8 129.9 36.8 51.8 14.1"/>
<path d="M429.6 473.5l29.5 10.6 32 12.1 29.6 11.8 67.5 27.4 31.6 12.4 27.1 10.2 25.1 8.9"/>
<path d="M429.6 426.4l8.5 3.6 8.5 4.1 8.5 4.5 8.1 4.8 8.1 5.2 8.1 5.6 8.1 6.1 8.1 6.6 13.3 11.6 14.6 13.9 13.3 13.4 32 32.9 15.8 15.6 8.1 7.6 7.7 6.8 7.3 6.2 7.2 5.8 6.9 5.2 6.9 4.8 6.9 4.5 7.3 4.5 6.8 3.8 7.3 3.8 7.3 3.4 7.7 3.3"/>
<path d="M429.6 410.5l10.5 3.1 9.7 3.6 9.3 4.2 8.5 4.5 8.5 5.5 8.1 6 8.1 7 7.7 7.5 6.1 6.6 6.5 7.6 6.4 8.1 6.9 9.3 12.6 18 28.7 43.3 7.7 11 6.9 9.3 7.2 9.2 7.3 8.5 6.9 7.3 7.3 7 6.9 5.9 6.8 5.2 7.3 4.8 7.3 4.2 7.7 3.8 8.1 3.4 8.5 2.9 8.9 2.6"/>
<path d="M429.6 450.9l15.4 7 15.4 7.6 15.7 8.5 16.2 9.3 13.8 8.3 15.4 9.6 65.5 42.3 16.2 10 15 8.8 13.7 7.6 13.8 7.2 13.3 6.6 13 5.8"/>
<path d="M429.6 428.9l8.5 3.8 8.5 4.1 8.1 4.3 8.1 4.8 8.1 5.1 8.1 5.6 8.1 5.9 8.1 6.3 13.3 11.3 14.6 13.2 13.7 13.2 32 31.3 16.2 15.3 15.8 13.8 7.7 6.3 7.2 5.6 7.3 5.3 6.9 4.7 6.9 4.5 6.9 4.1 6.8 3.9 7.3 3.7 6.9 3.3 7.3 3.2"/>
<path d="M429.6 576.9l15-6.1 15-6.4 15.3-6.9 16.6-7.8 29.6-14.5 66.7-33.7 31.6-15.2 27.1-12.3 25.5-10.5"/>
<path d="M429.6 583.4l15-6.5 15.4-7.2 15.7-7.8 16.2-8.5 29.6-16.3 65.9-37.9 16.2-8.9 15-8 14.1-7.2 13.4-6.5 12.9-6 13-5.6"/>
<path d="M429.6 450.5l15.4 7 15.4 7.7 15.7 8.5 16.2 9.4 13.8 8.3 15.4 9.7 65.5 42.6 16.2 10 15 8.9 13.7 7.6 13.8 7.3 13.3 6.5 13 5.9"/>
<path d="M429.6 426.7l8.5 3.6 8.5 4.1 8.5 4.5 8.1 4.8 8.1 5.2 8.1 5.6 8.1 6.1 8.1 6.5 13.3 11.7 14.6 13.7 13.3 13.4 32 32.7 15.8 15.5 8.1 7.5 7.7 6.9 7.3 6.1 7.2 5.8 6.9 5.2 6.9 4.8 6.9 4.5 7.3 4.5 6.8 3.8 7.3 3.8 7.3 3.4 7.7 3.3"/>
<path d="M429.6 424.2l8.9 3.7 8.5 4 8.5 4.6 8.1 4.7 8.1 5.3 8.1 5.7 8.1 6.2 8.1 6.7 13.3 12.1 14.6 14.4 13.3 14 31.2 33.5 16.2 16.7 7.7 7.4 7.7 7.1 7.2 6.4 7.3 5.9 6.9 5.3 6.9 4.9 6.9 4.6 7.3 4.5 7.2 4 7.3 3.8 7.3 3.3 7.7 3.2"/>
<path d="M429.6 429.8l8.5 3.8 8.1 4 8.1 4.3 8.1 4.7 8.1 5.1 8.1 5.5 8.1 5.9 8.1 6.2 13.7 11.5 14.6 13 13.7 12.9 32 30.8 16.6 15.4 15.8 13.6 14.5 11.4 7.3 5.3 6.9 4.7 6.9 4.4 6.9 4.1 6.8 3.9 7.3 3.8 6.9 3.3 7.3 3.2"/>
<path d="M429.6 422l8.9 3.7 8.9 4.1 8.5 4.5 8.1 4.7 8.1 5.3 8.1 5.8 8.1 6.3 8.1 6.9 6.4 5.9 6.9 6.5 14.2 14.6 13.3 14.6 31.2 35.1 15.8 16.9 7.7 7.8 7.7 7.3 7.2 6.5 7.3 6.1 6.9 5.4 6.9 5 6.9 4.6 7.2 4.5 7.3 4 7.3 3.7 7.7 3.5 7.7 3.1"/>
<path d="M429.6 421.1l8.9 3.6 8.9 4.1 8.5 4.4 8.1 4.8 8.1 5.2 8.1 5.8 8.1 6.4 8.1 6.9 6.4 6 6.9 6.7 14.2 14.7 13.3 14.9 31.2 35.8 15.8 17.2 7.7 7.8 7.7 7.5 7.2 6.6 7.3 6.1 6.9 5.5 6.9 5 6.9 4.6 7.2 4.4 7.3 4 7.3 3.7 7.7 3.4 7.7 3.1"/>
<path d="M429.6 616.1l8.9-3.7 8.5-4.1 8.5-4.5 8.1-4.7 8.1-5.3 8.1-5.7 8.1-6.2 8.1-6.7 13.3-12.1 14.6-14.3 13.3-14 31.2-33.5 16.2-16.6 7.7-7.4 7.7-7.1 7.2-6.4 7.3-5.9 6.9-5.3 6.9-4.9 6.9-4.6 7.3-4.5 7.2-4 7.3-3.7 7.3-3.4 7.7-3.2"/>
<path d="M429.6 543.2l242.4-46"/>
<path d="M429.6 436.8l8.1 3.7 8.1 4 8.1 4.3 7.7 4.3 15.8 9.8 16.5 11.5 13.8 10.3 15 12 46.5 39 16.6 13.6 15.8 12.2 15 10.8 14.1 9.3 13.8 8.2 13.7 7.3 13.8 6.5"/>
<path d="M429.6 429.6l8.5 3.8 8.1 4 8.1 4.3 8.1 4.7 8.1 5.1 8.1 5.5 8.1 5.9 8.1 6.3 13.7 11.4 14.6 13.1 13.7 13 32 30.9 16.6 15.4 15.8 13.6 14.5 11.5 7.3 5.3 6.9 4.7 6.9 4.4 6.9 4.1 6.8 3.9 7.3 3.8 6.9 3.2 7.3 3.3"/>
<path d="M429.6 605.2l14.2-6.7 13.7-7.4 13.8-8.3 13.7-9.2 15-11 15.8-12.5 16.6-13.9 32.8-28.5 13.7-11.7 15-12.2 13.8-10.6 8-5.8 8.1-5.6 8.1-5.2 8.1-5 7.7-4.4 8.1-4.3 8.1-4 8.1-3.7"/>
<path d="M429.6 411.6l8.9 2.7 8.1 2.9 8.1 3.5 7.7 3.9 7.3 4.2 7.3 4.9 6.8 5.2 6.9 5.8 6.9 6.5 7.3 7.6 7.3 8.3 7.2 9 7.3 9.6 7.7 10.6 29.1 42.6 12.6 17.5 6.9 9 6.4 7.9 6.5 7.4 6.5 6.9 7.7 7.4 8.1 6.9 8.1 6 8.5 5.4 8.9 4.9 8.9 4 9.3 3.5 10.1 3.1"/>
<path d="M429.6 512.2l242.4 16"/>
<path d="M429.6 490.9l60.7 14.5 129.9 31.8 51.8 12.3"/>
<path d="M429.6 447.9l13.4 6.2 13.3 6.6 13.4 7.3 13.7 7.9 15 9.2 16.2 10.5 17 11.4 48.1 33 15.4 10.1 13.8 8.7 16.6 10 15.7 8.7 15.4 7.9 15.4 7.1"/>
<path d="M429.6 423.3l7.7 3.2 7.3 3.3 7.3 3.7 7.2 4 7.3 4.5 6.9 4.6 6.9 4.9 6.9 5.3 7.3 6 7.2 6.5 7.7 7.1 7.7 7.6 16.2 16.9 31.2 34.2 13.3 14.3 14.6 14.6 13.3 12.2 8.1 6.7 8.1 6.3 8.1 5.8 8.1 5.2 8.1 4.7 8.5 4.5 8.5 4 8.9 3.7"/>
<path d="M429.6 600.7l13.8-6.4 13.7-7.3 13.8-8 13.7-8.8 15-10.4 15.8-11.7 16.6-12.9 47.3-37.7 15-11.3 13.8-9.9 16.5-11.1 15.8-9.5 15.8-8.5 15.8-7.5"/>
<path d="M429.6 415.7l9.7 3.5 8.9 3.8 8.9 4.3 8.5 4.9 8.1 5.3 8.1 5.9 8.1 6.7 8.1 7.4 6.5 6.5 6.4 6.8 6.9 7.8 7.3 8.6 12.5 15.8 30 39.1 8.1 10.1 7.3 8.7 7.7 8.7 7.2 7.7 7.3 7.1 7.3 6.6 6.9 5.6 6.9 5.2 7.2 4.9 7.3 4.4 7.3 3.8 7.7 3.6 8.1 3.3 8.1 2.9"/>
<path d="M429.6 462.6l15 6.2 15 6.5 15.3 7 16.6 7.9 29.6 14.7 66.3 34.1 31.6 15.5 27.1 12.4 12.9 5.6 13 5.3"/>
<path d="M429.6 546.9l60.7-13.2 130.3-29.1 51.4-11.1"/>
<path d="M429.6 495.2l60.7 12.4 130.3 27.1 51.4 10.5"/>
<path d="M429.6 628.5l10.1-3.1 9.3-3.6 8.9-4.1 8.9-4.8 8.5-5.5 8.1-6 8.1-6.9 7.7-7.4 6.5-6.8 6.5-7.4 6.4-7.9 6.9-8.9 12.6-17.4 29.1-42.2 7.7-10.5 7.3-9.6 7.2-8.9 7.3-8.3 7.3-7.5 6.9-6.5 6.9-5.8 6.8-5.2 7.3-4.9 7.3-4.3 7.7-3.9 8.1-3.5 8.1-3 8.9-2.7"/>
<path d="M429.6 534.3l242.4-28.2"/>
<path d="M429.6 454.4l15 6.7 15.4 7.4 15.7 8.1 16.2 8.8 14.2 8 15.4 9.1 65.9 39.8 16.2 9.3 15 8.3 13.7 7.3 13.4 6.7 13.3 6.3 13 5.8"/>
<path d="M429.6 540.7l242.4-41"/>
<path d="M429.6 500.6l242.4 39.2"/>
<path d="M429.6 482.5l29.1 8.7 32 9.8 129.5 41.3 26.7 8.1 25.1 7.5"/>
<path d="M429.6 465l15 6 15 6.3 15.3 6.7 16.6 7.6 29.6 14 66.7 32.7 31.6 14.8 27.1 11.9 25.5 10.4"/>
<path d="M429.6 415l9.7 3.3 8.9 3.7 8.9 4.3 8.5 4.9 8.1 5.2 8.1 6 8.1 6.6 8.1 7.5 6.5 6.5 6.4 6.9 6.9 7.9 7.3 8.8 12.5 16.1 30 39.8 8.1 10.3 7.3 8.8 7.7 8.9 7.2 7.7 7.3 7.3 6.9 6.2 6.9 5.7 6.9 5.2 7.2 4.9 7.3 4.4 7.7 4 7.7 3.5 8.1 3.3 8.1 2.7"/>
<path d="M429.6 471.3l29.5 11 32 12.7 29.6 12.3 67.5 28.8 31.6 13.1 27.1 10.6 25.1 9.3"/>
<path d="M429.6 493.7l60.7 13.1 130.3 28.8 51.4 11.1"/>
<path d="M429.6 432.4l8.1 3.7 8.1 3.9 8.1 4.4 8.1 4.6 8.1 5 8.1 5.4 8.1 5.7 8.1 6.1 13.7 11 14.6 12.5 13.7 12.3 32.8 30.1 16.2 14.2 15.8 13.1 14.9 11.4 14.2 9.8 13.8 8.4 13.7 7.4 14.2 6.6"/>
<path d="M429.6 402.4l11.7 1.3 10.6 1.8 9.3 2.3 8.5 2.9 8.1 3.6 7.2 4.2 6.9 5 6.5 5.7 6.9 7.4 6.5 8.2 6.4 9.6 6.5 11 6.1 11.4 6.4 13.3 6.5 14.1 17.4 39.1 5.7 12.1 4.8 9.8 6.1 11.3 5.7 9.5 5.6 8.5 6.1 7.9 3.7 4.2 3.6 3.8 3.6 3.4 4.1 3.4 4 3 4.1 2.7 4 2.3 4.5 2.3 4.4 1.9 4.9 1.8 5.2 1.6 5.3 1.3 11.7 2.3 13.8 1.6"/>
<path d="M429.6 502.1l242.4 36.2"/>
<path d="M429.6 433.7l8.1 3.7 8.1 4 8.1 4.3 8.1 4.6 8.1 5 8.1 5.4 8.1 5.6 8.1 6 13.7 10.8 14.6 12.2 13.7 12 32.8 29.3 16.2 14 15.8 12.9 14.9 11.2 14.2 9.6 13.8 8.4 13.7 7.4 14.2 6.6"/>
<path d="M429.6 608.5l8.1-3.7 8.1-3.9 8.1-4.3 8.1-4.7 8.1-5.1 8.1-5.3 8.1-5.8 8.1-6.1 13.7-11.1 14.6-12.5 13.7-12.5 32.8-30.3 16.2-14.4 15.8-13.2 14.9-11.5 13.8-9.5 13.8-8.5 14.1-7.6 14.2-6.6"/>
<path d="M429.6 408.6l9.3 2.4 8.5 2.7 8.5 3.4 7.7 3.6 7.7 4.3 7.3 4.8 6.9 5.2 6.8 5.9 7.3 7.2 6.9 7.5 6.9 8.4 7.3 9.7 6.8 9.8 7.7 11.7 27.5 44.3 12.2 18.6 6.9 9.7 6.4 8.6 6.5 7.9 6.1 6.7 7.7 7.7 8.1 7 8 6.1 8.5 5.3 8.9 4.6 9.4 3.9 10.1 3.4 10.5 2.8"/>
<path d="M429.6 426.9l8.5 3.7 8.5 4.1 8.1 4.3 8.1 4.7 8.1 5.2 8.1 5.6 8.1 6 8.1 6.5 13.7 11.9 14.6 13.7 13.3 13.3 32 32.6 16.2 15.8 8.1 7.5 7.7 6.8 7.3 6.1 7.2 5.8 6.9 5.1 6.9 4.8 6.9 4.5 7.3 4.5 6.8 3.8 7.3 3.8 7.3 3.4 7.3 3.1"/>
<path d="M429.6 408.8l9.3 2.4 8.5 2.8 8.5 3.3 7.7 3.7 7.7 4.3 7.3 4.8 6.9 5.2 6.8 6 7.3 7.1 6.9 7.6 6.9 8.3 7.3 9.7 6.8 9.8 7.7 11.6 27.5 43.9 12.2 18.5 6.9 9.7 6.4 8.6 6.5 7.8 6.1 6.8 7.7 7.7 8.1 7 8 6 8.5 5.4 8.9 4.6 9.4 4 10.1 3.4 10.5 2.8"/>
<path d="M429.6 474.4l25.1 8.8 27.1 10 31.6 12.2 67.5 26.8 30 11.6 32 12 29.1 10.2"/>
<path d="M429.6 572.5l25.5-9.9 27.1-11.4 31.6-14 67.1-30.9 29.6-13.2 32-13.6 29.5-11.6"/>
<path d="M429.6 418.7l8.1 3 7.7 3.4 7.3 3.5 7.3 4 7.2 4.4 6.9 4.6 7.3 5.4 6.9 5.5 7.3 6.4 7.2 6.8 7.7 7.8 7.7 8.2 15.4 17.6 30.8 37.4 12.9 15.2 7.3 8.1 6.9 7.4 6.4 6.5 6.5 6.2 8.1 7.1 8.1 6.5 8.1 5.9 8.1 5.3 8.5 5 8.5 4.3 8.9 4 9.3 3.5"/>
<path d="M429.6 423.2l7.7 3.1 7.3 3.3 7.3 3.7 7.2 4.1 7.3 4.4 6.9 4.6 6.9 4.9 6.9 5.4 7.3 6 7.2 6.4 7.7 7.2 7.7 7.6 16.2 16.9 31.2 34.4 13.3 14.3 14.6 14.6 13.3 12.2 8.1 6.8 8.1 6.3 8.1 5.7 8.1 5.3 8.1 4.7 8.5 4.5 8.5 4 8.9 3.6"/>
<path d="M429.6 556.4l29.1-8.3 32-9.5 129.5-39.6 51.8-15"/>
<path d="M429.6 603l8.1-3.7 8.1-4 8.1-4.3 7.7-4.3 15.8-9.8 16.5-11.4 13.8-10.2 15-11.8 46.5-38.7 17-13.7 15.8-12.1 15-10.7 13.7-9 13.8-8.1 13.7-7.3 13.8-6.5"/>
<path d="M429.6 437.1l8.1 3.7 8.1 4 8.1 4.3 7.7 4.4 15.8 9.7 16.5 11.5 13.8 10.2 15 11.9 46.5 38.8 17 13.8 15.8 12.2 15 10.7 13.7 9 13.8 8.2 13.7 7.3 13.8 6.5"/>
<path d="M429.6 484.9l29.1 8.2 32 9.2 129.5 38.5 51.8 14.7"/>
<path d="M429.6 400.9l15.8 1 12.9 1.5 5.7 1.1 5.3 1.2 4.8 1.3 4.9 1.7 4.4 1.9 4.1 2.1 4 2.4 4.1 2.8 3.6 3 3.6 3.4 3.7 3.9 3.2 3.9 5.7 7.9 5.3 8.6 5.2 10 5.7 12.1 4.8 11.5 4.9 12.4 15.8 42.6 6 15.9 6.1 14.7 5.7 12.4 5.6 10.9 6.1 9.9 6.1 8.3 3.2 3.8 3.3 3.4 6 5.3 3.3 2.4 3.6 2.4 3.6 2 3.7 1.7 4 1.7 4.1 1.4 8.9 2.3 9.7 1.7 11.7 1.3 14.2 .8"/>
<path d="M429.6 530.8l242.4-21.2"/>
<path d="M429.6 521.7l242.4-3"/>
<path d="M429.6 479.1l29.1 9.4 32 10.7 97.5 34.2 32 11 26.7 8.9 25.1 8"/>
<path d="M429.6 612.5l8.5-3.7 8.5-4.1 8.1-4.3 8.1-4.8 8.1-5.1 8.1-5.6 8.1-6 8.1-6.4 13.3-11.4 14.6-13.5 13.7-13.4 32-32 16.2-15.5 15.8-14.1 7.3-6 7.2-5.7 7.3-5.4 6.9-4.8 6.9-4.4 6.9-4.2 6.8-3.9 7.3-3.7 7.3-3.5 7.3-3.1"/>
<path d="M429.6 558.6l29.1-8.8 32-10.1 129.5-42 26.7-8.3 25.1-7.6"/>
<path d="M429.6 405.1l10.5 2 9.3 2.4 8.5 2.8 8.1 3.3 7.7 3.9 7.3 4.6 6.9 5.1 6.9 6 6.8 7 6.9 8.1 6.9 9.2 6.9 10.2 6.4 10.4 7.3 12.7 26.3 48.9 11.4 19.9 6.4 10.4 6.1 8.9 6.1 8.2 6 7.3 7.7 8 7.7 6.8 8.1 5.9 8.5 5.1 4.5 2.2 4.8 2.2 9.7 3.5 11 2.9 11.7 2.3"/>
<path d="M429.6 481.1l29.1 8.9 32 10.3 129.5 42.9 26.7 8.5 25.1 7.6"/>
<path d="M429.6 530.2l242.4-20"/>
<path d="M429.6 590.4l15.4-7.1 15.4-7.7 15.7-8.5 16.2-9.4 13.8-8.4 15.4-9.8 65.5-43 16.2-10.1 15-8.9 13.7-7.8 13.8-7.2 13.3-6.6 13-5.9"/>
<path d="M429.6 430.4l8.5 3.8 8.1 4 8.1 4.3 8.1 4.7 8.1 5.1 8.1 5.4 8.1 5.9 8.1 6.2 13.7 11.4 14.6 12.9 13.7 12.8 32 30.4 16.6 15.2 15.8 13.5 14.5 11.4 14.2 9.9 13.8 8.5 6.8 3.9 7.3 3.8 6.9 3.3 7.3 3.2"/>
<path d="M429.6 426.9l8.5 3.7 8.5 4.1 8.1 4.3 8.1 4.7 8.1 5.2 8.1 5.6 8.1 6.1 8.1 6.4 13.7 12 14.6 13.7 13.3 13.2 32 32.6 16.2 15.8 8.1 7.5 7.7 6.8 7.3 6.1 7.2 5.8 6.9 5.1 6.9 4.8 6.9 4.5 7.3 4.4 6.8 3.9 7.3 3.7 7.3 3.4 7.3 3.2"/>
<path d="M429.6 449.1l13 5.9 13.3 6.6 13.8 7.4 13.7 7.8 15 9 16.2 10.3 17 11.2 48.5 32.5 15.4 9.9 13.8 8.6 16.2 9.5 15.7 8.7 15.4 7.7 15.4 7.1"/>
<path d="M429.6 507l242.4 26.4"/>
<path d="M429.6 445.8l15.4 7.2 15.8 8.2 15.7 9 16.2 9.9 13.8 9 15.4 10.5 47.7 34 17 11.9 16.2 10.8 15 9.5 13.7 8.2 13.8 7.6 13.3 6.8 13.4 6.2"/>
<path d="M429.6 441l15.8 7.5 15.8 8.5 15.8 9.4 16.1 10.6 13.8 9.7 15.4 11.4 47.3 36.8 16.6 12.6 16.2 11.7 15 10.1 13.7 8.7 13.8 7.9 13.3 7 13.8 6.5"/>
<path d="M429.6 537.7l242.4-35"/>
<path d="M429.6 428.5l8.5 3.7 8.5 4.2 8.1 4.3 8.1 4.7 8.1 5.2 8.1 5.5 8.1 6 8.1 6.4 13.3 11.3 14.6 13.3 13.7 13.3 32 31.6 16.2 15.3 15.8 14 7.3 5.9 7.2 5.7 7.3 5.4 6.9 4.7 6.9 4.5 6.9 4.1 6.8 3.9 7.3 3.8 7.3 3.4 7.3 3.2"/>
<path d="M429.6 627l10.1-3.3 9.3-3.8 8.9-4.2 8.5-4.8 8.5-5.5 8.1-6 8.1-6.9 7.7-7.2 6.5-6.7 6.5-7.2 6.8-8.1 6.9-8.7 12.6-16.7 29.5-40.9 7.7-10.2 7.3-9.2 7.7-9.1 7.2-8 7.3-7.4 6.9-6.3 6.9-5.8 6.9-5.1 7.2-4.9 7.3-4.3 7.7-4 7.7-3.4 8.1-3.1 8.5-2.8"/>
<path d="M429.6 591.6l15.4-7.1 15.4-7.8 15.7-8.7 16.6-9.8 13.8-8.6 15.4-10 48.1-32.4 17-11.2 16.2-10.3 15-9.1 13.7-7.9 13.8-7.3 13.3-6.7 13-5.9"/>
<path d="M429.6 498.1l242.4 44.2"/>
<path d="M429.6 478.9l29.1 9.4 32 10.8 97.5 34.3 31.6 11 27.1 9 25.1 8.1"/>
<path d="M429.6 582.5l15-6.5 15.4-7.1 15.7-7.7 16.2-8.4 29.6-16 65.9-37.2 16.6-9 15-7.9 13.7-6.9 13.4-6.4 12.9-5.9 13-5.6"/>
<path d="M429.6 444.3l15.4 7.2 15.8 8.3 15.7 9.1 16.6 10.5 13.8 9.2 15 10.5 47.7 34.9 17 12.2 16.2 11.1 15 9.7 13.7 8.3 13.8 7.7 13.3 6.9 13.4 6.2"/>
<path d="M429.6 414.1l8.5 2.8 8.1 3.2 7.7 3.5 7.7 4 7.3 4.4 7.2 4.9 6.9 5.2 6.9 5.7 6.9 6.4 7.3 7.3 7.2 7.9 7.7 9 7.3 9 7.7 10 30 40.7 12.5 16.4 6.9 8.5 6.9 8 6.4 7.1 6.5 6.6 7.7 7.1 8.1 6.8 8.1 6 8.5 5.6 8.5 4.7 8.9 4.3 9.3 3.8 9.7 3.3"/>
<path d="M429.6 437l8.1 3.7 8.1 4 8.1 4.3 7.7 4.4 15.8 9.7 16.5 11.5 13.8 10.3 15 11.8 46.5 39 16.6 13.5 16.2 12.5 15 10.7 13.7 9 13.8 8.2 13.7 7.3 13.8 6.5"/>
<path d="M429.6 451.3l15.4 7 15.4 7.6 15.7 8.5 16.2 9.2 13.8 8.2 15.4 9.6 65.5 41.9 16.2 9.9 15 8.7 14.1 7.9 13.4 6.9 13.3 6.5 13 5.9"/>
<path d="M429.6 420.5l8.9 3.6 8.9 4 8.5 4.4 8.5 5 8.1 5.3 8.1 5.8 8.1 6.4 8.1 7 6.5 6 6.8 6.8 14.2 14.9 12.9 14.7 30.8 35.8 15.8 17.5 7.7 7.9 7.7 7.5 7.2 6.7 7.3 6.2 6.9 5.5 7.3 5.3 6.9 4.6 7.2 4.4 7.3 4.1 7.3 3.6 7.7 3.4 7.7 3"/>
<path d="M429.6 439.7l15.8 7.5 15.8 8.5 15.8 9.5 16.5 11.1 13.8 9.9 15 11.3 47.3 37.7 16.6 12.9 15.8 11.7 15 10.4 13.7 8.8 13.8 8 13.7 7.3 13.8 6.4"/>
<path d="M429.6 580.7l15-6.3 15-6.8 15.7-7.5 16.2-8.1 29.6-15.6 66.3-36.1 16.6-8.8 15-7.6 13.7-6.7 13.4-6.3 12.9-5.8 13-5.4"/>
<path d="M429.6 488l51.8 13.4 129.9 35.2 60.7 15.8"/>
<path d="M429.6 409.5l10.5 2.9 9.7 3.4 9.3 4 9 4.7 8.4 5.4 8.1 6 8.1 7 7.7 7.6 6.1 6.7 6.5 7.7 6.4 8.4 6.9 9.5 12.2 18.1 28.3 44.2 7.7 11.3 6.9 9.6 7.2 9.5 6.9 8.2 6.9 7.5 7.3 7.1 6.9 5.9 7.2 5.5 7.3 4.8 7.3 4.1 7.7 3.7 8.1 3.3 8.5 2.8 9.3 2.5"/>
<path d="M429.6 580.4l15-6.4 15-6.7 15.7-7.5 16.2-8 29.6-15.5 66.3-35.9 16.6-8.7 15-7.5 13.7-6.7 13.4-6.3 12.9-5.7 13-5.5"/>
<path d="M429.6 463.8l15 6.1 15 6.4 15.3 6.9 16.6 7.7 29.6 14.4 66.7 33.4 31.6 15.2 27.1 12.1 25.5 10.6"/>
<path d="M429.6 507l242.4 26.4"/>
<path d="M429.6 559.4l29.1-9 32-10.2 129.5-43 26.7-8.5 25.1-7.7"/>
<path d="M429.6 569.8l29.5-11.1 32-12.9 29.6-12.5 67.5-29.3 31.6-13.2 27.1-10.8 25.1-9.4"/>
<path d="M429.6 460.7l15 6.3 15 6.6 15.7 7.4 16.2 8 29.6 15.3 66.3 35.4 31.6 16.1 13.7 6.6 13.4 6.2 12.9 5.7 13 5.4"/>
<path d="M429.6 445.1l15.4 7.3 15.8 8.2 15.7 9 16.2 10.1 13.8 9.1 15.4 10.6 47.7 34.4 17 12 16.2 11 15 9.5 13.7 8.3 13.8 7.6 13.3 6.8 13.4 6.3"/>
<path d="M429.6 445.6l15.4 7.2 15.8 8.2 15.7 9 16.2 10 13.8 9 15.4 10.6 47.7 34.1 17 11.9 16.2 10.9 15 9.5 13.7 8.2 13.8 7.6 13.3 6.8 13.4 6.2"/>
<path d="M429.6 601.5l15.8-7.5 15.8-8.6 15.8-9.6 16.5-11.1 13.8-10 15-11.5 47.3-38.3 16.6-13 15.8-11.8 15-10.5 13.7-8.9 13.8-8 13.7-7.3 13.8-6.5"/>
<path d="M429.6 496.6l242.4 47.2"/>
<path d="M429.6 443.2l13.8 6.5 13.3 6.9 13.8 7.8 13.7 8.4 15 9.9 15.8 11 17 12.4 47.7 35.6 15 10.7 13.8 9.4 16.6 10.6 15.7 9.2 15.4 8.1 15.8 7.5"/>
<path d="M429.6 416.9l9.3 3.4 9.3 4 8.5 4.3 8.5 4.9 8.1 5.3 8.1 5.9 8.1 6.6 8.1 7.3 6.5 6.3 6.4 6.8 6.9 7.5 7.3 8.5 12.9 15.8 30.4 38.4 8.1 9.9 7.3 8.5 7.7 8.4 7.2 7.6 7.3 7 7.3 6.5 6.9 5.6 7.3 5.4 6.9 4.6 7.2 4.4 7.3 3.9 7.7 3.7 7.7 3.2 8.1 2.9"/>
<path d="M429.6 426.3l8.5 3.7 8.5 4.1 8.5 4.5 8.1 4.7 8.1 5.2 8.1 5.7 8.1 6.1 8.1 6.5 13.3 11.7 14.6 13.9 13.3 13.4 32 32.9 15.8 15.6 8.1 7.6 7.7 6.8 7.3 6.2 7.2 5.8 6.9 5.2 6.9 4.9 6.9 4.5 7.3 4.4 6.8 3.9 7.3 3.7 7.3 3.5 7.7 3.3"/>
<path d="M429.6 420.4l8.9 3.5 8.9 4.1 8.5 4.4 8.5 4.9 8.1 5.3 8.1 5.9 8.1 6.4 8.1 7 6.5 6 6.8 6.8 14.2 15 12.9 14.6 30.8 36 15.8 17.4 7.7 8 7.7 7.5 7.2 6.7 7.3 6.3 6.9 5.4 7.3 5.3 6.9 4.6 7.2 4.5 7.3 4 7.3 3.6 7.7 3.4 7.7 3"/>
<path d="M429.6 413.2l10.1 3.3 9.3 3.7 8.9 4.2 8.5 4.7 8.5 5.6 8.1 6 8.1 6.8 7.7 7.3 6.5 6.7 6.5 7.2 6.8 8.2 6.9 8.6 12.6 16.9 29.1 40.6 7.7 10.3 7.3 9.2 7.6 9.2 7.3 8.1 7.3 7.4 6.9 6.4 6.9 5.8 6.9 5.2 7.2 4.9 7.3 4.3 7.7 4 7.7 3.5 8.1 3.1 8.9 2.8"/>
<path d="M429.6 420.7l8.9 3.5 8.9 4.1 8.5 4.4 8.5 4.9 8.1 5.3 8.1 5.9 8.1 6.4 8.1 7 6.5 6 6.8 6.7 14.2 14.9 12.9 14.6 30.8 35.8 15.8 17.3 7.7 8 7.7 7.5 7.2 6.6 7.3 6.3 6.9 5.4 7.3 5.3 6.9 4.6 7.2 4.5 7.3 4 7.3 3.6 7.7 3.4 7.7 3"/>
<path d="M429.6 551.4l60.7-15.4 129.9-33.9 51.8-13.1"/>
<path d="M429.6 464.2l15 6 15 6.4 15.3 6.8 16.6 7.7 29.6 14.3 66.7 33.2 31.6 15 27.1 12.1 25.5 10.5"/>
<path d="M429.6 541.1l242.4-41.8"/>
<path d="M429.6 631.9l10.5-2.7 10.1-3.4 9.4-3.9 8.9-4.6 8.5-5.3 8-6 8.1-7.1 7.7-7.6 6.1-6.8 6.5-7.9 6.4-8.6 6.9-9.8 12.2-18.7 27.5-44.4 7.7-11.7 6.8-9.9 7.3-9.7 6.9-8.4 6.9-7.5 7.3-7.2 6.8-5.9 6.9-5.2 7.3-4.8 7.7-4.3 7.7-3.6 8.5-3.3 8.5-2.7 9.3-2.4"/>
<path d="M429.6 613.2l8.5-3.7 8.5-4.1 8.1-4.3 8.1-4.7 8.1-5.2 8.1-5.6 8.1-6 8.1-6.5 13.7-11.9 14.6-13.6 13.3-13.2 32-32.4 16.2-15.8 8.1-7.4 7.7-6.8 7.3-6 7.2-5.8 6.9-5.1 6.9-4.8 6.9-4.5 7.3-4.4 6.8-3.9 7.3-3.7 7.3-3.5 7.3-3.1"/>
<path d="M429.6 402.3l11.7 1.4 10.6 1.7 9.3 2.3 8.5 2.8 8.1 3.6 7.2 4.2 6.9 5 6.5 5.7 6.9 7.3 6.5 8.3 6.4 9.6 6.5 11 6.1 11.4 6.4 13.4 6.5 14.2 17.4 39.2 5.7 12.1 4.8 9.8 6.1 11.4 5.7 9.5 5.6 8.5 6.1 7.9 3.7 4.2 3.6 3.8 3.6 3.5 4.1 3.4 4 3 4.1 2.6 4 2.3 4.5 2.2 4.4 1.9 4.9 1.8 5.2 1.6 5.3 1.3 11.7 2.3 13.8 1.6"/>
<path d="M429.6 578.7l15-6.2 15-6.6 15.3-7.1 16.6-8 29.6-15 66.3-34.8 31.6-15.7 27.1-12.6 12.9-5.7 13-5.3"/>
<path d="M429.6 629.6l10.1-3 9.7-3.6 9.3-4.2 8.5-4.5 8.5-5.5 8.1-6 8.1-6.9 7.7-7.5 6.5-6.9 6.5-7.6 6.4-8.1 6.9-9.2 12.6-17.9 28.7-42.9 7.7-10.9 6.9-9.3 7.2-9.1 7.3-8.5 6.9-7.3 7.3-6.9 6.9-5.9 6.8-5.2 7.3-4.8 7.3-4.3 7.7-3.8 8.1-3.4 8.5-3 8.9-2.6"/>
<path d="M429.6 527.7l242.4-15"/>
<path d="M429.6 406.4l9.7 2.1 9.3 2.6 8.5 3 8.1 3.5 7.7 4.1 7.3 4.7 6.9 5.2 6.8 6 6.9 6.9 6.9 7.9 6.9 8.9 6.9 9.7 6.8 10.6 7.3 12 27.1 47.6 11.8 19.5 6.4 9.9 6.5 9.1 6.1 7.8 6.1 7 7.6 7.9 7.7 6.7 8.1 6 8.5 5.2 8.9 4.4 9.7 3.7 10.6 3.1 11.3 2.5"/>
<path d="M429.6 473.1l29.5 10.6 32 12.3 29.6 11.9 67.5 27.6 31.6 12.5 27.1 10.3 25.1 9"/>
<path d="M429.6 439.4l13.8 6.5 13.7 7.3 13.8 8 13.7 8.9 15 10.3 15.8 11.8 16.6 12.9 47.3 37.8 15 11.4 13.8 10 16.5 11.1 15.8 9.5 15.8 8.6 15.8 7.5"/>
<path d="M429.6 494.7l60.7 12.6 130.3 27.7 51.4 10.7"/>
<path d="M429.6 476.6l25.1 8.4 27.1 9.6 31.6 11.5 67.5 25.4 30 11.1 32 11.4 29.1 9.8"/>
<path d="M429.6 409.9l9.3 2.6 8.5 2.9 8.1 3.3 7.7 3.7 7.3 4.2 7.3 4.8 6.8 5.2 6.9 5.9 7.3 7 6.9 7.4 7.3 8.6 7.2 9.4 6.9 9.5 7.7 11.2 28.3 43.7 12.2 17.8 6.9 9.4 6.4 8.4 6.5 7.6 6.5 7.1 7.7 7.5 8.1 7 8.1 6 8.5 5.4 8.5 4.5 9.3 4.1 9.7 3.5 10.5 2.9"/>
<path d="M429.6 421.6l8.9 3.6 8.9 4.1 8.5 4.5 8.1 4.7 8.1 5.3 8.1 5.8 8.1 6.4 8.1 6.9 6.4 5.9 6.9 6.6 14.2 14.6 13.3 14.7 31.2 35.5 15.8 17 7.7 7.8 7.7 7.4 7.2 6.6 7.3 6.1 6.9 5.4 6.9 5 6.9 4.6 7.2 4.5 7.3 4 7.3 3.6 7.7 3.5 7.7 3.1"/>
<path d="M429.6 476.8l29.1 9.8 32 11.4 97.5 36.2 31.6 11.4 27.1 9.6 25.1 8.4"/>
<path d="M429.6 418.5l9.3 3.6 8.9 3.9 8.5 4.3 8.5 5 8.1 5.3 8.1 5.9 8.1 6.5 8.1 7.1 6.5 6.2 6.4 6.6 6.9 7.3 7.3 8.2 12.9 15.2 30.8 37.5 15.4 17.8 7.7 8.2 7.7 7.8 7.2 6.8 7.3 6.4 6.9 5.5 7.3 5.4 6.9 4.6 7.2 4.4 7.3 4 7.3 3.5 7.7 3.3 8.1 3.1"/>
<path d="M429.6 413.7l10.1 3.4 9.3 3.7 8.9 4.3 8.5 4.8 8.5 5.5 8.1 6.1 8.1 6.8 7.7 7.2 6.5 6.7 6.5 7.1 6.8 8.1 6.9 8.6 12.6 16.6 29.5 40.7 7.7 10.1 7.3 9.1 7.7 9 7.2 8 7.3 7.4 6.9 6.3 6.9 5.7 6.9 5.2 7.2 4.9 7.3 4.4 7.7 3.9 7.7 3.5 8.1 3.1 8.5 2.8"/>
<path d="M429.6 489.6l60.7 15.1 129.9 33.3 51.8 12.8"/>
<path d="M429.6 448.2l15.4 7.1 15.4 7.8 15.7 8.8 16.6 9.8 13.8 8.7 15.4 10.1 48.1 32.8 17 11.4 16.2 10.4 15 9.2 13.7 7.9 13.4 7.2 13.3 6.7 13.4 6.1"/>
<path d="M429.6 449.2l15.4 7.1 15.4 7.8 15.7 8.6 16.2 9.5 13.8 8.5 15.4 10 48.5 32.4 17 11.1 16.2 10.3 15 9 13.7 7.8 13.8 7.3 13.3 6.6 13 6"/>
<path d="M429.6 536.4l242.4-32.4"/>
<path d="M429.6 412l8.9 2.8 8.1 3 8.1 3.5 7.7 3.9 7.3 4.3 7.3 4.9 6.8 5.2 6.9 5.8 6.9 6.5 7.3 7.5 7.3 8.3 7.2 8.9 7.3 9.5 7.7 10.5 29.1 42 12.6 17.3 6.9 8.9 6.4 7.9 6.5 7.4 6.5 6.8 7.7 7.4 8.1 6.8 8.1 6.1 8.5 5.5 8.9 4.8 8.9 4.2 9.3 3.5 10.1 3.2"/>
<path d="M429.6 484.5l29.1 8.2 32 9.4 129.5 39 51.8 14.8"/>
<path d="M429.6 531.3l242.4-22.2"/>
<path d="M429.6 613l7.3-3.1 7.3-3.5 7.3-3.7 6.8-3.9 7.3-4.4 6.9-4.5 6.9-4.8 6.9-5.1 7.2-5.8 7.3-6 15.8-14.2 16.2-15.6 32-32.3 13.7-13.6 14.6-13.5 13.3-11.5 8.1-6.5 8.1-6 8.1-5.6 8.1-5.1 8.1-4.8 8.1-4.3 8.5-4.1 8.5-3.7"/>
<path d="M429.6 589.9l13-5.8 13.3-6.6 13.8-7.2 13.7-7.7 15-8.9 16.2-10 65.5-42.6 15.4-9.7 13.8-8.4 16.2-9.3 15.7-8.5 15.4-7.7 15.4-7"/>
<path d="M429.6 406.3l9.7 2.1 9.3 2.6 8.5 3 8.1 3.5 7.7 4.1 7.3 4.7 6.9 5.1 6.8 6.1 6.9 6.9 6.9 7.9 6.9 8.8 6.9 9.8 6.8 10.6 7.3 12.1 27.1 47.7 11.8 19.5 6.4 9.9 6.5 9.1 6.1 7.8 6.1 7.1 7.6 7.8 7.7 6.8 8.1 5.9 8.5 5.2 8.9 4.4 9.7 3.7 10.6 3.1 11.3 2.5"/>
<path d="M429.6 580.6l15-6.4 15-6.7 15.7-7.5 16.2-8.1 29.6-15.5 66.3-36.1 16.6-8.7 15-7.6 13.7-6.7 13.4-6.2 12.9-5.8 13-5.5"/>
<path d="M429.6 438.2l13.8 6.5 13.7 7.3 13.8 8.1 13.7 8.9 15 10.6 15.8 11.9 16.6 13.2 47.3 38.8 15 11.6 13.8 10.1 16.5 11.2 15.8 9.7 15.8 8.6 15.8 7.5"/>
<path d="M429.6 504.7l242.4 31"/>
<path d="M429.6 433.8l14.2 6.6 13.7 7.4 13.8 8.4 14.2 9.6 14.9 11.2 15.8 12.8 16.2 14 32.8 29.2 13.7 12.1 14.6 12.2 13.7 10.8 8.1 5.9 8.1 5.7 8.1 5.3 8.1 5 8.1 4.6 8.1 4.3 8.1 4 8.1 3.7"/>
<path d="M429.6 429.4l8.5 3.7 8.1 4 8.1 4.3 8.1 4.7 8.1 5.1 8.1 5.5 8.1 6 8.1 6.2 13.7 11.5 14.6 13.2 13.7 13 32 31.1 16.6 15.4 15.8 13.7 14.5 11.6 7.3 5.3 6.9 4.7 6.9 4.4 6.9 4.1 6.8 3.9 7.3 3.7 6.9 3.3 7.3 3.2"/>
<path d="M429.6 547.5l60.7-13.5 130.3-29.7 51.4-11.4"/>
<path d="M429.6 496.9l242.4 46.6"/>
<path d="M429.6 460.8l15 6.3 15 6.6 15.7 7.4 16.2 8 29.6 15.2 66.3 35.4 31.6 16 13.7 6.6 13.4 6.2 12.9 5.7 13 5.4"/>
<path d="M429.6 459.6l13 5.5 12.9 5.8 13.4 6.2 13.7 6.8 15 7.6 16.6 8.7 66.3 36.3 29.6 15.5 16.2 8.1 15.7 7.6 15 6.7 15 6.4"/>
<path d="M429.6 471.6l29.5 11 32 12.6 29.6 12.2 67.5 28.6 31.6 13 27.1 10.5 25.1 9.3"/>
<path d="M429.6 499.1l242.4 42.2"/>
<path d="M429.6 428.2l8.5 3.7 8.5 4.1 8.1 4.4 8.1 4.7 8.1 5.1 8.1 5.6 8.1 6 8.1 6.4 13.3 11.3 14.6 13.4 13.7 13.4 32 31.8 16.2 15.4 15.8 14 7.3 6 7.2 5.7 7.3 5.4 6.9 4.8 6.9 4.4 6.9 4.2 6.8 3.8 7.3 3.8 7.3 3.5 7.3 3.1"/>
<path d="M429.6 409.1l10.5 2.8 9.7 3.3 9.3 4 9 4.6 8.4 5.3 8.1 6 8.1 7 7.7 7.6 6.1 6.7 6.5 7.8 6.4 8.5 6.9 9.6 12.2 18.3 28.3 44.8 7.7 11.5 6.9 9.7 7.2 9.6 6.9 8.2 6.9 7.5 7.3 7.1 6.9 5.9 6.8 5.2 7.3 4.8 7.3 4.1 8.1 3.9 8.1 3.2 8.5 2.8 9.3 2.4"/>
<path d="M429.6 432.3l8.1 3.7 8.1 3.9 8.1 4.4 8.1 4.6 8.1 5.1 8.1 5.3 8.1 5.8 8.1 6 13.7 11.1 14.6 12.4 13.7 12.4 32.8 30.1 16.2 14.3 15.8 13.1 14.9 11.4 14.2 9.8 13.8 8.4 13.7 7.4 14.2 6.6"/>
<path d="M429.6 543.8l242.4-47.2"/>
<path d="M429.6 440.2l15.8 7.5 15.8 8.5 15.8 9.5 16.5 11 13.8 9.8 15 11.2 47.3 37.4 16.6 12.8 16.2 11.9 15 10.2 13.7 8.8 13.8 7.9 13.3 7.1 13.8 6.4"/>
<path d="M429.6 463.9l25.5 10.5 27.1 12.2 31.6 15.1 66.7 33.4 29.6 14.3 16.6 7.8 15.3 6.8 15 6.4 15 6.1"/>
<path d="M429.6 436.4l14.2 6.7 13.7 7.4 13.8 8.2 13.7 9.1 15 10.8 15.8 12.3 16.6 13.7 46.5 39.3 15 12 13.8 10.4 8.4 6 8.1 5.5 8.1 5.2 7.7 4.6 7.7 4.4 8.1 4.3 8.1 4 8.1 3.7"/>
<path d="M429.6 403.6l12.6 1.9 11.3 2.6 5.2 1.6 4.9 1.7 8.9 3.8 4.5 2.4 4 2.4 4 2.7 4.1 3 4 3.4 3.7 3.4 4 4.1 3.7 4.1 6 7.5 6.1 8.5 6.1 9.6 6 10.4 5.3 9.8 5.7 11 25.5 51.8 6.8 12.9 6.1 10.6 6.9 10.9 6.5 9 6.4 8 6.9 7.2 6.9 6.1 6.9 5.1 7.3 4.4 7.6 3.7 8.5 3.2 8.9 2.6 10.2 2.2 10.9 1.6"/>
<path d="M429.6 489.1l60.7 15.3 129.9 33.9 51.8 13"/>
<path d="M429.6 470.1l25.1 9.5 27.1 10.9 31.6 13.3 67.5 29.6 29.6 12.6 32 13.1 29.5 11.2"/>
<path d="M429.6 558.3l25.1-7.5 26.7-8.3 129.5-41.7 32-10 29.1-8.7"/>
<path d="M429.6 496.6l242.4 47.2"/>
<path d="M429.6 526l242.4-11.6"/>
<path d="M429.6 405.6l10.1 2 9.3 2.4 8.5 2.8 8.1 3.4 7.7 4 7.3 4.6 6.9 5.1 6.9 6 6.8 7 6.9 8 6.9 9 6.9 10.1 6.4 10.2 7.3 12.4 26.7 48.7 11.4 19.5 6.4 10.3 6.5 9.4 6.1 8 6.1 7.2 7.6 8 7.7 6.8 8.1 5.9 4.5 2.8 4.4 2.5 8.9 4.3 9.7 3.5 10.6 3 11.7 2.3"/>
<path d="M429.6 445.9l13.4 6.2 13.3 6.8 13.8 7.6 13.7 8.1 15 9.5 16.2 10.8 17 11.9 47.7 33.9 15.4 10.5 13.8 9 16.2 10 15.7 8.9 15.8 8.2 15.4 7.2"/>
<path d="M429.6 526.3l242.4-12.2"/>
<path d="M429.6 403.1l13 1.8 11.3 2.4 5.2 1.5 4.9 1.6 4.9 1.9 4.4 2 4.5 2.3 4.4 2.6 4.1 2.7 4 3.1 4.1 3.4 3.6 3.4 3.6 3.8 3.7 4.1 6 7.7 5.7 8.1 6.1 9.8 6.1 10.8 5.2 10 5.7 11.4 24.7 52 6.8 13.3 6.1 10.9 6.9 11.2 6.5 9.2 6.4 8 6.9 7.3 6.9 6 6.9 5 7.3 4.3 7.6 3.6 8.5 3 8.9 2.5 10.2 2 11.3 1.5"/>
<path d="M429.6 594.2l15.4-7.2 15.8-8.1 15.7-9 16.2-9.9 13.8-9 15.4-10.4 47.7-33.7 17-11.8 16.2-10.8 15-9.4 13.7-8.2 13.8-7.5 13.3-6.8 13.4-6.2"/>
<path d="M429.6 419.5l8.9 3.4 8.9 4 8.5 4.3 8.5 5 8.1 5.2 8.1 5.9 8.1 6.5 8.1 7.1 6.5 6 6.8 6.9 14.2 15.2 12.9 15 30.8 36.7 15.8 17.8 7.7 8.1 7.3 7.3 7.2 6.7 7.3 6.4 6.9 5.5 7.3 5.3 6.9 4.6 7.2 4.5 7.3 4 7.3 3.6 7.7 3.3 8.1 3.1"/>
<path d="M429.6 415.1l9.7 3.4 8.9 3.6 8.9 4.4 8.5 4.8 8.1 5.3 8.1 5.9 8.1 6.7 8.1 7.4 6.5 6.5 6.4 7 6.9 7.8 7.3 8.8 12.5 16 30 39.7 8.1 10.3 7.3 8.8 7.7 8.8 7.2 7.8 7.3 7.2 6.9 6.3 6.9 5.7 6.9 5.1 7.2 4.9 7.3 4.4 7.7 4.1 7.7 3.5 8.1 3.3 8.1 2.7"/>
<path d="M429.6 430.7l8.5 3.8 8.1 4 8.1 4.3 8.1 4.7 8.1 5.1 8.1 5.5 8.1 5.8 8.1 6.2 13.7 11.3 14.6 12.8 13.7 12.8 32 30.2 16.6 15.1 15.8 13.5 14.5 11.3 14.2 9.9 13.8 8.5 6.8 3.9 7.3 3.8 14.2 6.5"/>
<path d="M429.6 493.8l51.4 11 130.3 28.7 60.7 13.1"/>
<path d="M429.6 480.9l25.1 7.7 26.7 8.5 129.5 43.1 32 10.3 29.1 9"/>
<path d="M429.6 502.2l242.4 36"/>
<path d="M429.6 422l8.9 3.6 8.9 4.1 8.5 4.5 8.1 4.7 8.1 5.3 8.1 5.8 8.1 6.3 8.1 6.9 6.4 5.9 6.9 6.6 14.2 14.5 13.3 14.7 31.2 35.1 15.8 17 7.7 7.7 7.7 7.4 7.2 6.5 7.3 6.1 6.9 5.4 6.9 5 6.9 4.6 7.2 4.4 7.3 4.1 7.3 3.7 7.7 3.4 7.7 3.1"/>
<path d="M429.6 631.1l10.5-2.9 9.7-3.4 9.3-4 9-4.6 8.4-5.4 8.1-6 8.1-7 7.7-7.6 6.1-6.7 6.5-7.8 6.4-8.4 6.9-9.5 12.2-18.2 28.3-44.4 7.7-11.4 6.9-9.6 7.2-9.5 6.9-8.3 6.9-7.4 7.3-7.1 6.9-5.9 7.2-5.6 7.3-4.7 7.3-4.1 7.7-3.7 8.1-3.3 8.5-2.8 9.3-2.5"/>
<path d="M429.6 519.9l242.4 .6"/>
<path d="M429.6 456.7l15 6.5 15.4 7.2 15.7 7.9 16.2 8.5 29.6 16.4 65.9 38.1 16.2 9 15 8 13.7 7.1 13.4 6.5 13.3 6.2 13 5.6"/>
<path d="M429.6 527.3l242.4-14.2"/>
<path d="M429.6 618.5l8.9-3.6 8.9-4.1 8.5-4.5 8.1-4.7 8.1-5.3 8.1-5.8 8.1-6.3 8.1-6.9 6.4-5.9 6.9-6.6 14.2-14.6 13.3-14.6 31.2-35.3 15.8-16.9 7.7-7.8 7.7-7.4 7.2-6.5 7.3-6.1 6.9-5.4 6.9-5 6.9-4.6 7.2-4.5 7.3-4 7.3-3.7 7.7-3.4 7.7-3.1"/>
<path d="M429.6 492l51.4 11.7 130.3 30.8 60.7 13.9"/>
<path d="M429.6 545.4l60.7-12.5 130.3-27.3 51.4-10.6"/>
<path d="M429.6 421.5l8.9 3.6 8.9 4.1 8.5 4.4 8.1 4.7 8.1 5.3 8.1 5.8 8.1 6.4 8.1 6.9 6.4 5.9 6.9 6.6 14.2 14.7 13.3 14.8 31.2 35.6 15.8 17 7.7 7.9 7.7 7.3 7.2 6.6 7.3 6.2 6.9 5.4 6.9 5 6.9 4.6 7.2 4.4 7.3 4.1 7.3 3.6 7.7 3.5 7.7 3"/>
<path d="M429.6 407.9l9.3 2.3 8.9 2.7 8.5 3.2 7.7 3.6 7.7 4.2 7.3 4.7 6.9 5.3 6.8 5.9 7.3 7.2 6.9 7.7 6.9 8.5 7.3 9.9 6.8 10.1 7.3 11.3 27.5 45.5 12.2 19 6.5 9.4 6.4 8.8 6.5 8 6.1 6.9 7.7 7.7 8 7.1 8.1 6 8.5 5.2 8.9 4.6 9.3 3.8 10.2 3.3 10.9 2.7"/>
<path d="M429.6 463.2l15 6.2 15 6.4 15.3 6.9 16.6 7.8 29.6 14.6 66.7 33.9 31.6 15.3 27.1 12.3 25.5 10.6"/>
<path d="M429.6 622.3l9.3-3.5 8.9-3.9 8.5-4.3 8.5-4.9 8.1-5.3 8.1-5.9 8.1-6.6 8.1-7.2 6.5-6.2 6.8-7 6.9-7.4 7.3-8.2 12.9-15.5 30.4-37.3 15.4-17.9 7.7-8.3 7.7-7.8 7.2-6.9 7.3-6.4 6.9-5.6 7.3-5.3 6.9-4.6 7.2-4.4 7.3-4 7.3-3.5 7.7-3.3 8.1-3"/>
<path d="M429.6 487.3l60.7 16.2 129.9 35.9 51.8 13.7"/>
<path d="M429.6 561.9l29.1-9.5 32-10.9 97.5-34.7 31.6-11 27.1-9.2 25.1-8.1"/>
<path d="M429.6 425.9l7.7 3.3 7.3 3.4 7.3 3.8 6.8 3.8 7.3 4.5 6.9 4.5 6.9 4.9 6.9 5.2 7.2 5.8 7.3 6.2 7.7 6.9 8.1 7.6 15.8 15.7 32 33.2 13.3 13.6 14.6 13.9 13.3 11.7 8.1 6.6 8.1 6.1 8.1 5.7 8.1 5.2 8.1 4.7 8.5 4.6 8.5 4 8.5 3.7"/>
<path d="M429.6 404.7l10.5 1.9 9.3 2.3 8.9 2.8 8.1 3.3 7.7 3.8 7.3 4.5 6.9 5.1 6.9 6.1 6.8 7 6.9 8.2 6.9 9.3 6.9 10.3 6.5 10.7 6.8 12.2 25.9 49.3 11.4 20.3 6.4 10.5 6.1 9.1 6.1 8.3 6 7.4 7.7 8.1 7.7 6.8 4.1 3.1 4 2.8 4.1 2.5 4.4 2.5 4.5 2.2 4.8 2.1 9.7 3.4 11 2.8 12.1 2.3"/>
<path d="M429.6 445l15.4 7.2 15.8 8.3 15.7 9 16.2 10.1 13.8 9.1 15.4 10.7 47.7 34.4 17 12.1 16.2 10.9 15 9.6 13.7 8.3 13.8 7.6 13.3 6.9 13.4 6.2"/>
<path d="M429.6 402.6l11.7 1.4 10.2 1.8 9.3 2.3 8.5 3 8.1 3.6 7.2 4.2 6.9 5 6.5 5.7 6.9 7.4 6.4 8.1 6.5 9.5 6.5 10.8 6.1 11.3 6.4 13 6.9 14.8 17.8 39.3 5.7 11.9 4.8 9.6 6.1 11.1 5.7 9.4 5.6 8.4 6.1 7.8 3.7 4.2 3.6 3.8 3.6 3.4 4.1 3.4 4 3 4.1 2.7 4 2.3 4.5 2.3 4.4 1.9 4.9 1.8 5.2 1.7 5.3 1.4 11.7 2.3 13.4 1.6"/>
<path d="M429.6 406.4l11.3 2.5 10.2 3 9.7 3.8 8.9 4.3 8.5 5.1 8.1 6 8.1 7 7.6 7.9 6.1 7.1 6.1 7.8 6.5 9.1 6.4 9.8 11.8 19.4 27.1 47.5 7.3 12 6.8 10.6 6.9 9.7 6.9 8.8 6.9 7.9 6.9 6.9 6.8 6.1 6.9 5.2 7.3 4.7 7.7 4.1 8.1 3.5 8.5 3.1 9.3 2.6 9.7 2.1"/>
<path d="M429.6 425.4l7.7 3.2 7.3 3.4 7.3 3.7 6.8 3.9 7.3 4.4 6.9 4.6 6.9 4.8 6.9 5.3 7.2 5.8 7.3 6.3 7.7 6.9 8.1 7.7 15.8 15.9 32 33.6 13.3 13.7 14.6 14.1 13.3 11.8 8.1 6.6 8.1 6.1 8.1 5.7 8.1 5.2 8.1 4.8 8.5 4.5 8.5 4 8.5 3.6"/>
<path d="M429.6 555.8l29.1-8.2 32-9.3 129.5-38.9 51.8-14.8"/>
<path d="M429.6 452.5l13 5.8 13.3 6.4 13.4 6.9 13.7 7.4 15 8.6 16.6 10 65.5 41 15.4 9.4 13.8 8.1 16.6 9.3 15.7 8.3 15.4 7.5 15 6.7"/>
<path d="M429.6 594.9l13.4-6.2 13.3-6.8 13.8-7.6 13.7-8.2 15-9.5 16.2-10.9 17-12 47.7-34.2 15.4-10.5 13.8-9.1 16.2-10 15.7-9 15.8-8.2 15.4-7.2"/>
<path d="M429.6 412l10.1 3.2 9.3 3.5 8.9 4.1 8.9 4.9 8.5 5.5 8.1 6.1 8.1 6.8 7.7 7.4 6.5 6.8 6.5 7.4 6.4 7.9 6.9 8.9 12.6 17.3 29.1 42 7.7 10.5 7.3 9.5 7.2 8.9 7.3 8.3 7.3 7.5 6.9 6.5 6.9 5.8 6.8 5.2 7.3 4.9 7.3 4.3 7.7 3.9 8.1 3.5 8.1 3 8.9 2.8"/>
<path d="M429.6 450.3l15.4 7.1 15.4 7.6 15.7 8.6 16.2 9.3 13.8 8.4 15.4 9.7 65.5 42.8 16.2 10 15 8.9 13.7 7.7 13.8 7.2 13.3 6.6 13 5.9"/>
<path d="M429.6 406.6l11.3 2.6 10.2 3 9.7 3.8 8.9 4.4 8.5 5.1 8.1 6 8.1 7.1 7.6 7.8 6.1 7.1 6.1 7.7 6.5 9.1 6.4 9.8 11.8 19.3 27.1 47.1 7.3 11.9 6.8 10.5 7.3 10.3 6.9 8.7 6.9 7.8 6.9 6.9 6.8 6 6.9 5.2 7.3 4.6 7.7 4.2 8.1 3.5 8.5 3 8.9 2.5 9.7 2.2"/>
<path d="M429.6 438.7l15.8 7.5 15.8 8.6 15.8 9.6 16.5 11.2 13.8 10 15 11.6 47.3 38.3 16.6 13.1 15.8 11.8 15 10.5 13.7 8.9 13.8 8.1 13.7 7.3 13.8 6.5"/>
<path d="M429.6 618.1l7.7-3.2 7.7-3.4 7.3-3.7 7.3-4.1 7.2-4.4 6.9-4.6 6.9-5 6.9-5.4 7.3-6.1 7.2-6.5 7.7-7.3 7.7-7.7 15.8-16.8 31.2-34.9 13.3-14.5 14.2-14.5 13.3-12.4 8.1-6.9 8.1-6.3 8.1-5.8 8.1-5.2 8.1-4.8 8.5-4.5 8.9-4.1 8.9-3.7"/>
<path d="M429.6 421.9l8.9 3.6 8.9 4.2 8.5 4.4 8.1 4.8 8.1 5.2 8.1 5.8 8.1 6.4 8.1 6.9 6.4 5.8 6.9 6.6 14.2 14.6 13.3 14.6 31.2 35.3 15.8 16.9 7.7 7.8 7.7 7.3 7.2 6.6 7.3 6.1 6.9 5.4 6.9 5 6.9 4.6 7.2 4.4 7.3 4.1 7.3 3.6 7.7 3.5 7.7 3.1"/>
<path d="M429.6 413.7l10.1 3.4 9.3 3.7 8.9 4.3 8.5 4.8 8.5 5.5 8.1 6.1 8.1 6.8 7.7 7.2 6.5 6.7 6.5 7.1 6.8 8.1 6.9 8.6 12.6 16.6 29.5 40.7 7.7 10.1 7.3 9.1 7.7 9 7.2 8 7.3 7.4 6.9 6.3 6.9 5.7 6.9 5.2 7.2 4.9 7.3 4.4 7.7 3.9 7.7 3.5 8.1 3.1 8.5 2.8"/>
<path d="M429.6 403.8l10.9 1.8 9.7 2.1 8.9 2.6 8.5 3.3 7.7 3.7 7.3 4.4 6.9 5.1 6.9 6.1 6.9 7.2 6.4 7.8 6.5 9 6.9 10.7 6.5 11.2 6.8 12.8 25.5 51 5.7 10.9 5.3 9.6 6 10.3 6.1 9.5 6.1 8.5 6 7.5 3.7 4.1 4 4.1 3.7 3.4 4 3.4 4.1 3.1 4 2.7 4 2.5 4.5 2.4 4.4 2.1 4.9 2 4.9 1.7 5.2 1.6 10.9 2.5 12.6 2.1"/>
<path d="M429.6 552.4l60.7-15.8 129.9-35.2 51.8-13.4"/>
<path d="M429.6 547.4l60.7-13.4 130.3-29.7 51.4-11.3"/>
<path d="M429.6 452.2l15 6.8 15.4 7.5 15.7 8.4 16.6 9.3 13.8 8.1 15.4 9.4 65.5 41.2 16.6 10 15 8.6 13.7 7.5 13.4 6.9 13.3 6.5 13 5.8"/>
<path d="M429.6 560.4l29.1-9.2 32-10.5 97.5-33.4 32-10.7 26.7-8.7 25.1-7.9"/>
<path d="M429.6 587.5l15-6.7 15.4-7.5 15.7-8.2 16.6-9.3 13.8-8 15.4-9.3 65.5-40.8 16.6-9.8 15-8.6 13.7-7.4 13.4-6.8 13.3-6.4 13-5.8"/>
<path d="M429.6 564.5l25.1-8.6 27.1-9.7 31.6-11.7 67.5-25.8 30-11.3 32-11.5 29.1-10"/>
<path d="M429.6 518.6l242.4 3.2"/>
<path d="M429.6 558.7l29.1-8.8 32-10.1 129.5-42.2 26.7-8.4 25.1-7.5"/>
<path d="M429.6 501l242.4 38.4"/>
<path d="M429.6 459.8l15 6.3 15 6.8 15.7 7.5 16.2 8.1 29.6 15.5 66.3 36.1 16.6 8.7 15 7.6 13.7 6.8 13.4 6.2 12.9 5.8 13 5.4"/>
<path d="M429.6 407.9l9.3 2.3 8.9 2.7 8.5 3.2 7.7 3.6 7.7 4.2 7.3 4.7 6.9 5.3 6.8 5.9 7.3 7.2 6.9 7.7 6.9 8.5 7.3 9.9 6.8 10.1 7.3 11.3 27.5 45.5 12.2 19 6.5 9.4 6.4 8.8 6.5 8 6.1 6.9 7.7 7.7 8 7.1 8.1 6 8.5 5.2 8.9 4.6 9.3 3.8 10.2 3.3 10.9 2.7"/>
<path d="M429.6 414.2l9.7 3.3 9.3 3.8 8.9 4.3 8.5 4.8 8.5 5.6 8.1 6 8.1 6.8 7.7 7.1 6.5 6.6 6.4 7.1 6.9 7.9 6.9 8.5 12.5 16.3 30 40.6 7.7 10 7.3 9 7.7 8.9 7.2 8 7.3 7.3 6.9 6.3 6.9 5.7 6.9 5.2 7.2 4.9 7.3 4.4 7.7 4 7.7 3.5 8.1 3.2 8.5 2.9"/>
<path d="M429.6 418.5l9.3 3.5 8.9 4 8.5 4.3 8.5 4.9 8.1 5.3 8.1 5.9 8.1 6.6 8.1 7.1 6.5 6.2 6.4 6.6 6.9 7.3 7.3 8.2 12.9 15.2 30.8 37.5 15.4 17.8 7.7 8.2 7.7 7.8 7.2 6.9 7.3 6.3 6.9 5.6 7.3 5.3 6.9 4.6 7.2 4.5 7.3 3.9 7.3 3.5 7.7 3.4 8.1 3"/>
<path d="M429.6 457.1l15 6.5 15.4 7.1 15.7 7.9 16.2 8.4 29.6 16.3 65.9 37.9 16.2 8.9 15 8 14.1 7.2 13.4 6.5 12.9 5.9 13 5.6"/>
<path d="M429.6 448.9l15.4 7.1 15.4 7.8 15.7 8.7 16.6 9.7 13.8 8.6 15.4 10 48.1 32.4 17 11.2 16.2 10.3 15 9 13.7 7.9 13.8 7.3 13.3 6.7 13 5.9"/>
<path d="M429.6 522.5l242.4-4.6"/>
<path d="M429.6 599l13.8-6.4 13.3-7 13.8-7.9 13.7-8.7 15-10.1 16.2-11.6 16.6-12.5 47.3-36.6 15.4-11.3 13.8-9.6 16.1-10.6 15.8-9.4 15.8-8.4 15.8-7.5"/>
<path d="M429.6 402.1l13.8 1.5 6.4 1.1 5.7 1.1 5.3 1.3 5.2 1.6 4.9 1.7 4.4 1.9 4.5 2.2 4 2.3 4.1 2.6 4 3 4.1 3.4 3.6 3.4 3.7 3.8 3.6 4.2 5.7 7.5 5.6 8.5 5.7 9.6 6.1 11.5 4.8 9.9 5.7 12.4 17.4 39.9 6.5 14.5 6.4 13.5 6.1 11.6 6.5 11.1 6.4 9.7 6.5 8.2 6.5 6.9 6.5 5.7 6.8 4.9 7.3 4.2 8.1 3.5 8.5 2.8 9.3 2.2 10.6 1.7 12.1 1.3"/>
<path d="M429.6 503.6l242.4 33.2"/>
<path d="M429.6 412.8l8.9 2.9 8.1 3 7.7 3.5 7.7 3.9 7.3 4.3 7.2 4.9 6.9 5.2 6.9 5.8 6.9 6.4 7.3 7.5 7.3 8.1 7.6 9.2 7.3 9.3 7.7 10.4 29.1 41 12.6 17 6.9 8.7 6.8 8.2 6.5 7.3 6.5 6.7 7.7 7.3 8.1 6.8 8.1 6 8.5 5.5 8.5 4.7 8.9 4.2 9.3 3.7 10.1 3.3"/>
<path d="M429.6 489.5l60.7 15.1 129.9 33.5 51.8 12.8"/>
<path d="M429.6 468.5l25.5 9.9 27.1 11.2 31.6 13.8 67.1 30.5 29.6 13.1 32 13.4 29.5 11.5"/>
<path d="M429.6 474.2l29.5 10.4 32 12 29.6 11.6 67.5 26.9 31.6 12.2 27.1 10.1 25.1 8.8"/>
<path d="M429.6 591.1l15.4-7.1 15.4-7.8 15.7-8.6 16.2-9.5 13.8-8.5 15.4-9.9 48.5-32.4 17-11.1 16.2-10.2 15-9 13.7-7.8 13.8-7.3 13.3-6.6 13-6"/>
<path d="M429.6 467.7l14.6 5.6 14.9 6 32 13.6 29.6 13.4 67.1 31 31.6 14.1 27.1 11.4 25.5 9.9"/>
<path d="M429.6 435.7l14.2 6.7 13.7 7.3 13.8 8.3 13.7 9.2 15 10.9 15.8 12.4 16.6 13.9 32.8 28.2 13.7 11.6 15 12.2 13.8 10.5 16.1 11.3 8.1 5.2 8.1 4.9 7.7 4.4 8.1 4.3 8.1 4 8.1 3.7"/>
<path d="M429.6 417.6l9.3 3.5 9.3 4 8.5 4.3 8.5 5 8.1 5.3 8.1 5.9 8.1 6.6 8.1 7.2 6.5 6.3 6.4 6.7 6.9 7.5 7.3 8.3 12.9 15.6 30.4 37.8 15.4 18 7.7 8.4 7.2 7.5 7.3 7 7.3 6.4 6.9 5.6 7.3 5.4 6.9 4.6 7.2 4.4 7.3 4 7.7 3.7 7.7 3.2 8.1 3"/>
<path d="M429.6 430.1l7.3 3.2 6.9 3.3 7.3 3.8 6.8 3.8 13.8 8.6 14.2 9.9 14.5 11.4 15.8 13.6 16.6 15.3 32 30.6 13.7 12.9 14.6 13 13.7 11.3 8.1 6.3 8.1 5.8 8.1 5.5 8.1 5.1 8.1 4.7 8.1 4.4 8.1 3.9 8.5 3.8"/>
<path d="M429.6 412.8l10.1 3.3 9.3 3.7 8.9 4.2 8.5 4.7 8.5 5.5 8.1 6 8.1 6.8 7.7 7.3 6.5 6.7 6.5 7.3 6.8 8.2 6.9 8.7 12.6 17 29.1 41 7.7 10.4 7.3 9.3 7.6 9.2 7.3 8.1 7.3 7.5 6.9 6.4 6.9 5.8 6.9 5.2 7.2 4.9 7.3 4.3 7.7 3.9 7.7 3.5 8.1 3 8.9 2.9"/>
<path d="M429.6 440.8l15.8 7.5 15.8 8.4 15.8 9.5 16.5 10.9 13.8 9.7 15 11.2 47.3 36.9 16.6 12.7 16.2 11.7 15 10.2 13.7 8.7 13.8 8 13.3 7 13.8 6.4"/>
<path d="M429.6 462l13 5.4 12.9 5.6 27.1 12.5 31.6 15.7 66.3 34.5 29.6 14.9 16.6 8 15.3 7 15 6.6 15 6.2"/>
<path d="M429.6 620.6l8.9-3.5 8.9-4 8.5-4.4 8.5-4.9 8.1-5.3 8.1-5.9 8.1-6.4 8.1-7.1 6.5-6 6.8-6.8 14.2-15.2 12.9-14.8 30.8-36.4 15.8-17.7 7.7-8.1 7.7-7.5 7.2-6.8 7.3-6.2 6.9-5.5 6.9-5.1 6.9-4.6 7.2-4.4 7.3-4 7.7-3.8 7.7-3.4 7.7-3"/>
<path d="M429.6 513.3l242.4 13.8"/>
<path d="M429.6 405.2l11.7 2.2 10.6 2.9 9.7 3.4 4.8 2.2 4.5 2.2 4.4 2.5 4.5 2.7 8.1 6 7.7 6.8 7.7 8 6 7.3 6.1 8.2 6.1 8.9 6.4 10.4 11.4 19.8 26.3 48.9 7.3 12.6 6.4 10.5 6.9 10.1 6.9 9.2 6.9 8.1 6.8 7 6.9 6 6.9 5.1 7.3 4.6 7.7 3.9 8.1 3.4 8.5 2.8 9.3 2.3 10.5 2"/>
<path d="M429.6 452.5l13 5.8 13.3 6.5 13.4 6.8 13.7 7.5 15 8.6 16.6 9.9 65.5 41 15.4 9.3 13.8 8.1 16.6 9.3 15.7 8.3 15.4 7.5 15 6.8"/>
<path d="M429.6 418.8l9.3 3.6 8.9 3.9 8.5 4.4 8.5 4.9 8.1 5.3 8.1 5.9 8.1 6.5 8.1 7.2 6.5 6.1 6.4 6.6 6.9 7.3 7.3 8.1 12.9 15.1 30.8 37.3 15.4 17.6 7.7 8.2 7.7 7.8 7.2 6.8 7.3 6.4 6.9 5.5 7.3 5.3 6.9 4.7 7.2 4.4 7.3 4 7.3 3.5 7.7 3.3 8.1 3.1"/>
<path d="M429.6 480.7l29.1 9 32 10.3 97.5 32.8 32 10.6 26.7 8.6 25.1 7.7"/>
<path d="M429.6 528.1l242.4-15.8"/>
<path d="M429.6 402.1l13.8 1.6 11.7 2.1 5.3 1.3 5.2 1.5 4.9 1.7 4.4 1.9 4.5 2.2 4 2.2 4.1 2.6 4 3 4.1 3.3 3.6 3.4 3.6 3.8 3.7 4.2 6.1 7.9 5.6 8.5 5.7 9.6 6.1 11.5 4.8 9.9 5.7 12.3 17.4 39.9 6.5 14.4 6.4 13.5 6.1 11.6 6.5 11.1 6.4 9.6 6.5 8.3 6.5 6.9 6.5 5.7 6.8 4.9 7.3 4.2 8.1 3.5 8.5 2.8 9.3 2.2 10.6 1.7 12.1 1.4"/>
<path d="M429.6 437.5l8.1 3.7 7.7 3.8 8.1 4.3 7.7 4.3 15.8 9.7 16.5 11.4 13.8 10.2 15 11.7 47.3 39.3 16.6 13.3 15.8 12.1 15 10.7 13.7 9 13.8 8.1 13.7 7.3 13.8 6.5"/>
<path d="M429.6 405.8l11.7 2.4 10.6 3 9.7 3.6 8.9 4.3 8.5 5.1 8.1 5.9 7.7 6.8 7.6 7.9 6.1 7.1 6.1 8 6.5 9.3 6.4 10.1 11.8 20 26.7 48.2 7.3 12.3 6.4 10.2 6.9 10 6.9 9 6.9 8 6.8 6.9 6.9 6.1 6.9 5.1 7.3 4.6 7.7 4.1 8.1 3.4 8.5 2.9 9.3 2.5 10.1 2"/>
<path d="M429.6 428.8l8.5 3.8 8.5 4.1 8.1 4.3 8.1 4.8 8.1 5.1 8.1 5.6 8.1 5.9 8.1 6.4 13.3 11.2 14.6 13.3 13.7 13.2 32 31.4 16.2 15.2 15.8 13.9 14.5 11.6 7.3 5.3 6.9 4.8 6.9 4.4 6.9 4.2 6.8 3.8 7.3 3.8 7.3 3.5 7.3 3.2"/>
<path d="M429.6 488.8l60.7 15.5 129.9 34.2 51.8 13.1"/>
<path d="M429.6 628l10.1-3.2 9.3-3.6 8.9-4.2 8.9-4.9 8.5-5.5 8.1-6.1 8.1-6.8 7.7-7.4 6.5-6.8 6.5-7.3 6.4-7.8 6.9-8.8 12.6-17.2 29.1-41.5 7.7-10.5 7.3-9.4 7.6-9.3 7.3-8.2 7.3-7.4 6.9-6.5 6.9-5.7 6.9-5.2 7.2-4.9 7.3-4.3 7.7-3.9 7.7-3.4 8.1-3 8.9-2.8"/>
<path d="M429.6 455l15 6.6 15.4 7.4 15.7 8 16.2 8.7 29.6 17 65.9 39.3 16.2 9.3 15 8.2 13.7 7.3 13.4 6.6 13.3 6.3 13 5.7"/>
<path d="M429.6 603.6l8.1-3.7 8.1-4 8.1-4.3 7.7-4.3 15.8-9.8 16.5-11.5 13.8-10.3 15-11.9 46.5-39.1 16.6-13.6 15.8-12.2 15-10.8 14.1-9.3 13.8-8.2 13.7-7.4 13.8-6.4"/>
<path d="M429.6 627.5l10.1-3.2 9.3-3.7 8.9-4.2 8.5-4.7 8.5-5.5 8.1-6.1 8.1-6.8 7.7-7.3 6.5-6.7 6.5-7.2 6.8-8.3 6.9-8.7 12.6-16.9 29.1-41 7.7-10.3 7.3-9.3 7.6-9.3 7.3-8.1 7.3-7.4 6.9-6.4 6.9-5.8 6.9-5.2 7.2-4.9 7.3-4.3 7.7-4 7.7-3.4 8.1-3.1 8.9-2.8"/>
<path d="M429.6 409l9.3 2.4 8.5 2.8 8.5 3.3 7.7 3.7 7.3 4.1 7.3 4.8 6.8 5.2 6.9 5.9 7.3 7.1 6.9 7.5 6.9 8.3 7.2 9.5 6.9 9.8 7.7 11.5 28.3 45 12.2 18.3 6.9 9.7 6.4 8.4 6.5 7.8 6.1 6.7 7.7 7.6 8.1 7 8.1 6 8.4 5.4 9 4.6 9.3 3.9 9.7 3.3 10.5 2.8"/>
<path d="M429.6 421.3l7.7 3.1 7.7 3.4 7.3 3.7 7.3 4 7.2 4.4 6.9 4.6 6.9 5 6.9 5.5 7.3 6.1 7.2 6.6 7.7 7.4 7.7 7.8 15.8 17.2 31.2 35.7 13.3 14.8 14.2 14.7 6.9 6.6 6.4 6 8.1 6.9 8.1 6.4 8.1 5.8 8.1 5.2 8.1 4.8 8.5 4.4 8.9 4.1 8.9 3.6"/>
<path d="M429.6 424.3l8.9 3.7 8.5 4 8.5 4.6 8.1 4.7 8.1 5.3 8.1 5.7 8.1 6.2 8.1 6.7 13.3 12 14.6 14.4 13.3 14 31.2 33.5 16.2 16.6 7.7 7.5 7.7 7 7.2 6.4 7.3 5.9 6.9 5.3 6.9 4.9 6.9 4.6 7.3 4.5 7.2 4 7.3 3.8 7.3 3.3 7.7 3.2"/>
<path d="M429.6 458.3l15 6.5 15.4 7 15.7 7.7 16.2 8.3 29.6 15.9 65.9 37 16.6 8.9 15 7.8 13.7 6.9 13.4 6.4 12.9 5.8 13 5.6"/>
<path d="M429.6 465.3l15 6 15 6.2 15.3 6.7 16.6 7.6 29.6 13.9 66.7 32.5 31.6 14.7 27.1 11.9 25.5 10.3"/>
<path d="M429.6 434.2l8.1 3.7 8.1 3.9 8.1 4.4 8.1 4.6 8.1 5 8.1 5.3 8.1 5.6 8.1 5.9 13.7 10.8 14.6 12.1 13.7 12 32.8 29 16.6 14.2 15.8 12.7 15 11.2 13.7 9.2 13.8 8.4 13.7 7.4 14.2 6.6"/>
<path d="M429.6 450.5l15.4 7 15.4 7.7 15.7 8.5 16.2 9.4 13.8 8.3 15.4 9.7 65.5 42.6 16.2 10 15 8.8 13.7 7.7 13.8 7.3 13.3 6.5 13 5.9"/>
<path d="M429.6 456.8l15 6.5 15.4 7.2 15.7 7.8 16.2 8.5 29.6 16.4 65.9 38.1 16.2 9 15 8 13.7 7 13.4 6.6 13.3 6.1 13 5.6"/>
<path d="M429.6 420.8l8.9 3.5 8.9 4.1 8.5 4.4 8.5 5 8.1 5.3 8.1 5.8 8.1 6.4 8.1 7 6.5 6 6.8 6.7 14.2 14.9 12.9 14.6 30.8 35.6 15.8 17.4 7.7 7.9 7.7 7.5 7.2 6.6 7.3 6.2 6.9 5.5 7.3 5.3 6.9 4.6 7.2 4.4 7.3 4.1 7.3 3.6 7.7 3.4 7.7 3"/>
<path d="M429.6 631.9l9.3-2.4 8.5-2.7 8.5-3.3 7.7-3.6 7.7-4.3 7.3-4.8 6.9-5.2 6.8-5.9 7.3-7.2 6.9-7.6 6.9-8.3 7.3-9.8 6.8-9.8 7.7-11.7 27.5-44.4 12.2-18.7 6.9-9.8 6.4-8.6 6.5-7.9 6.1-6.7 7.7-7.7 8.1-7 8-6 8.5-5.4 8.9-4.6 9.4-3.9 10.1-3.3 10.5-2.8"/>
<path d="M429.6 416.3l8.1 2.8 8.1 3.4 7.7 3.6 7.3 3.9 7.3 4.4 6.8 4.6 7.3 5.4 6.9 5.7 7.3 6.5 7.3 7.1 7.2 7.7 7.7 8.6 7.3 8.6 8.1 10 30 38.6 12.9 16 7.3 8.6 6.9 7.7 6.4 6.8 6.5 6.3 8.1 7.4 8.1 6.6 8.1 5.9 8.1 5.3 8.5 4.8 8.5 4.2 8.9 3.8 9.7 3.5"/>
<path d="M429.6 524.7l242.4-9"/>
<path d="M429.6 417.4l9.3 3.4 9.3 4.1 8.5 4.3 8.5 4.9 8.1 5.3 8.1 5.9 8.1 6.6 8.1 7.3 6.5 6.3 6.4 6.6 6.9 7.6 7.3 8.3 12.9 15.7 30.4 38 8.1 9.7 7.3 8.4 7.7 8.5 7.2 7.5 7.3 6.9 7.3 6.5 6.9 5.6 7.3 5.4 6.9 4.6 7.2 4.4 7.3 3.9 7.7 3.7 7.7 3.3 8.1 2.9"/>
<path d="M429.6 410.2l8.9 2.5 8.5 2.9 8.1 3.3 7.7 3.8 7.3 4.1 7.3 4.9 7.2 5.5 6.9 5.9 7.3 7 6.9 7.3 7.3 8.6 7.2 9.3 6.9 9.5 7.7 11.1 28.3 43.2 12.2 17.7 6.9 9.3 6.4 8.3 6.5 7.6 6.5 7.1 7.7 7.5 8.1 7 8.1 6 8.5 5.4 8.5 4.6 9.3 4.1 9.7 3.5 10.5 3"/>
<path d="M429.6 547.2l60.7-13.4 130.3-29.3 51.4-11.3"/>
<path d="M429.6 419.5l8.9 3.4 8.9 4 8.5 4.3 8.5 5 8.1 5.2 8.1 5.9 8.1 6.5 8.1 7.1 6.5 6 6.8 6.9 14.2 15.2 12.9 15 30.8 36.7 15.8 17.8 7.7 8.1 7.3 7.3 7.2 6.7 7.3 6.4 6.9 5.5 7.3 5.3 6.9 4.6 7.2 4.5 7.3 4 7.3 3.6 7.7 3.3 8.1 3.1"/>
<path d="M429.6 420l7.7 2.9 7.7 3.4 7.7 3.8 7.3 4 7.2 4.5 6.9 4.6 6.9 5 6.9 5.5 7.3 6.3 7.2 6.7 7.7 7.6 7.7 8 15.8 17.6 30.8 36.3 12.9 14.8 14.2 15.1 6.8 6.8 6.5 6.1 8.1 7 8.1 6.5 8.1 5.8 8.1 5.3 8.5 5 8.5 4.3 8.9 4.1 8.9 3.4"/>
<path d="M429.6 535.3l242.4-30.2"/>
<path d="M429.6 517.6l242.4 5.2"/>
<path d="M429.6 457.1l15 6.5 15.4 7.2 15.7 7.8 16.2 8.4 29.6 16.3 65.9 37.9 16.6 9.1 15 8 13.7 7 13.4 6.5 12.9 5.9 13 5.6"/>
<path d="M429.6 628.8l8.9-2.7 8.1-2.9 8.1-3.5 7.7-3.8 7.3-4.3 7.3-4.8 6.8-5.2 6.9-5.9 6.9-6.5 7.3-7.5 7.3-8.4 7.2-8.9 7.3-9.6 7.7-10.7 29.1-42.6 12.6-17.5 6.9-9 6.4-7.9 6.5-7.5 6.5-6.8 7.7-7.4 8.1-6.9 8.1-6 8.5-5.4 8.9-4.9 8.9-4 9.3-3.5 10.1-3.1"/>
<path d="M429.6 510.8l242.4 18.8"/>
<path d="M429.6 452.8l15 6.7 15.4 7.5 15.7 8.3 16.6 9.2 13.8 8.1 15.4 9.3 65.5 40.8 16.6 9.9 15 8.5 13.7 7.5 13.4 6.8 13.3 6.4 13 5.8"/>
<path d="M429.6 511.5l242.4 17.4"/>
<path d="M429.6 609l8.5-3.9 8.1-3.9 8.1-4.4 8.1-4.7 8.1-5 8.1-5.5 8.1-5.8 8.1-6.1 13.7-11.2 14.6-12.7 13.7-12.5 32-29.9 16.6-14.9 15.8-13.3 14.9-11.5 13.8-9.6 13.8-8.5 6.8-3.8 7.3-3.8 14.2-6.6"/>
<path d="M429.6 506l242.4 28.4"/>
<path d="M429.6 406.3l11.3 2.5 10.6 3 9.7 3.8 8.9 4.3 8.5 5.2 8.1 6 7.7 6.7 7.6 7.9 6.1 7 6.1 7.8 6.5 9.2 6.4 9.9 11.8 19.5 27.1 47.8 7.3 12 6.8 10.6 6.9 9.8 6.9 8.9 6.9 7.9 6.9 6.9 6.8 6 6.9 5.2 7.3 4.7 7.7 4.1 8.1 3.5 8.5 3 9.3 2.5 9.7 2.1"/>
<path d="M429.6 408.8l9.3 2.4 8.5 2.7 8.5 3.4 7.7 3.6 7.7 4.3 7.3 4.8 6.9 5.2 6.8 6 7.3 7.1 6.9 7.6 6.9 8.3 7.3 9.7 6.8 9.8 7.7 11.6 27.5 44.1 12.2 18.5 6.9 9.7 6.4 8.6 6.5 7.8 6.1 6.8 7.7 7.7 8.1 7 8 6 8.5 5.4 8.9 4.6 9.4 4 10.1 3.4 10.5 2.7"/>
<path d="M429.6 479.1l29.1 9.3 32 10.8 97.5 34.2 32 11 26.7 8.9 25.1 8"/>
<path d="M429.6 549.7l51.8-12.4 129.9-32 60.7-14.6"/>
<path d="M429.6 469.9l29.5 11.2 32 13.1 29.6 12.7 67.1 29.6 31.6 13.4 27.1 11 25.5 9.6"/>
<path d="M429.6 467.3l14.6 5.6 14.9 6.1 32 13.7 29.6 13.4 67.1 31.3 31.6 14.2 27.1 11.5 25.5 10"/>
<path d="M429.6 536.8l242.4-33.2"/>
<path d="M429.6 500.8l242.4 38.8"/>
<path d="M429.6 428.2l8.5 3.7 8.5 4.1 8.1 4.4 8.1 4.7 8.1 5.1 8.1 5.6 8.1 6 8.1 6.4 13.3 11.4 14.6 13.3 13.7 13.4 32 31.8 16.2 15.4 15.8 14 7.3 6 7.2 5.7 7.3 5.4 6.9 4.7 6.9 4.5 6.9 4.2 6.8 3.8 7.3 3.8 7.3 3.5 7.3 3.1"/>
<path d="M429.6 417.1l8.1 2.9 7.7 3.3 7.7 3.6 7.3 3.9 7.2 4.4 6.9 4.6 7.3 5.5 6.9 5.6 7.3 6.4 7.3 7 7.2 7.5 7.7 8.5 7.3 8.5 8.1 9.8 30.4 38.2 12.9 15.8 7.3 8.4 6.9 7.6 6.4 6.7 6.5 6.3 8.1 7.3 8.1 6.6 8.1 5.9 8.1 5.3 8.5 4.9 8.5 4.3 9.3 4 9.3 3.4"/>
<path d="M429.6 632.6l10.9-2.6 10.2-3.3 9.3-3.8 8.9-4.5 8.5-5.3 8.1-5.9 8-7.1 7.7-7.7 6.1-6.9 6.5-8.1 6.4-8.7 6.5-9.5 12.2-19.1 27.5-45.7 7.3-11.4 6.8-10.1 7.3-9.9 6.9-8.6 6.9-7.7 7.3-7.2 6.8-5.9 6.9-5.2 7.3-4.8 7.7-4.2 7.7-3.5 8.5-3.2 8.9-2.7 9.3-2.2"/>
<path d="M429.6 415.9l9.7 3.5 8.9 3.8 8.9 4.4 8.5 4.9 8.1 5.2 8.1 6 8.1 6.7 8.1 7.4 6.5 6.4 6.4 6.8 6.9 7.8 7.3 8.6 12.5 15.7 30 38.9 8.1 10 7.3 8.7 7.7 8.7 7.2 7.6 7.3 7.2 7.3 6.5 6.9 5.7 7.3 5.4 6.8 4.6 7.3 4.4 7.3 3.9 7.7 3.6 8.1 3.3 8.1 2.9"/>
<path d="M429.6 457.6l13 5.6 12.9 5.9 13.4 6.4 13.7 7 15 7.9 16.6 9 65.9 37.5 29.6 16.2 16.2 8.3 15.7 7.8 15.4 7.1 15 6.5"/>
<path d="M429.6 411.9l8.9 2.8 8.1 2.9 8.1 3.5 7.7 4 7.3 4.2 7.3 4.9 6.8 5.2 6.9 5.9 6.9 6.4 7.3 7.6 7.3 8.3 7.2 8.9 7.3 9.5 7.7 10.6 29.1 42.1 12.6 17.3 6.9 8.9 6.4 7.9 6.5 7.4 6.5 6.9 7.7 7.3 8.1 6.9 8.1 6 8.5 5.5 8.9 4.9 8.9 4.1 9.3 3.5 10.1 3.2"/>
<path d="M429.6 470.5l29.5 11.1 32 12.9 29.6 12.6 67.5 29.3 31.6 13.3 27.1 10.8 25.1 9.4"/>
<path d="M429.6 437.4l8.1 3.7 8.1 4 8.1 4.3 7.7 4.3 15.8 9.8 16.5 11.3 13.8 10.3 15 11.8 46.5 38.7 17 13.7 15.8 12.1 15 10.7 13.7 9 13.8 8.1 13.7 7.4 13.8 6.4"/>
<path d="M429.6 405.1l11.7 2.3 11 2.9 9.7 3.5 4.8 2.2 4.5 2.2 8.5 5 8.1 6 7.7 6.8 7.7 8 6 7.3 6.1 8.1 6.1 9 6.4 10.4 11.4 19.8 26.3 49 7.3 12.7 6.4 10.5 6.9 10.2 6.9 9.1 6.9 8.1 6.8 7 6.9 6 6.9 5.2 7.3 4.5 7.7 3.9 8.1 3.4 8.5 2.7 9.3 2.4 10.5 2"/>
<path d="M429.6 405.6l11.7 2.4 10.6 2.9 9.7 3.6 8.9 4.2 4.4 2.6 4.5 2.8 8.1 5.9 7.7 6.8 7.6 8 6.1 7.2 6.1 8 6.5 9.4 6.4 10.2 11.4 19.5 26.7 48.6 7.3 12.4 6.4 10.3 6.9 10 6.9 9 6.9 8 6.8 6.9 6.9 6.1 6.9 5.1 7.3 4.6 7.7 4 8.1 3.4 8.5 2.9 9.3 2.4 10.1 2"/>
<path d="M429.6 453.5l15 6.7 15.4 7.5 15.7 8.2 16.6 9.1 13.8 8 15.4 9.2 65.5 40.2 16.6 9.7 15 8.5 13.7 7.4 13.4 6.7 13.3 6.4 13 5.8"/>
<path d="M429.6 618.6l8.9-3.6 8.9-4.1 8.5-4.4 8.1-4.8 8.1-5.3 8.1-5.8 8.1-6.3 8.1-6.9 6.4-5.9 6.9-6.6 14.2-14.6 13.3-14.7 31.2-35.3 15.8-17 7.7-7.8 7.7-7.4 7.2-6.5 7.3-6.1 6.9-5.4 6.9-5 6.9-4.6 7.2-4.5 7.3-4 7.3-3.7 7.7-3.4 7.7-3.1"/>
<path d="M429.6 445.2l15.4 7.2 15.8 8.2 15.7 9 16.2 10.1 13.8 9.1 15.4 10.6 47.7 34.4 17 12 16.2 11 15 9.5 13.7 8.3 13.8 7.6 13.3 6.8 13.4 6.2"/>
<path d="M429.6 571l29.5-11.3 32-13.2 29.6-12.9 67.1-29.9 31.6-13.5 27.1-11.1 25.5-9.7"/>
<path d="M429.6 415.3l9.7 3.4 8.9 3.7 8.9 4.4 8.5 4.8 8.1 5.3 8.1 5.9 8.1 6.7 8.1 7.4 6.5 6.5 6.4 6.9 6.9 7.8 7.3 8.8 12.5 15.9 30 39.5 8.1 10.2 7.3 8.8 7.7 8.8 7.2 7.7 7.3 7.2 6.9 6.2 6.9 5.7 6.9 5.2 7.2 4.9 7.3 4.4 7.7 4.1 7.7 3.6 8.1 3.2 8.1 2.8"/>
<path d="M429.6 451.8l15.4 6.9 15.4 7.6 15.7 8.4 16.2 9.2 13.8 8.2 15.4 9.4 65.5 41.6 16.2 9.9 15 8.6 14.1 7.8 13.4 6.9 13.3 6.5 13 5.8"/>
<path d="M429.6 481.1l29.1 8.9 32 10.2 129.5 43 26.7 8.5 25.1 7.6"/>
<path d="M429.6 415.5l9.7 3.5 8.9 3.7 8.9 4.4 8.5 4.8 8.1 5.3 8.1 6 8.1 6.6 8.1 7.5 6.5 6.4 6.4 6.9 6.9 7.8 7.3 8.7 12.5 15.8 30 39.3 8.1 10.1 7.3 8.8 7.7 8.7 7.2 7.7 7.3 7.2 7.3 6.6 6.9 5.6 6.9 5.2 7.2 4.9 7.3 4.3 7.3 3.9 7.7 3.6 8.1 3.2 8.1 2.9"/>
<path d="M429.6 453.4l15 6.7 15.4 7.4 15.7 8.2 16.6 9.2 13.8 8 15.4 9.2 65.5 40.4 16.6 9.7 15 8.5 13.7 7.4 13.4 6.8 13.3 6.4 13 5.7"/>
<path d="M429.6 423.5l7.7 3.1 7.3 3.4 7.3 3.7 7.2 4 7.3 4.5 6.9 4.5 6.9 5 6.9 5.3 7.3 6 7.2 6.4 7.7 7.2 7.7 7.5 16.2 16.9 31.2 34.1 13.3 14.2 14.6 14.5 13.3 12.2 8.1 6.8 8.1 6.2 8.1 5.8 8.1 5.2 8.1 4.8 8.5 4.4 8.5 4 8.9 3.7"/>
<path d="M429.6 420.3l8.9 3.5 8.9 4 8.5 4.4 8.5 5 8.1 5.3 8.1 5.8 8.1 6.5 8.1 7 6.5 6 6.8 6.8 14.2 15 12.9 14.7 30.8 36 15.8 17.5 7.7 8 7.7 7.6 7.2 6.7 7.3 6.2 6.9 5.5 7.3 5.3 6.9 4.6 7.2 4.4 7.3 4 7.3 3.6 7.7 3.4 7.7 3"/>
<path d="M429.6 444.6l13.4 6.2 13.3 6.9 13.8 7.6 13.7 8.3 15 9.7 16.2 11 17 12.2 47.7 34.7 15 10.5 13.8 9.1 16.6 10.4 15.7 9.1 15.8 8.3 15.4 7.2"/>
<path d="M429.6 421.8l8.9 3.6 8.9 4.1 8.5 4.4 8.1 4.8 8.1 5.2 8.1 5.8 8.1 6.4 8.1 6.9 6.4 5.9 6.9 6.6 14.2 14.6 13.3 14.7 31.2 35.3 15.8 17 7.7 7.8 7.7 7.4 7.2 6.5 7.3 6.2 6.9 5.4 6.9 4.9 6.9 4.6 7.2 4.5 7.3 4 7.3 3.7 7.7 3.5 7.7 3"/>
<path d="M429.6 421.8l8.9 3.6 8.9 4.1 8.5 4.5 8.1 4.7 8.1 5.3 8.1 5.8 8.1 6.3 8.1 6.9 6.4 5.9 6.9 6.6 14.2 14.6 13.3 14.7 31.2 35.3 15.8 17 7.7 7.8 7.7 7.3 7.2 6.6 7.3 6.1 6.9 5.4 6.9 5 6.9 4.6 7.2 4.4 7.3 4.1 7.3 3.7 7.7 3.4 7.7 3.1"/>
<path d="M429.6 596.7l15.4-7.2 15.8-8.3 15.7-9.2 16.6-10.5 13.8-9.3 15-10.6 47.7-35.4 17-12.3 16.2-11.2 15-9.8 13.7-8.4 13.8-7.7 13.3-6.9 13.4-6.2"/>
<path d="M429.6 494.9l51.4 10.6 130.3 27.5 60.7 12.5"/>
<path d="M429.6 479.9l29.1 9.2 32 10.5 97.5 33.5 32 10.8 26.7 8.7 25.1 7.9"/>
<path d="M429.6 505.7l242.4 29"/>
<path d="M429.6 609l14.2-6.6 7.3-3.8 6.8-3.8 13.8-8.5 13.8-9.6 14.9-11.5 15.8-13.3 16.6-14.9 32-29.9 13.7-12.5 14.6-12.7 13.7-11.2 8.1-6.1 8.1-5.8 8.1-5.5 8.1-5 8.1-4.7 8.1-4.4 8.1-4 8.5-3.8"/>
<path d="M429.6 525.7l242.4-11"/>
<path d="M429.6 443.6l13.4 6.2 13.3 6.9 13.8 7.7 13.7 8.4 15 9.8 16.2 11.3 17 12.3 47.7 35.4 15 10.6 13.8 9.4 16.6 10.5 15.7 9.2 15.8 8.3 15.4 7.2"/>
<path d="M429.6 453.5l15 6.7 15.4 7.5 15.7 8.2 16.6 9.1 13.8 8 15.4 9.2 65.5 40.2 16.6 9.7 15 8.5 13.7 7.4 13.4 6.7 13.3 6.4 13 5.8"/>
<path d="M429.6 406.3l11.3 2.5 10.6 3.1 9.7 3.7 8.9 4.4 8.5 5.2 8.1 5.9 7.7 6.8 7.6 7.8 6.1 7.1 6.1 7.8 6.5 9.1 6.4 9.9 11.8 19.5 27.1 47.7 7.3 12.1 6.8 10.6 6.9 9.8 6.9 8.8 6.9 7.9 6.9 6.9 6.8 6 6.9 5.2 7.3 4.7 7.7 4.1 8.1 3.5 8.5 3 9.3 2.6 9.7 2.1"/>
<path d="M429.6 529.9l242.4-19.4"/>
<path d="M429.6 511.5l242.4 17.4"/>
<path d="M429.6 526.3l242.4-12.2"/>
<path d="M429.6 499.3l242.4 41.8"/>
<path d="M429.6 529.6l242.4-18.8"/>
<path d="M429.6 620.3l7.7-3 7.7-3.3 7.7-3.8 7.3-4.1 7.2-4.4 6.9-4.6 6.9-5.1 6.9-5.4 7.3-6.3 7.2-6.7 7.7-7.6 7.7-8 15.8-17.6 30.8-36.2 12.9-14.8 14.2-15 6.8-6.8 6.5-6.1 8.1-7 8.1-6.4 8.1-5.9 8.1-5.3 8.5-4.9 8.5-4.4 8.9-4 8.9-3.5"/>
<path d="M429.6 443.2l15.8 7.5 15.4 8.1 15.7 9.2 16.6 10.6 13.8 9.4 15 10.7 47.7 35.6 17 12.4 15.8 11 15 9.9 13.7 8.4 13.8 7.8 13.3 7 13.8 6.4"/>
<path d="M429.6 415.7l9.7 3.5 8.9 3.8 8.9 4.3 8.5 4.9 8.1 5.3 8.1 5.9 8.1 6.7 8.1 7.4 6.5 6.5 6.4 6.8 6.9 7.8 7.3 8.6 12.5 15.8 30 39.1 8.1 10.1 7.3 8.7 7.7 8.7 7.2 7.7 7.3 7.1 7.3 6.6 6.9 5.6 6.9 5.2 7.2 4.9 7.3 4.4 7.3 3.8 7.7 3.6 8.1 3.3 8.1 2.9"/>
<path d="M429.6 412.6l10.1 3.3 9.3 3.6 8.9 4.2 8.5 4.7 8.5 5.5 8.1 6 8.1 6.8 7.7 7.3 6.5 6.7 6.5 7.3 6.8 8.3 6.9 8.8 12.6 17 29.1 41.3 7.7 10.3 7.3 9.4 7.6 9.3 7.3 8.1 7.3 7.5 6.9 6.4 6.9 5.8 6.9 5.2 7.2 4.9 7.3 4.3 7.7 3.9 7.7 3.4 8.1 3 8.9 2.9"/>
<path d="M429.6 576.2l25.5-10.5 27.1-12.1 31.6-15 66.7-33.2 29.6-14.3 16.6-7.7 15.3-6.8 15-6.4 15-6"/>
<path d="M429.6 487l60.7 16.3 129.9 36.3 51.8 13.8"/>
<path d="M429.6 403.6l12.6 1.9 11.3 2.6 5.2 1.5 4.9 1.7 4.9 2 4.4 2 4.5 2.4 4 2.4 4.1 2.8 4 3 4 3.4 3.7 3.4 4 4.2 3.7 4.1 6 7.6 5.7 8 6.1 9.6 6 10.4 5.3 9.8 5.7 11 25.5 51.9 6.8 13 6.1 10.6 6.9 10.9 6.5 9.1 6.4 7.9 6.9 7.2 6.9 6.1 6.9 5.1 7.3 4.4 7.6 3.7 8.5 3.2 8.9 2.6 10.2 2.1 10.9 1.6"/>
<path d="M429.6 478.8l29.1 9.4 32 10.8 97.5 34.5 31.6 10.9 27.1 9.1 25.1 8.1"/>
<path d="M429.6 443l13.8 6.4 13.3 7 13.8 7.8 13.7 8.4 15 9.9 15.8 11.1 17 12.4 47.7 35.8 15 10.8 13.8 9.4 16.6 10.6 15.7 9.2 15.4 8.1 15.8 7.5"/>
<path d="M429.6 483l29.1 8.5 32 9.8 129.5 40.7 26.7 8.1 25.1 7.3"/>
<path d="M429.6 415.3l8.1 2.8 8.1 3.3 7.7 3.5 7.7 4.1 7.3 4.4 7.2 4.9 6.9 5.2 6.9 5.7 6.9 6.2 7.3 7.2 7.2 7.7 7.7 8.8 7.3 8.8 8.1 10.2 30 39.5 12.5 15.9 7.3 8.7 6.9 7.9 6.4 6.9 6.5 6.4 8.1 7.5 8.1 6.7 8.1 5.9 8.1 5.3 8.5 4.8 8.9 4.4 8.9 3.7 9.7 3.4"/>
<path d="M429.6 416.3l9.7 3.5 8.9 3.8 8.5 4.2 8.5 4.9 8.1 5.3 8.1 5.9 8.1 6.6 8.1 7.3 6.5 6.4 6.4 6.8 6.9 7.7 7.3 8.5 12.9 16 30 38.6 8.1 9.9 7.3 8.7 7.7 8.6 7.2 7.6 7.3 7.1 7.3 6.5 6.9 5.7 7.3 5.4 6.8 4.6 7.3 4.4 7.3 3.9 7.7 3.7 8.1 3.3 8.1 2.9"/>
<path d="M429.6 401.5l13 1.1 10.9 1.5 9.7 2.1 8.9 2.6 7.7 3.2 7.3 4 6.8 4.8 6.5 5.7 6.5 7.1 6.5 8.5 6 9.5 6.1 10.9 6.1 12.3 6 13.5 6.5 15.4 16.6 40.8 5.3 12.3 4.8 10.6 5.7 11.3 5.7 10.1 5.6 8.9 5.7 7.6 3.6 4.3 3.7 3.9 3.6 3.4 3.7 3 4 2.9 4 2.6 4.1 2.2 4.4 2.1 4.5 1.7 4.9 1.6 5.2 1.4 5.7 1.3 12.5 1.9 14.6 1.3"/>
<path d="M429.6 434.4l8.1 3.7 8.1 3.9 8.1 4.4 7.7 4.4 8.1 4.9 8.1 5.3 8.1 5.6 8 5.9 13.8 10.7 15 12.4 13.7 11.9 32.8 28.9 16.6 14.2 15.8 12.7 15 11.1 13.7 9.3 13.8 8.3 13.7 7.4 14.2 6.6"/>
<path d="M429.6 437.1l13.8 6.5 13.7 7.3 13.8 8.2 13.7 9 15 10.7 15.8 12.1 17 13.9 46.5 38.8 15 11.9 13.8 10.3 16.5 11.4 15.8 9.8 7.7 4.3 8.1 4.3 8.1 4 8.1 3.7"/>
<path d="M429.6 586.1l15-6.6 15.4-7.4 15.7-8.1 16.2-8.9 14.2-8 15.4-9.1 65.9-39.9 16.2-9.4 15-8.4 13.7-7.3 13.4-6.7 13.3-6.3 13-5.7"/>
<path d="M429.6 509.1l242.4 22.2"/>
<path d="M429.6 539.9l242.4-39.4"/>
<path d="M429.6 500.6l242.4 39.2"/>
<path d="M429.6 593.1l15.4-7.2 15.4-7.9 15.7-8.8 16.6-10 13.8-8.8 15.4-10.2 47.7-33.1 17-11.5 16.2-10.6 15-9.3 13.7-8 13.8-7.5 13.3-6.7 13.4-6.2"/>
<path d="M429.6 410.8l8.9 2.5 8.5 3 8.1 3.4 7.7 3.8 7.3 4.3 7.3 4.8 6.8 5.2 6.9 5.9 7.3 6.9 6.9 7.3 7.3 8.5 7.2 9.1 6.9 9.3 7.7 10.9 28.7 43 12.6 18 6.9 9.2 6.4 8.1 6.5 7.6 6.5 6.9 7.7 7.5 8.1 6.9 8.1 6 8.5 5.5 8.5 4.5 9.3 4.2 9.7 3.6 10.1 2.9"/>
<path d="M429.6 573.4l14.6-5.6 14.9-6.1 32-13.8 29.6-13.5 67.1-31.6 31.6-14.2 27.1-11.6 25.5-10"/>
<path d="M429.6 447.9l13.4 6.2 13.3 6.7 13.4 7.2 13.7 7.9 15 9.2 16.2 10.5 17 11.4 48.1 33 15.4 10.1 13.8 8.7 16.6 9.9 15.7 8.8 15.4 7.9 15.4 7.1"/>
<path d="M429.6 589.6l15.4-7.1 15.4-7.6 15.7-8.5 16.2-9.3 13.8-8.3 15.4-9.6 65.5-42.3 16.2-10 15-8.8 13.7-7.7 13.8-7.2 13.3-6.5 13-5.9"/>
<path d="M429.6 443.1l15.8 7.5 15.4 8.1 15.7 9.2 16.6 10.6 13.8 9.4 15 10.7 47.7 35.7 17 12.5 15.8 11 15 9.9 13.7 8.4 13.8 7.8 13.3 6.9 13.8 6.5"/>
<path d="M429.6 405l11.7 2.2 11 2.9 9.7 3.5 4.8 2.1 4.5 2.2 4.4 2.5 4.1 2.6 8.1 5.9 7.7 6.8 7.7 8 6 7.3 6.1 8.1 6.1 9 6.4 10.4 11.4 20 26.3 49.3 7.3 12.7 6.4 10.5 6.9 10.3 6.5 8.6 6.9 8.2 6.8 7 6.9 6.1 6.9 5.2 7.3 4.5 7.7 4 8.1 3.3 8.9 2.9 9.3 2.3 10.5 2"/>
<path d="M429.6 551.9l60.7-15.6 129.9-34.5 51.8-13.3"/>
<path d="M429.6 442l15.8 7.5 15.4 8.2 15.7 9.3 16.6 10.7 13.8 9.6 15 10.9 47.7 36.4 17 12.7 15.8 11.2 15 10 13.7 8.6 13.8 7.9 13.3 6.9 13.8 6.5"/>
<path d="M429.6 475.1l29.1 10.1 32 11.8 30 11.4 67.5 26.4 31.6 12 27.1 9.9 25.1 8.6"/>
<path d="M429.6 447.2l13.4 6.2 13.3 6.7 13.8 7.5 13.7 8.1 15 9.2 16.2 10.6 17 11.6 47.7 33.1 15.4 10.3 13.8 8.8 16.6 10 15.7 8.8 15.4 7.9 15.4 7.2"/>
<path d="M429.6 438.7l15.8 7.5 15.8 8.6 15.8 9.6 16.5 11.2 13.8 10 15 11.5 47.3 38.4 16.6 13.1 15.8 11.9 15 10.5 13.7 8.8 13.8 8.1 13.7 7.3 13.8 6.5"/>
<path d="M429.6 533l242.4-25.6"/>
<path d="M429.6 485.7l28.7 7.9 32 9 129.9 37.7 51.8 14.4"/>
<path d="M429.6 528.1l242.4-15.8"/>
<path d="M429.6 552.3l51.8-13.4 129.9-35 60.7-15.8"/>
<path d="M429.6 587.3l15-6.7 15.4-7.5 15.7-8.2 16.6-9.3 13.8-8 15.4-9.2 65.5-40.6 16.6-9.8 15-8.5 13.7-7.4 13.4-6.8 13.3-6.4 13-5.8"/>
<path d="M429.6 416.4l9.3 3.4 9.3 3.9 8.5 4.3 8.5 4.8 8.1 5.3 8.1 5.9 8.1 6.6 8.1 7.4 6.5 6.3 6.4 6.8 6.9 7.6 7.3 8.6 12.9 16 30 38.4 8.1 10 7.3 8.6 7.7 8.6 7.2 7.6 7.3 7.1 7.3 6.5 6.9 5.7 7.3 5.4 6.8 4.6 7.3 4.4 7.3 3.9 7.7 3.7 8.1 3.3 8.1 2.9"/>
<path d="M429.6 543.6l242.4-46.8"/>
<path d="M429.6 426.6l8.5 3.7 8.5 4.1 8.5 4.5 8.1 4.7 8.1 5.2 8.1 5.7 8.1 6.1 8.1 6.5 13.3 11.6 14.6 13.8 13.3 13.4 32 32.7 15.8 15.5 8.1 7.6 7.7 6.8 7.3 6.2 7.2 5.8 6.9 5.1 6.9 4.9 6.9 4.5 7.3 4.4 6.8 3.9 7.3 3.8 7.3 3.4 7.7 3.3"/>
<path d="M429.6 431.6l8.1 3.6 8.1 4 8.1 4.3 8.1 4.7 8.1 5 8.1 5.4 8.1 5.8 8.1 6.1 13.7 11.2 14.6 12.6 13.7 12.5 32.8 30.5 16.2 14.5 15.8 13.3 14.9 11.5 13.8 9.5 13.8 8.5 6.8 3.8 7.3 3.8 14.2 6.6"/>
<path d="M429.6 568.6l29.5-10.9 32-12.6 29.6-12.2 67.5-28.5 31.6-12.9 27.1-10.5 25.1-9.2"/>
<path d="M429.6 414.3l8.5 2.8 8.1 3.2 7.7 3.5 7.7 4.1 7.3 4.3 7.2 5 6.9 5.1 6.9 5.8 6.9 6.3 7.3 7.3 7.2 7.9 7.7 9 7.3 9 7.7 9.9 30 40.5 12.5 16.4 6.9 8.4 6.9 8 6.4 7.1 6.5 6.5 8.1 7.6 8.1 6.7 8.1 6 8.1 5.2 8.5 4.8 8.9 4.3 9.3 3.8 9.7 3.3"/>
<path d="M429.6 555.8l51.8-14.8 129.5-38.9 32-9.3 29.1-8.2"/>
<path d="M429.6 428.2l8.5 3.7 8.5 4.1 8.1 4.4 8.1 4.7 8.1 5.2 8.1 5.5 8.1 6 8.1 6.4 13.3 11.4 14.6 13.4 13.7 13.3 32 31.8 16.2 15.4 15.8 14 7.3 6 7.2 5.7 7.3 5.4 6.9 4.7 6.9 4.5 6.9 4.1 6.8 3.9 7.3 3.8 7.3 3.4 7.3 3.2"/>
<path d="M429.6 407.1l9.7 2.2 8.9 2.6 8.5 3.2 7.7 3.4 7.7 4.2 7.3 4.7 6.9 5.1 6.8 6 6.9 6.9 6.9 7.7 6.9 8.6 7.3 10.1 6.8 10.3 7.3 11.7 27.5 46.8 11.8 19 6.4 9.6 6.5 9 6.5 8.2 6.1 6.9 7.7 7.8 8 7.1 8.1 5.9 8.5 5.2 8.9 4.5 9.3 3.7 10.2 3.1 11.3 2.7"/>
<path d="M429.6 541.3l242.4-42.2"/>
<path d="M429.6 562.3l29.1-9.5 32-11 97.5-35.1 31.6-11.2 27.1-9.2 25.1-8.2"/>
<path d="M429.6 563.6l25.1-8.4 27.1-9.5 31.6-11.5 97.5-36.3 32-11.3 29.1-9.8"/>
<path d="M429.6 401.6l14.6 1.3 12.1 1.9 5.3 1.2 5.2 1.4 4.9 1.6 4.8 1.9 4.5 2.1 4 2.2 4.1 2.6 4 2.9 3.7 3 3.6 3.4 3.7 3.8 3.6 4.2 5.7 7.6 5.6 8.8 5.7 10 5.7 11.2 4.8 10.4 5.3 12.1 17.4 42.3 6.1 14.3 6 13.4 6.1 12.2 6.5 11.5 6 9.4 6.5 8.4 6.5 7 6.5 5.7 6.8 4.8 7.3 4 7.7 3.2 8.5 2.6 9.7 2.1 10.9 1.6 13 1.1"/>
<path d="M429.6 505.6l242.4 29.2"/>
<path d="M429.6 589.9l13-5.9 13.3-6.5 13.8-7.2 13.7-7.7 15-8.9 16.2-10 65.5-42.6 15.4-9.7 13.8-8.4 16.2-9.3 15.7-8.5 15.4-7.7 15.4-7"/>
<path d="M429.6 421l7.7 3 7.7 3.5 7.3 3.6 7.3 4 7.2 4.5 6.9 4.6 7.3 5.3 6.9 5.4 7.3 6.2 7.2 6.7 7.7 7.4 7.7 7.9 15.4 16.8 31.2 36 13.3 14.9 14.2 14.8 6.9 6.7 6.4 5.9 8.1 7 8.1 6.3 8.1 5.9 8.1 5.2 8.1 4.7 8.5 4.5 8.9 4 8.9 3.6"/>
<path d="M429.6 485.7l51.8 14.3 129.9 37.8 32 9.1 28.7 7.8"/>
<path d="M429.6 472.3l25.1 9.1 27.1 10.5 31.6 12.7 67.5 28.2 29.6 12 32 12.5 29.5 10.8"/>
<path d="M429.6 568.9l29.5-11 32-12.6 29.6-12.3 67.5-28.7 31.6-12.9 27.1-10.6 25.1-9.3"/>
<path d="M429.6 629.4l10.1-3 9.7-3.6 9.3-4.3 8.5-4.6 8.5-5.4 8.1-6.1 8.1-6.9 7.7-7.4 6.5-7 6.5-7.5 6.4-8.1 6.9-9.1 12.6-17.8 28.7-42.7 7.7-10.8 6.9-9.2 7.2-9.1 7.3-8.4 7.3-7.7 6.9-6.5 6.9-5.9 7.2-5.5 7.3-4.9 7.3-4.2 7.7-3.8 8.1-3.4 8.1-2.8 8.9-2.7"/>
<path d="M429.6 543.5l242.4-46.6"/>
<path d="M429.6 573.4l25.5-10.1 27.1-11.5 31.6-14.3 67.1-31.5 29.6-13.5 32-13.8 14.9-6.1 14.6-5.6"/>
<path d="M429.6 610.9l7.3-3.2 6.9-3.3 7.3-3.7 6.8-3.9 6.9-4.1 6.9-4.4 6.9-4.7 7.3-5.3 14.5-11.5 15.8-13.7 16.6-15.5 32-31 13.7-13 14.6-13.1 13.7-11.5 8.1-6.3 8.1-5.9 8.1-5.5 8.1-5.1 8.1-4.7 8.1-4.3 8.1-4 8.5-3.7"/>
<path d="M429.6 577l15-6.1 15-6.4 15.3-7 16.6-7.7 29.6-14.5 66.7-33.8 31.6-15.3 27.1-12.2 25.5-10.6"/>
<path d="M429.6 565l25.1-8.6 27.1-9.8 31.6-11.9 67.5-26.2 30-11.4 32-11.7 29.1-10"/>
<path d="M429.6 421.7l8.9 3.6 8.9 4.1 8.5 4.4 8.1 4.8 8.1 5.2 8.1 5.8 8.1 6.4 8.1 6.9 6.4 5.9 6.9 6.6 14.2 14.6 13.3 14.8 31.2 35.4 15.8 17 7.7 7.8 7.7 7.4 7.2 6.5 7.3 6.2 6.9 5.4 6.9 4.9 6.9 4.7 7.2 4.4 7.3 4 7.3 3.7 7.7 3.5 7.7 3"/>
<path d="M429.6 425.4l7.7 3.2 7.3 3.4 7.3 3.8 6.8 3.8 7.3 4.5 6.9 4.5 6.9 4.9 6.9 5.2 7.2 5.9 7.3 6.2 7.7 7 8.1 7.6 15.8 15.9 32 33.6 13.3 13.7 14.6 14 13.3 11.9 8.1 6.6 8.1 6.1 8.1 5.7 8.1 5.2 8.1 4.7 8.5 4.6 8.5 4 8.5 3.6"/>
<path d="M429.6 434.1l14.2 6.6 13.7 7.4 13.8 8.4 13.7 9.3 15 11.1 15.8 12.8 16.6 14.2 32.8 29.1 13.7 11.9 14.6 12.2 13.7 10.7 8.1 6 8.1 5.6 8.1 5.3 8.1 5 8.1 4.6 8.1 4.3 8.1 4 8.1 3.7"/>
<path d="M429.6 523.4l242.4-6.4"/>
<path d="M429.6 590.3l13-5.9 13.3-6.6 13.8-7.2 13.7-7.8 15-8.9 16.2-10.1 65.5-42.8 15.4-9.8 13.8-8.4 16.2-9.4 15.7-8.5 15.4-7.7 15.4-7.1"/>
<path d="M429.6 447.1l13.4 6.1 13.3 6.8 13.8 7.5 13.7 8 15 9.4 16.2 10.6 17 11.6 47.7 33.2 15.4 10.3 13.8 8.8 16.6 10 15.7 8.9 15.4 7.9 15.4 7.1"/>
<path d="M429.6 437.1l8.1 3.7 8.1 4 8.1 4.3 7.7 4.4 15.8 9.7 16.5 11.5 13.8 10.2 15 11.9 46.5 38.8 17 13.8 15.8 12.2 15 10.7 13.7 9 13.8 8.2 13.7 7.3 13.8 6.5"/>
<path d="M429.6 415.7l9.7 3.5 8.9 3.7 8.9 4.4 8.5 4.8 8.1 5.3 8.1 6 8.1 6.7 8.1 7.4 6.5 6.4 6.4 6.9 6.9 7.7 7.3 8.7 12.5 15.8 30 39.1 8.1 10.1 7.3 8.7 7.7 8.7 7.2 7.7 7.3 7.2 7.3 6.5 6.9 5.7 6.9 5.1 7.2 4.9 7.3 4.4 7.3 3.9 7.7 3.6 8.1 3.3 8.1 2.8"/>
<path d="M429.6 472.5l29.5 10.8 32 12.4 29.6 12 67.5 28 31.6 12.7 27.1 10.4 25.1 9.1"/>
<path d="M429.6 481.9l29.1 8.8 32 10 129.5 41.9 26.7 8.3 25.1 7.6"/>
<path d="M429.6 446.3l15.4 7.2 15.8 8.1 15.7 9 16.2 9.9 13.8 8.9 15.4 10.4 47.7 33.7 17 11.8 16.2 10.7 15 9.5 13.7 8.1 13.8 7.5 13.3 6.8 13.4 6.2"/>
<path d="M429.6 563.2l29.1-9.7 32-11.3 97.5-35.8 31.6-11.4 27.1-9.4 25.1-8.4"/>
<path d="M429.6 551.4l60.7-15.3 129.9-34.1 51.8-13"/>
<path d="M429.6 428.1l8.5 3.7 8.5 4.1 8.1 4.4 8.1 4.7 8.1 5.2 8.1 5.5 8.1 6 8.1 6.4 13.3 11.4 14.6 13.4 13.7 13.4 32 31.8 16.2 15.5 15.8 14 7.3 6 7.2 5.7 7.3 5.4 6.9 4.7 6.9 4.5 6.9 4.1 6.8 3.9 7.3 3.8 7.3 3.4 7.3 3.2"/>
<path d="M429.6 590.3l15.4-7.1 15.4-7.7 15.7-8.5 16.2-9.4 13.8-8.4 15.4-9.8 65.5-42.8 16.2-10.1 15-8.9 13.7-7.8 13.8-7.2 13.3-6.6 13-5.9"/>
<path d="M429.6 477.2l29.1 9.7 32 11.2 97.5 35.9 31.6 11.4 27.1 9.5 25.1 8.3"/>
<path d="M429.6 422.5l7.7 3.1 7.7 3.5 7.3 3.6 7.3 4.1 7.2 4.5 6.9 4.6 6.9 5 6.9 5.3 7.3 6.1 7.2 6.5 7.7 7.3 7.7 7.7 15.8 16.8 31.2 34.8 13.3 14.5 14.2 14.4 13.3 12.4 8.1 6.8 8.1 6.4 8.1 5.7 8.1 5.3 8.1 4.8 8.5 4.4 8.9 4.2 8.9 3.6"/>
<path d="M429.6 451.1l15.4 7 15.4 7.6 15.7 8.5 16.2 9.2 13.8 8.3 15.4 9.6 65.5 42.1 16.2 9.9 15 8.8 14.1 7.9 13.4 6.9 13.3 6.5 13 5.9"/>
<path d="M429.6 438.6l13.8 6.5 13.7 7.3 13.8 8.1 13.7 8.9 15 10.5 15.8 11.8 16.6 13.2 47.3 38.4 15 11.5 13.8 10.1 16.5 11.2 15.8 9.6 15.8 8.6 15.8 7.5"/>
<path d="M429.6 578.7l13-5.4 12.9-5.6 27.1-12.6 31.6-15.8 66.3-34.7 29.6-14.9 16.6-8.1 15.3-7.1 15-6.5 15-6.3"/>
<path d="M429.6 481l29.1 8.9 32 10.3 129.5 43 26.7 8.5 25.1 7.7"/>
<path d="M429.6 495.2l60.7 12.4 130.3 27.1 51.4 10.5"/>
<path d="M429.6 429.5l8.5 3.8 8.1 3.9 8.1 4.3 8.1 4.8 8.1 5.1 8.1 5.5 8.1 5.9 8.1 6.2 13.7 11.5 14.6 13.1 13.7 13.1 32 30.9 16.6 15.5 15.8 13.6 14.5 11.5 7.3 5.3 6.9 4.7 6.9 4.5 6.9 4.1 6.8 3.8 7.3 3.8 6.9 3.3 7.3 3.2"/>
<path d="M429.6 438.9l15.8 7.5 15.8 8.5 15.8 9.7 16.5 11.1 13.8 10 15 11.5 47.3 38.3 16.6 13 15.8 11.8 15 10.5 13.7 8.9 13.8 8 13.7 7.3 13.8 6.5"/>
<path d="M429.6 466.5l14.6 5.7 14.9 6.2 32 13.9 29.6 13.6 67.1 31.8 31.6 14.4 27.1 11.6 25.5 10.2"/>
<path d="M429.6 403.2l11.3 1.6 10.2 2.1 8.9 2.5 8.5 3.1 7.6 3.6 7.3 4.4 6.9 5 6.9 6.1 6.9 7.3 6.4 8 6.5 9.2 6.5 10.4 6.1 10.7 6.8 13.2 6.9 14.1 18.6 38.9 5.7 11.3 5.3 10 6 10.6 6.1 9.6 5.7 8.1 6 7.6 7.3 7.8 3.7 3.4 4 3.4 4 3.1 4.1 2.7 4 2.4 4.5 2.3 4.4 2 4.9 2 4.9 1.6 5.2 1.5 11.3 2.5 13 1.9"/>
<path d="M429.6 431.9l8.1 3.6 8.1 4 8.1 4.3 8.1 4.7 8.1 5 8.1 5.4 8.1 5.8 8.1 6.1 13.7 11.1 14.6 12.5 13.7 12.5 32.8 30.3 16.2 14.4 15.8 13.2 14.9 11.5 13.8 9.5 13.8 8.5 14.1 7.6 14.2 6.6"/>
<path d="M429.6 495.6l60.7 12.2 130.3 26.7 51.4 10.3"/>
<path d="M429.6 529.6l242.4-18.8"/>
<path d="M429.6 471.3l29.5 11 32 12.7 29.6 12.3 67.5 28.8 31.6 13.1 27.1 10.6 25.1 9.3"/>
<path d="M429.6 524.8l242.4-9.2"/>
<path d="M429.6 405.1l10.5 2 9.3 2.3 8.5 2.8 8.1 3.3 7.7 3.9 7.3 4.5 6.9 5.1 6.9 6.1 6.8 7 6.9 8.1 6.9 9.1 6.9 10.2 6.4 10.5 7.3 12.7 26.3 49.1 11.4 19.9 6.4 10.4 6.1 9 6.1 8.1 6 7.3 7.7 8.1 7.7 6.8 8.1 5.9 8.5 5 4.5 2.2 4.8 2.2 9.7 3.5 11 2.9 11.7 2.2"/>
<path d="M429.6 430.2l8.5 3.8 8.1 3.9 8.1 4.4 8.1 4.7 8.1 5.1 8.1 5.5 8.1 5.8 8.1 6.2 13.7 11.4 14.6 13 13.7 12.8 32 30.6 16.6 15.2 15.8 13.6 14.5 11.4 14.2 9.9 13.8 8.6 6.8 3.8 7.3 3.8 6.9 3.3 7.3 3.2"/>
<path d="M429.6 497l242.4 46.4"/>
<path d="M429.6 533.1l242.4-25.8"/>
<path d="M429.6 573.4l14.6-5.7 14.9-6.1 32-13.8 29.6-13.5 67.1-31.4 31.6-14.3 27.1-11.5 25.5-10.1"/>
<path d="M429.6 493.1l60.7 13.4 130.3 29.5 51.4 11.3"/>
<path d="M429.6 408.8l10.5 2.8 10.1 3.4 9.4 4 8.9 4.6 8.5 5.4 8 6 8.1 7 7.7 7.7 6.1 6.8 6.5 7.8 6.4 8.6 6.9 9.7 12.2 18.5 27.5 43.9 7.7 11.6 6.8 9.8 7.3 9.7 6.9 8.3 6.9 7.6 7.3 7.1 6.8 6 6.9 5.2 7.3 4.8 7.7 4.3 7.7 3.7 8.5 3.3 8.5 2.8 9.3 2.4"/>
<path d="M429.6 419.4l8.9 3.4 8.9 4 8.5 4.4 8.5 4.9 8.1 5.3 8.1 5.8 8.1 6.5 8.1 7.1 6.5 6.1 6.8 6.8 14.2 15.3 12.9 15 30.8 36.7 15.8 17.9 7.7 8.1 7.3 7.2 7.2 6.8 7.3 6.3 6.9 5.6 7.3 5.3 6.9 4.6 7.2 4.5 7.3 4 7.3 3.5 7.7 3.4 8.1 3.1"/>
<path d="M429.6 471.9l25.1 9.1 27.1 10.6 31.6 12.9 67.5 28.4 29.6 12.2 32 12.6 29.5 10.8"/>
<path d="M429.6 455.7l15 6.6 15.4 7.2 15.7 8 16.2 8.6 29.6 16.8 65.9 38.8 16.2 9.2 15 8.2 13.7 7.1 13.4 6.6 13.3 6.3 13 5.6"/>
<path d="M429.6 619.2l8.9-3.5 8.9-4.1 8.5-4.4 8.1-4.8 8.1-5.2 8.1-5.8 8.1-6.4 8.1-7 6.4-5.9 6.9-6.7 14.2-14.7 13.3-14.9 31.2-35.8 15.8-17.2 7.7-7.8 7.7-7.5 7.2-6.6 7.3-6.1 6.9-5.4 6.9-5.1 6.9-4.6 7.2-4.4 7.3-4 7.3-3.7 7.7-3.4 7.7-3"/>
<path d="M429.6 421.9l7.7 3.1 7.7 3.5 7.3 3.6 7.3 4.1 7.2 4.5 6.9 4.6 6.9 4.9 6.9 5.4 7.3 6.2 7.2 6.5 7.7 7.3 7.7 7.8 15.8 16.9 31.2 35.3 13.3 14.6 14.2 14.6 6.9 6.5 6.4 5.9 8.1 6.9 8.1 6.4 8.1 5.8 8.1 5.2 8.1 4.8 8.5 4.4 8.9 4.2 8.9 3.6"/>
<path d="M429.6 487l51.8 13.8 129.9 36.3 60.7 16.3"/>
<path d="M429.6 407.8l10.9 2.7 10.2 3.3 9.3 3.8 8.9 4.5 8.5 5.3 8.1 5.9 8 7.1 7.7 7.7 6.1 6.9 6.5 8 6.4 8.8 6.5 9.4 12.2 19.1 27.5 45.6 7.3 11.4 6.8 10.1 7.3 10 6.9 8.5 6.9 7.7 7.3 7.2 6.8 5.9 6.9 5.2 7.3 4.8 7.7 4.2 7.7 3.5 8.5 3.2 8.9 2.7 9.3 2.3"/>
<path d="M429.6 482.8l29.1 8.6 32 9.8 129.5 40.9 26.7 8.2 25.1 7.3"/>
<path d="M429.6 513.8l242.4 12.8"/>
<path d="M429.6 449.8l15.4 7 15.4 7.8 15.7 8.5 16.2 9.5 13.8 8.4 15.4 9.8 65.5 43.2 16.2 10.1 15 9 13.7 7.8 13.8 7.2 13.3 6.6 13 5.9"/>
<path d="M429.6 529.7l242.4-19"/>
<path d="M429.6 408.2l9.3 2.3 8.9 2.8 8.5 3.2 7.7 3.6 7.7 4.3 7.3 4.8 6.9 5.2 6.8 6 7.3 7.2 6.9 7.7 6.9 8.4 7.3 9.9 6.8 10 7.3 11.2 27.5 45 12.2 18.8 6.5 9.4 6.4 8.7 6.5 8 6.1 6.8 7.7 7.7 8 7.1 8.1 6 8.5 5.3 8.9 4.6 9.3 3.9 10.2 3.3 10.9 2.8"/>
<path d="M429.6 444.7l15.4 7.2 15.8 8.3 15.7 9.1 16.2 10.1 13.8 9.1 15.4 10.7 47.7 34.7 17 12.1 16.2 11 15 9.7 13.7 8.3 13.8 7.6 13.3 6.9 13.4 6.2"/>
<path d="M429.6 439.6l15.8 7.5 15.8 8.5 15.8 9.6 16.5 11.1 13.8 9.9 15 11.3 47.3 37.8 16.6 12.9 15.8 11.6 15 10.4 13.7 8.8 13.8 8 13.7 7.3 13.8 6.5"/>
<path d="M429.6 441.5l13.8 6.5 13.3 7 13.8 7.9 13.7 8.6 15 10 16.2 11.7 16.6 12.5 47.3 36.4 15.4 11.3 13.8 9.6 16.1 10.6 15.8 9.4 15.8 8.4 15.8 7.5"/>
<path d="M429.6 499l242.4 42.4"/>
<path d="M429.6 433.2l8.1 3.6 8.1 4 8.1 4.3 8.1 4.7 8.1 5 8.1 5.3 8.1 5.7 8.1 6 13.7 10.9 14.6 12.3 13.7 12.2 32.8 29.6 16.2 14.1 15.8 13 14.9 11.3 14.2 9.6 13.8 8.4 13.7 7.4 14.2 6.6"/>
<path d="M429.6 451.8l15.4 6.9 15.4 7.6 15.7 8.4 16.2 9.2 13.8 8.2 15.4 9.4 65.5 41.6 16.2 9.8 15 8.7 14.1 7.8 13.4 6.9 13.3 6.5 13 5.8"/>
<path d="M429.6 403.9l10.9 1.7 9.7 2.2 8.9 2.6 8.5 3.3 7.7 3.7 7.3 4.5 6.9 5.1 6.9 6.1 6.9 7.2 6.4 7.8 6.5 9 6.9 10.7 6.5 11.1 6.8 12.7 25.5 50.9 5.7 10.8 5.3 9.6 6 10.4 6.1 9.4 6.1 8.5 6 7.6 3.7 4 4 4.1 3.7 3.4 4 3.5 4.1 3 4 2.8 4 2.4 4.5 2.4 4.4 2.1 4.9 2 4.9 1.8 5.2 1.6 10.9 2.6 12.6 2"/>
<path d="M429.6 460.1l15 6.3 15 6.7 15.7 7.5 16.2 8.1 29.6 15.4 66.3 35.9 16.6 8.6 15 7.6 13.7 6.7 13.4 6.2 12.9 5.8 13 5.4"/>
<path d="M429.6 438.5l13.8 6.5 13.7 7.3 13.8 8.1 13.7 8.9 15 10.5 15.8 11.9 16.6 13.1 47.3 38.5 15 11.6 13.8 10 16.5 11.3 15.8 9.6 15.8 8.5 15.8 7.6"/>
<path d="M429.6 508.6l242.4 23.2"/>
<path d="M429.6 499.5l242.4 41.4"/>
<path d="M429.6 492.3l60.7 13.8 130.3 30.4 51.4 11.6"/>
<path d="M429.6 408.4l10.5 2.7 10.1 3.4 9.4 3.9 8.9 4.6 8.5 5.3 8 6 8.1 7 7.7 7.7 6.1 6.8 6.5 7.9 6.4 8.6 6.9 9.8 12.2 18.7 27.5 44.6 7.7 11.7 6.8 9.9 7.3 9.7 6.9 8.4 6.9 7.6 7.3 7.1 6.8 6 6.9 5.2 7.3 4.8 7.7 4.2 7.7 3.6 8.5 3.3 8.5 2.7 9.3 2.4"/>
<path d="M429.6 456.7l15 6.5 15.4 7.2 15.7 7.9 16.2 8.5 29.6 16.4 65.9 38.1 16.2 9 15 8.1 13.7 7 13.4 6.6 13.3 6.1 13 5.6"/>
<path d="M429.6 414.3l8.5 2.8 8.1 3.2 7.7 3.5 7.7 4.1 7.3 4.4 7.2 4.9 6.9 5.2 6.9 5.7 6.9 6.3 7.3 7.3 7.2 7.9 7.7 9 7.3 9 7.7 9.9 30 40.5 12.5 16.4 6.9 8.4 6.9 8 6.4 7 6.5 6.6 8.1 7.5 8.1 6.8 8.1 6 8.1 5.2 8.5 4.8 8.9 4.3 9.3 3.8 9.7 3.3"/>
<path d="M429.6 485.9l51.8 14.3 129.9 37.5 32 9 28.7 7.8"/>
<path d="M429.6 495.9l51.4 10.1 130.3 26.5 60.7 12"/>
<path d="M429.6 619.3l7.7-3 7.7-3.4 7.3-3.7 7.3-4 7.2-4.4 6.9-4.6 7.3-5.4 6.9-5.4 7.3-6.2 7.2-6.6 7.7-7.5 7.7-7.9 15.4-16.8 31.2-35.8 13.3-15 14.2-14.7 6.9-6.7 6.4-5.9 8.1-7 8.1-6.4 8.1-5.8 8.1-5.2 8.1-4.8 8.5-4.4 8.9-4.1 8.9-3.5"/>
<path d="M429.6 417.8l8.1 3 7.7 3.3 7.7 3.7 7.3 3.9 7.2 4.4 6.9 4.7 7.3 5.4 6.9 5.6 7.3 6.4 7.3 6.9 7.2 7.5 7.7 8.3 15.4 18 30.4 37.7 12.9 15.5 7.3 8.3 6.9 7.4 6.8 7.1 6.5 6.2 8.1 7.2 8.1 6.6 8.1 5.9 8.1 5.2 8.5 4.9 8.5 4.3 8.9 3.9 9.3 3.5"/>
<path d="M429.6 402.1l13.8 1.5 12.1 2.1 5.3 1.3 5.2 1.6 4.9 1.7 4.4 1.9 4.5 2.1 4 2.3 4.1 2.6 4 3 4.1 3.4 3.6 3.4 3.7 3.8 3.6 4.2 5.7 7.5 5.6 8.5 5.7 9.6 6.1 11.5 4.8 10 5.7 12.4 17.4 40.1 6.5 14.5 6 12.8 6.1 11.7 6.5 11.2 6.4 9.7 6.5 8.3 6.5 7 6.5 5.8 6.8 4.9 7.3 4.2 8.1 3.5 8.5 2.8 9.7 2.3 10.6 1.7 12.1 1.3"/>
<path d="M429.6 481.7l25.1 7.6 26.7 8.3 129.5 42.2 32 10.1 29.1 8.8"/>
<path d="M429.6 406.3l9.7 2.1 9.3 2.5 8.5 3 8.1 3.6 7.7 4.1 7.3 4.6 6.9 5.2 6.8 6 6.9 7 6.9 7.9 6.9 8.8 6.9 9.8 6.8 10.6 7.3 12 27.1 47.8 11.8 19.5 6.4 9.9 6.5 9.1 6.1 7.8 6.1 7.1 7.6 7.9 7.7 6.7 8.1 6 8.5 5.1 8.9 4.4 9.7 3.7 10.6 3.1 11.3 2.5"/>
<path d="M429.6 417l9.3 3.4 9.3 4 8.5 4.3 8.5 4.9 8.1 5.3 8.1 5.9 8.1 6.6 8.1 7.3 6.5 6.3 6.4 6.7 6.9 7.6 7.3 8.4 12.9 15.8 30.4 38.4 8.1 9.8 7.3 8.5 7.7 8.5 7.2 7.5 7.3 7 7.3 6.5 6.9 5.6 7.3 5.4 6.9 4.6 7.2 4.4 7.3 3.9 7.7 3.7 7.7 3.2 8.1 2.9"/>
<path d="M429.6 528.2l242.4-16"/>
<path d="M429.6 419.5l8.9 3.5 8.9 3.9 8.5 4.4 8.5 4.9 8.1 5.3 8.1 5.9 8.1 6.4 8.1 7.1 6.5 6.1 6.8 6.8 14.2 15.3 12.9 14.9 30.8 36.7 15.8 17.8 7.7 8.1 7.3 7.2 7.2 6.8 7.3 6.3 6.9 5.5 7.3 5.4 6.9 4.6 7.2 4.4 7.3 4 7.3 3.6 7.7 3.4 8.1 3.1"/>
<path d="M429.6 549.9l60.7-14.6 129.9-32.3 51.8-12.5"/>
<path d="M429.6 487.9l60.7 15.9 129.9 35.2 51.8 13.5"/>
<path d="M429.6 409l10.5 2.9 9.7 3.3 9.3 3.9 9 4.7 8.4 5.3 8.1 6 8.1 7 7.7 7.6 6.1 6.7 6.5 7.8 6.4 8.4 6.9 9.7 12.2 18.3 28.3 44.9 7.7 11.4 6.9 9.8 7.2 9.5 6.9 8.3 6.9 7.5 7.3 7.1 6.9 5.9 6.8 5.2 7.3 4.8 7.3 4.1 8.1 3.8 8.1 3.2 8.5 2.8 9.3 2.5"/>
<path d="M429.6 448.9l15.4 7.1 15.4 7.8 15.7 8.7 16.6 9.8 13.8 8.5 15.4 10 48.1 32.4 17 11.2 16.2 10.3 15 9 13.7 7.9 13.8 7.3 13.3 6.6 13 6"/>
<path d="M429.6 575l15-5.9 15-6.3 15.3-6.7 16.6-7.5 29.6-14 66.7-32.3 31.6-14.7 27.1-11.9 25.5-10.3"/>
<path d="M429.6 406.5l9.7 2.1 9.3 2.6 8.5 3 8.1 3.6 7.7 4.1 7.3 4.7 6.9 5.2 6.8 6 6.9 6.9 6.9 7.9 6.9 8.8 6.9 9.8 6.8 10.6 7.3 11.9 27.1 47.5 11.8 19.4 6.4 9.8 6.5 9.1 6.1 7.8 6.1 7 7.6 7.9 8.1 7.1 8.1 5.9 8.5 5.2 8.9 4.3 9.7 3.7 10.2 3 11.3 2.5"/>
<path d="M429.6 568.7l29.5-10.9 32-12.7 29.6-12.2 67.5-28.5 31.6-12.9 27.1-10.5 25.1-9.3"/>
<path d="M429.6 474.6l29.1 10.2 32 11.9 30 11.6 67.5 26.7 31.6 12.1 27.1 10 25.1 8.7"/>
<path d="M429.6 492.3l60.7 13.8 130.3 30.4 51.4 11.6"/>
<path d="M429.6 474.6l29.1 10.2 32 11.9 30 11.6 67.5 26.7 31.6 12.1 27.1 10 25.1 8.7"/>
<path d="M429.6 544.9l51.4-10.3 130.3-26.9 60.7-12.2"/>
<path d="M429.6 606.3l8.1-3.6 8.1-4 8.1-4.3 8.1-4.7 8.1-5 8.1-5.3 8.1-5.6 8.1-6 13.7-10.7 14.6-12.2 13.7-11.9 32.8-29.1 16.6-14.3 15.8-12.7 15-11.2 13.7-9.3 13.8-8.3 13.7-7.4 14.2-6.6"/>
<path d="M429.6 403l11.3 1.5 10.2 1.9 9.3 2.5 8.5 3.1 7.6 3.5 7.3 4.3 6.9 5 6.9 6.1 6.9 7.3 6.4 8.1 6.5 9.4 6.5 10.5 6.1 11 6.8 13.5 6.9 14.3 17.8 38.1 5.7 11.5 5.2 10.1 6.1 10.9 6.1 9.8 5.7 8.1 6 7.7 3.7 4.1 3.6 3.8 3.6 3.4 4.1 3.4 4 3 4.1 2.7 4 2.4 4.5 2.3 4.4 2 4.9 1.8 4.8 1.6 5.3 1.5 11.3 2.4 13.4 1.8"/>
<path d="M429.6 554.5l28.7-7.9 32-8.9 129.9-37.5 51.8-14.3"/>
<path d="M429.6 548.4l60.7-13.9 130.3-30.7 51.4-11.8"/>
<path d="M429.6 631.2l10.5-2.8 9.7-3.3 9.3-4 9-4.7 8.4-5.3 8.1-6 8.1-7 7.7-7.6 6.1-6.7 6.5-7.8 6.4-8.4 6.9-9.6 12.2-18.3 28.3-44.6 7.7-11.5 6.9-9.7 7.2-9.5 6.9-8.3 6.9-7.4 7.3-7.1 6.9-6 6.8-5.2 7.3-4.8 7.7-4.3 7.7-3.6 8.1-3.3 8.5-2.8 9.3-2.4"/>
<path d="M429.6 454l15 6.7 15.4 7.4 15.7 8.2 16.2 8.8 14.2 8.1 15.4 9.1 65.9 40.1 16.2 9.5 15 8.3 13.7 7.3 13.4 6.8 13.3 6.3 13 5.8"/>
<path d="M429.6 408l9.3 2.3 8.9 2.8 8.5 3.2 7.7 3.6 7.7 4.3 7.3 4.7 6.9 5.2 6.8 6 7.3 7.2 6.9 7.7 6.9 8.5 7.3 9.8 6.8 10.1 7.3 11.3 27.5 45.2 12.2 18.9 6.5 9.4 6.4 8.7 6.5 8 6.1 6.9 7.7 7.7 8 7.1 8.1 6 8.5 5.3 8.9 4.6 9.3 3.8 10.2 3.3 10.9 2.8"/>
<path d="M429.6 406.6l11.3 2.6 10.2 3 9.7 3.8 8.9 4.4 8.5 5.2 8.1 5.9 8.1 7.1 7.6 7.9 6.1 7 6.1 7.8 6.5 9 6.4 9.8 11.8 19.3 27.1 47.1 7.3 11.9 6.8 10.5 7.3 10.2 6.9 8.8 6.9 7.8 6.9 6.9 6.8 6 6.9 5.1 7.3 4.7 7.7 4.1 8.1 3.6 8.5 3 8.9 2.5 9.7 2.2"/>
<path d="M429.6 405.6l11.7 2.3 10.6 3 9.7 3.6 8.9 4.2 4.4 2.5 4.5 2.8 8.1 6 7.7 6.8 7.6 7.9 6.1 7.3 6.1 8 6.5 9.4 6.4 10.2 11.4 19.5 26.7 48.7 7.3 12.3 6.4 10.3 6.9 10 6.9 9.1 6.9 7.9 6.8 7 6.9 6 6.9 5.2 7.3 4.5 7.7 4 8.1 3.4 8.5 2.9 9.3 2.4 10.1 2"/>
<path d="M429.6 433.9l14.2 6.6 13.7 7.4 13.8 8.3 14.2 9.7 14.9 11.2 15.8 12.8 16.2 13.9 32.8 29.2 13.7 12 14.6 12.2 13.7 10.8 8.1 6 8.1 5.6 8.1 5.3 8.1 5 8.1 4.7 8.1 4.3 8.1 4 8.1 3.6"/>
<path d="M429.6 458.4l15 6.5 15.4 7 15.7 7.7 16.2 8.2 29.6 16 65.9 36.8 16.6 9 15 7.8 13.7 6.8 13.4 6.4 12.9 5.8 13 5.6"/>
<path d="M429.6 406.2l11.3 2.4 10.6 3.1 9.7 3.7 8.9 4.3 8.5 5.2 8.1 5.9 8.1 7.1 7.6 8 6.1 7.1 6.1 7.8 6.5 9.2 6.4 10 11.8 19.7 26.7 47.3 7.3 12.1 6.4 10 7.3 10.5 6.9 8.8 6.9 7.9 6.9 6.9 6.8 6.1 6.9 5.1 7.3 4.7 7.7 4.1 8.1 3.5 8.5 2.9 9.3 2.6 9.7 2"/>
<path d="M429.6 463.2l15 6.1 15 6.4 15.3 7 16.6 7.8 29.6 14.6 66.7 33.9 31.6 15.3 27.1 12.3 25.5 10.6"/>
<path d="M429.6 445.9l15.4 7.2 15.8 8.2 15.7 8.9 16.2 10 13.8 9 15.4 10.5 47.7 33.9 17 11.9 16.2 10.8 15 9.5 13.7 8.1 13.8 7.6 13.3 6.8 13.4 6.2"/>
<path d="M429.6 554.9l28.7-7.9 32-9.1 129.9-38 51.8-14.4"/>
<path d="M429.6 452.6l13 5.8 13.3 6.5 13.4 6.8 13.7 7.5 15 8.5 16.6 9.9 65.5 41 15.4 9.3 13.8 8.1 16.6 9.2 15.7 8.3 15.4 7.5 15 6.8"/>
<path d="M429.6 402.4l11.7 1.3 10.6 1.8 9.3 2.3 8.5 2.9 8.1 3.6 7.2 4.2 6.9 5 6.5 5.7 6.9 7.3 6.5 8.3 6.4 9.6 6.5 10.9 6.1 11.5 6.4 13.3 6.5 14.1 17.4 39.1 5.7 12.1 4.8 9.8 6.1 11.3 5.7 9.5 5.6 8.5 6.1 7.9 3.7 4.2 3.6 3.8 3.6 3.5 4.1 3.4 4 3 4.1 2.6 4 2.4 4.5 2.2 4.4 1.9 4.9 1.8 5.2 1.6 5.3 1.4 11.7 2.2 13.8 1.6"/>
<path d="M429.6 466.2l25.5 10.2 27.1 11.7 31.6 14.5 67.1 32 29.6 13.7 32 14 14.9 6.2 14.6 5.7"/>
<path d="M429.6 434.2l8.1 3.7 8.1 4 8.1 4.3 8.1 4.6 8.1 5 8.1 5.3 8.1 5.6 8.1 6 13.7 10.7 14.6 12.1 13.7 12 32.8 29 16.6 14.2 15.8 12.7 15 11.1 13.7 9.3 13.8 8.4 13.7 7.4 14.2 6.6"/>
<path d="M429.6 630.6l10.5-3 9.7-3.4 9.3-4.1 8.5-4.5 8.5-5.4 8.1-6 8.1-7 7.7-7.5 6.5-7.1 6.5-7.7 6.4-8.3 6.9-9.4 12.2-17.9 28.3-43.7 7.7-11.2 6.9-9.5 7.2-9.4 7.3-8.6 6.9-7.4 7.3-7.1 6.9-5.9 6.8-5.2 7.3-4.8 7.3-4.1 7.7-3.8 8.1-3.3 8.5-2.9 9.3-2.6"/>
<path d="M429.6 407.2l11.3 2.7 10.2 3.2 9.3 3.7 8.9 4.5 8.5 5.2 8.1 6 8 7 7.7 7.8 6.1 7 6.5 8.2 6.5 8.9 6.4 9.6 11.8 18.9 27.5 46.6 7.3 11.6 6.8 10.3 7.3 10.1 6.9 8.6 6.9 7.7 6.9 6.8 6.8 6 6.9 5.2 7.3 4.7 7.7 4.2 7.7 3.5 8.5 3.1 8.9 2.6 9.7 2.3"/>
<path d="M429.6 435.6l8.1 3.7 8.1 4 8.1 4.3 7.7 4.4 8.1 4.9 8.1 5.3 16.1 11.3 13.8 10.5 15 12.2 13.7 11.6 32.8 28.3 16.6 13.8 15.8 12.4 15 11 13.7 9.1 13.8 8.3 13.7 7.4 14.2 6.7"/>
<path d="M429.6 406.5l11.3 2.5 10.2 3 9.7 3.7 8.9 4.4 8.5 5.1 8.1 6 8.1 7.1 7.6 7.8 6.1 7.1 6.1 7.8 6.5 9 6.4 9.9 11.8 19.4 27.1 47.3 7.3 12 6.8 10.6 6.9 9.7 6.9 8.8 6.9 7.9 6.9 6.9 6.8 6.1 6.9 5.2 7.3 4.7 7.7 4.1 8.1 3.6 8.5 3 9.3 2.6 9.7 2.1"/>
<path d="M429.6 443.6l15.4 7.2 15.8 8.3 15.7 9.2 16.6 10.6 13.8 9.3 15 10.6 47.7 35.4 17 12.3 16.2 11.3 15 9.8 13.7 8.3 13.8 7.8 13.3 6.9 13.4 6.2"/>
<path d="M429.6 545.5l60.7-12.5 130.3-27.5 51.4-10.6"/>
<path d="M429.6 590.3l15.4-7.1 15.4-7.7 15.7-8.5 16.2-9.4 13.8-8.4 15.4-9.8 65.5-42.8 16.2-10.1 15-8.9 13.7-7.7 13.8-7.3 13.3-6.6 13-5.9"/>
<path d="M429.6 430.1l8.5 3.7 8.1 4 8.1 4.3 8.1 4.7 8.1 5.1 8.1 5.5 8.1 5.9 8.1 6.2 13.7 11.4 14.6 13 13.7 12.9 32 30.6 16.6 15.3 15.8 13.6 14.5 11.4 7.3 5.3 6.9 4.7 13.8 8.5 6.8 3.8 7.3 3.8 6.9 3.3 7.3 3.2"/>
<path d="M429.6 464.5l25.5 10.4 27.1 12.1 31.6 14.9 66.7 33 29.6 14.2 16.6 7.6 15.3 6.8 15 6.4 15 6"/>
<path d="M429.6 559.5l25.1-7.7 26.7-8.5 129.5-43.1 32-10.3 29.1-9"/>
<path d="M429.6 468.8l29.5 11.5 32 13.3 29.6 13 67.1 30.3 31.6 13.7 27.1 11.1 25.5 9.9"/>
<path d="M429.6 526.3l242.4-12.2"/>
<path d="M429.6 422.4l8.9 3.7 8.9 4.1 8.5 4.5 8.1 4.8 8.1 5.2 8.1 5.8 8.1 6.3 8.1 6.9 13.3 12.4 14.2 14.4 13.3 14.5 31.2 34.9 15.8 16.7 7.7 7.7 7.7 7.3 7.2 6.5 7.3 6.1 6.9 5.4 6.9 5 6.9 4.6 7.2 4.4 7.3 4.1 7.3 3.7 7.7 3.5 7.7 3.1"/>
<path d="M429.6 504l242.4 32.4"/>
<path d="M429.6 583.6l13-5.6 13.3-6.1 13.4-6.6 13.7-7 15-8 16.2-9 65.9-38.1 29.6-16.4 16.2-8.5 15.7-7.8 15.4-7.2 15-6.5"/>
<path d="M429.6 473.6l29.5 10.6 32 12.1 29.6 11.7 67.5 27.3 31.6 12.4 27.1 10.2 25.1 8.9"/>
<path d="M429.6 521.8l242.4-3.2"/>
<path d="M429.6 406.6l9.7 2.2 8.9 2.5 8.5 3 8.1 3.6 7.7 4.1 7.3 4.7 6.9 5.1 6.8 6 6.9 6.9 6.9 7.8 6.9 8.8 7.3 10.2 6.8 10.5 7.3 11.9 27.1 47.1 11.8 19.3 6.4 9.8 6.5 9 6.1 7.8 6.1 7 7.6 7.9 8.1 7.1 8.1 5.9 8.5 5.2 8.9 4.4 9.7 3.8 10.2 3 11.3 2.6"/>
<path d="M429.6 513.1l242.4 14.2"/>
<path d="M429.6 592.7l15.4-7.1 15.4-7.9 15.7-8.8 16.6-9.9 13.8-8.8 15.4-10.1 48.1-33.2 17-11.4 16.2-10.5 15-9.3 13.7-7.9 13.4-7.3 13.3-6.7 13.4-6.1"/>
<path d="M429.6 473.8l29.5 10.6 32 12 29.6 11.7 67.5 27.1 31.6 12.3 27.1 10.2 25.1 8.9"/>
<path d="M429.6 493.6l60.7 13.1 130.3 29 51.4 11.1"/>
<path d="M429.6 448.9l15.4 7.1 15.4 7.8 15.7 8.7 16.6 9.8 13.8 8.5 15.4 10 48.1 32.4 17 11.2 16.2 10.3 15 9 13.7 7.9 13.8 7.3 13.3 6.6 13 6"/>
<path d="M429.6 453.1l13 5.8 13.3 6.4 13.4 6.8 13.7 7.4 15 8.5 16.6 9.8 65.5 40.6 15.4 9.2 13.8 8 16.6 9.3 15.7 8.2 15.4 7.5 15 6.7"/>
<path d="M429.6 573.2l25.5-10.1 27.1-11.5 31.6-14.1 67.1-31.4 29.6-13.4 32-13.8 14.9-6.1 14.6-5.6"/>
<path d="M429.6 476.1l29.1 9.9 32 11.5 30 11.2 67.5 25.7 31.6 11.7 27.1 9.7 25.1 8.5"/>
<path d="M429.6 481.3l29.1 8.9 32 10.2 129.5 42.6 26.7 8.4 25.1 7.7"/>
<path d="M429.6 587.5l13-5.8 13.3-6.4 13.4-6.8 13.7-7.5 15-8.5 16.6-9.9 65.5-40.7 15.4-9.2 13.8-8.1 16.6-9.2 15.7-8.3 15.4-7.5 15-6.7"/>
<path d="M429.6 530.2l242.4-20"/>
<path d="M429.6 456.2l13 5.6 13.3 6.2 13.4 6.6 13.7 7.1 15 8.1 16.2 9.1 65.9 38.5 29.6 16.6 16.2 8.5 15.7 7.9 15.4 7.3 15 6.5"/>
<path d="M429.6 611.3l7.3-3.2 6.9-3.3 7.3-3.8 6.8-3.8 6.9-4.1 6.9-4.5 6.9-4.7 7.3-5.3 14.5-11.5 15.8-13.8 16.6-15.5 32-31.3 13.7-13.1 14.6-13.2 13.7-11.5 8.1-6.3 8.1-5.9 8.1-5.5 8.1-5.2 8.1-4.7 8.1-4.3 8.1-3.9 8.5-3.8"/>
<path d="M429.6 580.1l15-6.3 15-6.7 15.7-7.5 16.2-8 29.6-15.4 66.3-35.7 31.6-16.1 13.7-6.7 13.4-6.2 12.9-5.7 13-5.5"/>
<path d="M429.6 521.1l242.4-1.8"/>
<path d="M429.6 483.2l29.1 8.5 32 9.7 129.5 40.4 26.7 8.1 25.1 7.3"/>
<path d="M429.6 437.4l8.1 3.7 7.7 3.8 8.1 4.3 7.7 4.3 15.8 9.7 16.5 11.4 13.8 10.2 15 11.8 47.3 39.3 16.6 13.4 15.8 12.1 15 10.6 13.7 9 13.8 8.2 13.7 7.3 13.8 6.5"/>
<path d="M429.6 600.4l15.8-7.5 15.8-8.5 15.8-9.5 16.5-11 13.8-9.9 15-11.3 47.3-37.5 16.6-12.8 15.8-11.6 15-10.3 13.7-8.8 13.8-8 13.7-7.2 13.8-6.5"/>
<path d="M429.6 451.5l15.4 7 15.4 7.6 15.7 8.4 16.2 9.2 13.8 8.2 15.4 9.5 65.5 41.9 16.2 9.8 15 8.7 14.1 7.9 13.4 6.9 13.3 6.5 13 5.8"/>
<path d="M429.6 432.1l8.1 3.7 8.1 3.9 8.1 4.3 8.1 4.7 8.1 5.1 8.1 5.3 8.1 5.8 8.1 6.1 13.7 11 14.6 12.5 13.7 12.4 32.8 30.2 16.2 14.4 15.8 13.2 14.9 11.4 14.2 9.8 13.8 8.4 13.7 7.4 14.2 6.6"/>
<path d="M429.6 407.1l9.7 2.2 8.9 2.6 8.5 3.1 8.1 3.6 7.7 4.2 7.3 4.7 6.9 5.2 6.8 6.1 6.9 6.9 6.9 7.7 6.9 8.7 7.3 10.2 6.8 10.3 7.3 11.8 27.1 46.2 11.8 19 6.4 9.7 6.5 9 6.5 8.2 6.1 6.9 7.7 7.8 8 7.1 8.1 6 8.5 5.2 8.9 4.4 9.3 3.7 10.2 3.1 11.3 2.6"/>
<path d="M429.6 518.8l242.4 2.8"/>
<path d="M429.6 568.6l29.5-10.9 32-12.6 29.6-12.2 67.5-28.5 31.6-12.9 27.1-10.5 25.1-9.2"/>
<path d="M429.6 610.4l7.3-3.3 6.9-3.3 7.3-3.7 6.8-3.9 13.8-8.5 6.9-4.7 7.3-5.3 14.5-11.4 15.8-13.6 16.6-15.3 32-30.6 13.7-12.9 14.6-13 13.7-11.4 8.1-6.2 8.1-5.9 8.1-5.5 8.1-5.1 8.1-4.7 8.1-4.3 8.1-4 8.5-3.8"/>
<path d="M429.6 436.1l14.2 6.7 13.7 7.4 13.8 8.2 13.7 9.1 15 10.9 15.8 12.3 16.6 13.8 46.5 39.5 15 12.1 13.8 10.4 8.4 6.1 8.1 5.5 8.1 5.2 7.7 4.6 7.7 4.4 8.1 4.3 8.1 4 8.1 3.7"/>
<path d="M429.6 411l10.1 3 9.7 3.6 9.3 4.2 8.5 4.6 8.5 5.5 8.1 6 8.1 6.9 7.7 7.5 6.5 6.9 6.5 7.5 6.4 8.1 6.9 9.2 12.6 17.8 28.7 42.7 7.7 10.8 6.9 9.2 7.2 9.2 7.3 8.4 7.3 7.7 6.9 6.5 6.9 5.9 7.2 5.5 7.3 4.8 7.3 4.2 7.7 3.8 8.1 3.4 8.1 2.9 8.9 2.6"/>
<path d="M429.6 546.9l60.7-13.2 130.3-29 51.4-11.2"/>
<path d="M429.6 442.1l15.8 7.5 15.4 8.1 15.7 9.4 16.6 10.7 13.8 9.5 15 10.9 47.7 36.4 17 12.7 15.8 11.2 15 10 13.7 8.5 13.8 7.9 13.3 7 13.8 6.4"/>
<path d="M429.6 422l8.9 3.6 8.9 4.1 8.5 4.5 8.1 4.7 8.1 5.3 8.1 5.8 8.1 6.3 8.1 6.9 6.4 5.9 6.9 6.6 14.2 14.5 13.3 14.7 31.2 35.2 15.8 16.9 7.7 7.7 7.7 7.4 7.2 6.5 7.3 6.1 6.9 5.4 6.9 5 6.9 4.6 7.2 4.5 7.3 4 7.3 3.7 7.7 3.5 7.7 3"/>
<path d="M429.6 418.6l9.3 3.6 8.9 3.9 8.5 4.4 8.5 4.9 8.1 5.3 8.1 5.9 8.1 6.5 8.1 7.2 6.5 6.1 6.4 6.6 6.9 7.3 7.3 8.2 12.9 15.2 30.8 37.4 15.4 17.7 7.7 8.2 7.7 7.7 7.2 6.9 7.3 6.4 6.9 5.5 7.3 5.4 6.9 4.6 7.2 4.4 7.3 4 7.3 3.5 7.7 3.3 8.1 3.1"/>
<path d="M429.6 514.2l242.4 12"/>
<path d="M429.6 429.7l7.3 3.2 6.9 3.3 7.3 3.8 6.8 3.8 6.9 4.2 6.9 4.4 6.9 4.7 7.3 5.3 14.5 11.4 15.8 13.7 16.6 15.3 32 30.9 13.7 13 14.6 13 13.7 11.5 8.1 6.2 8.1 5.9 8.1 5.5 8.1 5.1 8.1 4.7 8.1 4.3 8.1 4 8.5 3.8"/>
<path d="M429.6 476.8l29.1 9.8 32 11.3 97.5 36.3 31.6 11.5 27.1 9.5 25.1 8.4"/>
<path d="M429.6 566.3l25.1-8.9 27.1-10.1 31.6-12.2 67.5-26.9 29.6-11.6 32-12 29.5-10.5"/>
<path d="M429.6 450l15.4 7 15.4 7.7 15.7 8.6 16.2 9.4 13.8 8.4 15.4 9.8 65.5 43 16.2 10.1 15 9 13.7 7.7 13.8 7.3 13.3 6.5 13 5.9"/>
<path d="M429.6 442.9l13.8 6.5 13.3 6.9 13.8 7.8 13.7 8.5 15 9.9 15.8 11.1 17 12.4 47.7 35.9 15 10.7 13.8 9.4 16.6 10.6 15.7 9.3 15.4 8.1 15.8 7.5"/>
<path d="M429.6 565.6l29.1-10.2 32-11.8 30-11.6 67.5-26.5 31.6-12 27.1-10 25.1-8.7"/>
<path d="M429.6 437.3l8.1 3.7 8.1 4 8.1 4.3 7.7 4.3 15.8 9.8 16.5 11.4 13.8 10.2 15 11.9 46.5 38.7 17 13.8 15.8 12.1 15 10.6 13.7 9 13.8 8.2 13.7 7.3 13.8 6.5"/>
<path d="M429.6 402.7l11.7 1.5 10.2 1.9 9.3 2.4 8.5 3 8.1 3.7 7.2 4.3 6.9 5.1 6.5 5.8 6.9 7.3 6.4 8.2 6.5 9.4 6.5 10.8 6.1 11.1 6.4 12.9 6.9 14.6 17.8 38.8 5.7 11.7 4.8 9.5 6.1 11 6.1 10 5.6 8.3 6.1 7.7 3.7 4.2 3.6 3.7 3.6 3.5 4.1 3.4 4 3 4.1 2.6 4 2.4 4.5 2.3 4.4 1.9 4.9 1.9 5.2 1.6 5.3 1.5 11.3 2.2 13.4 1.8"/>
<path d="M429.6 603.7l8.1-3.7 8.1-4 8.1-4.3 7.7-4.4 7.7-4.6 8.1-5.2 16.5-11.4 13.8-10.4 15-11.9 46.5-39.2 16.6-13.5 15.8-12.3 15-10.8 14.1-9.3 13.8-8.2 13.7-7.3 13.8-6.5"/>
<path d="M429.6 424.6l8.5 3.6 8.5 4 8.5 4.5 8.1 4.7 8.1 5.2 8.1 5.7 8.1 6.2 8.1 6.7 13.3 11.9 14.6 14.3 13.3 13.9 31.6 33.7 16.2 16.5 7.7 7.4 7.7 7 7.2 6.4 7.3 5.9 6.9 5.3 6.9 4.9 6.9 4.5 7.3 4.5 7.2 4.1 7.3 3.7 7.3 3.4 7.7 3.2"/>
<path d="M429.6 417.4l9.3 3.5 9.3 4 8.5 4.3 8.5 4.9 8.1 5.3 8.1 5.9 8.1 6.6 8.1 7.3 6.5 6.3 6.4 6.7 6.9 7.5 7.3 8.3 12.9 15.7 30.4 38 8.1 9.7 7.3 8.4 7.7 8.4 7.2 7.5 7.3 7 7.3 6.5 6.9 5.5 7.3 5.4 6.9 4.7 7.2 4.4 7.3 3.9 7.7 3.7 7.7 3.2 8.1 3"/>
<path d="M429.6 463.3l25.5 10.6 27.1 12.2 31.6 15.3 66.7 33.9 29.6 14.5 16.6 7.9 15.3 6.9 15 6.4 15 6.1"/>
<path d="M429.6 443.3l13.8 6.4 13.3 6.9 13.8 7.8 13.7 8.5 15 9.8 15.8 11 17 12.4 47.7 35.6 15 10.7 13.8 9.4 16.6 10.5 15.7 9.2 15.4 8.2 15.8 7.4"/>
<path d="M429.6 492.3l51.4 11.6 130.3 30.4 60.7 13.8"/>
<path d="M429.6 408.3l10.5 2.7 10.1 3.3 9.4 3.8 8.9 4.6 8.5 5.3 8 6 8.1 7 7.7 7.7 6.1 6.8 6.5 7.9 6.4 8.6 6.9 9.9 12.2 18.8 27.5 44.8 7.7 11.8 6.8 9.9 7.3 9.8 6.9 8.4 6.9 7.6 7.3 7.2 6.8 5.9 6.9 5.2 7.3 4.7 7.7 4.3 7.7 3.6 8.5 3.2 8.5 2.7 9.3 2.3"/>
<path d="M429.6 562.1l29.1-9.5 32-11 97.5-34.8 31.6-11.1 27.1-9.2 25.1-8.2"/>
<path d="M429.6 480.9l29.1 8.9 32 10.3 129.5 43.2 26.7 8.5 25.1 7.7"/>
<path d="M429.6 622.3l8.1-3 7.7-3.3 7.7-3.7 7.3-4 7.2-4.4 6.9-4.6 7.3-5.4 6.9-5.6 7.3-6.4 7.3-6.9 7.2-7.5 7.7-8.3 15.4-17.8 30.4-37.4 12.9-15.5 7.3-8.2 6.9-7.4 6.8-7.1 6.5-6.2 8.1-7.2 8.1-6.5 8.1-5.9 8.1-5.3 8.5-4.9 8.5-4.3 8.9-3.9 9.3-3.5"/>
<path d="M429.6 444.8l15.4 7.2 15.8 8.3 15.7 9.1 16.2 10.1 13.8 9.1 15.4 10.7 47.7 34.6 17 12.1 16.2 11 15 9.6 13.7 8.3 13.8 7.6 13.3 6.9 13.4 6.2"/>
<path d="M429.6 441.9l15.8 7.5 15.4 8.2 15.7 9.3 16.6 10.8 13.8 9.5 15 11 47.7 36.4 17 12.7 15.8 11.3 15 10 13.7 8.5 13.8 7.9 13.3 7 13.8 6.5"/>
<path d="M429.6 613.3l7.3-3.1 7.3-3.4 7.3-3.8 6.8-3.9 7.3-4.4 6.9-4.5 6.9-4.8 6.9-5.1 7.2-5.8 7.3-6 7.7-6.8 8.1-7.5 16.2-15.7 32-32.5 13.3-13.2 14.6-13.7 13.7-11.9 8.1-6.5 8.1-6 8.1-5.6 8.1-5.2 8.1-4.7 8.1-4.3 8.5-4.1 8.5-3.7"/>
<path d="M429.6 558.2l25.1-7.5 26.7-8.2 129.5-41.6 32-10 29.1-8.7"/>
<path d="M429.6 436.7l8.1 3.7 8.1 4 8.1 4.3 7.7 4.4 7.7 4.6 8.1 5.2 16.5 11.4 13.8 10.4 15 11.9 46.5 39.2 16.6 13.5 15.8 12.3 15 10.8 14.1 9.3 13.8 8.2 13.7 7.3 13.8 6.5"/>
<path d="M429.6 520.2l242.4 0"/>
<path d="M429.6 588.1l13-5.9 13.3-6.4 13.4-6.9 13.7-7.5 15-8.6 16.6-9.9 65.5-41.2 15.4-9.3 13.8-8.1 16.6-9.4 15.7-8.3 15.4-7.5 15-6.8"/>
<path d="M429.6 633.8l11.3-2.5 10.2-3 9.7-3.8 8.9-4.3 8.5-5.2 8.1-5.9 8.1-7.1 7.6-7.9 6.1-7 6.1-7.8 6.5-9.1 6.4-9.8 11.8-19.3 27.1-47.3 7.3-11.9 6.8-10.5 7.3-10.3 6.9-8.7 6.9-7.9 6.9-6.8 6.8-6 6.9-5.2 7.3-4.7 7.7-4.1 8.1-3.5 8.5-3 8.9-2.5 9.7-2.1"/>
<path d="M429.6 445.7l15.4 7.2 15.8 8.2 15.7 9 16.2 10 13.8 9 15.4 10.5 47.7 34.1 17 11.9 16.2 10.8 15 9.5 13.7 8.2 13.8 7.6 13.3 6.8 13.4 6.2"/>
<path d="M429.6 403.3l11.3 1.6 10.2 2.1 8.9 2.5 8.5 3.1 7.6 3.7 7.3 4.4 6.9 5 6.9 6.1 6.9 7.3 6.4 8 6.5 9.2 6.5 10.4 6.1 10.7 6.8 13.2 6.9 13.9 18.6 38.9 5.7 11.2 5.3 9.9 6 10.6 6.1 9.6 5.7 8.1 6 7.6 7.3 7.8 3.7 3.4 4 3.4 4 3.1 4.1 2.7 4.4 2.6 4.5 2.4 4.4 2 4.9 1.9 4.9 1.6 5.2 1.5 11.3 2.5 12.6 1.8"/>
<path d="M429.6 519.1l242.4 2.2"/>
<path d="M429.6 440.7l13.8 6.5 13.3 7 13.8 8 13.7 8.6 15 10.2 16.2 11.8 16.6 12.6 47.3 37 15 11.2 13.8 9.7 16.5 10.9 15.8 9.5 15.8 8.5 15.8 7.5"/>
<path d="M429.6 441.8l15.8 7.5 15.4 8.2 15.7 9.3 16.6 10.8 13.8 9.6 15 10.9 47.7 36.6 17 12.7 15.8 11.3 15 10 13.7 8.6 13.8 7.9 13.3 6.9 13.8 6.5"/>
<path d="M429.6 481.5l29.1 8.8 32 10.2 129.5 42.4 26.7 8.4 25.1 7.6"/>
<path d="M429.6 465.3l15 6 15 6.2 15.3 6.7 16.6 7.6 29.6 13.9 66.7 32.5 31.6 14.7 27.1 11.9 25.5 10.3"/>
<path d="M429.6 463.9l25.5 10.5 27.1 12.1 31.6 15.2 66.7 33.4 29.6 14.4 16.6 7.7 15.3 6.9 15 6.4 15 6"/>
<path d="M429.6 561.9l29.1-9.5 32-10.9 97.5-34.7 31.6-11 27.1-9.1 25.1-8.2"/>
<path d="M429.6 401.2l15.4 1.2 12.5 1.8 5.7 1.1 5.3 1.4 4.8 1.5 4.5 1.7 4.4 2 4.1 2.1 4 2.5 4.1 2.9 4 3.3 3.6 3.5 3.7 3.9 3.2 3.9 5.7 7.7 5.2 8.4 5.7 10.4 5.7 11.7 4.8 11 4.9 11.7 16.6 42.5 6 15 6.1 14 5.7 11.9 6.1 11.3 6 9.7 3.3 4.5 3.2 4.1 3.2 3.8 3.3 3.3 3.2 3 3.2 2.7 6.5 4.5 3.7 2.1 3.6 1.8 8.1 3.3 8.9 2.5 9.7 1.9 11.3 1.4 13.4 1"/>
<path d="M429.6 449l15.4 7.1 15.4 7.7 15.7 8.7 16.6 9.8 13.8 8.6 15.4 9.9 48.1 32.3 17 11.2 16.2 10.3 15 9.1 13.7 7.8 13.8 7.4 13.3 6.6 13 5.9"/>
<path d="M429.6 404.4l12.1 2.1 11 2.7 9.7 3.3 4.8 2.1 4.5 2.1 4.4 2.5 4.1 2.4 4 2.8 4.1 3.1 7.7 6.7 7.7 8.1 6 7.4 6.1 8.3 6.1 9.2 6.4 10.7 5.3 9.3 6.1 11.3 25.9 50.2 6.8 12.4 6.5 10.8 6.9 10.5 6.5 8.8 6.9 8.3 6.8 7.1 6.9 6 6.9 5.1 7.3 4.5 7.7 3.8 8.1 3.2 8.9 2.8 9.7 2.2 10.5 1.8"/>
<path d="M429.6 557l29.1-8.5 32-9.6 129.5-40.2 26.7-8 25.1-7.3"/>
<path d="M429.6 495.6l60.7 12.2 130.3 26.7 51.4 10.3"/>
<path d="M429.6 413.5l8.5 2.8 8.1 3.1 7.7 3.5 7.7 3.9 7.3 4.4 7.2 4.9 6.9 5.1 6.9 5.8 6.9 6.3 7.3 7.4 7.2 8 7.7 9.1 7.3 9.1 7.7 10.2 29.5 40.8 12.6 16.6 6.9 8.6 6.8 8.2 6.5 7.1 6.5 6.7 7.7 7.2 8.1 6.9 8.1 6 8.5 5.5 8.5 4.8 8.9 4.3 9.3 3.7 10.1 3.4"/>
<path d="M429.6 585.4l15-6.6 15.4-7.3 15.7-8.1 16.2-8.7 29.6-16.9 65.9-39.4 16.2-9.3 15-8.2 13.7-7.3 13.4-6.6 13.3-6.3 13-5.7"/>
<path d="M429.6 595.8l15.4-7.2 15.8-8.3 15.7-9.1 16.6-10.4 13.8-9.1 15-10.5 47.7-34.7 17-12.2 16.2-11 15-9.7 13.7-8.3 13.8-7.6 13.3-6.9 13.4-6.2"/>
<path d="M429.6 446.6l15.4 7.2 15.4 7.9 15.7 8.9 16.6 10.1 13.8 8.9 15.4 10.4 47.7 33.4 17 11.7 16.2 10.7 15 9.4 13.7 8.1 13.8 7.5 13.3 6.8 13.4 6.2"/>
<path d="M429.6 624.9l8.1-2.8 8.1-3.3 7.7-3.6 7.3-3.8 7.3-4.4 7.2-4.9 6.9-5.1 6.9-5.7 7.3-6.6 7.3-7.1 7.2-7.8 7.7-8.7 7.3-8.7 8.1-10.2 30-39.3 12.5-15.8 7.3-8.8 6.9-7.7 6.4-6.9 6.5-6.5 8.1-7.4 8.1-6.7 8.1-5.9 8.1-5.3 8.5-4.9 8.9-4.3 8.9-3.8 9.7-3.4"/>
<path d="M429.6 404.8l10.5 2 9.3 2.2 8.9 2.9 8.1 3.3 7.7 3.9 7.3 4.5 6.9 5.1 6.9 6.1 6.8 7.1 6.9 8.1 6.5 8.7 6.9 10.3 6.4 10.6 7.3 12.8 26.3 49.7 11.4 20.1 6.4 10.5 6.1 9 6.1 8.2 6 7.3 7.7 8 7.7 6.8 4.1 3.1 4 2.8 4.1 2.5 4.4 2.4 4.5 2.2 4.8 2.1 9.7 3.4 11 2.9 11.7 2.2"/>
<path d="M429.6 424.9l8.5 3.6 8.5 4 8.5 4.5 8.1 4.8 8.1 5.2 8.1 5.7 8.1 6.1 8.1 6.7 13.3 11.9 14.6 14.2 13.3 13.8 31.6 33.5 16.2 16.4 8.1 7.7 7.7 7 7.3 6.3 7.2 5.9 6.9 5.2 6.9 4.9 6.9 4.5 7.3 4.5 6.8 3.8 7.3 3.8 7.3 3.4 7.7 3.2"/>
<path d="M429.6 452.5l15 6.8 15.4 7.5 15.7 8.3 16.6 9.3 13.8 8.1 15.4 9.3 65.5 41 16.6 9.9 15 8.6 13.7 7.5 13.4 6.8 13.3 6.5 13 5.8"/>
<path d="M429.6 427.7l8.5 3.7 8.5 4.2 8.1 4.3 8.1 4.7 8.1 5.2 8.1 5.6 8.1 6 8.1 6.4 13.3 11.4 14.6 13.5 13.7 13.5 32 32 16.2 15.6 15.8 14.1 7.3 6 7.2 5.8 7.3 5.3 6.9 4.8 6.9 4.5 6.9 4.1 6.8 3.9 7.3 3.8 7.3 3.4 7.3 3.2"/>
<path d="M429.6 562.9l29.1-9.7 32-11.1 97.5-35.6 31.6-11.3 27.1-9.4 25.1-8.3"/>
<path d="M429.6 565.6l29.1-10.2 32-11.8 30-11.6 67.5-26.5 31.6-12 27.1-9.9 25.1-8.8"/>
<path d="M429.6 421l8.9 3.5 8.9 4.1 8.5 4.4 8.1 4.7 8.1 5.3 8.1 5.8 8.1 6.4 8.1 7 6.4 5.9 6.9 6.7 14.2 14.8 13.3 14.9 31.2 36 15.4 16.8 7.7 7.9 7.7 7.5 7.2 6.6 7.3 6.2 6.9 5.5 7.3 5.3 6.9 4.6 7.2 4.4 7.3 4 7.3 3.7 7.7 3.4 7.7 3"/>
<path d="M429.6 417.6l9.3 3.5 9.3 4 8.5 4.3 8.5 4.9 8.1 5.3 8.1 6 8.1 6.6 8.1 7.2 6.5 6.3 6.4 6.7 6.9 7.4 7.3 8.4 12.9 15.6 30.4 37.8 15.4 18.1 7.7 8.3 7.2 7.5 7.3 7 7.3 6.4 6.9 5.6 7.3 5.4 6.9 4.6 7.2 4.4 7.3 4 7.7 3.7 7.7 3.2 8.1 3"/>
<path d="M429.6 458.4l15 6.4 15.4 7.1 15.7 7.6 16.2 8.3 29.6 16 65.9 36.8 16.6 9 15 7.8 13.7 6.9 13.4 6.3 12.9 5.9 13 5.5"/>
<path d="M429.6 474.3l29.1 10.3 32 12 30 11.6 67.5 26.8 31.6 12.2 27.1 10.1 25.1 8.8"/>
<path d="M429.6 523.7l242.4-7"/>
<path d="M429.6 408l9.3 2.3 8.9 2.8 8.5 3.2 7.7 3.6 7.7 4.3 7.3 4.7 6.9 5.3 6.8 5.9 7.3 7.2 6.9 7.7 6.9 8.5 7.3 9.8 6.8 10.1 7.3 11.3 27.5 45.2 12.2 18.9 6.5 9.4 6.4 8.7 6.5 8 6.1 6.9 7.7 7.7 8 7.1 8.1 6 8.5 5.3 8.9 4.5 9.3 3.9 10.2 3.3 10.9 2.8"/>
<path d="M429.6 604l8.1-3.7 8.1-4 8.1-4.3 7.7-4.3 7.7-4.7 8.1-5.2 8.1-5.4 8.4-6.1 13.8-10.4 15-12 46.5-39.4 16.6-13.6 15.8-12.3 15-10.9 13.7-9.1 13.8-8.2 13.7-7.4 14.2-6.6"/>
<path d="M429.6 556.1l51.8-14.9 129.5-39.2 32-9.4 29.1-8.3"/>
<path d="M429.6 523.3l242.4-6.2"/>
<path d="M429.6 606.2l14.2-6.6 13.7-7.4 13.8-8.3 13.7-9.3 15-11.2 15.8-12.7 16.6-14.2 32.8-29.1 13.7-11.9 14.6-12.1 13.7-10.8 8.1-5.9 8.1-5.6 8.1-5.3 8.1-5 8.1-4.7 8.1-4.3 8.1-4 8.1-3.6"/>
<path d="M429.6 594.5l15.4-7.2 15.8-8.2 15.7-9 16.2-9.9 13.8-9 15.4-10.5 47.7-33.9 17-11.8 16.2-10.9 15-9.4 13.7-8.2 13.8-7.6 13.3-6.8 13.4-6.2"/>
<path d="M429.6 571.7l25.5-9.8 27.1-11.2 31.6-13.8 67.1-30.3 29.6-13.1 32-13.3 29.5-11.5"/>
<path d="M429.6 415.2l9.7 3.4 8.9 3.7 8.9 4.4 8.5 4.8 8.1 5.3 8.1 5.9 8.1 6.7 8.1 7.4 6.5 6.5 6.4 7 6.9 7.8 7.3 8.7 12.5 16 30 39.5 8.1 10.3 7.3 8.8 7.7 8.7 7.2 7.8 7.3 7.2 6.9 6.2 6.9 5.7 6.9 5.2 7.2 4.9 7.3 4.4 7.7 4.1 7.7 3.5 8.1 3.3 8.1 2.8"/>
<path d="M429.6 403.9l10.9 1.7 9.7 2.1 8.9 2.7 8.5 3.2 7.7 3.8 7.3 4.5 6.9 5 6.9 6.1 6.9 7.2 6.4 7.9 6.5 8.9 6.9 10.8 6.5 11.1 6.8 12.7 25.5 50.9 5.7 10.9 5.3 9.6 6 10.3 6.1 9.5 6.1 8.5 6 7.5 3.7 4.1 4 4.1 3.7 3.4 4 3.4 4.1 3.1 4 2.7 4 2.5 4.5 2.4 4.4 2.1 4.9 2 4.9 1.7 5.2 1.6 10.9 2.6 12.6 2"/>
<path d="M429.6 443l13.8 6.5 13.3 6.9 13.8 7.8 13.7 8.5 15 9.9 15.8 11 17 12.5 47.7 35.7 15 10.7 13.8 9.4 16.6 10.6 15.7 9.3 15.4 8.1 15.8 7.5"/>
<path d="M429.6 610.6l8.5-3.8 8.1-4 8.1-4.3 8.1-4.7 8.1-5.1 8.1-5.5 8.1-5.9 8.1-6.2 13.7-11.5 14.6-13 13.7-12.9 32-30.8 16.6-15.4 15.8-13.6 14.5-11.4 7.3-5.3 6.9-4.7 6.9-4.4 6.9-4.1 6.8-3.9 7.3-3.7 6.9-3.3 7.3-3.3"/>
<path d="M429.6 530l242.4-19.6"/>
<path d="M429.6 481.6l29.1 8.8 32 10.1 129.5 42.4 26.7 8.3 25.1 7.6"/>
<path d="M429.6 494.6l60.7 12.7 130.3 27.8 51.4 10.7"/>
<path d="M429.6 505.1l242.4 30.2"/>
<path d="M429.6 433.5l8.1 3.7 8.1 4 8.1 4.3 8.1 4.6 8.1 5 8.1 5.4 8.1 5.6 8.1 6 13.7 10.9 14.6 12.2 13.7 12.1 32.8 29.4 16.2 14 15.8 12.9 14.9 11.2 14.2 9.7 13.8 8.4 13.7 7.4 14.2 6.6"/>
<path d="M429.6 622.6l9.3-3.5 8.9-3.9 8.5-4.3 8.5-4.9 8.1-5.3 8.1-5.9 8.1-6.5 8.1-7.2 6.5-6.3 6.8-7 6.9-7.5 7.3-8.2 12.9-15.6 30.4-37.6 15.4-17.9 7.7-8.4 7.2-7.4 7.3-7 7.3-6.4 6.9-5.6 7.3-5.4 6.9-4.6 7.2-4.4 7.3-4 7.7-3.7 7.7-3.3 8.1-3"/>
<path d="M429.6 526.6l242.4-12.8"/>
<path d="M429.6 451.9l15.4 6.9 15.4 7.6 15.7 8.4 16.2 9.1 13.8 8.2 15.4 9.5 65.5 41.5 16.2 9.8 15 8.7 14.1 7.7 13.4 6.9 13.3 6.5 13 5.8"/>
<path d="M429.6 424.4l8.9 3.8 8.5 4 8.5 4.5 8.1 4.8 8.1 5.2 8.1 5.8 8.1 6.2 8.1 6.7 13.3 12 14.6 14.3 13.3 13.9 31.2 33.4 16.2 16.6 7.7 7.4 7.7 7.1 7.2 6.3 7.3 6 6.9 5.2 6.9 5 6.9 4.5 7.3 4.5 7.2 4.1 7.3 3.7 7.3 3.3 7.7 3.3"/>
<path d="M429.6 446.7l15.4 7.2 15.4 7.9 15.7 8.9 16.6 10.1 13.8 8.9 15.4 10.3 47.7 33.4 17 11.7 16.2 10.7 15 9.3 13.7 8.1 13.8 7.5 13.3 6.8 13.4 6.2"/>
<path d="M429.6 466.8l14.6 5.7 14.9 6.1 32 13.8 29.6 13.6 67.1 31.6 31.6 14.3 27.1 11.6 25.5 10.1"/>
<path d="M429.6 480.7l29.1 9.1 32 10.3 97.5 32.7 32 10.6 26.7 8.5 25.1 7.8"/>
<path d="M429.6 534.9l242.4-29.4"/>
<path d="M429.6 460.5l15 6.3 15 6.6 15.7 7.5 16.2 8 29.6 15.3 66.3 35.6 31.6 16.2 13.7 6.6 13.4 6.2 12.9 5.7 13 5.4"/>
<path d="M429.6 486.3l28.7 7.8 32 8.8 129.9 37.1 51.8 14.1"/>
<path d="M429.6 538l242.4-35.6"/>
<path d="M429.6 410.6l8.9 2.5 8.5 3 8.1 3.4 7.7 3.8 7.3 4.2 7.3 4.8 6.8 5.2 6.9 5.9 7.3 6.9 6.9 7.3 7.3 8.5 7.2 9.2 6.9 9.3 7.7 11 28.7 43.3 12.6 18 6.9 9.3 6.4 8.1 6.5 7.6 6.1 6.5 7.7 7.5 8.1 7 8.1 6.1 8.5 5.4 8.5 4.6 9.3 4.2 9.7 3.6 10.5 3"/>
<path d="M429.6 410.8l8.9 2.6 8.5 3 8.1 3.4 7.7 3.8 7.3 4.3 7.3 4.8 6.8 5.2 6.9 5.9 7.3 6.9 6.9 7.3 7.3 8.5 7.2 9.1 6.9 9.3 7.7 10.9 28.7 42.9 12.6 17.9 6.9 9.2 6.4 8.1 6.5 7.6 6.5 6.9 7.7 7.5 8.1 6.9 8.1 6 8.5 5.4 8.5 4.6 9.3 4.2 9.7 3.6 10.1 3"/>
<path d="M429.6 502.2l242.4 36"/>
<path d="M429.6 427.4l8.5 3.7 8.5 4.1 8.1 4.3 8.1 4.7 8.1 5.2 8.1 5.6 8.1 6 8.1 6.5 13.3 11.4 14.6 13.6 13.7 13.6 32 32.3 16.2 15.6 15.8 14.2 7.3 6.1 7.2 5.7 6.9 5.1 6.9 4.8 6.9 4.5 7.3 4.4 6.8 3.9 7.3 3.7 7.3 3.5 7.3 3.1"/>
<path d="M429.6 410.5l10.5 3.1 9.7 3.5 9.3 4.2 8.5 4.6 8.5 5.4 8.1 6.1 8.1 7 7.7 7.5 6.1 6.5 6.5 7.6 6.4 8.2 6.9 9.2 12.6 18.1 28.7 43.4 7.7 11 6.9 9.3 7.2 9.2 7.3 8.5 6.9 7.3 7.3 6.9 6.9 5.9 6.8 5.2 7.3 4.8 7.3 4.2 7.7 3.8 8.1 3.4 8.5 2.9 8.9 2.6"/>
<path d="M429.6 446.1l13.4 6.2 13.3 6.8 13.8 7.5 13.7 8.2 15 9.4 16.2 10.8 17 11.8 47.7 33.8 15.4 10.5 13.8 9 16.2 9.9 15.7 8.9 15.8 8.2 15.4 7.2"/>
<path d="M429.6 455.8l13 5.7 13.3 6.2 13.4 6.6 13.7 7.2 15 8.1 16.2 9.1 65.9 38.8 29.6 16.7 16.2 8.6 15.7 7.9 15.4 7.3 15 6.6"/>
<path d="M429.6 432.7l8.1 3.6 8.1 4 8.1 4.3 8.1 4.7 8.1 5 8.1 5.4 8.1 5.7 8.1 6 13.7 11 14.6 12.4 13.7 12.3 32.8 29.9 16.2 14.2 15.8 13 14.9 11.4 14.2 9.7 13.8 8.4 13.7 7.4 14.2 6.6"/>
<path d="M429.6 610l8.5-3.8 8.1-3.9 8.1-4.4 8.1-4.7 8.1-5.1 8.1-5.4 8.1-5.9 8.1-6.2 13.7-11.3 14.6-13 13.7-12.8 32-30.4 16.6-15.2 15.8-13.5 14.5-11.4 14.2-9.9 13.8-8.6 6.8-3.8 7.3-3.8 6.9-3.3 7.3-3.2"/>
<path d="M429.6 598.1l13.8-6.5 13.3-6.9 13.8-7.9 13.7-8.5 15-10 15.8-11.2 17-12.6 47.7-36.2 15-10.8 13.8-9.5 16.6-10.7 15.7-9.3 15.4-8.2 15.8-7.5"/>
<path d="M429.6 431.2l8.5 3.8 8.1 4 8.1 4.3 8.1 4.7 8.1 5.1 8.1 5.4 8.1 5.8 8.1 6.2 13.7 11.2 14.6 12.7 13.7 12.7 32 30 16.6 15 15.8 13.3 14.5 11.3 14.2 9.8 13.8 8.5 6.8 3.9 7.3 3.8 14.2 6.5"/>
<path d="M429.6 445l15.4 7.2 15.8 8.2 15.7 9.1 16.2 10.1 13.8 9.1 15.4 10.6 47.7 34.5 17 12.1 16.2 11 15 9.6 13.7 8.2 13.8 7.7 13.3 6.8 13.4 6.2"/>
<path d="M429.6 407.7l9.3 2.2 8.9 2.7 8.5 3.2 7.7 3.6 7.7 4.2 7.3 4.7 6.9 5.2 6.8 5.9 7.3 7.3 6.9 7.6 6.9 8.6 7.3 9.9 6.8 10.2 7.3 11.4 27.5 45.7 12.2 19.2 6.5 9.4 6.4 8.8 6.5 8.1 6.1 6.8 7.7 7.8 8 7 8.1 6 8.5 5.3 8.9 4.5 9.3 3.8 10.2 3.2 10.9 2.7"/>
<path d="M429.6 513.5l242.4 13.4"/>
<path d="M429.6 412.2l8.9 2.7 8.1 3 7.7 3.4 7.7 3.9 7.3 4.2 7.2 4.9 7.3 5.5 6.9 5.9 6.9 6.4 7.3 7.6 7.3 8.2 7.2 8.9 7.3 9.4 7.7 10.5 29.1 41.8 12.6 17.3 6.9 8.9 6.4 7.8 6.5 7.4 6.5 6.8 7.7 7.3 8.1 6.9 8.1 6 8.5 5.5 8.9 4.9 8.9 4.2 9.3 3.5 10.1 3.2"/>
<path d="M429.6 413l8.9 2.8 8.1 3.1 7.7 3.5 7.7 3.9 7.3 4.3 7.2 4.9 6.9 5.2 6.9 5.8 6.9 6.4 7.3 7.5 7.3 8.1 7.6 9.2 7.3 9.3 7.7 10.3 29.1 40.8 12.6 16.9 6.9 8.7 6.8 8.2 6.5 7.3 6.5 6.7 7.7 7.2 8.1 6.9 8.1 6 8.5 5.5 8.5 4.7 8.9 4.2 9.3 3.7 10.1 3.3"/>
<path d="M429.6 402.6l11.7 1.5 10.2 1.8 9.3 2.4 8.5 3 8.1 3.7 7.2 4.3 6.9 5 6.5 5.7 6.9 7.3 6.4 8.2 6.5 9.5 6.5 10.7 6.1 11.3 6.4 12.9 6.9 14.7 17.8 39 5.7 11.8 4.8 9.6 6.1 11.1 6.1 10 5.6 8.2 6.1 7.8 3.7 4.1 3.6 3.8 3.6 3.4 4.1 3.4 4 3 4.1 2.6 4 2.4 4.5 2.2 4.4 2 4.9 1.8 4.8 1.5 5.3 1.4 11.7 2.3 13.4 1.8"/>
<path d="M429.6 545.2l60.7-12.4 130.3-27.2 51.4-10.4"/>
<path d="M429.6 498.3l242.4 43.8"/>
<path d="M429.6 444.6l15.4 7.2 15.8 8.3 15.7 9.1 16.6 10.4 13.8 9.1 15 10.5 47.7 34.7 17 12.2 16.2 11 15 9.7 13.7 8.3 13.8 7.7 13.3 6.8 13.4 6.2"/>
<path d="M429.6 445.1l13.4 6.3 13.3 6.8 13.8 7.6 13.7 8.3 15 9.5 16.2 11 17 12 47.7 34.4 15.4 10.6 13.8 9.1 16.2 10.1 15.7 9 15.8 8.2 15.4 7.3"/>
<path d="M429.6 563.9l25.1-8.4 27.1-9.6 31.6-11.6 67.5-25.5 30-11.1 32-11.4 29.1-9.8"/>
<path d="M429.6 520.6l242.4-.8"/>
<path d="M429.6 588.9l15.4-7 15.4-7.6 15.7-8.4 16.2-9.2 13.8-8.2 15.4-9.6 65.5-41.7 16.2-9.9 15-8.7 14.1-7.8 13.4-6.9 13.3-6.5 13-5.9"/>
<path d="M429.6 401.4l14.6 1.3 12.5 1.8 5.7 1.2 5.2 1.4 4.9 1.6 4.5 1.7 4.4 2.1 4.1 2.1 4 2.5 4 2.9 3.7 3 3.6 3.4 3.7 3.8 3.6 4.3 5.7 7.6 5.6 8.9 5.7 10.2 5.7 11.4 4.8 10.7 5.3 12.3 16.6 41.3 6 14.6 6.1 13.7 6.1 12.5 6.1 11 6 9.6 6.5 8.6 3.2 3.7 3.3 3.4 6.4 5.7 3.3 2.4 3.6 2.5 7.3 3.9 8.1 3.3 8.5 2.6 9.7 2 11.3 1.5 13 1.1"/>
<path d="M429.6 470.4l29.5 11.2 32 12.9 29.6 12.6 67.5 29.4 31.6 13.2 27.1 10.9 25.1 9.4"/>
<path d="M429.6 465.5l25.5 10.3 27.1 11.9 31.6 14.6 66.7 32.3 29.6 13.9 16.6 7.5 15.3 6.7 15 6.2 15 6"/>
<path d="M429.6 525.2l242.4-10"/>
<path d="M429.6 462.6l15 6.1 15 6.6 15.3 7 16.6 7.9 29.6 14.7 66.3 34.1 31.6 15.5 27.1 12.4 12.9 5.6 13 5.3"/>
<path d="M429.6 420.2l7.7 2.9 7.7 3.4 7.7 3.8 7.3 4 7.2 4.5 6.9 4.6 6.9 5.1 6.9 5.4 7.3 6.3 7.2 6.7 7.7 7.5 7.7 8 15.8 17.6 30.8 36.2 12.9 14.7 14.2 15.1 6.8 6.7 6.5 6.1 8.1 7 8.1 6.4 8.1 5.9 8.1 5.3 8.5 4.9 8.5 4.4 8.9 4 8.9 3.5"/>
<path d="M429.6 495.6l60.7 12.2 130.3 26.7 51.4 10.3"/>
<path d="M429.6 467.2l14.6 5.6 14.9 6.1 32 13.7 29.6 13.5 67.1 31.4 31.6 14.2 27.1 11.5 25.5 10"/>
<path d="M429.6 401.8l12.6 1.2 10.5 1.6 9.7 2.2 8.5 2.7 8.1 3.5 7.3 4 6.8 4.9 6.5 5.8 6.5 6.9 6.5 8.4 6 9.2 6.5 11.3 6.1 12 6.4 13.9 6.1 14 17.4 41.2 5.3 11.7 4.8 10.3 6.1 11.8 5.7 9.8 5.6 8.6 5.7 7.5 3.6 4.2 3.7 3.8 3.6 3.5 3.7 3 4 3 4.1 2.6 4 2.2 4.5 2.2 4.8 2 4.9 1.6 5.2 1.5 5.3 1.2 12.1 2 14.2 1.5"/>
<path d="M429.6 416.2l9.7 3.5 8.9 3.8 8.9 4.4 8.5 4.9 8.1 5.2 8.1 6 8.1 6.7 8.1 7.4 6.5 6.4 6.4 6.8 6.9 7.7 7.3 8.6 12.5 15.6 30 38.6 8.1 10 7.3 8.7 7.7 8.6 7.2 7.7 7.3 7.1 7.3 6.5 6.9 5.7 7.3 5.4 6.8 4.6 7.3 4.4 7.3 3.9 7.7 3.6 8.1 3.4 8.1 2.8"/>
</g>
</g>
<path d="M430.5 472.1 436.5 474.2 442.5 476.4 448.5 478.7 454.6 480.9 460.6 483.2 466.6 485.5 472.6 487.9 478.6 490.3 484.6 492.7 490.6 495.1 496.7 497.5 502.7 500.0 508.7 502.5 514.7 505.0 520.7 507.5 526.7 510.0 532.8 512.6 538.8 515.1 544.8 517.7 550.8 520.2 556.8 522.7 562.8 525.3 568.8 527.8 574.9 530.4 580.9 532.9 586.9 535.4 592.9 537.9 598.9 540.4 604.9 542.9 611.0 545.3 617.0 547.7 623.0 550.1 629.0 552.5 635.0 554.9 641.0 557.2 647.0 559.5 653.1 561.7 659.1 564.0 665.1 566.2 671.1 568.3" stroke="#000" stroke-width="1.9" fill="none"/>
<g opacity="0.999">
<text transform="matrix(0.23509,0,0,0.24576,0.36,13.06)" font-size="100" font-weight="bold" stroke="#000" stroke-width="4.2" stroke-linejoin="round">a</text>
<text transform="matrix(0.28148,0,0,0.25195,-0.51,382.70)" font-size="100" font-weight="bold" stroke="#000" stroke-width="4.2" stroke-linejoin="round">b</text>
<text transform="matrix(0.26415,0,0,0.24407,380.57,382.67)" font-size="100" font-weight="bold" stroke="#000" stroke-width="4.2" stroke-linejoin="round">c</text>
<text transform="matrix(0.15417,0,0,0.15849,83.13,40.70)" font-size="100" font-style="italic">w</text>
<text transform="matrix(0.13230,0,0,0.11081,96.04,46.49)" font-size="100">Others</text>
<text transform="matrix(0.17830,0,0,0.17553,82.97,70.91)" font-size="100">P(change)</text>
<text transform="matrix(0.22955,0,0,0.19315,348.09,70.10)" font-size="100">b</text>
<text transform="matrix(0.21395,0,0,0.17091,499.74,67.33)" font-size="100">c</text>
<text transform="matrix(0.18292,0,0,0.16596,324.93,338.81)" font-size="100">Time steps</text>
<text transform="matrix(0.18594,0,0,0.18356,99.51,709.00)" font-size="100">Frequency of behaviour A</text>
<text transform="matrix(0.18594,0,0,0.18356,444.11,709.00)" font-size="100">Frequency of behaviour A</text>
<text transform="matrix(0.16718,0,0,0.14507,6.53,38.05)" font-size="100">0.3</text>
<text transform="matrix(0.16308,0,0,0.14507,7.25,98.05)" font-size="100">0.2</text>
<text transform="matrix(0.14615,0,0,0.14507,9.52,158.05)" font-size="100">0.1</text>
<text transform="matrix(0.17292,0,0,0.14507,20.11,218.05)" font-size="100">0</text>
<text transform="matrix(0.14118,0,0,0.14507,1.99,278.05)" font-size="100">−0.1</text>
<text transform="matrix(0.18750,0,0,0.15211,62.05,310.25)" font-size="100">0</text>
<text transform="matrix(0.16710,0,0,0.15211,354.56,310.25)" font-size="100">100</text>
<text transform="matrix(0.17468,0,0,0.15211,656.73,310.25)" font-size="100">200</text>
<text transform="matrix(0.18542,0,0,0.14507,49.16,645.45)" font-size="100">0</text>
<text transform="matrix(0.18542,0,0,0.14507,393.76,645.45)" font-size="100">0</text>
<text transform="matrix(0.16846,0,0,0.14507,36.23,597.45)" font-size="100">0.2</text>
<text transform="matrix(0.16846,0,0,0.14507,380.83,597.45)" font-size="100">0.2</text>
<text transform="matrix(0.16591,0,0,0.14507,36.24,549.45)" font-size="100">0.4</text>
<text transform="matrix(0.16591,0,0,0.14507,380.84,549.45)" font-size="100">0.4</text>
<text transform="matrix(0.16718,0,0,0.14507,36.23,501.45)" font-size="100">0.6</text>
<text transform="matrix(0.16718,0,0,0.14507,380.83,501.45)" font-size="100">0.6</text>
<text transform="matrix(0.16489,0,0,0.14507,36.54,453.45)" font-size="100">0.8</text>
<text transform="matrix(0.16489,0,0,0.14507,381.14,453.45)" font-size="100">0.8</text>
<text transform="matrix(0.14882,0,0,0.14507,38.71,405.45)" font-size="100">1.0</text>
<text transform="matrix(0.14882,0,0,0.14507,383.31,405.45)" font-size="100">1.0</text>
<text transform="matrix(0.17917,0,0,0.14789,80.88,677.75)" font-size="100">0</text>
<text transform="matrix(0.17917,0,0,0.14789,425.48,677.75)" font-size="100">0</text>
<text transform="matrix(0.16538,0,0,0.14789,122.14,677.75)" font-size="100">0.2</text>
<text transform="matrix(0.16538,0,0,0.14789,466.74,677.75)" font-size="100">0.2</text>
<text transform="matrix(0.17273,0,0,0.14789,170.11,677.75)" font-size="100">0.4</text>
<text transform="matrix(0.17273,0,0,0.14789,514.71,677.75)" font-size="100">0.4</text>
<text transform="matrix(0.17099,0,0,0.14789,218.52,677.75)" font-size="100">0.6</text>
<text transform="matrix(0.17099,0,0,0.14789,563.12,677.75)" font-size="100">0.6</text>
<text transform="matrix(0.16641,0,0,0.14789,266.53,677.75)" font-size="100">0.8</text>
<text transform="matrix(0.16641,0,0,0.14789,611.13,677.75)" font-size="100">0.8</text>
<text transform="matrix(0.15984,0,0,0.14789,314.32,677.75)" font-size="100">1.0</text>
<text transform="matrix(0.15984,0,0,0.14789,658.92,677.75)" font-size="100">1.0</text>
<text transform="translate(4.5,536.2) rotate(-90) matrix(0.16021,0,0,0.17660,-0.48,12.89)" font-size="100"><tspan font-style="italic">P</tspan>(A)</text>
</g>
</svg>
</body></html>
